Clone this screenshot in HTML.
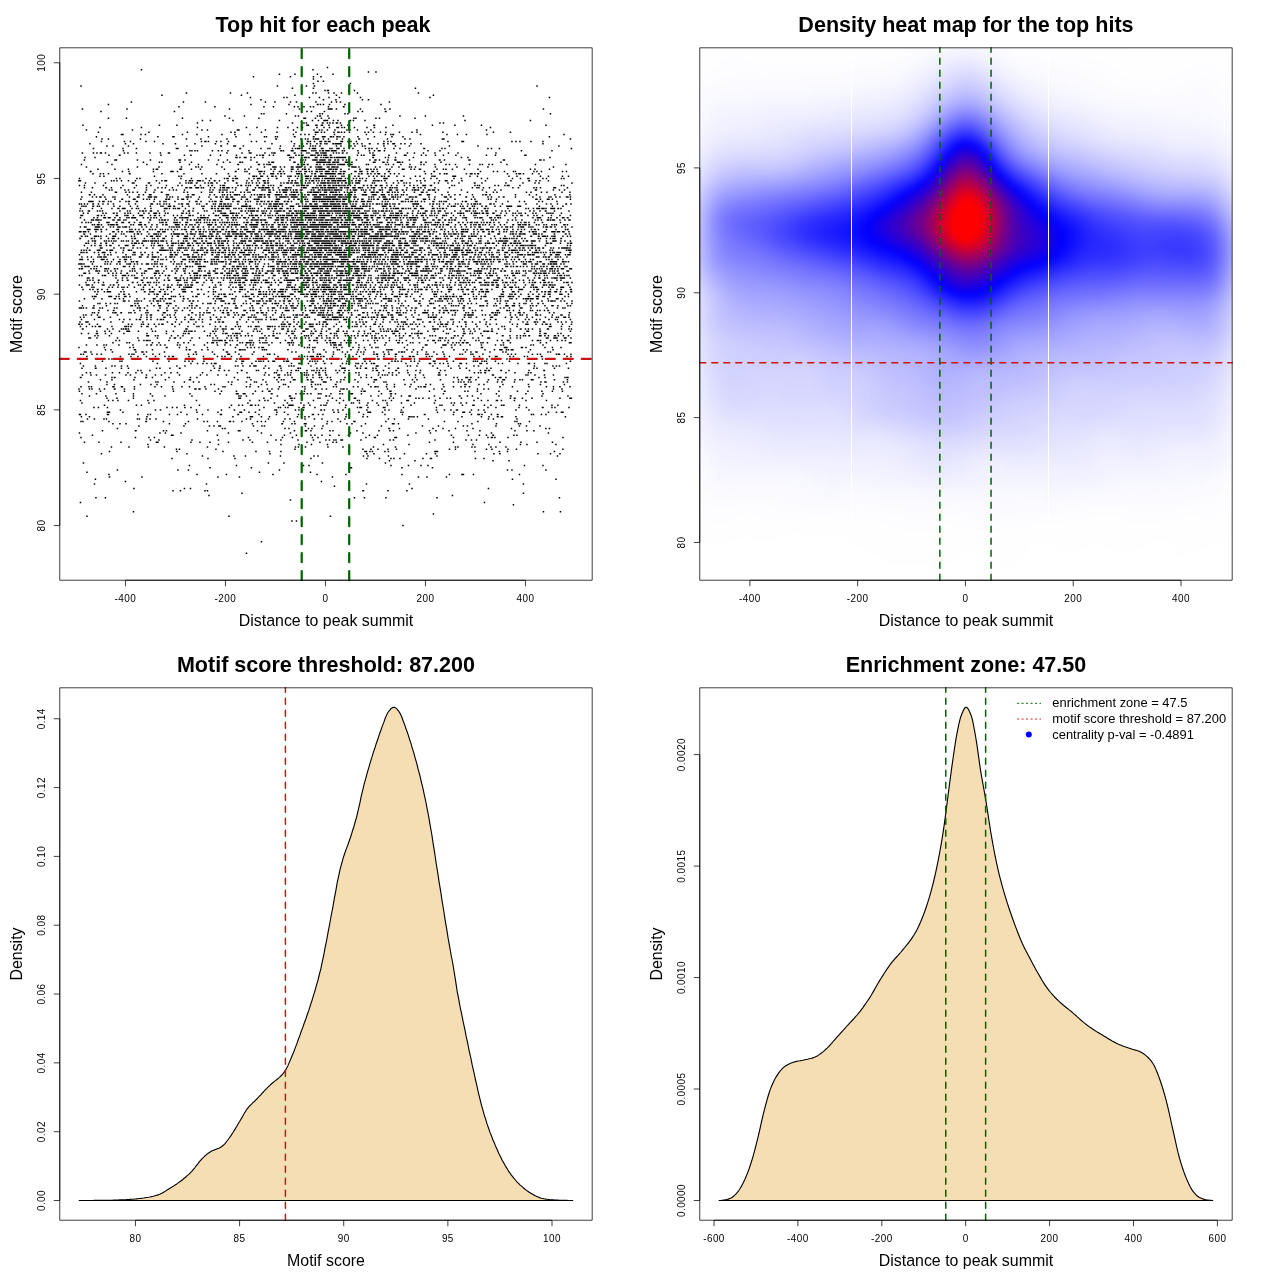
<!DOCTYPE html>
<html lang="en"><head><meta charset="utf-8"><title>Motif enrichment plots</title>
<style>
html,body{margin:0;padding:0;background:#fff}
#page{position:relative;width:1280px;height:1280px;overflow:hidden;background:#fff;font-family:"Liberation Sans", sans-serif}
#heat{position:absolute;left:699.76px;top:47.81px;width:532.43px;height:532.43px;overflow:hidden}
#heat div{position:absolute;left:-8px;top:-8px;width:548.43px;filter:blur(2px)}
#heat i{display:block;height:4px}
svg{position:absolute;left:0;top:0}
svg text{font-family:"Liberation Sans", sans-serif;white-space:pre}
</style></head><body>
<div id="page">
<div id="heat"><div><i style="background:linear-gradient(90deg,#ffffff,#ffffff,#fefeff,#fefeff,#fefeff,#fefeff,#fefeff,#fefeff,#fefeff,#fefeff,#fefeff,#fefeff,#fefeff,#fefeff,#fefeff,#fefeff,#ffffff,#ffffff,#ffffff,#ffffff,#ffffff,#fefeff,#fefeff,#fefeff,#fefeff,#fefeff,#fefeff,#fdfdff,#fdfdff,#fcfcff,#fbfbff,#fafaff,#f9f9ff,#f8f8ff,#f7f7ff,#f6f6ff,#f6f6ff,#f7f7ff,#f9f9ff,#fafaff,#fcfcff,#fdfdff,#fdfdff,#fdfdff,#fefeff,#fefeff,#fefeff,#fefeff,#fefeff,#fefeff,#fefeff,#fefeff,#fefeff,#fefeff,#ffffff,#ffffff,#ffffff,#ffffff,#ffffff,#ffffff,#ffffff,#ffffff,#ffffff,#ffffff,#ffffff,#ffffff,#ffffff,#fefeff,#fefeff,#ffffff,#ffffff,#ffffff)"></i><i style="background:linear-gradient(90deg,#ffffff,#ffffff,#fefeff,#fefeff,#fefeff,#fefeff,#fefeff,#fefeff,#fefeff,#fefeff,#fefeff,#fefeff,#fefeff,#fefeff,#fefeff,#fefeff,#ffffff,#ffffff,#ffffff,#ffffff,#ffffff,#fefeff,#fefeff,#fefeff,#fefeff,#fefeff,#fefeff,#fdfdff,#fdfdff,#fcfcff,#fbfbff,#fafaff,#f9f9ff,#f8f8ff,#f7f7ff,#f6f6ff,#f6f6ff,#f7f7ff,#f9f9ff,#fafaff,#fcfcff,#fdfdff,#fdfdff,#fdfdff,#fefeff,#fefeff,#fefeff,#fefeff,#fefeff,#fefeff,#fefeff,#fefeff,#fefeff,#fefeff,#ffffff,#ffffff,#ffffff,#ffffff,#ffffff,#ffffff,#ffffff,#ffffff,#ffffff,#ffffff,#ffffff,#ffffff,#ffffff,#fefeff,#fefeff,#ffffff,#ffffff,#ffffff)"></i><i style="background:linear-gradient(90deg,#fefeff,#fefeff,#fefeff,#fefeff,#fefeff,#fefeff,#fefeff,#fefeff,#fefeff,#fefeff,#fefeff,#fefeff,#fefeff,#fefeff,#fefeff,#fefeff,#fefeff,#ffffff,#ffffff,#ffffff,#fefeff,#fefeff,#fefeff,#fefeff,#fefeff,#fefeff,#fefeff,#fdfdff,#fcfcff,#fcfcff,#fbfbff,#fafaff,#f9f9ff,#f7f7ff,#f6f6ff,#f5f5ff,#f5f5ff,#f6f6ff,#f8f8ff,#f9f9ff,#fbfbff,#fcfcff,#fdfdff,#fdfdff,#fdfdff,#fdfdff,#fefeff,#fefeff,#fefeff,#fefeff,#fefeff,#fefeff,#fefeff,#fefeff,#fefeff,#fefeff,#ffffff,#ffffff,#ffffff,#ffffff,#ffffff,#ffffff,#ffffff,#ffffff,#ffffff,#fefeff,#fefeff,#fefeff,#fefeff,#fefeff,#ffffff,#ffffff)"></i><i style="background:linear-gradient(90deg,#fefeff,#fefeff,#fefeff,#fefeff,#fefeff,#fefeff,#fefeff,#fefeff,#fefeff,#fefeff,#fefeff,#fefeff,#fefeff,#fefeff,#fefeff,#fefeff,#fefeff,#fefeff,#fefeff,#fefeff,#fefeff,#fefeff,#fefeff,#fefeff,#fefeff,#fdfdff,#fdfdff,#fdfdff,#fcfcff,#fbfbff,#f9f9ff,#f8f8ff,#f7f7ff,#f5f5ff,#f3f3ff,#f2f2ff,#f2f2ff,#f3f3ff,#f5f5ff,#f8f8ff,#fafaff,#fbfbff,#fcfcff,#fdfdff,#fdfdff,#fdfdff,#fdfdff,#fdfdff,#fefeff,#fefeff,#fefeff,#fefeff,#fefeff,#fefeff,#fefeff,#fefeff,#fefeff,#ffffff,#ffffff,#ffffff,#ffffff,#ffffff,#fefeff,#fefeff,#fefeff,#fefeff,#fefeff,#fefeff,#fefeff,#fefeff,#ffffff,#ffffff)"></i><i style="background:linear-gradient(90deg,#fefeff,#fefeff,#fefeff,#fefeff,#fefeff,#fdfdff,#fdfdff,#fefeff,#fefeff,#fefeff,#fefeff,#fefeff,#fefeff,#fefeff,#fefeff,#fefeff,#fefeff,#fefeff,#fefeff,#fefeff,#fefeff,#fefeff,#fdfdff,#fdfdff,#fdfdff,#fdfdff,#fdfdff,#fcfcff,#fbfbff,#fafaff,#f8f8ff,#f7f7ff,#f4f4ff,#f2f2ff,#efefff,#eeeeff,#eeeeff,#efefff,#f2f2ff,#f5f5ff,#f8f8ff,#fafaff,#fbfbff,#fcfcff,#fcfcff,#fdfdff,#fdfdff,#fdfdff,#fdfdff,#fdfdff,#fdfdff,#fdfdff,#fefeff,#fefeff,#fefeff,#fefeff,#fefeff,#fefeff,#fefeff,#fefeff,#fefeff,#fefeff,#fefeff,#fefeff,#fefeff,#fefeff,#fefeff,#fefeff,#fefeff,#fefeff,#fefeff,#fefeff)"></i><i style="background:linear-gradient(90deg,#fefeff,#fefeff,#fefeff,#fefeff,#fdfdff,#fdfdff,#fdfdff,#fdfdff,#fefeff,#fefeff,#fefeff,#fefeff,#fefeff,#fefeff,#fefeff,#fefeff,#fefeff,#fefeff,#fefeff,#fefeff,#fdfdff,#fdfdff,#fdfdff,#fdfdff,#fdfdff,#fcfcff,#fcfcff,#fbfbff,#fafaff,#f9f9ff,#f7f7ff,#f5f5ff,#f2f2ff,#efefff,#ececff,#eaeaff,#eaeaff,#ececff,#efefff,#f3f3ff,#f6f6ff,#f9f9ff,#fafaff,#fbfbff,#fcfcff,#fcfcff,#fcfcff,#fcfcff,#fdfdff,#fdfdff,#fdfdff,#fdfdff,#fdfdff,#fdfdff,#fefeff,#fefeff,#fefeff,#fefeff,#fefeff,#fefeff,#fefeff,#fefeff,#fefeff,#fefeff,#fefeff,#fefeff,#fefeff,#fefeff,#fefeff,#fefeff,#fefeff,#fefeff)"></i><i style="background:linear-gradient(90deg,#fefeff,#fefeff,#fefeff,#fefeff,#fdfdff,#fdfdff,#fdfdff,#fdfdff,#fdfdff,#fdfdff,#fdfdff,#fdfdff,#fdfdff,#fdfdff,#fdfdff,#fdfdff,#fdfdff,#fdfdff,#fdfdff,#fdfdff,#fdfdff,#fdfdff,#fcfcff,#fcfcff,#fcfcff,#fcfcff,#fbfbff,#fafaff,#f9f9ff,#f7f7ff,#f5f5ff,#f3f3ff,#efefff,#ebebff,#e8e8ff,#e5e5ff,#e5e5ff,#e7e7ff,#ececff,#f0f0ff,#f4f4ff,#f7f7ff,#f9f9ff,#fafaff,#fbfbff,#fbfbff,#fcfcff,#fcfcff,#fcfcff,#fcfcff,#fcfcff,#fdfdff,#fdfdff,#fdfdff,#fdfdff,#fefeff,#fefeff,#fefeff,#fefeff,#fefeff,#fefeff,#fefeff,#fefeff,#fefeff,#fefeff,#fefeff,#fdfdff,#fdfdff,#fefeff,#fefeff,#fefeff,#fefeff)"></i><i style="background:linear-gradient(90deg,#fefeff,#fefeff,#fefeff,#fdfdff,#fdfdff,#fdfdff,#fdfdff,#fdfdff,#fdfdff,#fdfdff,#fdfdff,#fdfdff,#fdfdff,#fdfdff,#fdfdff,#fdfdff,#fdfdff,#fdfdff,#fdfdff,#fdfdff,#fcfcff,#fcfcff,#fbfbff,#fbfbff,#fbfbff,#fbfbff,#fafaff,#f9f9ff,#f8f8ff,#f6f6ff,#f3f3ff,#f0f0ff,#ececff,#e8e8ff,#e3e3ff,#e0e0ff,#e0e0ff,#e3e3ff,#e8e8ff,#ededff,#f1f1ff,#f5f5ff,#f7f7ff,#f9f9ff,#fafaff,#fafaff,#fbfbff,#fbfbff,#fbfbff,#fcfcff,#fcfcff,#fcfcff,#fcfcff,#fdfdff,#fdfdff,#fdfdff,#fefeff,#fefeff,#fefeff,#fefeff,#fefeff,#fefeff,#fefeff,#fefeff,#fdfdff,#fdfdff,#fdfdff,#fdfdff,#fdfdff,#fefeff,#fefeff,#fefeff)"></i><i style="background:linear-gradient(90deg,#fefeff,#fefeff,#fdfdff,#fdfdff,#fdfdff,#fdfdff,#fcfcff,#fcfcff,#fcfcff,#fdfdff,#fdfdff,#fcfcff,#fcfcff,#fcfcff,#fcfcff,#fcfcff,#fcfcff,#fcfcff,#fcfcff,#fcfcff,#fbfbff,#fbfbff,#fbfbff,#fafaff,#fafaff,#fafaff,#f9f9ff,#f8f8ff,#f6f6ff,#f4f4ff,#f1f1ff,#ededff,#e9e9ff,#e4e4ff,#dfdfff,#dcdcff,#dbdbff,#dedeff,#e3e3ff,#e9e9ff,#efefff,#f3f3ff,#f5f5ff,#f7f7ff,#f8f8ff,#f9f9ff,#fafaff,#fafaff,#fbfbff,#fbfbff,#fbfbff,#fcfcff,#fcfcff,#fcfcff,#fdfdff,#fdfdff,#fefeff,#fefeff,#fefeff,#fefeff,#fefeff,#fefeff,#fefeff,#fdfdff,#fdfdff,#fdfdff,#fdfdff,#fdfdff,#fdfdff,#fdfdff,#fefeff,#fefeff)"></i><i style="background:linear-gradient(90deg,#fefeff,#fefeff,#fdfdff,#fdfdff,#fcfcff,#fcfcff,#fcfcff,#fcfcff,#fcfcff,#fcfcff,#fcfcff,#fcfcff,#fcfcff,#fcfcff,#fbfbff,#fbfbff,#fbfbff,#fbfbff,#fbfbff,#fbfbff,#fbfbff,#fafaff,#fafaff,#f9f9ff,#f9f9ff,#f9f9ff,#f8f8ff,#f7f7ff,#f5f5ff,#f2f2ff,#eeeeff,#eaeaff,#e5e5ff,#dfdfff,#dadaff,#d6d6ff,#d6d6ff,#d9d9ff,#dfdfff,#e5e5ff,#ebebff,#f0f0ff,#f3f3ff,#f5f5ff,#f7f7ff,#f8f8ff,#f9f9ff,#fafaff,#fafaff,#fafaff,#fbfbff,#fbfbff,#fcfcff,#fcfcff,#fdfdff,#fdfdff,#fdfdff,#fefeff,#fefeff,#fefeff,#fefeff,#fefeff,#fdfdff,#fdfdff,#fdfdff,#fdfdff,#fcfcff,#fcfcff,#fdfdff,#fdfdff,#fefeff,#fefeff)"></i><i style="background:linear-gradient(90deg,#fdfdff,#fdfdff,#fdfdff,#fcfcff,#fcfcff,#fbfbff,#fbfbff,#fbfbff,#fbfbff,#fbfbff,#fbfbff,#fbfbff,#fbfbff,#fbfbff,#fbfbff,#fafaff,#fafaff,#fafaff,#fafaff,#fafaff,#fafaff,#f9f9ff,#f9f9ff,#f8f8ff,#f8f8ff,#f7f7ff,#f7f7ff,#f5f5ff,#f3f3ff,#efefff,#ebebff,#e7e7ff,#e1e1ff,#dbdbff,#d5d5ff,#d1d1ff,#d0d0ff,#d4d4ff,#dadaff,#e1e1ff,#e7e7ff,#ededff,#f0f0ff,#f3f3ff,#f5f5ff,#f6f6ff,#f8f8ff,#f9f9ff,#f9f9ff,#fafaff,#fafaff,#fbfbff,#fbfbff,#fcfcff,#fcfcff,#fdfdff,#fdfdff,#fdfdff,#fdfdff,#fdfdff,#fdfdff,#fdfdff,#fdfdff,#fdfdff,#fcfcff,#fcfcff,#fcfcff,#fcfcff,#fcfcff,#fdfdff,#fefeff,#fefeff)"></i><i style="background:linear-gradient(90deg,#fdfdff,#fdfdff,#fcfcff,#fbfbff,#fbfbff,#fbfbff,#fafaff,#fafaff,#fafaff,#fafaff,#fafaff,#fafaff,#fafaff,#fafaff,#fafaff,#f9f9ff,#f9f9ff,#f9f9ff,#f9f9ff,#f9f9ff,#f9f9ff,#f8f8ff,#f7f7ff,#f7f7ff,#f6f6ff,#f6f6ff,#f5f5ff,#f3f3ff,#f0f0ff,#ededff,#e8e8ff,#e3e3ff,#ddddff,#d6d6ff,#cfcfff,#cbcbff,#cbcbff,#ceceff,#d5d5ff,#dcdcff,#e3e3ff,#e9e9ff,#ededff,#f1f1ff,#f3f3ff,#f5f5ff,#f7f7ff,#f8f8ff,#f8f8ff,#f9f9ff,#f9f9ff,#fafaff,#fbfbff,#fbfbff,#fcfcff,#fcfcff,#fdfdff,#fdfdff,#fdfdff,#fdfdff,#fdfdff,#fdfdff,#fdfdff,#fcfcff,#fcfcff,#fcfcff,#fcfcff,#fcfcff,#fcfcff,#fdfdff,#fefeff,#fefeff)"></i><i style="background:linear-gradient(90deg,#fcfcff,#fcfcff,#fbfbff,#fbfbff,#fafaff,#fafaff,#fafaff,#f9f9ff,#f9f9ff,#f9f9ff,#f9f9ff,#f9f9ff,#f9f9ff,#f9f9ff,#f9f9ff,#f9f9ff,#f8f8ff,#f8f8ff,#f8f8ff,#f8f8ff,#f7f7ff,#f7f7ff,#f6f6ff,#f5f5ff,#f5f5ff,#f4f4ff,#f3f3ff,#f1f1ff,#eeeeff,#eaeaff,#e5e5ff,#dfdfff,#d8d8ff,#d0d0ff,#c9c9ff,#c5c5ff,#c4c4ff,#c8c8ff,#cfcfff,#d7d7ff,#dfdfff,#e5e5ff,#eaeaff,#eeeeff,#f1f1ff,#f3f3ff,#f5f5ff,#f7f7ff,#f7f7ff,#f8f8ff,#f9f9ff,#f9f9ff,#fafaff,#fbfbff,#fbfbff,#fcfcff,#fcfcff,#fcfcff,#fcfcff,#fcfcff,#fdfdff,#fcfcff,#fcfcff,#fcfcff,#fcfcff,#fbfbff,#fbfbff,#fbfbff,#fcfcff,#fdfdff,#fdfdff,#fdfdff)"></i><i style="background:linear-gradient(90deg,#fcfcff,#fcfcff,#fbfbff,#fafaff,#f9f9ff,#f9f9ff,#f9f9ff,#f9f9ff,#f8f8ff,#f8f8ff,#f8f8ff,#f8f8ff,#f8f8ff,#f8f8ff,#f8f8ff,#f8f8ff,#f7f7ff,#f7f7ff,#f7f7ff,#f6f6ff,#f6f6ff,#f5f5ff,#f4f4ff,#f3f3ff,#f3f3ff,#f2f2ff,#f1f1ff,#efefff,#ebebff,#e7e7ff,#e1e1ff,#dadaff,#d3d3ff,#cacaff,#c3c3ff,#bebeff,#bdbdff,#c1c1ff,#c9c9ff,#d2d2ff,#dadaff,#e1e1ff,#e7e7ff,#ebebff,#eeeeff,#f1f1ff,#f3f3ff,#f5f5ff,#f6f6ff,#f7f7ff,#f7f7ff,#f8f8ff,#f9f9ff,#fafaff,#fafaff,#fbfbff,#fbfbff,#fbfbff,#fcfcff,#fcfcff,#fcfcff,#fcfcff,#fcfcff,#fbfbff,#fbfbff,#fbfbff,#fbfbff,#fbfbff,#fcfcff,#fcfcff,#fdfdff,#fdfdff)"></i><i style="background:linear-gradient(90deg,#fbfbff,#fbfbff,#fafaff,#f9f9ff,#f8f8ff,#f8f8ff,#f8f8ff,#f8f8ff,#f7f7ff,#f7f7ff,#f7f7ff,#f7f7ff,#f7f7ff,#f7f7ff,#f7f7ff,#f7f7ff,#f6f6ff,#f6f6ff,#f5f5ff,#f5f5ff,#f4f4ff,#f3f3ff,#f2f2ff,#f1f1ff,#f1f1ff,#f0f0ff,#eeeeff,#ececff,#e9e9ff,#e4e4ff,#ddddff,#d6d6ff,#cdcdff,#c4c4ff,#bbbbff,#b5b5ff,#b5b5ff,#b9b9ff,#c2c2ff,#ccccff,#d5d5ff,#ddddff,#e3e3ff,#e8e8ff,#ececff,#efefff,#f1f1ff,#f3f3ff,#f5f5ff,#f5f5ff,#f6f6ff,#f7f7ff,#f8f8ff,#f9f9ff,#f9f9ff,#fafaff,#fafaff,#fafaff,#fbfbff,#fbfbff,#fbfbff,#fbfbff,#fbfbff,#fbfbff,#fafaff,#fafaff,#fafaff,#fbfbff,#fbfbff,#fcfcff,#fdfdff,#fdfdff)"></i><i style="background:linear-gradient(90deg,#fbfbff,#fbfbff,#f9f9ff,#f8f8ff,#f7f7ff,#f7f7ff,#f7f7ff,#f7f7ff,#f6f6ff,#f6f6ff,#f6f6ff,#f6f6ff,#f6f6ff,#f6f6ff,#f6f6ff,#f5f5ff,#f5f5ff,#f4f4ff,#f3f3ff,#f3f3ff,#f2f2ff,#f1f1ff,#f0f0ff,#efefff,#eeeeff,#ededff,#ececff,#e9e9ff,#e6e6ff,#e0e0ff,#d9d9ff,#d1d1ff,#c7c7ff,#bcbcff,#b2b2ff,#acacff,#ababff,#b0b0ff,#babaff,#c5c5ff,#cfcfff,#d8d8ff,#dfdfff,#e5e5ff,#e9e9ff,#ececff,#efefff,#f1f1ff,#f3f3ff,#f4f4ff,#f4f4ff,#f5f5ff,#f7f7ff,#f8f8ff,#f8f8ff,#f9f9ff,#f9f9ff,#f9f9ff,#fafaff,#fafaff,#fafaff,#fafaff,#fafaff,#fafaff,#fafaff,#fafaff,#fafaff,#fafaff,#fbfbff,#fcfcff,#fdfdff,#fdfdff)"></i><i style="background:linear-gradient(90deg,#fafaff,#fafaff,#f9f9ff,#f7f7ff,#f6f6ff,#f6f6ff,#f6f6ff,#f5f5ff,#f5f5ff,#f5f5ff,#f4f4ff,#f4f4ff,#f4f4ff,#f4f4ff,#f4f4ff,#f4f4ff,#f3f3ff,#f2f2ff,#f1f1ff,#f0f0ff,#f0f0ff,#efefff,#eeeeff,#ededff,#ececff,#ebebff,#e9e9ff,#e7e7ff,#e2e2ff,#dcdcff,#d5d5ff,#cbcbff,#c0c0ff,#b3b3ff,#a8a8ff,#a1a1ff,#a0a0ff,#a6a6ff,#b1b1ff,#bdbdff,#c9c9ff,#d3d3ff,#dbdbff,#e1e1ff,#e5e5ff,#e9e9ff,#ececff,#efefff,#f0f0ff,#f1f1ff,#f2f2ff,#f4f4ff,#f5f5ff,#f6f6ff,#f7f7ff,#f8f8ff,#f8f8ff,#f8f8ff,#f8f8ff,#f9f9ff,#f9f9ff,#f9f9ff,#f9f9ff,#f9f9ff,#f9f9ff,#f9f9ff,#f9f9ff,#fafaff,#fafaff,#fbfbff,#fdfdff,#fdfdff)"></i><i style="background:linear-gradient(90deg,#fafaff,#fafaff,#f8f8ff,#f6f6ff,#f5f5ff,#f5f5ff,#f5f5ff,#f4f4ff,#f4f4ff,#f3f3ff,#f3f3ff,#f2f2ff,#f2f2ff,#f2f2ff,#f2f2ff,#f2f2ff,#f1f1ff,#f0f0ff,#efefff,#eeeeff,#ededff,#ececff,#ebebff,#eaeaff,#e9e9ff,#e8e8ff,#e6e6ff,#e4e4ff,#dfdfff,#d8d8ff,#d0d0ff,#c5c5ff,#b8b8ff,#a9a9ff,#9d9dff,#9595ff,#9494ff,#9b9bff,#a7a7ff,#b4b4ff,#c2c2ff,#cdcdff,#d5d5ff,#dcdcff,#e2e2ff,#e6e6ff,#e9e9ff,#ececff,#eeeeff,#efefff,#f0f0ff,#f2f2ff,#f3f3ff,#f4f4ff,#f6f6ff,#f6f6ff,#f7f7ff,#f7f7ff,#f7f7ff,#f7f7ff,#f8f8ff,#f8f8ff,#f8f8ff,#f9f9ff,#f9f9ff,#f9f9ff,#f9f9ff,#f9f9ff,#fafaff,#fbfbff,#fcfcff,#fcfcff)"></i><i style="background:linear-gradient(90deg,#fafaff,#fafaff,#f7f7ff,#f6f6ff,#f4f4ff,#f4f4ff,#f3f3ff,#f3f3ff,#f2f2ff,#f2f2ff,#f1f1ff,#f1f1ff,#f0f0ff,#f0f0ff,#f0f0ff,#efefff,#efefff,#eeeeff,#ededff,#ebebff,#eaeaff,#e9e9ff,#e8e8ff,#e8e8ff,#e7e7ff,#e5e5ff,#e3e3ff,#e0e0ff,#dbdbff,#d4d4ff,#cacaff,#bebeff,#afafff,#9e9eff,#9090ff,#8787ff,#8787ff,#8e8eff,#9c9cff,#ababff,#babaff,#c6c6ff,#d0d0ff,#d7d7ff,#ddddff,#e2e2ff,#e6e6ff,#e9e9ff,#ebebff,#ececff,#eeeeff,#efefff,#f1f1ff,#f3f3ff,#f4f4ff,#f5f5ff,#f5f5ff,#f5f5ff,#f6f6ff,#f6f6ff,#f6f6ff,#f7f7ff,#f7f7ff,#f8f8ff,#f8f8ff,#f8f8ff,#f8f8ff,#f9f9ff,#fafaff,#fbfbff,#fcfcff,#fcfcff)"></i><i style="background:linear-gradient(90deg,#f9f9ff,#f9f9ff,#f7f7ff,#f5f5ff,#f3f3ff,#f2f2ff,#f2f2ff,#f2f2ff,#f1f1ff,#f0f0ff,#efefff,#efefff,#eeeeff,#eeeeff,#ededff,#ededff,#ececff,#ebebff,#eaeaff,#e9e9ff,#e8e8ff,#e7e7ff,#e6e6ff,#e5e5ff,#e4e4ff,#e2e2ff,#e0e0ff,#dcdcff,#d6d6ff,#ceceff,#c3c3ff,#b5b5ff,#a4a4ff,#9292ff,#8282ff,#7878ff,#7878ff,#8181ff,#9090ff,#a1a1ff,#b2b2ff,#bfbfff,#cacaff,#d2d2ff,#d9d9ff,#dedeff,#e2e2ff,#e6e6ff,#e8e8ff,#eaeaff,#ebebff,#ededff,#efefff,#f1f1ff,#f2f2ff,#f4f4ff,#f4f4ff,#f4f4ff,#f4f4ff,#f5f5ff,#f5f5ff,#f6f6ff,#f6f6ff,#f7f7ff,#f7f7ff,#f7f7ff,#f8f8ff,#f8f8ff,#f9f9ff,#fafaff,#fbfbff,#fbfbff)"></i><i style="background:linear-gradient(90deg,#f9f9ff,#f9f9ff,#f6f6ff,#f4f4ff,#f2f2ff,#f1f1ff,#f1f1ff,#f0f0ff,#efefff,#efefff,#eeeeff,#ededff,#ececff,#ebebff,#ebebff,#eaeaff,#e9e9ff,#e8e8ff,#e7e7ff,#e6e6ff,#e5e5ff,#e3e3ff,#e2e2ff,#e1e1ff,#e0e0ff,#dfdfff,#dcdcff,#d7d7ff,#d1d1ff,#c8c8ff,#bbbbff,#acacff,#9999ff,#8585ff,#7373ff,#6868ff,#6868ff,#7272ff,#8484ff,#9797ff,#a9a9ff,#b8b8ff,#c4c4ff,#cdcdff,#d4d4ff,#dadaff,#dfdfff,#e2e2ff,#e5e5ff,#e7e7ff,#e8e8ff,#eaeaff,#ededff,#efefff,#f1f1ff,#f2f2ff,#f3f3ff,#f3f3ff,#f3f3ff,#f3f3ff,#f4f4ff,#f5f5ff,#f5f5ff,#f6f6ff,#f6f6ff,#f7f7ff,#f7f7ff,#f7f7ff,#f8f8ff,#f9f9ff,#fbfbff,#fbfbff)"></i><i style="background:linear-gradient(90deg,#f8f8ff,#f8f8ff,#f5f5ff,#f2f2ff,#f1f1ff,#f0f0ff,#efefff,#efefff,#eeeeff,#ededff,#ececff,#ebebff,#eaeaff,#e9e9ff,#e8e8ff,#e7e7ff,#e5e5ff,#e5e5ff,#e4e4ff,#e2e2ff,#e1e1ff,#e0e0ff,#dfdfff,#ddddff,#dcdcff,#dadaff,#d7d7ff,#d2d2ff,#cacaff,#c0c0ff,#b2b2ff,#a1a1ff,#8c8cff,#7676ff,#6363ff,#5757ff,#5757ff,#6363ff,#7676ff,#8c8cff,#a0a0ff,#b0b0ff,#bdbdff,#c7c7ff,#cfcfff,#d6d6ff,#dbdbff,#dedeff,#e1e1ff,#e3e3ff,#e6e6ff,#e8e8ff,#eaeaff,#ededff,#efefff,#f0f0ff,#f1f1ff,#f1f1ff,#f1f1ff,#f2f2ff,#f3f3ff,#f4f4ff,#f4f4ff,#f5f5ff,#f5f5ff,#f5f5ff,#f6f6ff,#f6f6ff,#f7f7ff,#f9f9ff,#fafaff,#fafaff)"></i><i style="background:linear-gradient(90deg,#f7f7ff,#f7f7ff,#f4f4ff,#f1f1ff,#efefff,#eeeeff,#ededff,#ededff,#ececff,#ebebff,#eaeaff,#e9e9ff,#e8e8ff,#e6e6ff,#e5e5ff,#e3e3ff,#e2e2ff,#e1e1ff,#e0e0ff,#dfdfff,#dedeff,#dcdcff,#dadaff,#d9d9ff,#d7d7ff,#d4d4ff,#d1d1ff,#cbcbff,#c3c3ff,#b8b8ff,#a9a9ff,#9595ff,#7f7fff,#6767ff,#5252ff,#4545ff,#4646ff,#5353ff,#6969ff,#8181ff,#9797ff,#a9a9ff,#b6b6ff,#c1c1ff,#cacaff,#d1d1ff,#d6d6ff,#dadaff,#dedeff,#e0e0ff,#e3e3ff,#e5e5ff,#e8e8ff,#eaeaff,#ececff,#eeeeff,#efefff,#efefff,#f0f0ff,#f0f0ff,#f1f1ff,#f2f2ff,#f3f3ff,#f4f4ff,#f4f4ff,#f4f4ff,#f4f4ff,#f5f5ff,#f6f6ff,#f8f8ff,#fafaff,#fafaff)"></i><i style="background:linear-gradient(90deg,#f6f6ff,#f6f6ff,#f2f2ff,#efefff,#ededff,#ececff,#ececff,#ebebff,#eaeaff,#e9e9ff,#e8e8ff,#e7e7ff,#e6e6ff,#e4e4ff,#e2e2ff,#e0e0ff,#dfdfff,#dedeff,#dcdcff,#dbdbff,#dadaff,#d7d7ff,#d5d5ff,#d3d3ff,#d1d1ff,#ceceff,#cacaff,#c3c3ff,#bbbbff,#aeaeff,#9e9eff,#8989ff,#7171ff,#5757ff,#4040ff,#3333ff,#3333ff,#4242ff,#5a5aff,#7575ff,#8d8dff,#a0a0ff,#b0b0ff,#bcbcff,#c5c5ff,#ccccff,#d2d2ff,#d6d6ff,#dadaff,#ddddff,#dfdfff,#e2e2ff,#e5e5ff,#e8e8ff,#eaeaff,#ececff,#ededff,#ededff,#ededff,#eeeeff,#efefff,#f0f0ff,#f2f2ff,#f2f2ff,#f3f3ff,#f3f3ff,#f3f3ff,#f4f4ff,#f5f5ff,#f7f7ff,#f9f9ff,#f9f9ff)"></i><i style="background:linear-gradient(90deg,#f4f4ff,#f4f4ff,#f0f0ff,#ededff,#ebebff,#eaeaff,#e9e9ff,#e9e9ff,#e8e8ff,#e7e7ff,#e6e6ff,#e5e5ff,#e3e3ff,#e1e1ff,#dfdfff,#ddddff,#dbdbff,#dadaff,#d8d8ff,#d7d7ff,#d5d5ff,#d2d2ff,#cfcfff,#ccccff,#cacaff,#c6c6ff,#c2c2ff,#bbbbff,#b2b2ff,#a5a5ff,#9393ff,#7d7dff,#6363ff,#4747ff,#2e2eff,#1f1fff,#2020ff,#3030ff,#4a4aff,#6868ff,#8383ff,#9898ff,#a9a9ff,#b5b5ff,#bfbfff,#c7c7ff,#cdcdff,#d2d2ff,#d5d5ff,#d9d9ff,#dcdcff,#dfdfff,#e2e2ff,#e4e4ff,#e7e7ff,#e9e9ff,#eaeaff,#eaeaff,#ebebff,#ececff,#ededff,#eeeeff,#f0f0ff,#f1f1ff,#f1f1ff,#f1f1ff,#f1f1ff,#f2f2ff,#f4f4ff,#f6f6ff,#f8f8ff,#f8f8ff)"></i><i style="background:linear-gradient(90deg,#f3f3ff,#f3f3ff,#efefff,#ebebff,#e9e9ff,#e7e7ff,#e7e7ff,#e6e6ff,#e6e6ff,#e5e5ff,#e4e4ff,#e3e3ff,#e1e1ff,#dedeff,#dcdcff,#d9d9ff,#d7d7ff,#d5d5ff,#d4d4ff,#d2d2ff,#cfcfff,#ccccff,#c9c9ff,#c5c5ff,#c2c2ff,#bebeff,#b9b9ff,#b2b2ff,#a8a8ff,#9a9aff,#8888ff,#7171ff,#5555ff,#3737ff,#1c1cff,#0c0cff,#0d0dff,#1d1dff,#3a3aff,#5a5aff,#7878ff,#8f8fff,#a1a1ff,#afafff,#b9b9ff,#c1c1ff,#c8c8ff,#cdcdff,#d1d1ff,#d4d4ff,#d7d7ff,#dadaff,#dedeff,#e1e1ff,#e3e3ff,#e5e5ff,#e6e6ff,#e7e7ff,#e8e8ff,#e9e9ff,#eaeaff,#ececff,#ededff,#eeeeff,#efefff,#efefff,#efefff,#f0f0ff,#f2f2ff,#f4f4ff,#f7f7ff,#f7f7ff)"></i><i style="background:linear-gradient(90deg,#f2f2ff,#f2f2ff,#ededff,#e9e9ff,#e6e6ff,#e5e5ff,#e4e4ff,#e3e3ff,#e2e2ff,#e2e2ff,#e1e1ff,#e0e0ff,#dedeff,#dbdbff,#d8d8ff,#d6d6ff,#d3d3ff,#d0d0ff,#ceceff,#ccccff,#c9c9ff,#c6c6ff,#c2c2ff,#bebeff,#babaff,#b5b5ff,#b0b0ff,#a8a8ff,#9e9eff,#9090ff,#7d7dff,#6565ff,#4747ff,#2727ff,#0b0bff,#0700f8,#0700f8,#0b0bff,#2929ff,#4c4cff,#6c6cff,#8686ff,#9999ff,#a8a8ff,#b3b3ff,#bbbbff,#c2c2ff,#c7c7ff,#cbcbff,#cfcfff,#d2d2ff,#d5d5ff,#d9d9ff,#dcdcff,#dfdfff,#e1e1ff,#e2e2ff,#e3e3ff,#e4e4ff,#e5e5ff,#e7e7ff,#e9e9ff,#ebebff,#ececff,#ececff,#ececff,#ededff,#eeeeff,#f0f0ff,#f3f3ff,#f6f6ff,#f6f6ff)"></i><i style="background:linear-gradient(90deg,#f0f0ff,#f0f0ff,#ebebff,#e6e6ff,#e3e3ff,#e1e1ff,#e0e0ff,#dfdfff,#dfdfff,#dedeff,#ddddff,#dcdcff,#dadaff,#d8d8ff,#d5d5ff,#d1d1ff,#ceceff,#cbcbff,#c8c8ff,#c6c6ff,#c3c3ff,#bfbfff,#babaff,#b6b6ff,#b1b1ff,#acacff,#a6a6ff,#9e9eff,#9393ff,#8585ff,#7171ff,#5858ff,#3a3aff,#1818ff,#0600f9,#1a00e5,#1a00e5,#0800f7,#1818ff,#3d3dff,#6060ff,#7b7bff,#9090ff,#a0a0ff,#ababff,#b4b4ff,#bbbbff,#c1c1ff,#c5c5ff,#c9c9ff,#ccccff,#d0d0ff,#d3d3ff,#d7d7ff,#dadaff,#dcdcff,#dedeff,#dfdfff,#e0e0ff,#e2e2ff,#e4e4ff,#e6e6ff,#e7e7ff,#e9e9ff,#e9e9ff,#e9e9ff,#eaeaff,#ebebff,#ededff,#f1f1ff,#f5f5ff,#f5f5ff)"></i><i style="background:linear-gradient(90deg,#efefff,#efefff,#e9e9ff,#e3e3ff,#e0e0ff,#ddddff,#dcdcff,#dbdbff,#dadaff,#dadaff,#d9d9ff,#d8d8ff,#d6d6ff,#d4d4ff,#d0d0ff,#ccccff,#c8c8ff,#c5c5ff,#c2c2ff,#bfbfff,#bbbbff,#b7b7ff,#b3b3ff,#aeaeff,#a8a8ff,#a3a3ff,#9c9cff,#9393ff,#8888ff,#7a7aff,#6666ff,#4c4cff,#2c2cff,#0909ff,#1700e8,#2c00d3,#2d00d2,#1a00e5,#0707ff,#2f2fff,#5353ff,#7070ff,#8686ff,#9696ff,#a2a2ff,#acacff,#b4b4ff,#babaff,#bfbfff,#c3c3ff,#c6c6ff,#cacaff,#ceceff,#d1d1ff,#d5d5ff,#d7d7ff,#d9d9ff,#dbdbff,#dcdcff,#dedeff,#e0e0ff,#e2e2ff,#e4e4ff,#e5e5ff,#e6e6ff,#e6e6ff,#e6e6ff,#e8e8ff,#ebebff,#efefff,#f3f3ff,#f3f3ff)"></i><i style="background:linear-gradient(90deg,#ededff,#ededff,#e6e6ff,#e0e0ff,#dcdcff,#d9d9ff,#d7d7ff,#d6d6ff,#d5d5ff,#d5d5ff,#d4d4ff,#d4d4ff,#d2d2ff,#cfcfff,#cbcbff,#c7c7ff,#c2c2ff,#bebeff,#bbbbff,#b7b7ff,#b4b4ff,#afafff,#aaaaff,#a5a5ff,#9f9fff,#9999ff,#9292ff,#8989ff,#7d7dff,#6e6eff,#5a5aff,#3f3fff,#1e1eff,#0700f8,#2800d7,#3e00c1,#4000bf,#2c00d3,#0900f6,#1f1fff,#4545ff,#6363ff,#7a7aff,#8b8bff,#9898ff,#a3a3ff,#acacff,#b3b3ff,#b8b8ff,#bcbcff,#bfbfff,#c3c3ff,#c7c7ff,#cbcbff,#cfcfff,#d2d2ff,#d4d4ff,#d6d6ff,#d8d8ff,#dadaff,#dcdcff,#dedeff,#e0e0ff,#e1e1ff,#e2e2ff,#e2e2ff,#e3e3ff,#e4e4ff,#e8e8ff,#ececff,#f1f1ff,#f1f1ff)"></i><i style="background:linear-gradient(90deg,#ebebff,#ebebff,#e3e3ff,#dcdcff,#d7d7ff,#d4d4ff,#d1d1ff,#d0d0ff,#cfcfff,#cfcfff,#cfcfff,#ceceff,#ccccff,#c9c9ff,#c5c5ff,#c0c0ff,#bcbcff,#b7b7ff,#b3b3ff,#afafff,#ababff,#a7a7ff,#a1a1ff,#9b9bff,#9595ff,#8f8fff,#8787ff,#7e7eff,#7272ff,#6262ff,#4d4dff,#3232ff,#0f0fff,#1700e8,#3a00c5,#5000af,#5200ad,#3e00c1,#1a00e5,#1010ff,#3636ff,#5555ff,#6d6dff,#7f7fff,#8d8dff,#9999ff,#a2a2ff,#aaaaff,#b0b0ff,#b5b5ff,#b9b9ff,#bdbdff,#c1c1ff,#c5c5ff,#c9c9ff,#ccccff,#cfcfff,#d1d1ff,#d4d4ff,#d6d6ff,#d8d8ff,#dadaff,#dcdcff,#ddddff,#dedeff,#dedeff,#dfdfff,#e1e1ff,#e4e4ff,#e9e9ff,#efefff,#efefff)"></i><i style="background:linear-gradient(90deg,#e9e9ff,#e9e9ff,#e0e0ff,#d8d8ff,#d2d2ff,#ceceff,#cbcbff,#cacaff,#c9c9ff,#c9c9ff,#c9c9ff,#c8c8ff,#c6c6ff,#c2c2ff,#bebeff,#b9b9ff,#b4b4ff,#b0b0ff,#ababff,#a7a7ff,#a3a3ff,#9e9eff,#9898ff,#9292ff,#8b8bff,#8484ff,#7c7cff,#7272ff,#6666ff,#5656ff,#4040ff,#2424ff,#0000ff,#2700d8,#4b00b4,#62009d,#64009b,#5000af,#2b00d4,#0000ff,#2727ff,#4646ff,#5e5eff,#7171ff,#8080ff,#8d8dff,#9898ff,#a1a1ff,#a8a8ff,#adadff,#b1b1ff,#b6b6ff,#babaff,#bfbfff,#c3c3ff,#c6c6ff,#c9c9ff,#ccccff,#cfcfff,#d1d1ff,#d4d4ff,#d6d6ff,#d7d7ff,#d9d9ff,#dadaff,#dadaff,#dbdbff,#ddddff,#e1e1ff,#e6e6ff,#ededff,#ededff)"></i><i style="background:linear-gradient(90deg,#e6e6ff,#e6e6ff,#dcdcff,#d3d3ff,#cdcdff,#c8c8ff,#c5c5ff,#c3c3ff,#c3c3ff,#c2c2ff,#c2c2ff,#c1c1ff,#bebeff,#bbbbff,#b6b6ff,#b1b1ff,#acacff,#a8a8ff,#a3a3ff,#9e9eff,#9a9aff,#9494ff,#8e8eff,#8787ff,#8080ff,#7878ff,#6f6fff,#6565ff,#5959ff,#4848ff,#3232ff,#1515ff,#1000ef,#3800c7,#5d00a2,#74008b,#760089,#61009e,#3c00c3,#1100ee,#1717ff,#3636ff,#4f4fff,#6262ff,#7272ff,#8080ff,#8d8dff,#9797ff,#9f9fff,#a5a5ff,#aaaaff,#aeaeff,#b3b3ff,#b8b8ff,#bcbcff,#c0c0ff,#c3c3ff,#c6c6ff,#c9c9ff,#ccccff,#cfcfff,#d1d1ff,#d2d2ff,#d4d4ff,#d5d5ff,#d6d6ff,#d7d7ff,#d9d9ff,#ddddff,#e3e3ff,#ebebff,#ebebff)"></i><i style="background:linear-gradient(90deg,#e3e3ff,#e3e3ff,#d8d8ff,#ceceff,#c7c7ff,#c2c2ff,#bfbfff,#bcbcff,#bbbbff,#bbbbff,#babaff,#b8b8ff,#b6b6ff,#b2b2ff,#aeaeff,#a9a9ff,#a4a4ff,#9f9fff,#9a9aff,#9595ff,#9090ff,#8a8aff,#8383ff,#7c7cff,#7474ff,#6c6cff,#6262ff,#5757ff,#4a4aff,#3a3aff,#2424ff,#0606ff,#2000df,#4900b6,#6f0090,#870078,#890076,#74008b,#4e00b1,#2300dc,#0606ff,#2626ff,#3f3fff,#5252ff,#6363ff,#7373ff,#8080ff,#8c8cff,#9595ff,#9c9cff,#a2a2ff,#a7a7ff,#acacff,#b0b0ff,#b5b5ff,#b8b8ff,#bcbcff,#c0c0ff,#c3c3ff,#c7c7ff,#c9c9ff,#cbcbff,#cdcdff,#cfcfff,#d0d0ff,#d1d1ff,#d2d2ff,#d4d4ff,#d8d8ff,#dfdfff,#e8e8ff,#e8e8ff)"></i><i style="background:linear-gradient(90deg,#dfdfff,#dfdfff,#d3d3ff,#c8c8ff,#c0c0ff,#bbbbff,#b7b7ff,#b5b5ff,#b3b3ff,#b2b2ff,#b1b1ff,#afafff,#acacff,#a9a9ff,#a4a4ff,#a0a0ff,#9b9bff,#9696ff,#9191ff,#8c8cff,#8686ff,#7f7fff,#7878ff,#7070ff,#6868ff,#5f5fff,#5454ff,#4949ff,#3b3bff,#2a2aff,#1414ff,#0a00f5,#3000cf,#5a00a5,#81007e,#9a0065,#9c0063,#870078,#61009e,#3500ca,#0c00f3,#1515ff,#2e2eff,#4343ff,#5555ff,#6565ff,#7474ff,#8080ff,#8b8bff,#9393ff,#9999ff,#9e9eff,#a3a3ff,#a8a8ff,#adadff,#b1b1ff,#b5b5ff,#b9b9ff,#bdbdff,#c0c0ff,#c3c3ff,#c5c5ff,#c7c7ff,#c9c9ff,#cacaff,#cbcbff,#ccccff,#ceceff,#d3d3ff,#dbdbff,#e5e5ff,#e5e5ff)"></i><i style="background:linear-gradient(90deg,#dcdcff,#dcdcff,#ceceff,#c2c2ff,#b9b9ff,#b4b4ff,#b0b0ff,#adadff,#ababff,#a9a9ff,#a7a7ff,#a5a5ff,#a2a2ff,#9e9eff,#9a9aff,#9696ff,#9191ff,#8d8dff,#8888ff,#8282ff,#7b7bff,#7474ff,#6c6cff,#6464ff,#5b5bff,#5151ff,#4646ff,#3939ff,#2b2bff,#1a1aff,#0404ff,#1a00e5,#4100be,#6c0093,#93006c,#ad0052,#b0004f,#9b0064,#74008b,#4800b7,#1e00e1,#0404ff,#1e1eff,#3333ff,#4646ff,#5757ff,#6666ff,#7474ff,#7f7fff,#8888ff,#9090ff,#9595ff,#9b9bff,#9f9fff,#a4a4ff,#a8a8ff,#acacff,#b1b1ff,#b6b6ff,#babaff,#bdbdff,#bfbfff,#c1c1ff,#c2c2ff,#c3c3ff,#c4c4ff,#c5c5ff,#c8c8ff,#ceceff,#d7d7ff,#e2e2ff,#e2e2ff)"></i><i style="background:linear-gradient(90deg,#d8d8ff,#d8d8ff,#c9c9ff,#bbbbff,#b2b2ff,#acacff,#a8a8ff,#a5a5ff,#a2a2ff,#9f9fff,#9d9dff,#9b9bff,#9898ff,#9494ff,#9090ff,#8b8bff,#8787ff,#8282ff,#7d7dff,#7777ff,#7070ff,#6868ff,#6060ff,#5858ff,#4e4eff,#4444ff,#3838ff,#2a2aff,#1b1bff,#0909ff,#0d00f2,#2b00d4,#5100ae,#7d0082,#a5005a,#c0003f,#c3003c,#ae0051,#880077,#5b00a4,#3100ce,#0e00f1,#0e0eff,#2424ff,#3737ff,#4949ff,#5959ff,#6868ff,#7474ff,#7d7dff,#8585ff,#8c8cff,#9191ff,#9696ff,#9a9aff,#9f9fff,#a3a3ff,#a8a8ff,#aeaeff,#b2b2ff,#b5b5ff,#b8b8ff,#b9b9ff,#bbbbff,#bbbbff,#bcbcff,#bebeff,#c1c1ff,#c8c8ff,#d2d2ff,#dedeff,#dedeff)"></i><i style="background:linear-gradient(90deg,#d4d4ff,#d4d4ff,#c3c3ff,#b4b4ff,#aaaaff,#a4a4ff,#9f9fff,#9c9cff,#9898ff,#9595ff,#9393ff,#9090ff,#8d8dff,#8989ff,#8585ff,#8181ff,#7c7cff,#7777ff,#7272ff,#6c6cff,#6565ff,#5d5dff,#5454ff,#4b4bff,#4242ff,#3737ff,#2a2aff,#1b1bff,#0b0bff,#0700f8,#1e00e1,#3c00c3,#62009d,#8d0072,#b60049,#d2002d,#d5002a,#c1003e,#9b0064,#6e0091,#4300bc,#1f00e0,#0200fd,#1515ff,#2929ff,#3b3bff,#4c4cff,#5b5bff,#6767ff,#7272ff,#7a7aff,#8181ff,#8787ff,#8c8cff,#9090ff,#9595ff,#9a9aff,#9f9fff,#a5a5ff,#aaaaff,#adadff,#b0b0ff,#b1b1ff,#b2b2ff,#b3b3ff,#b4b4ff,#b5b5ff,#b9b9ff,#c1c1ff,#ccccff,#dadaff,#dadaff)"></i><i style="background:linear-gradient(90deg,#d0d0ff,#d0d0ff,#bebeff,#aeaeff,#a2a2ff,#9b9bff,#9797ff,#9393ff,#8f8fff,#8c8cff,#8989ff,#8686ff,#8282ff,#7f7fff,#7b7bff,#7676ff,#7171ff,#6c6cff,#6767ff,#6161ff,#5a5aff,#5151ff,#4949ff,#3f3fff,#3636ff,#2a2aff,#1c1cff,#0d0dff,#0400fb,#1700e8,#2e00d1,#4c00b3,#72008d,#9e0061,#c70038,#e2001d,#e60019,#d3002c,#ad0052,#80007f,#5500aa,#2f00d0,#1100ee,#0707ff,#1c1cff,#2e2eff,#3f3fff,#4e4eff,#5b5bff,#6666ff,#6f6fff,#7676ff,#7c7cff,#8282ff,#8686ff,#8b8bff,#9090ff,#9595ff,#9b9bff,#a1a1ff,#a4a4ff,#a7a7ff,#a9a9ff,#a9a9ff,#aaaaff,#aaaaff,#acacff,#b1b1ff,#babaff,#c7c7ff,#d6d6ff,#d6d6ff)"></i><i style="background:linear-gradient(90deg,#cdcdff,#cdcdff,#b9b9ff,#a7a7ff,#9b9bff,#9393ff,#8e8eff,#8a8aff,#8686ff,#8383ff,#7f7fff,#7c7cff,#7878ff,#7474ff,#7070ff,#6b6bff,#6666ff,#6161ff,#5c5cff,#5656ff,#4e4eff,#4646ff,#3d3dff,#3434ff,#2a2aff,#1e1eff,#1010ff,#0000ff,#1200ed,#2600d9,#3e00c1,#5c00a3,#82007d,#ad0052,#d60029,#f1000e,#f5000a,#e2001d,#bd0042,#91006e,#65009a,#3f00c0,#1f00e0,#0600f9,#0f0fff,#2222ff,#3232ff,#4141ff,#4e4eff,#5959ff,#6363ff,#6b6bff,#7171ff,#7777ff,#7b7bff,#8080ff,#8585ff,#8b8bff,#9191ff,#9696ff,#9a9aff,#9d9dff,#9e9eff,#9f9fff,#9f9fff,#a0a0ff,#a2a2ff,#a8a8ff,#b2b2ff,#c1c1ff,#d2d2ff,#d2d2ff)"></i><i style="background:linear-gradient(90deg,#cacaff,#cacaff,#b5b5ff,#a1a1ff,#9393ff,#8b8bff,#8585ff,#8181ff,#7d7dff,#7a7aff,#7676ff,#7373ff,#6f6fff,#6a6aff,#6666ff,#6060ff,#5b5bff,#5656ff,#5050ff,#4a4aff,#4343ff,#3c3cff,#3333ff,#2929ff,#1f1fff,#1212ff,#0404ff,#0d00f2,#2000df,#3500ca,#4d00b2,#6c0093,#91006e,#bb0044,#e3001c,#fe0001,#ff0000,#ef0010,#cb0034,#9f0060,#73008c,#4c00b3,#2b00d4,#1200ed,#0303ff,#1616ff,#2626ff,#3535ff,#4242ff,#4d4dff,#5656ff,#5f5fff,#6666ff,#6c6cff,#7171ff,#7575ff,#7b7bff,#8080ff,#8686ff,#8c8cff,#8f8fff,#9292ff,#9393ff,#9494ff,#9494ff,#9595ff,#9898ff,#9f9fff,#aaaaff,#babaff,#cdcdff,#cdcdff)"></i><i style="background:linear-gradient(90deg,#c7c7ff,#c7c7ff,#b0b0ff,#9b9bff,#8c8cff,#8383ff,#7d7dff,#7979ff,#7575ff,#7272ff,#6e6eff,#6a6aff,#6666ff,#6161ff,#5c5cff,#5656ff,#5050ff,#4b4bff,#4646ff,#4040ff,#3939ff,#3232ff,#2929ff,#1f1fff,#1414ff,#0707ff,#0800f7,#1900e6,#2d00d2,#4200bd,#5b00a4,#7a0085,#9e0061,#c80037,#ef0010,#ff0000,#ff0000,#fa0005,#d60029,#aa0055,#7e0081,#5600a9,#3600c9,#1c00e3,#0700f8,#0b0bff,#1a1aff,#2929ff,#3535ff,#4040ff,#4a4aff,#5353ff,#5a5aff,#6161ff,#6666ff,#6b6bff,#7070ff,#7676ff,#7b7bff,#8080ff,#8484ff,#8686ff,#8787ff,#8888ff,#8989ff,#8a8aff,#8e8eff,#9595ff,#a2a2ff,#b4b4ff,#c8c8ff,#c8c8ff)"></i><i style="background:linear-gradient(90deg,#c5c5ff,#c5c5ff,#adadff,#9696ff,#8686ff,#7c7cff,#7676ff,#7272ff,#6e6eff,#6b6bff,#6767ff,#6262ff,#5d5dff,#5858ff,#5252ff,#4c4cff,#4646ff,#4141ff,#3c3cff,#3636ff,#3030ff,#2828ff,#2020ff,#1515ff,#0909ff,#0400fb,#1400eb,#2500da,#3800c7,#4e00b1,#670098,#860079,#aa0055,#d3002c,#f90006,#ff0000,#ff0000,#ff0000,#de0021,#b2004d,#860079,#5e00a1,#3d00c2,#2400db,#1000ef,#0101ff,#1010ff,#1e1eff,#2a2aff,#3535ff,#3e3eff,#4747ff,#4f4fff,#5656ff,#5c5cff,#6161ff,#6666ff,#6b6bff,#7070ff,#7474ff,#7777ff,#7979ff,#7b7bff,#7c7cff,#7d7dff,#7f7fff,#8383ff,#8c8cff,#9a9aff,#adadff,#c4c4ff,#c4c4ff)"></i><i style="background:linear-gradient(90deg,#c3c3ff,#c3c3ff,#aaaaff,#9292ff,#8181ff,#7676ff,#7070ff,#6b6bff,#6868ff,#6464ff,#6060ff,#5b5bff,#5656ff,#4f4fff,#4949ff,#4343ff,#3d3dff,#3737ff,#3232ff,#2d2dff,#2727ff,#2020ff,#1717ff,#0c0cff,#0000ff,#0e00f1,#1e00e1,#2f00d0,#4200bd,#5800a7,#71008e,#8f0070,#b4004b,#dc0023,#ff0000,#ff0000,#ff0000,#ff0000,#e4001b,#b70048,#8b0074,#63009c,#4300bc,#2b00d4,#1800e7,#0800f7,#0606ff,#1414ff,#1f1fff,#2a2aff,#3333ff,#3d3dff,#4545ff,#4d4dff,#5353ff,#5757ff,#5c5cff,#6161ff,#6565ff,#6969ff,#6b6bff,#6d6dff,#6e6eff,#6f6fff,#7171ff,#7474ff,#7979ff,#8282ff,#9191ff,#a7a7ff,#bfbfff,#bfbfff)"></i><i style="background:linear-gradient(90deg,#c1c1ff,#c1c1ff,#a7a7ff,#8f8fff,#7d7dff,#7272ff,#6b6bff,#6767ff,#6363ff,#5f5fff,#5b5bff,#5555ff,#4f4fff,#4848ff,#4141ff,#3b3bff,#3434ff,#2f2fff,#2a2aff,#2626ff,#2020ff,#1919ff,#1010ff,#0505ff,#0800f7,#1700e8,#2700d8,#3800c7,#4a00b5,#5f00a0,#780087,#960069,#ba0045,#e3001c,#ff0000,#ff0000,#ff0000,#ff0000,#e70018,#ba0045,#8d0072,#660099,#4700b8,#3000cf,#1e00e1,#1000ef,#0200fd,#0b0bff,#1616ff,#2020ff,#2a2aff,#3434ff,#3d3dff,#4444ff,#4a4aff,#4f4fff,#5353ff,#5858ff,#5c5cff,#5f5fff,#6060ff,#6161ff,#6262ff,#6363ff,#6666ff,#6969ff,#6f6fff,#7979ff,#8989ff,#a0a0ff,#babaff,#babaff)"></i><i style="background:linear-gradient(90deg,#c0c0ff,#c0c0ff,#a6a6ff,#8d8dff,#7b7bff,#7070ff,#6969ff,#6464ff,#5f5fff,#5b5bff,#5656ff,#5050ff,#4a4aff,#4242ff,#3b3bff,#3434ff,#2e2eff,#2828ff,#2424ff,#2020ff,#1a1aff,#1313ff,#0a0aff,#0100fe,#0e00f1,#1d00e2,#2d00d2,#3d00c2,#4f00b0,#64009b,#7c0083,#9a0065,#be0041,#e60019,#ff0000,#ff0000,#ff0000,#ff0000,#e70018,#ba0045,#8d0072,#670098,#4900b6,#3400cb,#2400db,#1600e9,#0900f6,#0303ff,#0e0eff,#1818ff,#2222ff,#2c2cff,#3535ff,#3d3dff,#4343ff,#4747ff,#4c4cff,#5050ff,#5454ff,#5656ff,#5757ff,#5757ff,#5757ff,#5959ff,#5b5bff,#5f5fff,#6565ff,#7070ff,#8181ff,#9a9aff,#b5b5ff,#b5b5ff)"></i><i style="background:linear-gradient(90deg,#bfbfff,#bfbfff,#a5a5ff,#8d8dff,#7b7bff,#7070ff,#6868ff,#6363ff,#5e5eff,#5959ff,#5353ff,#4d4dff,#4646ff,#3e3eff,#3737ff,#2f2fff,#2929ff,#2424ff,#2020ff,#1b1bff,#1616ff,#1010ff,#0707ff,#0400fb,#1100ee,#2000df,#2f00d0,#3f00c0,#5000af,#64009b,#7c0083,#990066,#be0041,#e60019,#ff0000,#ff0000,#ff0000,#ff0000,#e5001a,#b80047,#8c0073,#670098,#4b00b4,#3700c8,#2800d7,#1c00e3,#0f00f0,#0400fb,#0707ff,#1212ff,#1c1cff,#2727ff,#3030ff,#3737ff,#3c3cff,#4141ff,#4545ff,#4a4aff,#4d4dff,#4f4fff,#4f4fff,#4f4fff,#4f4fff,#5050ff,#5252ff,#5656ff,#5d5dff,#6868ff,#7a7aff,#9494ff,#b1b1ff,#b1b1ff)"></i><i style="background:linear-gradient(90deg,#bfbfff,#bfbfff,#a5a5ff,#8d8dff,#7c7cff,#7171ff,#6969ff,#6464ff,#5e5eff,#5959ff,#5252ff,#4c4cff,#4444ff,#3c3cff,#3535ff,#2d2dff,#2727ff,#2222ff,#1d1dff,#1919ff,#1414ff,#0e0eff,#0606ff,#0500fa,#1200ed,#1f00e0,#2e00d1,#3d00c2,#4e00b1,#61009e,#780087,#960069,#ba0045,#e1001e,#ff0000,#ff0000,#ff0000,#ff0000,#e1001e,#b4004b,#8a0075,#670098,#4c00b3,#3900c6,#2c00d3,#2000df,#1400eb,#0900f6,#0303ff,#0d0dff,#1818ff,#2323ff,#2c2cff,#3232ff,#3737ff,#3b3bff,#4040ff,#4545ff,#4848ff,#4a4aff,#4949ff,#4848ff,#4747ff,#4848ff,#4a4aff,#4f4fff,#5555ff,#6161ff,#7474ff,#8e8eff,#adadff,#adadff)"></i><i style="background:linear-gradient(90deg,#bfbfff,#bfbfff,#a6a6ff,#8e8eff,#7d7dff,#7373ff,#6c6cff,#6666ff,#6060ff,#5a5aff,#5353ff,#4c4cff,#4545ff,#3d3dff,#3535ff,#2e2eff,#2727ff,#2222ff,#1e1eff,#1919ff,#1414ff,#0e0eff,#0606ff,#0400fb,#0f00f0,#1c00e3,#2900d6,#3700c8,#4700b8,#5a00a5,#71008e,#8e0071,#b2004d,#d90026,#fc0003,#ff0000,#ff0000,#fe0001,#d90026,#af0050,#860079,#65009a,#4c00b3,#3b00c4,#2e00d1,#2300dc,#1800e7,#0c00f3,#0000ff,#0b0bff,#1616ff,#2121ff,#2929ff,#2e2eff,#3333ff,#3737ff,#3c3cff,#4141ff,#4444ff,#4545ff,#4444ff,#4343ff,#4242ff,#4242ff,#4444ff,#4848ff,#4f4fff,#5b5bff,#6e6eff,#8a8aff,#a9a9ff,#a9a9ff)"></i><i style="background:linear-gradient(90deg,#bfbfff,#bfbfff,#a6a6ff,#9090ff,#8080ff,#7676ff,#6f6fff,#6a6aff,#6464ff,#5e5eff,#5757ff,#4f4fff,#4848ff,#4040ff,#3838ff,#3131ff,#2b2bff,#2525ff,#2020ff,#1c1cff,#1717ff,#1111ff,#0909ff,#0000ff,#0b00f4,#1600e9,#2200dd,#2f00d0,#3d00c2,#5000af,#660099,#83007c,#a70058,#cd0032,#ef0010,#ff0000,#ff0000,#f1000e,#cf0030,#a80057,#81007e,#62009d,#4b00b4,#3b00c4,#2f00d0,#2500da,#1900e6,#0d00f2,#0100fe,#0b0bff,#1616ff,#2020ff,#2727ff,#2c2cff,#2f2fff,#3434ff,#3939ff,#3e3eff,#4141ff,#4242ff,#4141ff,#3f3fff,#3e3eff,#3d3dff,#3f3fff,#4444ff,#4b4bff,#5757ff,#6a6aff,#8686ff,#a6a6ff,#a6a6ff)"></i><i style="background:linear-gradient(90deg,#bfbfff,#bfbfff,#a7a7ff,#9191ff,#8282ff,#7979ff,#7373ff,#6e6eff,#6868ff,#6262ff,#5b5bff,#5454ff,#4c4cff,#4545ff,#3e3eff,#3737ff,#3030ff,#2b2bff,#2626ff,#2121ff,#1b1bff,#1515ff,#0e0eff,#0505ff,#0400fb,#0e00f1,#1800e7,#2400db,#3200cd,#4300bc,#5a00a5,#760089,#990066,#be0041,#de0021,#f3000c,#f4000b,#e2001d,#c3003c,#9e0061,#7b0084,#5e00a1,#4900b6,#3a00c5,#2f00d0,#2500da,#1900e6,#0d00f2,#0100fe,#0c0cff,#1717ff,#2020ff,#2727ff,#2a2aff,#2d2dff,#3131ff,#3636ff,#3b3bff,#3f3fff,#4040ff,#3f3fff,#3d3dff,#3b3bff,#3a3aff,#3c3cff,#4040ff,#4747ff,#5353ff,#6767ff,#8383ff,#a4a4ff,#a4a4ff)"></i><i style="background:linear-gradient(90deg,#bfbfff,#bfbfff,#a8a8ff,#9393ff,#8484ff,#7c7cff,#7676ff,#7272ff,#6d6dff,#6868ff,#6161ff,#5a5aff,#5353ff,#4c4cff,#4545ff,#3e3eff,#3838ff,#3232ff,#2d2dff,#2828ff,#2222ff,#1b1bff,#1414ff,#0c0cff,#0303ff,#0500fa,#0e00f1,#1800e7,#2500da,#3600c9,#4c00b3,#680097,#880077,#ac0053,#cb0034,#de0021,#e0001f,#d1002e,#b4004b,#93006c,#73008c,#5800a7,#4400bb,#3600c9,#2c00d3,#2200dd,#1700e8,#0b00f4,#0202ff,#0e0eff,#1919ff,#2222ff,#2727ff,#2a2aff,#2c2cff,#3030ff,#3535ff,#3a3aff,#3d3dff,#3f3fff,#3e3eff,#3c3cff,#3a3aff,#3939ff,#3a3aff,#3e3eff,#4545ff,#5151ff,#6565ff,#8181ff,#a3a3ff,#a3a3ff)"></i><i style="background:linear-gradient(90deg,#c0c0ff,#c0c0ff,#a9a9ff,#9595ff,#8787ff,#7f7fff,#7a7aff,#7676ff,#7272ff,#6d6dff,#6767ff,#6161ff,#5a5aff,#5353ff,#4d4dff,#4747ff,#4141ff,#3b3bff,#3636ff,#3030ff,#2a2aff,#2424ff,#1c1cff,#1414ff,#0c0cff,#0404ff,#0400fb,#0d00f2,#1900e6,#2900d6,#3e00c1,#5800a7,#770088,#980067,#b5004a,#c80037,#cb0034,#bd0042,#a4005b,#860079,#680097,#5000af,#3d00c2,#3000cf,#2700d8,#1e00e1,#1300ec,#0700f8,#0606ff,#1212ff,#1c1cff,#2424ff,#2929ff,#2b2bff,#2d2dff,#3030ff,#3535ff,#3a3aff,#3d3dff,#3f3fff,#3e3eff,#3d3dff,#3b3bff,#3939ff,#3a3aff,#3d3dff,#4444ff,#5050ff,#6464ff,#8181ff,#a3a3ff,#a3a3ff)"></i><i style="background:linear-gradient(90deg,#c0c0ff,#c0c0ff,#aaaaff,#9696ff,#8a8aff,#8282ff,#7e7eff,#7b7bff,#7777ff,#7373ff,#6d6dff,#6767ff,#6161ff,#5b5bff,#5656ff,#5050ff,#4b4bff,#4545ff,#3f3fff,#3939ff,#3434ff,#2d2dff,#2525ff,#1d1dff,#1515ff,#0e0eff,#0707ff,#0100fe,#0c00f3,#1b00e4,#2f00d0,#4800b7,#65009a,#83007c,#9f0060,#b1004e,#b4004b,#a80057,#92006d,#770088,#5c00a3,#4500ba,#3400cb,#2800d7,#1f00e0,#1700e8,#0d00f2,#0100fe,#0b0bff,#1616ff,#2020ff,#2828ff,#2c2cff,#2d2dff,#2f2fff,#3232ff,#3636ff,#3b3bff,#3e3eff,#4040ff,#4040ff,#3f3fff,#3d3dff,#3c3cff,#3c3cff,#3e3eff,#4545ff,#5050ff,#6464ff,#8181ff,#a3a3ff,#a3a3ff)"></i><i style="background:linear-gradient(90deg,#c1c1ff,#c1c1ff,#ababff,#9999ff,#8d8dff,#8686ff,#8282ff,#7f7fff,#7c7cff,#7878ff,#7373ff,#6e6eff,#6868ff,#6363ff,#5e5eff,#5959ff,#5454ff,#4e4eff,#4949ff,#4343ff,#3e3eff,#3737ff,#2f2fff,#2727ff,#1f1fff,#1818ff,#1212ff,#0a0aff,#0000ff,#0f00f0,#2200dd,#3900c6,#5300ac,#70008f,#890076,#9a0065,#9d0062,#93006c,#80007f,#680097,#4f00b0,#3a00c5,#2900d6,#1e00e1,#1600e9,#0e00f1,#0400fb,#0707ff,#1212ff,#1d1dff,#2626ff,#2c2cff,#3030ff,#3131ff,#3232ff,#3535ff,#3939ff,#3d3dff,#4141ff,#4343ff,#4444ff,#4343ff,#4141ff,#4040ff,#3f3fff,#4141ff,#4646ff,#5252ff,#6565ff,#8383ff,#a5a5ff,#a5a5ff)"></i><i style="background:linear-gradient(90deg,#c3c3ff,#c3c3ff,#aeaeff,#9c9cff,#9191ff,#8a8aff,#8686ff,#8383ff,#8080ff,#7d7dff,#7979ff,#7474ff,#6f6fff,#6a6aff,#6666ff,#6262ff,#5d5dff,#5858ff,#5252ff,#4d4dff,#4848ff,#4141ff,#3a3aff,#3232ff,#2a2aff,#2323ff,#1c1cff,#1515ff,#0b0bff,#0200fd,#1400eb,#2a00d5,#4300bc,#5d00a2,#74008b,#84007b,#870078,#7f0080,#6e0091,#5800a7,#4100be,#2d00d2,#1d00e2,#1200ed,#0a00f5,#0300fc,#0606ff,#1010ff,#1a1aff,#2424ff,#2c2cff,#3232ff,#3535ff,#3636ff,#3737ff,#3a3aff,#3d3dff,#4242ff,#4545ff,#4848ff,#4949ff,#4949ff,#4747ff,#4545ff,#4444ff,#4545ff,#4a4aff,#5454ff,#6868ff,#8585ff,#a6a6ff,#a6a6ff)"></i><i style="background:linear-gradient(90deg,#c5c5ff,#c5c5ff,#b1b1ff,#a0a0ff,#9595ff,#8e8eff,#8a8aff,#8787ff,#8585ff,#8282ff,#7e7eff,#7a7aff,#7676ff,#7171ff,#6e6eff,#6a6aff,#6565ff,#6060ff,#5c5cff,#5757ff,#5252ff,#4c4cff,#4444ff,#3c3cff,#3434ff,#2e2eff,#2727ff,#2020ff,#1717ff,#0909ff,#0800f7,#1d00e2,#3400cb,#4c00b3,#62009d,#70008f,#73008c,#6c0093,#5c00a3,#4800b7,#3400cb,#2100de,#1100ee,#0600f9,#0202ff,#0909ff,#1111ff,#1b1bff,#2424ff,#2c2cff,#3434ff,#3939ff,#3c3cff,#3d3dff,#3e3eff,#4040ff,#4343ff,#4747ff,#4b4bff,#4e4eff,#4f4fff,#4f4fff,#4d4dff,#4c4cff,#4b4bff,#4b4bff,#4e4eff,#5858ff,#6b6bff,#8787ff,#a9a9ff,#a9a9ff)"></i><i style="background:linear-gradient(90deg,#c8c8ff,#c8c8ff,#b4b4ff,#a4a4ff,#9a9aff,#9393ff,#8f8fff,#8c8cff,#8989ff,#8686ff,#8383ff,#8080ff,#7c7cff,#7878ff,#7575ff,#7171ff,#6d6dff,#6969ff,#6464ff,#6060ff,#5b5bff,#5555ff,#4f4fff,#4747ff,#3f3fff,#3838ff,#3232ff,#2b2bff,#2222ff,#1515ff,#0404ff,#1000ef,#2700d8,#3d00c2,#5100ae,#5e00a1,#60009f,#5900a6,#4c00b3,#3a00c5,#2600d9,#1400eb,#0500fa,#0606ff,#0e0eff,#1515ff,#1e1eff,#2626ff,#2f2fff,#3636ff,#3c3cff,#4141ff,#4343ff,#4444ff,#4545ff,#4747ff,#4a4aff,#4e4eff,#5252ff,#5555ff,#5656ff,#5555ff,#5454ff,#5353ff,#5252ff,#5252ff,#5454ff,#5d5dff,#6f6fff,#8b8bff,#ababff,#ababff)"></i><i style="background:linear-gradient(90deg,#cbcbff,#cbcbff,#b9b9ff,#a9a9ff,#9f9fff,#9898ff,#9393ff,#9090ff,#8d8dff,#8b8bff,#8989ff,#8686ff,#8282ff,#7f7fff,#7b7bff,#7878ff,#7474ff,#7171ff,#6d6dff,#6969ff,#6464ff,#5e5eff,#5858ff,#5151ff,#4a4aff,#4343ff,#3d3dff,#3636ff,#2d2dff,#2121ff,#1010ff,#0400fb,#1a00e5,#3000cf,#4200bd,#4e00b1,#4f00b0,#4900b6,#3c00c3,#2b00d4,#1900e6,#0800f7,#0707ff,#1212ff,#1b1bff,#2222ff,#2a2aff,#3232ff,#3a3aff,#4040ff,#4545ff,#4949ff,#4b4bff,#4c4cff,#4d4dff,#4f4fff,#5252ff,#5656ff,#5959ff,#5b5bff,#5c5cff,#5c5cff,#5b5bff,#5a5aff,#5959ff,#5959ff,#5b5bff,#6363ff,#7474ff,#8f8fff,#aeaeff,#aeaeff)"></i><i style="background:linear-gradient(90deg,#ceceff,#ceceff,#bdbdff,#aeaeff,#a4a4ff,#9d9dff,#9898ff,#9494ff,#9292ff,#9090ff,#8e8eff,#8c8cff,#8888ff,#8585ff,#8181ff,#7e7eff,#7b7bff,#7878ff,#7575ff,#7171ff,#6c6cff,#6767ff,#6161ff,#5b5bff,#5454ff,#4d4dff,#4747ff,#4040ff,#3838ff,#2c2cff,#1b1bff,#0707ff,#0e00f1,#2300dc,#3500ca,#3f00c0,#4000bf,#3900c6,#2d00d2,#1e00e1,#0d00f2,#0404ff,#1313ff,#1e1eff,#2727ff,#2f2fff,#3636ff,#3e3eff,#4444ff,#4a4aff,#4e4eff,#5151ff,#5353ff,#5454ff,#5555ff,#5757ff,#5a5aff,#5e5eff,#6161ff,#6262ff,#6363ff,#6363ff,#6262ff,#6262ff,#6161ff,#6161ff,#6262ff,#6969ff,#7979ff,#9393ff,#b1b1ff,#b1b1ff)"></i><i style="background:linear-gradient(90deg,#d2d2ff,#d2d2ff,#c2c2ff,#b3b3ff,#a9a9ff,#a2a2ff,#9c9cff,#9999ff,#9696ff,#9595ff,#9393ff,#9191ff,#8e8eff,#8b8bff,#8787ff,#8484ff,#8282ff,#7f7fff,#7c7cff,#7878ff,#7373ff,#6e6eff,#6969ff,#6363ff,#5d5dff,#5757ff,#5151ff,#4a4aff,#4242ff,#3636ff,#2626ff,#1313ff,#0200fd,#1700e8,#2700d8,#3000cf,#3000cf,#2a00d5,#1f00e0,#1000ef,#0000ff,#1111ff,#1f1fff,#2b2bff,#3333ff,#3b3bff,#4242ff,#4949ff,#4f4fff,#5454ff,#5757ff,#5959ff,#5b5bff,#5c5cff,#5e5eff,#6060ff,#6363ff,#6666ff,#6868ff,#6a6aff,#6a6aff,#6969ff,#6969ff,#6a6aff,#6969ff,#6969ff,#6a6aff,#7070ff,#7f7fff,#9898ff,#b4b4ff,#b4b4ff)"></i><i style="background:linear-gradient(90deg,#d5d5ff,#d5d5ff,#c6c6ff,#b8b8ff,#aeaeff,#a6a6ff,#a0a0ff,#9d9dff,#9b9bff,#9999ff,#9898ff,#9696ff,#9494ff,#9090ff,#8d8dff,#8a8aff,#8888ff,#8686ff,#8383ff,#7f7fff,#7a7aff,#7575ff,#7070ff,#6b6bff,#6565ff,#5f5fff,#5959ff,#5353ff,#4b4bff,#4040ff,#3131ff,#1e1eff,#0a0aff,#0900f6,#1800e7,#2100de,#2100de,#1b00e4,#1100ee,#0300fc,#0d0dff,#1d1dff,#2b2bff,#3636ff,#3f3fff,#4646ff,#4d4dff,#5353ff,#5959ff,#5d5dff,#6060ff,#6161ff,#6363ff,#6464ff,#6666ff,#6868ff,#6b6bff,#6e6eff,#7070ff,#7171ff,#7171ff,#7070ff,#7171ff,#7171ff,#7171ff,#7171ff,#7272ff,#7878ff,#8686ff,#9d9dff,#b8b8ff,#b8b8ff)"></i><i style="background:linear-gradient(90deg,#d8d8ff,#d8d8ff,#cacaff,#bcbcff,#b2b2ff,#aaaaff,#a4a4ff,#a1a1ff,#9f9fff,#9e9eff,#9d9dff,#9b9bff,#9898ff,#9595ff,#9292ff,#8f8fff,#8d8dff,#8b8bff,#8888ff,#8484ff,#8080ff,#7b7bff,#7676ff,#7272ff,#6c6cff,#6767ff,#6161ff,#5b5bff,#5353ff,#4949ff,#3b3bff,#2a2aff,#1717ff,#0505ff,#0900f6,#1100ee,#1200ed,#0d00f2,#0300fc,#0a0aff,#1919ff,#2929ff,#3737ff,#4242ff,#4a4aff,#5151ff,#5757ff,#5d5dff,#6262ff,#6565ff,#6868ff,#6969ff,#6a6aff,#6c6cff,#6e6eff,#7171ff,#7474ff,#7676ff,#7878ff,#7878ff,#7878ff,#7878ff,#7878ff,#7979ff,#7979ff,#7878ff,#7a7aff,#7f7fff,#8d8dff,#a2a2ff,#bbbbff,#bbbbff)"></i><i style="background:linear-gradient(90deg,#dbdbff,#dbdbff,#cdcdff,#c0c0ff,#b5b5ff,#aeaeff,#a8a8ff,#a4a4ff,#a3a3ff,#a2a2ff,#a1a1ff,#9f9fff,#9d9dff,#9a9aff,#9797ff,#9494ff,#9292ff,#9090ff,#8d8dff,#8989ff,#8585ff,#8080ff,#7c7cff,#7878ff,#7373ff,#6e6eff,#6868ff,#6262ff,#5b5bff,#5252ff,#4545ff,#3636ff,#2525ff,#1515ff,#0707ff,#0100fe,#0300fc,#0202ff,#0b0bff,#1818ff,#2727ff,#3636ff,#4343ff,#4d4dff,#5454ff,#5a5aff,#6060ff,#6565ff,#6a6aff,#6d6dff,#6f6fff,#7171ff,#7272ff,#7474ff,#7777ff,#7979ff,#7c7cff,#7e7eff,#8080ff,#8080ff,#8080ff,#8080ff,#8080ff,#8080ff,#8080ff,#8080ff,#8181ff,#8787ff,#9494ff,#a8a8ff,#bfbfff,#bfbfff)"></i><i style="background:linear-gradient(90deg,#dcdcff,#dcdcff,#cfcfff,#c2c2ff,#b8b8ff,#b1b1ff,#ababff,#a8a8ff,#a6a6ff,#a5a5ff,#a4a4ff,#a3a3ff,#a1a1ff,#9e9eff,#9c9cff,#9999ff,#9696ff,#9494ff,#9191ff,#8d8dff,#8989ff,#8585ff,#8181ff,#7d7dff,#7979ff,#7474ff,#6f6fff,#6969ff,#6262ff,#5a5aff,#4f4fff,#4242ff,#3333ff,#2424ff,#1717ff,#0f0fff,#0c0cff,#1010ff,#1919ff,#2525ff,#3434ff,#4242ff,#4e4eff,#5757ff,#5e5eff,#6363ff,#6868ff,#6d6dff,#7171ff,#7575ff,#7777ff,#7979ff,#7a7aff,#7c7cff,#7f7fff,#8282ff,#8484ff,#8686ff,#8888ff,#8888ff,#8888ff,#8888ff,#8888ff,#8888ff,#8787ff,#8787ff,#8989ff,#8f8fff,#9a9aff,#adadff,#c3c3ff,#c3c3ff)"></i><i style="background:linear-gradient(90deg,#ddddff,#ddddff,#d0d0ff,#c4c4ff,#bbbbff,#b4b4ff,#afafff,#ababff,#aaaaff,#a9a9ff,#a8a8ff,#a6a6ff,#a4a4ff,#a2a2ff,#a0a0ff,#9d9dff,#9a9aff,#9898ff,#9595ff,#9191ff,#8d8dff,#8989ff,#8686ff,#8282ff,#7f7fff,#7a7aff,#7575ff,#7070ff,#6969ff,#6161ff,#5858ff,#4d4dff,#4040ff,#3333ff,#2727ff,#1f1fff,#1c1cff,#1f1fff,#2727ff,#3333ff,#4141ff,#4e4eff,#5959ff,#6161ff,#6767ff,#6b6bff,#7070ff,#7474ff,#7878ff,#7c7cff,#7f7fff,#8181ff,#8383ff,#8585ff,#8787ff,#8989ff,#8c8cff,#8e8eff,#8f8fff,#9090ff,#9090ff,#9090ff,#8f8fff,#8f8fff,#8e8eff,#8e8eff,#9090ff,#9696ff,#a1a1ff,#b2b2ff,#c7c7ff,#c7c7ff)"></i><i style="background:linear-gradient(90deg,#dedeff,#dedeff,#d1d1ff,#c6c6ff,#bdbdff,#b6b6ff,#b2b2ff,#afafff,#adadff,#acacff,#ababff,#a9a9ff,#a8a8ff,#a6a6ff,#a4a4ff,#a1a1ff,#9e9eff,#9b9bff,#9898ff,#9595ff,#9191ff,#8e8eff,#8b8bff,#8888ff,#8484ff,#8080ff,#7b7bff,#7676ff,#7070ff,#6969ff,#6161ff,#5858ff,#4d4dff,#4141ff,#3636ff,#2e2eff,#2b2bff,#2e2eff,#3535ff,#4141ff,#4d4dff,#5959ff,#6363ff,#6a6aff,#6e6eff,#7272ff,#7777ff,#7b7bff,#7f7fff,#8383ff,#8686ff,#8888ff,#8b8bff,#8d8dff,#8e8eff,#9090ff,#9292ff,#9494ff,#9696ff,#9797ff,#9797ff,#9797ff,#9696ff,#9595ff,#9595ff,#9595ff,#9797ff,#9c9cff,#a6a6ff,#b7b7ff,#cacaff,#cacaff)"></i><i style="background:linear-gradient(90deg,#dedeff,#dedeff,#d2d2ff,#c7c7ff,#bebeff,#b9b9ff,#b4b4ff,#b2b2ff,#b0b0ff,#afafff,#aeaeff,#adadff,#ababff,#a9a9ff,#a7a7ff,#a4a4ff,#a1a1ff,#9e9eff,#9c9cff,#9898ff,#9595ff,#9292ff,#9090ff,#8d8dff,#8a8aff,#8686ff,#8181ff,#7c7cff,#7676ff,#7070ff,#6969ff,#6262ff,#5959ff,#4f4fff,#4545ff,#3d3dff,#3a3aff,#3c3cff,#4343ff,#4e4eff,#5959ff,#6464ff,#6c6cff,#7171ff,#7575ff,#7979ff,#7d7dff,#8181ff,#8686ff,#8a8aff,#8d8dff,#9090ff,#9292ff,#9494ff,#9595ff,#9797ff,#9898ff,#9a9aff,#9c9cff,#9d9dff,#9e9eff,#9e9eff,#9d9dff,#9b9bff,#9a9aff,#9a9aff,#9c9cff,#a1a1ff,#ababff,#babaff,#ccccff,#ccccff)"></i><i style="background:linear-gradient(90deg,#dedeff,#dedeff,#d2d2ff,#c8c8ff,#c0c0ff,#bbbbff,#b7b7ff,#b5b5ff,#b3b3ff,#b2b2ff,#b1b1ff,#b0b0ff,#afafff,#adadff,#ababff,#a8a8ff,#a5a5ff,#a2a2ff,#9f9fff,#9c9cff,#9999ff,#9797ff,#9494ff,#9292ff,#8f8fff,#8c8cff,#8787ff,#8282ff,#7c7cff,#7777ff,#7171ff,#6b6bff,#6464ff,#5b5bff,#5252ff,#4b4bff,#4848ff,#4a4aff,#5151ff,#5b5bff,#6565ff,#6e6eff,#7474ff,#7979ff,#7c7cff,#7f7fff,#8383ff,#8787ff,#8c8cff,#9090ff,#9494ff,#9797ff,#9999ff,#9a9aff,#9c9cff,#9d9dff,#9e9eff,#a0a0ff,#a2a2ff,#a3a3ff,#a4a4ff,#a4a4ff,#a3a3ff,#a1a1ff,#a0a0ff,#a0a0ff,#a1a1ff,#a6a6ff,#afafff,#bdbdff,#ceceff,#ceceff)"></i><i style="background:linear-gradient(90deg,#dedeff,#dedeff,#d3d3ff,#c9c9ff,#c2c2ff,#bdbdff,#babaff,#b8b8ff,#b6b6ff,#b5b5ff,#b4b4ff,#b3b3ff,#b2b2ff,#b0b0ff,#aeaeff,#ababff,#a8a8ff,#a5a5ff,#a2a2ff,#9f9fff,#9d9dff,#9b9bff,#9999ff,#9797ff,#9595ff,#9292ff,#8e8eff,#8888ff,#8383ff,#7d7dff,#7878ff,#7373ff,#6d6dff,#6666ff,#5e5eff,#5858ff,#5656ff,#5858ff,#5e5eff,#6666ff,#6f6fff,#7777ff,#7c7cff,#8080ff,#8282ff,#8585ff,#8989ff,#8d8dff,#9191ff,#9696ff,#9999ff,#9c9cff,#9f9fff,#a0a0ff,#a1a1ff,#a2a2ff,#a3a3ff,#a5a5ff,#a7a7ff,#a9a9ff,#aaaaff,#aaaaff,#a9a9ff,#a7a7ff,#a5a5ff,#a4a4ff,#a5a5ff,#a9a9ff,#b2b2ff,#c0c0ff,#d0d0ff,#d0d0ff)"></i><i style="background:linear-gradient(90deg,#dfdfff,#dfdfff,#d3d3ff,#cacaff,#c4c4ff,#c0c0ff,#bdbdff,#bbbbff,#babaff,#b9b9ff,#b8b8ff,#b7b7ff,#b5b5ff,#b4b4ff,#b1b1ff,#aeaeff,#ababff,#a8a8ff,#a5a5ff,#a3a3ff,#a1a1ff,#9f9fff,#9d9dff,#9c9cff,#9b9bff,#9898ff,#9494ff,#8e8eff,#8989ff,#8484ff,#7f7fff,#7b7bff,#7676ff,#7070ff,#6a6aff,#6464ff,#6262ff,#6464ff,#6969ff,#7171ff,#7979ff,#7f7fff,#8383ff,#8686ff,#8888ff,#8b8bff,#8e8eff,#9292ff,#9797ff,#9b9bff,#9e9eff,#a1a1ff,#a3a3ff,#a5a5ff,#a5a5ff,#a6a6ff,#a7a7ff,#a9a9ff,#ababff,#adadff,#aeaeff,#afafff,#aeaeff,#acacff,#aaaaff,#a9a9ff,#a9a9ff,#adadff,#b5b5ff,#c2c2ff,#d2d2ff,#d2d2ff)"></i><i style="background:linear-gradient(90deg,#dfdfff,#dfdfff,#d5d5ff,#ccccff,#c6c6ff,#c3c3ff,#c0c0ff,#bebeff,#bdbdff,#bcbcff,#bbbbff,#babaff,#b9b9ff,#b7b7ff,#b4b4ff,#b1b1ff,#aeaeff,#ababff,#a8a8ff,#a6a6ff,#a4a4ff,#a2a2ff,#a1a1ff,#a1a1ff,#a0a0ff,#9d9dff,#9999ff,#9494ff,#8f8fff,#8a8aff,#8686ff,#8282ff,#7e7eff,#7979ff,#7373ff,#6f6fff,#6d6dff,#6f6fff,#7373ff,#7a7aff,#8181ff,#8686ff,#8a8aff,#8d8dff,#8e8eff,#9191ff,#9494ff,#9797ff,#9b9bff,#9f9fff,#a3a3ff,#a5a5ff,#a7a7ff,#a9a9ff,#a9a9ff,#aaaaff,#ababff,#adadff,#afafff,#b1b1ff,#b3b3ff,#b3b3ff,#b3b3ff,#b1b1ff,#afafff,#adadff,#adadff,#b0b0ff,#b8b8ff,#c4c4ff,#d3d3ff,#d3d3ff)"></i><i style="background:linear-gradient(90deg,#e1e1ff,#e1e1ff,#d6d6ff,#ceceff,#c9c9ff,#c6c6ff,#c3c3ff,#c1c1ff,#c0c0ff,#bfbfff,#bebeff,#bdbdff,#bcbcff,#babaff,#b7b7ff,#b4b4ff,#b1b1ff,#aeaeff,#acacff,#a9a9ff,#a7a7ff,#a6a6ff,#a5a5ff,#a5a5ff,#a4a4ff,#a2a2ff,#9f9fff,#9a9aff,#9595ff,#9191ff,#8d8dff,#8989ff,#8686ff,#8181ff,#7c7cff,#7878ff,#7676ff,#7777ff,#7b7bff,#8181ff,#8787ff,#8d8dff,#9090ff,#9393ff,#9595ff,#9696ff,#9999ff,#9c9cff,#a0a0ff,#a3a3ff,#a6a6ff,#a9a9ff,#ababff,#acacff,#adadff,#adadff,#afafff,#b0b0ff,#b2b2ff,#b5b5ff,#b6b6ff,#b7b7ff,#b7b7ff,#b6b6ff,#b4b4ff,#b2b2ff,#b1b1ff,#b4b4ff,#bbbbff,#c6c6ff,#d5d5ff,#d5d5ff)"></i><i style="background:linear-gradient(90deg,#e2e2ff,#e2e2ff,#d8d8ff,#d1d1ff,#ccccff,#c8c8ff,#c6c6ff,#c4c4ff,#c3c3ff,#c2c2ff,#c1c1ff,#c0c0ff,#bfbfff,#bdbdff,#babaff,#b7b7ff,#b4b4ff,#b1b1ff,#afafff,#adadff,#ababff,#a9a9ff,#a9a9ff,#a8a8ff,#a8a8ff,#a7a7ff,#a4a4ff,#a0a0ff,#9c9cff,#9898ff,#9494ff,#9191ff,#8d8dff,#8989ff,#8484ff,#8080ff,#7e7eff,#7e7eff,#8282ff,#8787ff,#8d8dff,#9292ff,#9696ff,#9999ff,#9b9bff,#9c9cff,#9e9eff,#a1a1ff,#a4a4ff,#a7a7ff,#aaaaff,#acacff,#aeaeff,#afafff,#b0b0ff,#b1b1ff,#b2b2ff,#b3b3ff,#b6b6ff,#b8b8ff,#babaff,#bbbbff,#bbbbff,#babaff,#b8b8ff,#b6b6ff,#b6b6ff,#b8b8ff,#bebeff,#c9c9ff,#d7d7ff,#d7d7ff)"></i><i style="background:linear-gradient(90deg,#e3e3ff,#e3e3ff,#dadaff,#d2d2ff,#ceceff,#cbcbff,#c9c9ff,#c7c7ff,#c6c6ff,#c5c5ff,#c4c4ff,#c3c3ff,#c2c2ff,#c0c0ff,#bdbdff,#babaff,#b7b7ff,#b5b5ff,#b3b3ff,#b1b1ff,#aeaeff,#adadff,#acacff,#acacff,#acacff,#ababff,#a8a8ff,#a5a5ff,#a2a2ff,#9e9eff,#9b9bff,#9898ff,#9494ff,#9090ff,#8b8bff,#8787ff,#8484ff,#8484ff,#8787ff,#8c8cff,#9292ff,#9797ff,#9c9cff,#9f9fff,#a0a0ff,#a2a2ff,#a3a3ff,#a6a6ff,#a8a8ff,#ababff,#adadff,#afafff,#b0b0ff,#b1b1ff,#b2b2ff,#b4b4ff,#b5b5ff,#b7b7ff,#b9b9ff,#bbbbff,#bdbdff,#bebeff,#bfbfff,#bebeff,#bcbcff,#bbbbff,#babaff,#bcbcff,#c2c2ff,#ccccff,#d9d9ff,#d9d9ff)"></i><i style="background:linear-gradient(90deg,#e4e4ff,#e4e4ff,#dbdbff,#d4d4ff,#d0d0ff,#cdcdff,#cbcbff,#cacaff,#c8c8ff,#c7c7ff,#c6c6ff,#c5c5ff,#c4c4ff,#c3c3ff,#c0c0ff,#bebeff,#bbbbff,#b9b9ff,#b7b7ff,#b4b4ff,#b2b2ff,#b1b1ff,#b0b0ff,#afafff,#afafff,#aeaeff,#acacff,#aaaaff,#a7a7ff,#a5a5ff,#a2a2ff,#9f9fff,#9b9bff,#9696ff,#9191ff,#8d8dff,#8a8aff,#8a8aff,#8c8cff,#9191ff,#9797ff,#9c9cff,#a1a1ff,#a4a4ff,#a6a6ff,#a7a7ff,#a8a8ff,#aaaaff,#acacff,#aeaeff,#b0b0ff,#b2b2ff,#b3b3ff,#b4b4ff,#b5b5ff,#b6b6ff,#b8b8ff,#babaff,#bbbbff,#bdbdff,#bfbfff,#c1c1ff,#c2c2ff,#c1c1ff,#c0c0ff,#bfbfff,#bebeff,#c0c0ff,#c5c5ff,#cfcfff,#dbdbff,#dbdbff)"></i><i style="background:linear-gradient(90deg,#e4e4ff,#e4e4ff,#dcdcff,#d5d5ff,#d1d1ff,#cfcfff,#cdcdff,#ccccff,#cacaff,#c9c9ff,#c8c8ff,#c8c8ff,#c7c7ff,#c6c6ff,#c4c4ff,#c2c2ff,#bfbfff,#bdbdff,#bbbbff,#b8b8ff,#b6b6ff,#b5b5ff,#b4b4ff,#b3b3ff,#b2b2ff,#b1b1ff,#b0b0ff,#aeaeff,#acacff,#aaaaff,#a8a8ff,#a5a5ff,#a1a1ff,#9c9cff,#9797ff,#9393ff,#9090ff,#8f8fff,#9191ff,#9696ff,#9b9bff,#a1a1ff,#a6a6ff,#a9a9ff,#ababff,#acacff,#adadff,#aeaeff,#b0b0ff,#b2b2ff,#b3b3ff,#b5b5ff,#b6b6ff,#b7b7ff,#b8b8ff,#b9b9ff,#bbbbff,#bdbdff,#bebeff,#c0c0ff,#c2c2ff,#c3c3ff,#c4c4ff,#c4c4ff,#c3c3ff,#c2c2ff,#c2c2ff,#c4c4ff,#c9c9ff,#d2d2ff,#ddddff,#ddddff)"></i><i style="background:linear-gradient(90deg,#e5e5ff,#e5e5ff,#dcdcff,#d5d5ff,#d2d2ff,#d0d0ff,#cfcfff,#cdcdff,#ccccff,#cbcbff,#cacaff,#cacaff,#c9c9ff,#c8c8ff,#c7c7ff,#c5c5ff,#c3c3ff,#c0c0ff,#bebeff,#bcbcff,#babaff,#b9b9ff,#b8b8ff,#b7b7ff,#b6b6ff,#b4b4ff,#b3b3ff,#b2b2ff,#b0b0ff,#afafff,#adadff,#aaaaff,#a6a6ff,#a2a2ff,#9d9dff,#9898ff,#9696ff,#9595ff,#9797ff,#9b9bff,#a0a0ff,#a5a5ff,#aaaaff,#adadff,#afafff,#b0b0ff,#b1b1ff,#b2b2ff,#b4b4ff,#b5b5ff,#b6b6ff,#b7b7ff,#b8b8ff,#b9b9ff,#bbbbff,#bcbcff,#bebeff,#bfbfff,#c1c1ff,#c2c2ff,#c4c4ff,#c5c5ff,#c6c6ff,#c7c7ff,#c6c6ff,#c5c5ff,#c5c5ff,#c7c7ff,#ccccff,#d4d4ff,#dfdfff,#dfdfff)"></i><i style="background:linear-gradient(90deg,#e5e5ff,#e5e5ff,#dcdcff,#d6d6ff,#d2d2ff,#d0d0ff,#d0d0ff,#cfcfff,#ceceff,#cdcdff,#ccccff,#ccccff,#cbcbff,#cbcbff,#cacaff,#c9c9ff,#c6c6ff,#c4c4ff,#c2c2ff,#c0c0ff,#bebeff,#bdbdff,#bcbcff,#babaff,#b9b9ff,#b7b7ff,#b6b6ff,#b4b4ff,#b3b3ff,#b2b2ff,#b0b0ff,#adadff,#aaaaff,#a6a6ff,#a2a2ff,#9e9eff,#9c9cff,#9b9bff,#9d9dff,#a1a1ff,#a5a5ff,#aaaaff,#aeaeff,#b1b1ff,#b3b3ff,#b4b4ff,#b5b5ff,#b6b6ff,#b7b7ff,#b8b8ff,#b9b9ff,#babaff,#bbbbff,#bcbcff,#bdbdff,#bfbfff,#c1c1ff,#c2c2ff,#c3c3ff,#c4c4ff,#c6c6ff,#c7c7ff,#c8c8ff,#c9c9ff,#c8c8ff,#c8c8ff,#c8c8ff,#cacaff,#cfcfff,#d7d7ff,#e1e1ff,#e1e1ff)"></i><i style="background:linear-gradient(90deg,#e5e5ff,#e5e5ff,#ddddff,#d6d6ff,#d3d3ff,#d1d1ff,#d0d0ff,#d0d0ff,#cfcfff,#ceceff,#ceceff,#cdcdff,#ceceff,#ceceff,#cdcdff,#ccccff,#c9c9ff,#c7c7ff,#c5c5ff,#c3c3ff,#c2c2ff,#c1c1ff,#bfbfff,#bebeff,#bcbcff,#babaff,#b8b8ff,#b7b7ff,#b6b6ff,#b5b5ff,#b3b3ff,#b0b0ff,#acacff,#a9a9ff,#a6a6ff,#a3a3ff,#a2a2ff,#a2a2ff,#a3a3ff,#a6a6ff,#aaaaff,#aeaeff,#b1b1ff,#b4b4ff,#b6b6ff,#b7b7ff,#b8b8ff,#b9b9ff,#babaff,#bbbbff,#bcbcff,#bdbdff,#bdbdff,#bebeff,#c0c0ff,#c2c2ff,#c3c3ff,#c4c4ff,#c5c5ff,#c6c6ff,#c7c7ff,#c8c8ff,#cacaff,#cacaff,#cacaff,#cacaff,#cacaff,#ccccff,#d1d1ff,#d9d9ff,#e2e2ff,#e2e2ff)"></i><i style="background:linear-gradient(90deg,#e6e6ff,#e6e6ff,#ddddff,#d7d7ff,#d3d3ff,#d2d2ff,#d1d1ff,#d1d1ff,#d0d0ff,#d0d0ff,#cfcfff,#cfcfff,#d0d0ff,#d0d0ff,#d0d0ff,#ceceff,#ccccff,#cacaff,#c8c8ff,#c6c6ff,#c5c5ff,#c4c4ff,#c3c3ff,#c1c1ff,#bebeff,#bcbcff,#babaff,#b9b9ff,#b8b8ff,#b6b6ff,#b4b4ff,#b1b1ff,#aeaeff,#ababff,#a9a9ff,#a8a8ff,#a8a8ff,#a9a9ff,#aaaaff,#ababff,#aeaeff,#b1b1ff,#b4b4ff,#b6b6ff,#b8b8ff,#babaff,#bbbbff,#bcbcff,#bdbdff,#bebeff,#bfbfff,#bfbfff,#c0c0ff,#c1c1ff,#c2c2ff,#c4c4ff,#c6c6ff,#c6c6ff,#c7c7ff,#c8c8ff,#c9c9ff,#cacaff,#cbcbff,#ccccff,#ccccff,#cbcbff,#ccccff,#ceceff,#d3d3ff,#dbdbff,#e4e4ff,#e4e4ff)"></i><i style="background:linear-gradient(90deg,#e7e7ff,#e7e7ff,#dedeff,#d8d8ff,#d4d4ff,#d2d2ff,#d2d2ff,#d2d2ff,#d1d1ff,#d1d1ff,#d1d1ff,#d1d1ff,#d1d1ff,#d2d2ff,#d2d2ff,#d1d1ff,#cfcfff,#ccccff,#cacaff,#c9c9ff,#c8c8ff,#c7c7ff,#c6c6ff,#c4c4ff,#c1c1ff,#bebeff,#bcbcff,#babaff,#b9b9ff,#b7b7ff,#b5b5ff,#b2b2ff,#afafff,#adadff,#acacff,#adadff,#adadff,#aeaeff,#afafff,#b0b0ff,#b2b2ff,#b4b4ff,#b6b6ff,#b8b8ff,#babaff,#bcbcff,#bdbdff,#bfbfff,#c0c0ff,#c1c1ff,#c2c2ff,#c2c2ff,#c3c3ff,#c3c3ff,#c5c5ff,#c6c6ff,#c8c8ff,#c8c8ff,#c8c8ff,#c9c9ff,#cacaff,#cbcbff,#ccccff,#cdcdff,#cdcdff,#cdcdff,#ceceff,#d0d0ff,#d5d5ff,#dcdcff,#e5e5ff,#e5e5ff)"></i><i style="background:linear-gradient(90deg,#e8e8ff,#e8e8ff,#dfdfff,#d9d9ff,#d4d4ff,#d3d3ff,#d2d2ff,#d2d2ff,#d3d3ff,#d2d2ff,#d2d2ff,#d2d2ff,#d3d3ff,#d3d3ff,#d3d3ff,#d3d3ff,#d1d1ff,#ceceff,#ccccff,#cbcbff,#cbcbff,#cacaff,#c9c9ff,#c6c6ff,#c3c3ff,#c0c0ff,#bdbdff,#bcbcff,#bbbbff,#b9b9ff,#b6b6ff,#b3b3ff,#b0b0ff,#afafff,#afafff,#b0b0ff,#b2b2ff,#b3b3ff,#b4b4ff,#b4b4ff,#b5b5ff,#b6b6ff,#b8b8ff,#babaff,#bcbcff,#bebeff,#bfbfff,#c1c1ff,#c3c3ff,#c4c4ff,#c5c5ff,#c5c5ff,#c5c5ff,#c6c6ff,#c7c7ff,#c8c8ff,#c9c9ff,#cacaff,#cacaff,#cacaff,#cbcbff,#ccccff,#cdcdff,#ceceff,#ceceff,#ceceff,#cfcfff,#d2d2ff,#d7d7ff,#dedeff,#e7e7ff,#e7e7ff)"></i><i style="background:linear-gradient(90deg,#e9e9ff,#e9e9ff,#e1e1ff,#dadaff,#d5d5ff,#d3d3ff,#d3d3ff,#d3d3ff,#d4d4ff,#d4d4ff,#d4d4ff,#d3d3ff,#d4d4ff,#d4d4ff,#d5d5ff,#d4d4ff,#d2d2ff,#d0d0ff,#ceceff,#cdcdff,#cdcdff,#ccccff,#cbcbff,#c8c8ff,#c5c5ff,#c2c2ff,#bfbfff,#bebeff,#bcbcff,#babaff,#b7b7ff,#b4b4ff,#b2b2ff,#b1b1ff,#b1b1ff,#b3b3ff,#b6b6ff,#b7b7ff,#b8b8ff,#b8b8ff,#b8b8ff,#b9b9ff,#babaff,#bbbbff,#bdbdff,#bfbfff,#c1c1ff,#c3c3ff,#c5c5ff,#c7c7ff,#c8c8ff,#c8c8ff,#c8c8ff,#c8c8ff,#c9c9ff,#cacaff,#cbcbff,#cbcbff,#cbcbff,#cbcbff,#ccccff,#cdcdff,#ceceff,#cfcfff,#cfcfff,#d0d0ff,#d1d1ff,#d4d4ff,#d9d9ff,#e0e0ff,#e8e8ff,#e8e8ff)"></i><i style="background:linear-gradient(90deg,#eaeaff,#eaeaff,#e2e2ff,#dbdbff,#d6d6ff,#d3d3ff,#d3d3ff,#d4d4ff,#d5d5ff,#d5d5ff,#d5d5ff,#d4d4ff,#d5d5ff,#d5d5ff,#d5d5ff,#d5d5ff,#d3d3ff,#d1d1ff,#cfcfff,#ceceff,#ceceff,#ceceff,#cdcdff,#cacaff,#c7c7ff,#c3c3ff,#c1c1ff,#bfbfff,#bebeff,#bcbcff,#b9b9ff,#b6b6ff,#b3b3ff,#b3b3ff,#b4b4ff,#b6b6ff,#b8b8ff,#babaff,#bbbbff,#bbbbff,#babaff,#bbbbff,#bcbcff,#bdbdff,#bfbfff,#c1c1ff,#c3c3ff,#c6c6ff,#c8c8ff,#cacaff,#cbcbff,#cbcbff,#cbcbff,#cacaff,#cbcbff,#ccccff,#cdcdff,#cdcdff,#cdcdff,#cdcdff,#cdcdff,#ceceff,#cfcfff,#d0d0ff,#d0d0ff,#d1d1ff,#d2d2ff,#d5d5ff,#dadaff,#e1e1ff,#eaeaff,#eaeaff)"></i><i style="background:linear-gradient(90deg,#eaeaff,#eaeaff,#e3e3ff,#dcdcff,#d7d7ff,#d4d4ff,#d4d4ff,#d4d4ff,#d5d5ff,#d6d6ff,#d6d6ff,#d6d6ff,#d5d5ff,#d6d6ff,#d6d6ff,#d6d6ff,#d4d4ff,#d2d2ff,#d0d0ff,#d0d0ff,#d0d0ff,#d0d0ff,#ceceff,#ccccff,#c8c8ff,#c5c5ff,#c3c3ff,#c1c1ff,#c0c0ff,#bdbdff,#babaff,#b7b7ff,#b5b5ff,#b5b5ff,#b6b6ff,#b8b8ff,#babaff,#bcbcff,#bdbdff,#bdbdff,#bdbdff,#bdbdff,#bebeff,#c0c0ff,#c1c1ff,#c3c3ff,#c6c6ff,#c8c8ff,#cacaff,#ccccff,#ceceff,#ceceff,#cdcdff,#cdcdff,#cdcdff,#cdcdff,#ceceff,#cfcfff,#cfcfff,#cfcfff,#cfcfff,#d0d0ff,#d0d0ff,#d1d1ff,#d2d2ff,#d2d2ff,#d4d4ff,#d7d7ff,#dcdcff,#e3e3ff,#ebebff,#ebebff)"></i><i style="background:linear-gradient(90deg,#ebebff,#ebebff,#e3e3ff,#dcdcff,#d7d7ff,#d5d5ff,#d4d4ff,#d5d5ff,#d6d6ff,#d7d7ff,#d7d7ff,#d7d7ff,#d6d6ff,#d6d6ff,#d6d6ff,#d6d6ff,#d5d5ff,#d3d3ff,#d2d2ff,#d1d1ff,#d1d1ff,#d1d1ff,#cfcfff,#cdcdff,#c9c9ff,#c7c7ff,#c4c4ff,#c3c3ff,#c1c1ff,#bfbfff,#bcbcff,#b9b9ff,#b7b7ff,#b7b7ff,#b8b8ff,#b9b9ff,#bbbbff,#bdbdff,#bebeff,#bebeff,#bfbfff,#c0c0ff,#c1c1ff,#c2c2ff,#c4c4ff,#c6c6ff,#c8c8ff,#cacaff,#ccccff,#cfcfff,#d0d0ff,#d0d0ff,#d0d0ff,#cfcfff,#cfcfff,#cfcfff,#d0d0ff,#d1d1ff,#d1d1ff,#d1d1ff,#d1d1ff,#d1d1ff,#d2d2ff,#d2d2ff,#d3d3ff,#d4d4ff,#d6d6ff,#d9d9ff,#dedeff,#e4e4ff,#ececff,#ececff)"></i><i style="background:linear-gradient(90deg,#ececff,#ececff,#e4e4ff,#ddddff,#d8d8ff,#d6d6ff,#d5d5ff,#d6d6ff,#d7d7ff,#d8d8ff,#d8d8ff,#d8d8ff,#d7d7ff,#d7d7ff,#d7d7ff,#d7d7ff,#d6d6ff,#d4d4ff,#d3d3ff,#d3d3ff,#d2d2ff,#d2d2ff,#d0d0ff,#ceceff,#cbcbff,#c8c8ff,#c6c6ff,#c4c4ff,#c3c3ff,#c1c1ff,#bebeff,#bbbbff,#b9b9ff,#b9b9ff,#b9b9ff,#bbbbff,#bdbdff,#bebeff,#bfbfff,#c0c0ff,#c1c1ff,#c2c2ff,#c4c4ff,#c5c5ff,#c6c6ff,#c8c8ff,#cacaff,#ccccff,#ceceff,#d0d0ff,#d2d2ff,#d2d2ff,#d2d2ff,#d1d1ff,#d1d1ff,#d1d1ff,#d2d2ff,#d3d3ff,#d3d3ff,#d4d4ff,#d3d3ff,#d3d3ff,#d4d4ff,#d4d4ff,#d5d5ff,#d6d6ff,#d8d8ff,#dbdbff,#dfdfff,#e6e6ff,#ededff,#ededff)"></i><i style="background:linear-gradient(90deg,#ececff,#ececff,#e5e5ff,#dedeff,#dadaff,#d7d7ff,#d6d6ff,#d7d7ff,#d8d8ff,#d9d9ff,#d9d9ff,#d9d9ff,#d8d8ff,#d8d8ff,#d8d8ff,#d8d8ff,#d7d7ff,#d6d6ff,#d5d5ff,#d4d4ff,#d4d4ff,#d3d3ff,#d1d1ff,#ceceff,#cbcbff,#c9c9ff,#c7c7ff,#c6c6ff,#c4c4ff,#c2c2ff,#c0c0ff,#bdbdff,#bbbbff,#bbbbff,#bbbbff,#bcbcff,#bebeff,#bfbfff,#c1c1ff,#c2c2ff,#c4c4ff,#c5c5ff,#c7c7ff,#c8c8ff,#c9c9ff,#cacaff,#ccccff,#ceceff,#d0d0ff,#d2d2ff,#d3d3ff,#d4d4ff,#d3d3ff,#d3d3ff,#d3d3ff,#d3d3ff,#d4d4ff,#d5d5ff,#d6d6ff,#d6d6ff,#d6d6ff,#d6d6ff,#d6d6ff,#d6d6ff,#d7d7ff,#d8d8ff,#dadaff,#ddddff,#e1e1ff,#e7e7ff,#ededff,#ededff)"></i><i style="background:linear-gradient(90deg,#ededff,#ededff,#e6e6ff,#e0e0ff,#dbdbff,#d8d8ff,#d8d8ff,#d8d8ff,#d9d9ff,#dadaff,#dadaff,#dadaff,#d9d9ff,#d9d9ff,#d9d9ff,#d9d9ff,#d9d9ff,#d8d8ff,#d7d7ff,#d6d6ff,#d5d5ff,#d4d4ff,#d2d2ff,#cfcfff,#ccccff,#cacaff,#c8c8ff,#c7c7ff,#c5c5ff,#c3c3ff,#c1c1ff,#bfbfff,#bdbdff,#bdbdff,#bdbdff,#bebeff,#c0c0ff,#c1c1ff,#c3c3ff,#c4c4ff,#c6c6ff,#c8c8ff,#cacaff,#cbcbff,#ccccff,#cdcdff,#ceceff,#d0d0ff,#d2d2ff,#d4d4ff,#d4d4ff,#d4d4ff,#d4d4ff,#d4d4ff,#d5d5ff,#d5d5ff,#d6d6ff,#d7d7ff,#d8d8ff,#d8d8ff,#d8d8ff,#d8d8ff,#d8d8ff,#d8d8ff,#d9d9ff,#dadaff,#dcdcff,#dedeff,#e2e2ff,#e8e8ff,#eeeeff,#eeeeff)"></i><i style="background:linear-gradient(90deg,#eeeeff,#eeeeff,#e7e7ff,#e1e1ff,#ddddff,#dadaff,#d9d9ff,#dadaff,#dadaff,#dbdbff,#dbdbff,#dbdbff,#dadaff,#dadaff,#dadaff,#dadaff,#dadaff,#dadaff,#d9d9ff,#d8d8ff,#d7d7ff,#d5d5ff,#d3d3ff,#d0d0ff,#cdcdff,#cbcbff,#c9c9ff,#c8c8ff,#c6c6ff,#c4c4ff,#c2c2ff,#c0c0ff,#bfbfff,#bebeff,#bfbfff,#c0c0ff,#c1c1ff,#c3c3ff,#c5c5ff,#c7c7ff,#c9c9ff,#cbcbff,#ccccff,#cdcdff,#ceceff,#cfcfff,#d1d1ff,#d2d2ff,#d4d4ff,#d5d5ff,#d5d5ff,#d5d5ff,#d5d5ff,#d5d5ff,#d6d6ff,#d7d7ff,#d8d8ff,#d9d9ff,#dadaff,#dadaff,#dadaff,#dadaff,#dadaff,#dadaff,#dbdbff,#dcdcff,#ddddff,#dfdfff,#e3e3ff,#e9e9ff,#efefff,#efefff)"></i><i style="background:linear-gradient(90deg,#eeeeff,#eeeeff,#e8e8ff,#e2e2ff,#dedeff,#dcdcff,#dbdbff,#dbdbff,#dcdcff,#dcdcff,#dcdcff,#dcdcff,#dbdbff,#dbdbff,#dbdbff,#dcdcff,#dcdcff,#dcdcff,#dbdbff,#dadaff,#d9d9ff,#d6d6ff,#d4d4ff,#d1d1ff,#ceceff,#ccccff,#cacaff,#c9c9ff,#c7c7ff,#c5c5ff,#c3c3ff,#c1c1ff,#c0c0ff,#c0c0ff,#c0c0ff,#c2c2ff,#c3c3ff,#c5c5ff,#c7c7ff,#c9c9ff,#cbcbff,#cdcdff,#cfcfff,#d0d0ff,#d0d0ff,#d1d1ff,#d3d3ff,#d4d4ff,#d6d6ff,#d6d6ff,#d6d6ff,#d6d6ff,#d6d6ff,#d6d6ff,#d7d7ff,#d8d8ff,#d9d9ff,#dadaff,#dbdbff,#dcdcff,#dcdcff,#dcdcff,#dcdcff,#dcdcff,#dcdcff,#ddddff,#dedeff,#e0e0ff,#e4e4ff,#eaeaff,#f0f0ff,#f0f0ff)"></i><i style="background:linear-gradient(90deg,#efefff,#efefff,#e9e9ff,#e4e4ff,#e0e0ff,#dedeff,#ddddff,#ddddff,#ddddff,#ddddff,#ddddff,#ddddff,#ddddff,#ddddff,#ddddff,#ddddff,#ddddff,#dedeff,#ddddff,#dcdcff,#dadaff,#d8d8ff,#d5d5ff,#d2d2ff,#d0d0ff,#cdcdff,#ccccff,#cacaff,#c9c9ff,#c7c7ff,#c5c5ff,#c3c3ff,#c2c2ff,#c1c1ff,#c2c2ff,#c4c4ff,#c5c5ff,#c7c7ff,#c9c9ff,#cbcbff,#cdcdff,#cfcfff,#d0d0ff,#d1d1ff,#d2d2ff,#d3d3ff,#d5d5ff,#d6d6ff,#d7d7ff,#d8d8ff,#d7d7ff,#d7d7ff,#d7d7ff,#d8d8ff,#d9d9ff,#dadaff,#dbdbff,#dcdcff,#dcdcff,#ddddff,#ddddff,#ddddff,#ddddff,#ddddff,#ddddff,#dedeff,#dfdfff,#e1e1ff,#e5e5ff,#eaeaff,#f0f0ff,#f0f0ff)"></i><i style="background:linear-gradient(90deg,#f0f0ff,#f0f0ff,#eaeaff,#e6e6ff,#e2e2ff,#e0e0ff,#dfdfff,#dfdfff,#dfdfff,#dfdfff,#dedeff,#dedeff,#dedeff,#dedeff,#dedeff,#dedeff,#dfdfff,#dfdfff,#dfdfff,#dedeff,#dcdcff,#dadaff,#d7d7ff,#d4d4ff,#d2d2ff,#d0d0ff,#ceceff,#cdcdff,#cbcbff,#c9c9ff,#c7c7ff,#c5c5ff,#c4c4ff,#c3c3ff,#c4c4ff,#c5c5ff,#c8c8ff,#cacaff,#ccccff,#ceceff,#cfcfff,#d1d1ff,#d2d2ff,#d3d3ff,#d4d4ff,#d5d5ff,#d7d7ff,#d8d8ff,#d9d9ff,#d9d9ff,#d8d8ff,#d8d8ff,#d8d8ff,#d9d9ff,#dadaff,#dbdbff,#dcdcff,#ddddff,#ddddff,#dedeff,#dedeff,#dfdfff,#dfdfff,#dfdfff,#dfdfff,#dfdfff,#e0e0ff,#e2e2ff,#e6e6ff,#ebebff,#f1f1ff,#f1f1ff)"></i><i style="background:linear-gradient(90deg,#f1f1ff,#f1f1ff,#ececff,#e7e7ff,#e4e4ff,#e2e2ff,#e2e2ff,#e2e2ff,#e1e1ff,#e1e1ff,#e0e0ff,#e0e0ff,#dfdfff,#dfdfff,#dfdfff,#e0e0ff,#e0e0ff,#e1e1ff,#e0e0ff,#dfdfff,#dedeff,#dbdbff,#d9d9ff,#d7d7ff,#d5d5ff,#d3d3ff,#d1d1ff,#cfcfff,#ceceff,#cbcbff,#c9c9ff,#c7c7ff,#c6c6ff,#c5c5ff,#c6c6ff,#c8c8ff,#cacaff,#ccccff,#ceceff,#d0d0ff,#d1d1ff,#d3d3ff,#d4d4ff,#d5d5ff,#d6d6ff,#d7d7ff,#d8d8ff,#dadaff,#dbdbff,#dbdbff,#dadaff,#dadaff,#dadaff,#dbdbff,#dcdcff,#ddddff,#dedeff,#dedeff,#dedeff,#dfdfff,#dfdfff,#e0e0ff,#e0e0ff,#e0e0ff,#e0e0ff,#e0e0ff,#e1e1ff,#e3e3ff,#e7e7ff,#ececff,#f2f2ff,#f2f2ff)"></i><i style="background:linear-gradient(90deg,#f2f2ff,#f2f2ff,#ededff,#e9e9ff,#e6e6ff,#e5e5ff,#e4e4ff,#e4e4ff,#e3e3ff,#e3e3ff,#e2e2ff,#e1e1ff,#e1e1ff,#e0e0ff,#e1e1ff,#e1e1ff,#e2e2ff,#e2e2ff,#e2e2ff,#e1e1ff,#dfdfff,#ddddff,#dcdcff,#dadaff,#d8d8ff,#d6d6ff,#d5d5ff,#d3d3ff,#d1d1ff,#cfcfff,#ccccff,#cacaff,#c9c9ff,#c8c8ff,#c9c9ff,#cacaff,#ccccff,#ceceff,#d0d0ff,#d2d2ff,#d3d3ff,#d4d4ff,#d5d5ff,#d6d6ff,#d7d7ff,#d9d9ff,#dadaff,#dbdbff,#dcdcff,#dcdcff,#dcdcff,#dcdcff,#ddddff,#dedeff,#dfdfff,#dfdfff,#dfdfff,#dfdfff,#e0e0ff,#e0e0ff,#e1e1ff,#e1e1ff,#e1e1ff,#e1e1ff,#e1e1ff,#e1e1ff,#e2e2ff,#e4e4ff,#e8e8ff,#ededff,#f2f2ff,#f2f2ff)"></i><i style="background:linear-gradient(90deg,#f2f2ff,#f2f2ff,#eeeeff,#eaeaff,#e8e8ff,#e7e7ff,#e6e6ff,#e6e6ff,#e5e5ff,#e4e4ff,#e3e3ff,#e3e3ff,#e2e2ff,#e2e2ff,#e2e2ff,#e2e2ff,#e3e3ff,#e3e3ff,#e3e3ff,#e2e2ff,#e1e1ff,#dfdfff,#dedeff,#ddddff,#dcdcff,#dadaff,#d8d8ff,#d7d7ff,#d4d4ff,#d2d2ff,#d0d0ff,#ceceff,#ccccff,#cbcbff,#ccccff,#cdcdff,#cfcfff,#d1d1ff,#d3d3ff,#d5d5ff,#d6d6ff,#d7d7ff,#d7d7ff,#d8d8ff,#d9d9ff,#dadaff,#dcdcff,#ddddff,#dedeff,#dedeff,#dedeff,#dedeff,#dfdfff,#e0e0ff,#e1e1ff,#e2e2ff,#e1e1ff,#e1e1ff,#e1e1ff,#e1e1ff,#e2e2ff,#e3e3ff,#e3e3ff,#e3e3ff,#e3e3ff,#e3e3ff,#e4e4ff,#e6e6ff,#e9e9ff,#eeeeff,#f3f3ff,#f3f3ff)"></i><i style="background:linear-gradient(90deg,#f3f3ff,#f3f3ff,#efefff,#ececff,#eaeaff,#e9e9ff,#e8e8ff,#e8e8ff,#e7e7ff,#e6e6ff,#e5e5ff,#e4e4ff,#e4e4ff,#e4e4ff,#e4e4ff,#e4e4ff,#e4e4ff,#e5e5ff,#e4e4ff,#e4e4ff,#e2e2ff,#e2e2ff,#e1e1ff,#e0e0ff,#e0e0ff,#dedeff,#dcdcff,#dadaff,#d8d8ff,#d6d6ff,#d4d4ff,#d2d2ff,#d0d0ff,#cfcfff,#cfcfff,#d0d0ff,#d2d2ff,#d4d4ff,#d6d6ff,#d7d7ff,#d8d8ff,#d9d9ff,#d9d9ff,#dadaff,#dbdbff,#dcdcff,#dedeff,#dfdfff,#dfdfff,#e0e0ff,#e0e0ff,#e1e1ff,#e2e2ff,#e3e3ff,#e4e4ff,#e4e4ff,#e3e3ff,#e3e3ff,#e3e3ff,#e3e3ff,#e4e4ff,#e4e4ff,#e5e5ff,#e5e5ff,#e5e5ff,#e5e5ff,#e5e5ff,#e7e7ff,#eaeaff,#efefff,#f4f4ff,#f4f4ff)"></i><i style="background:linear-gradient(90deg,#f4f4ff,#f4f4ff,#f0f0ff,#ededff,#ebebff,#ebebff,#eaeaff,#eaeaff,#e9e9ff,#e8e8ff,#e7e7ff,#e6e6ff,#e5e5ff,#e5e5ff,#e5e5ff,#e6e6ff,#e6e6ff,#e6e6ff,#e6e6ff,#e5e5ff,#e4e4ff,#e4e4ff,#e3e3ff,#e3e3ff,#e3e3ff,#e2e2ff,#e0e0ff,#dedeff,#dcdcff,#dadaff,#d8d8ff,#d6d6ff,#d4d4ff,#d3d3ff,#d3d3ff,#d4d4ff,#d5d5ff,#d7d7ff,#d9d9ff,#dadaff,#dbdbff,#dbdbff,#dbdbff,#dcdcff,#ddddff,#dedeff,#dfdfff,#e0e0ff,#e1e1ff,#e1e1ff,#e2e2ff,#e3e3ff,#e4e4ff,#e6e6ff,#e6e6ff,#e6e6ff,#e5e5ff,#e5e5ff,#e4e4ff,#e5e5ff,#e5e5ff,#e6e6ff,#e7e7ff,#e7e7ff,#e7e7ff,#e7e7ff,#e7e7ff,#e9e9ff,#ececff,#f0f0ff,#f5f5ff,#f5f5ff)"></i><i style="background:linear-gradient(90deg,#f5f5ff,#f5f5ff,#f1f1ff,#efefff,#ededff,#ececff,#ececff,#ebebff,#eaeaff,#e9e9ff,#e8e8ff,#e7e7ff,#e7e7ff,#e7e7ff,#e7e7ff,#e7e7ff,#e7e7ff,#e7e7ff,#e7e7ff,#e7e7ff,#e6e6ff,#e6e6ff,#e6e6ff,#e6e6ff,#e6e6ff,#e5e5ff,#e3e3ff,#e2e2ff,#dfdfff,#ddddff,#dbdbff,#d9d9ff,#d8d8ff,#d7d7ff,#d7d7ff,#d7d7ff,#d9d9ff,#dadaff,#dcdcff,#ddddff,#ddddff,#ddddff,#dedeff,#dedeff,#dfdfff,#e0e0ff,#e1e1ff,#e2e2ff,#e3e3ff,#e3e3ff,#e4e4ff,#e5e5ff,#e6e6ff,#e8e8ff,#e8e8ff,#e8e8ff,#e7e7ff,#e6e6ff,#e6e6ff,#e6e6ff,#e7e7ff,#e8e8ff,#e9e9ff,#e9e9ff,#e9e9ff,#e9e9ff,#eaeaff,#ebebff,#ededff,#f1f1ff,#f5f5ff,#f5f5ff)"></i><i style="background:linear-gradient(90deg,#f6f6ff,#f6f6ff,#f3f3ff,#f0f0ff,#eeeeff,#eeeeff,#ededff,#ededff,#ececff,#ebebff,#eaeaff,#e9e9ff,#e8e8ff,#e8e8ff,#e8e8ff,#e9e9ff,#e9e9ff,#e9e9ff,#e9e9ff,#e8e8ff,#e8e8ff,#e8e8ff,#e8e8ff,#e8e8ff,#e8e8ff,#e8e8ff,#e6e6ff,#e4e4ff,#e2e2ff,#e0e0ff,#dedeff,#dcdcff,#dbdbff,#dadaff,#dadaff,#dbdbff,#dcdcff,#dedeff,#dfdfff,#e0e0ff,#e0e0ff,#e0e0ff,#e0e0ff,#e0e0ff,#e1e1ff,#e2e2ff,#e3e3ff,#e4e4ff,#e4e4ff,#e4e4ff,#e5e5ff,#e6e6ff,#e8e8ff,#eaeaff,#eaeaff,#eaeaff,#e9e9ff,#e8e8ff,#e7e7ff,#e8e8ff,#e9e9ff,#eaeaff,#ebebff,#ebebff,#ececff,#ececff,#ececff,#ededff,#efefff,#f2f2ff,#f6f6ff,#f6f6ff)"></i><i style="background:linear-gradient(90deg,#f7f7ff,#f7f7ff,#f4f4ff,#f1f1ff,#f0f0ff,#efefff,#eeeeff,#eeeeff,#ededff,#ececff,#ebebff,#eaeaff,#eaeaff,#eaeaff,#eaeaff,#eaeaff,#eaeaff,#eaeaff,#eaeaff,#eaeaff,#e9e9ff,#e9e9ff,#eaeaff,#eaeaff,#eaeaff,#eaeaff,#e8e8ff,#e7e7ff,#e5e5ff,#e3e3ff,#e1e1ff,#dfdfff,#dedeff,#ddddff,#ddddff,#dedeff,#dfdfff,#e1e1ff,#e2e2ff,#e3e3ff,#e2e2ff,#e2e2ff,#e2e2ff,#e2e2ff,#e3e3ff,#e4e4ff,#e5e5ff,#e5e5ff,#e6e6ff,#e6e6ff,#e7e7ff,#e8e8ff,#eaeaff,#ebebff,#ececff,#ebebff,#eaeaff,#e9e9ff,#e9e9ff,#eaeaff,#ebebff,#ececff,#ededff,#eeeeff,#eeeeff,#eeeeff,#eeeeff,#eeeeff,#f0f0ff,#f3f3ff,#f6f6ff,#f6f6ff)"></i><i style="background:linear-gradient(90deg,#f8f8ff,#f8f8ff,#f5f5ff,#f2f2ff,#f1f1ff,#f0f0ff,#efefff,#efefff,#eeeeff,#ededff,#ededff,#ececff,#ebebff,#ebebff,#ebebff,#ececff,#ececff,#ececff,#ececff,#ebebff,#ebebff,#ebebff,#ebebff,#ececff,#ececff,#ebebff,#eaeaff,#e8e8ff,#e7e7ff,#e5e5ff,#e3e3ff,#e1e1ff,#e0e0ff,#e0e0ff,#e0e0ff,#e1e1ff,#e2e2ff,#e4e4ff,#e5e5ff,#e6e6ff,#e5e5ff,#e5e5ff,#e4e4ff,#e4e4ff,#e5e5ff,#e6e6ff,#e7e7ff,#e7e7ff,#e7e7ff,#e8e8ff,#e8e8ff,#e9e9ff,#ebebff,#ececff,#ededff,#ededff,#ececff,#ebebff,#ebebff,#ebebff,#ececff,#eeeeff,#efefff,#f0f0ff,#f0f0ff,#f0f0ff,#f0f0ff,#f0f0ff,#f1f1ff,#f4f4ff,#f7f7ff,#f7f7ff)"></i><i style="background:linear-gradient(90deg,#f8f8ff,#f8f8ff,#f6f6ff,#f4f4ff,#f2f2ff,#f1f1ff,#f0f0ff,#f0f0ff,#f0f0ff,#efefff,#eeeeff,#ededff,#ededff,#ededff,#ededff,#ededff,#ededff,#ededff,#ededff,#ededff,#ececff,#ececff,#ededff,#ededff,#ededff,#ececff,#ebebff,#eaeaff,#e8e8ff,#e6e6ff,#e5e5ff,#e3e3ff,#e3e3ff,#e2e2ff,#e3e3ff,#e4e4ff,#e5e5ff,#e7e7ff,#e8e8ff,#e8e8ff,#e8e8ff,#e7e7ff,#e7e7ff,#e7e7ff,#e7e7ff,#e8e8ff,#e8e8ff,#e9e9ff,#e9e9ff,#e9e9ff,#e9e9ff,#ebebff,#ececff,#eeeeff,#eeeeff,#eeeeff,#ededff,#ededff,#ececff,#ededff,#eeeeff,#efefff,#f0f0ff,#f1f1ff,#f2f2ff,#f1f1ff,#f1f1ff,#f1f1ff,#f2f2ff,#f4f4ff,#f7f7ff,#f7f7ff)"></i><i style="background:linear-gradient(90deg,#f9f9ff,#f9f9ff,#f7f7ff,#f5f5ff,#f3f3ff,#f2f2ff,#f2f2ff,#f1f1ff,#f1f1ff,#f0f0ff,#f0f0ff,#efefff,#efefff,#efefff,#efefff,#efefff,#efefff,#efefff,#eeeeff,#eeeeff,#eeeeff,#eeeeff,#eeeeff,#eeeeff,#eeeeff,#eeeeff,#ededff,#ebebff,#eaeaff,#e8e8ff,#e6e6ff,#e5e5ff,#e5e5ff,#e4e4ff,#e5e5ff,#e6e6ff,#e8e8ff,#e9e9ff,#ebebff,#ebebff,#eaeaff,#eaeaff,#e9e9ff,#e9e9ff,#e9e9ff,#eaeaff,#eaeaff,#ebebff,#ebebff,#eaeaff,#ebebff,#ececff,#ededff,#efefff,#f0f0ff,#f0f0ff,#efefff,#eeeeff,#eeeeff,#efefff,#f0f0ff,#f1f1ff,#f2f2ff,#f3f3ff,#f3f3ff,#f3f3ff,#f2f2ff,#f2f2ff,#f3f3ff,#f5f5ff,#f8f8ff,#f8f8ff)"></i><i style="background:linear-gradient(90deg,#fafaff,#fafaff,#f7f7ff,#f5f5ff,#f4f4ff,#f3f3ff,#f3f3ff,#f2f2ff,#f2f2ff,#f2f2ff,#f2f2ff,#f1f1ff,#f1f1ff,#f1f1ff,#f1f1ff,#f1f1ff,#f1f1ff,#f0f0ff,#f0f0ff,#efefff,#efefff,#efefff,#efefff,#efefff,#efefff,#efefff,#eeeeff,#ededff,#ebebff,#e9e9ff,#e8e8ff,#e7e7ff,#e6e6ff,#e6e6ff,#e7e7ff,#e8e8ff,#eaeaff,#ececff,#ededff,#ededff,#ededff,#ececff,#ebebff,#ebebff,#ececff,#ececff,#ececff,#ececff,#ececff,#ececff,#ececff,#ededff,#eeeeff,#f0f0ff,#f1f1ff,#f1f1ff,#f1f1ff,#f0f0ff,#f0f0ff,#f0f0ff,#f1f1ff,#f2f2ff,#f3f3ff,#f4f4ff,#f4f4ff,#f4f4ff,#f3f3ff,#f3f3ff,#f4f4ff,#f6f6ff,#f9f9ff,#f9f9ff)"></i><i style="background:linear-gradient(90deg,#fafaff,#fafaff,#f8f8ff,#f6f6ff,#f5f5ff,#f4f4ff,#f4f4ff,#f3f3ff,#f3f3ff,#f3f3ff,#f3f3ff,#f3f3ff,#f3f3ff,#f3f3ff,#f3f3ff,#f2f2ff,#f2f2ff,#f1f1ff,#f1f1ff,#f1f1ff,#f1f1ff,#f1f1ff,#f1f1ff,#f1f1ff,#f0f0ff,#f0f0ff,#efefff,#eeeeff,#ececff,#ebebff,#eaeaff,#e9e9ff,#e8e8ff,#e8e8ff,#e9e9ff,#eaeaff,#ececff,#eeeeff,#efefff,#f0f0ff,#efefff,#eeeeff,#eeeeff,#eeeeff,#eeeeff,#eeeeff,#eeeeff,#eeeeff,#ededff,#ededff,#ededff,#eeeeff,#f0f0ff,#f1f1ff,#f2f2ff,#f2f2ff,#f2f2ff,#f2f2ff,#f2f2ff,#f2f2ff,#f2f2ff,#f3f3ff,#f4f4ff,#f4f4ff,#f5f5ff,#f4f4ff,#f4f4ff,#f4f4ff,#f5f5ff,#f7f7ff,#f9f9ff,#f9f9ff)"></i><i style="background:linear-gradient(90deg,#fbfbff,#fbfbff,#f9f9ff,#f7f7ff,#f6f6ff,#f5f5ff,#f5f5ff,#f5f5ff,#f5f5ff,#f5f5ff,#f5f5ff,#f5f5ff,#f5f5ff,#f5f5ff,#f4f4ff,#f4f4ff,#f3f3ff,#f3f3ff,#f2f2ff,#f2f2ff,#f2f2ff,#f2f2ff,#f2f2ff,#f2f2ff,#f2f2ff,#f1f1ff,#f0f0ff,#efefff,#eeeeff,#ededff,#ebebff,#ebebff,#eaeaff,#eaeaff,#ebebff,#ececff,#ededff,#efefff,#f1f1ff,#f1f1ff,#f1f1ff,#f0f0ff,#f0f0ff,#f0f0ff,#f0f0ff,#f0f0ff,#f0f0ff,#efefff,#efefff,#efefff,#efefff,#efefff,#f1f1ff,#f2f2ff,#f3f3ff,#f4f4ff,#f4f4ff,#f3f3ff,#f3f3ff,#f3f3ff,#f4f4ff,#f4f4ff,#f5f5ff,#f5f5ff,#f5f5ff,#f5f5ff,#f5f5ff,#f5f5ff,#f7f7ff,#f8f8ff,#fafaff,#fafaff)"></i><i style="background:linear-gradient(90deg,#fbfbff,#fbfbff,#f9f9ff,#f8f8ff,#f6f6ff,#f6f6ff,#f6f6ff,#f6f6ff,#f6f6ff,#f6f6ff,#f6f6ff,#f6f6ff,#f6f6ff,#f6f6ff,#f6f6ff,#f5f5ff,#f4f4ff,#f4f4ff,#f3f3ff,#f3f3ff,#f3f3ff,#f3f3ff,#f3f3ff,#f3f3ff,#f3f3ff,#f2f2ff,#f2f2ff,#f1f1ff,#f0f0ff,#eeeeff,#ededff,#ededff,#ececff,#ececff,#ededff,#eeeeff,#efefff,#f1f1ff,#f2f2ff,#f3f3ff,#f3f3ff,#f2f2ff,#f2f2ff,#f2f2ff,#f2f2ff,#f1f1ff,#f1f1ff,#f1f1ff,#f0f0ff,#f0f0ff,#f0f0ff,#f1f1ff,#f2f2ff,#f3f3ff,#f4f4ff,#f5f5ff,#f5f5ff,#f5f5ff,#f5f5ff,#f5f5ff,#f5f5ff,#f5f5ff,#f6f6ff,#f6f6ff,#f6f6ff,#f6f6ff,#f6f6ff,#f7f7ff,#f8f8ff,#f9f9ff,#fbfbff,#fbfbff)"></i><i style="background:linear-gradient(90deg,#fbfbff,#fbfbff,#fafaff,#f8f8ff,#f7f7ff,#f7f7ff,#f7f7ff,#f7f7ff,#f7f7ff,#f7f7ff,#f7f7ff,#f7f7ff,#f7f7ff,#f7f7ff,#f7f7ff,#f6f6ff,#f5f5ff,#f5f5ff,#f4f4ff,#f4f4ff,#f5f5ff,#f5f5ff,#f5f5ff,#f4f4ff,#f4f4ff,#f4f4ff,#f3f3ff,#f2f2ff,#f1f1ff,#f0f0ff,#f0f0ff,#efefff,#eeeeff,#eeeeff,#efefff,#efefff,#f1f1ff,#f2f2ff,#f3f3ff,#f4f4ff,#f4f4ff,#f4f4ff,#f3f3ff,#f3f3ff,#f3f3ff,#f3f3ff,#f3f3ff,#f2f2ff,#f2f2ff,#f1f1ff,#f1f1ff,#f2f2ff,#f3f3ff,#f4f4ff,#f5f5ff,#f6f6ff,#f6f6ff,#f6f6ff,#f6f6ff,#f6f6ff,#f6f6ff,#f6f6ff,#f6f6ff,#f7f7ff,#f7f7ff,#f7f7ff,#f7f7ff,#f8f8ff,#f9f9ff,#fafaff,#fcfcff,#fcfcff)"></i><i style="background:linear-gradient(90deg,#fcfcff,#fcfcff,#fafaff,#f9f9ff,#f8f8ff,#f8f8ff,#f8f8ff,#f8f8ff,#f8f8ff,#f8f8ff,#f8f8ff,#f9f9ff,#f8f8ff,#f8f8ff,#f8f8ff,#f7f7ff,#f6f6ff,#f6f6ff,#f5f5ff,#f5f5ff,#f6f6ff,#f6f6ff,#f6f6ff,#f6f6ff,#f5f5ff,#f5f5ff,#f4f4ff,#f4f4ff,#f3f3ff,#f2f2ff,#f2f2ff,#f1f1ff,#f1f1ff,#f0f0ff,#f1f1ff,#f1f1ff,#f2f2ff,#f3f3ff,#f4f4ff,#f5f5ff,#f5f5ff,#f5f5ff,#f5f5ff,#f5f5ff,#f5f5ff,#f4f4ff,#f4f4ff,#f3f3ff,#f3f3ff,#f3f3ff,#f3f3ff,#f3f3ff,#f4f4ff,#f5f5ff,#f6f6ff,#f6f6ff,#f7f7ff,#f7f7ff,#f7f7ff,#f7f7ff,#f7f7ff,#f7f7ff,#f7f7ff,#f7f7ff,#f7f7ff,#f8f8ff,#f8f8ff,#f9f9ff,#fafaff,#fbfbff,#fcfcff,#fcfcff)"></i><i style="background:linear-gradient(90deg,#fcfcff,#fcfcff,#fbfbff,#fafaff,#f9f9ff,#f9f9ff,#f9f9ff,#f9f9ff,#f9f9ff,#f9f9ff,#f9f9ff,#f9f9ff,#f9f9ff,#f9f9ff,#f8f8ff,#f8f8ff,#f7f7ff,#f7f7ff,#f6f6ff,#f6f6ff,#f7f7ff,#f7f7ff,#f7f7ff,#f7f7ff,#f6f6ff,#f6f6ff,#f6f6ff,#f6f6ff,#f5f5ff,#f4f4ff,#f4f4ff,#f3f3ff,#f3f3ff,#f3f3ff,#f3f3ff,#f3f3ff,#f4f4ff,#f5f5ff,#f5f5ff,#f6f6ff,#f6f6ff,#f6f6ff,#f6f6ff,#f6f6ff,#f6f6ff,#f6f6ff,#f5f5ff,#f5f5ff,#f4f4ff,#f4f4ff,#f5f5ff,#f5f5ff,#f5f5ff,#f6f6ff,#f7f7ff,#f7f7ff,#f8f8ff,#f8f8ff,#f8f8ff,#f8f8ff,#f8f8ff,#f8f8ff,#f8f8ff,#f8f8ff,#f8f8ff,#f9f9ff,#f9f9ff,#fafaff,#fbfbff,#fcfcff,#fdfdff,#fdfdff)"></i><i style="background:linear-gradient(90deg,#fcfcff,#fcfcff,#fbfbff,#fafaff,#fafaff,#f9f9ff,#fafaff,#fafaff,#fafaff,#fafaff,#fafaff,#fafaff,#fafaff,#fafaff,#f9f9ff,#f9f9ff,#f8f8ff,#f8f8ff,#f7f7ff,#f7f7ff,#f8f8ff,#f8f8ff,#f8f8ff,#f8f8ff,#f7f7ff,#f7f7ff,#f7f7ff,#f7f7ff,#f7f7ff,#f6f6ff,#f6f6ff,#f5f5ff,#f5f5ff,#f5f5ff,#f5f5ff,#f5f5ff,#f5f5ff,#f6f6ff,#f6f6ff,#f7f7ff,#f7f7ff,#f7f7ff,#f7f7ff,#f7f7ff,#f7f7ff,#f7f7ff,#f6f6ff,#f6f6ff,#f6f6ff,#f6f6ff,#f6f6ff,#f7f7ff,#f7f7ff,#f7f7ff,#f8f8ff,#f8f8ff,#f9f9ff,#f9f9ff,#f9f9ff,#f9f9ff,#f8f8ff,#f9f9ff,#f9f9ff,#f9f9ff,#f9f9ff,#fafaff,#fafaff,#fafaff,#fbfbff,#fcfcff,#fdfdff,#fdfdff)"></i><i style="background:linear-gradient(90deg,#fdfdff,#fdfdff,#fcfcff,#fbfbff,#fafaff,#fafaff,#fafaff,#fbfbff,#fbfbff,#fbfbff,#fbfbff,#fbfbff,#fafaff,#fafaff,#fafaff,#f9f9ff,#f9f9ff,#f8f8ff,#f8f8ff,#f8f8ff,#f9f9ff,#f9f9ff,#f9f9ff,#f9f9ff,#f9f9ff,#f8f8ff,#f8f8ff,#f8f8ff,#f8f8ff,#f8f8ff,#f7f7ff,#f7f7ff,#f7f7ff,#f7f7ff,#f7f7ff,#f7f7ff,#f7f7ff,#f7f7ff,#f7f7ff,#f8f8ff,#f8f8ff,#f8f8ff,#f8f8ff,#f8f8ff,#f8f8ff,#f8f8ff,#f7f7ff,#f7f7ff,#f7f7ff,#f7f7ff,#f8f8ff,#f8f8ff,#f8f8ff,#f8f8ff,#f9f9ff,#f9f9ff,#f9f9ff,#fafaff,#f9f9ff,#f9f9ff,#f9f9ff,#f9f9ff,#fafaff,#fafaff,#fafaff,#fafaff,#fbfbff,#fbfbff,#fcfcff,#fdfdff,#fdfdff,#fdfdff)"></i><i style="background:linear-gradient(90deg,#fdfdff,#fdfdff,#fcfcff,#fbfbff,#fbfbff,#fbfbff,#fbfbff,#fbfbff,#fbfbff,#fbfbff,#fbfbff,#fbfbff,#fbfbff,#fbfbff,#fafaff,#fafaff,#fafaff,#f9f9ff,#f9f9ff,#f9f9ff,#fafaff,#fafaff,#fafaff,#fafaff,#fafaff,#f9f9ff,#f9f9ff,#f9f9ff,#f9f9ff,#f9f9ff,#f9f9ff,#f8f8ff,#f8f8ff,#f8f8ff,#f8f8ff,#f8f8ff,#f8f8ff,#f8f8ff,#f8f8ff,#f8f8ff,#f8f8ff,#f9f9ff,#f9f9ff,#f9f9ff,#f9f9ff,#f9f9ff,#f8f8ff,#f8f8ff,#f8f8ff,#f9f9ff,#f9f9ff,#f9f9ff,#fafaff,#fafaff,#fafaff,#fafaff,#fafaff,#fafaff,#fafaff,#fafaff,#fafaff,#fafaff,#fafaff,#fbfbff,#fbfbff,#fbfbff,#fbfbff,#fcfcff,#fcfcff,#fdfdff,#fefeff,#fefeff)"></i><i style="background:linear-gradient(90deg,#fdfdff,#fdfdff,#fcfcff,#fcfcff,#fcfcff,#fcfcff,#fcfcff,#fcfcff,#fcfcff,#fcfcff,#fcfcff,#fcfcff,#fbfbff,#fbfbff,#fbfbff,#fbfbff,#fafaff,#fafaff,#fafaff,#fafaff,#fafaff,#fbfbff,#fbfbff,#fbfbff,#fbfbff,#fafaff,#fafaff,#fafaff,#fafaff,#fafaff,#fafaff,#f9f9ff,#f9f9ff,#fafaff,#fafaff,#f9f9ff,#f9f9ff,#f9f9ff,#f9f9ff,#f9f9ff,#f9f9ff,#f9f9ff,#f9f9ff,#fafaff,#fafaff,#fafaff,#f9f9ff,#f9f9ff,#fafaff,#fafaff,#fafaff,#fbfbff,#fbfbff,#fbfbff,#fbfbff,#fbfbff,#fbfbff,#fbfbff,#fbfbff,#fbfbff,#fbfbff,#fbfbff,#fbfbff,#fbfbff,#fcfcff,#fcfcff,#fcfcff,#fcfcff,#fdfdff,#fdfdff,#fefeff,#fefeff)"></i><i style="background:linear-gradient(90deg,#fdfdff,#fdfdff,#fdfdff,#fcfcff,#fcfcff,#fcfcff,#fdfdff,#fdfdff,#fdfdff,#fdfdff,#fcfcff,#fcfcff,#fcfcff,#fcfcff,#fbfbff,#fbfbff,#fbfbff,#fbfbff,#fbfbff,#fbfbff,#fbfbff,#fcfcff,#fcfcff,#fcfcff,#fcfcff,#fbfbff,#fbfbff,#fbfbff,#fbfbff,#fbfbff,#fbfbff,#fafaff,#fbfbff,#fbfbff,#fbfbff,#fbfbff,#fafaff,#fafaff,#fafaff,#fafaff,#fafaff,#fafaff,#fafaff,#fafaff,#fafaff,#fafaff,#fafaff,#fafaff,#fbfbff,#fbfbff,#fbfbff,#fcfcff,#fcfcff,#fcfcff,#fcfcff,#fcfcff,#fcfcff,#fcfcff,#fcfcff,#fcfcff,#fcfcff,#fcfcff,#fcfcff,#fcfcff,#fcfcff,#fcfcff,#fdfdff,#fdfdff,#fdfdff,#fdfdff,#fefeff,#fefeff)"></i><i style="background:linear-gradient(90deg,#fefeff,#fefeff,#fdfdff,#fdfdff,#fdfdff,#fdfdff,#fdfdff,#fdfdff,#fdfdff,#fdfdff,#fdfdff,#fdfdff,#fcfcff,#fcfcff,#fcfcff,#fcfcff,#fcfcff,#fcfcff,#fcfcff,#fcfcff,#fcfcff,#fcfcff,#fdfdff,#fcfcff,#fcfcff,#fcfcff,#fcfcff,#fcfcff,#fbfbff,#fbfbff,#fbfbff,#fbfbff,#fbfbff,#fcfcff,#fcfcff,#fbfbff,#fbfbff,#fbfbff,#fbfbff,#fafaff,#fafaff,#fbfbff,#fbfbff,#fbfbff,#fbfbff,#fbfbff,#fbfbff,#fbfbff,#fcfcff,#fcfcff,#fcfcff,#fcfcff,#fdfdff,#fdfdff,#fdfdff,#fdfdff,#fdfdff,#fcfcff,#fcfcff,#fcfcff,#fcfcff,#fcfcff,#fcfcff,#fdfdff,#fdfdff,#fdfdff,#fdfdff,#fdfdff,#fdfdff,#fdfdff,#fefeff,#fefeff)"></i><i style="background:linear-gradient(90deg,#fefeff,#fefeff,#fdfdff,#fdfdff,#fdfdff,#fdfdff,#fdfdff,#fefeff,#fdfdff,#fdfdff,#fdfdff,#fdfdff,#fdfdff,#fdfdff,#fdfdff,#fcfcff,#fcfcff,#fcfcff,#fcfcff,#fdfdff,#fdfdff,#fdfdff,#fdfdff,#fdfdff,#fdfdff,#fdfdff,#fcfcff,#fcfcff,#fcfcff,#fcfcff,#fcfcff,#fcfcff,#fcfcff,#fcfcff,#fcfcff,#fcfcff,#fcfcff,#fbfbff,#fbfbff,#fbfbff,#fbfbff,#fbfbff,#fbfbff,#fcfcff,#fcfcff,#fcfcff,#fcfcff,#fcfcff,#fcfcff,#fdfdff,#fdfdff,#fdfdff,#fdfdff,#fdfdff,#fdfdff,#fdfdff,#fdfdff,#fdfdff,#fdfdff,#fdfdff,#fdfdff,#fdfdff,#fdfdff,#fdfdff,#fdfdff,#fdfdff,#fdfdff,#fdfdff,#fdfdff,#fefeff,#fefeff,#fefeff)"></i><i style="background:linear-gradient(90deg,#fefeff,#fefeff,#fdfdff,#fdfdff,#fdfdff,#fdfdff,#fefeff,#fefeff,#fefeff,#fefeff,#fdfdff,#fdfdff,#fdfdff,#fdfdff,#fdfdff,#fdfdff,#fdfdff,#fdfdff,#fdfdff,#fdfdff,#fdfdff,#fdfdff,#fefeff,#fdfdff,#fdfdff,#fdfdff,#fdfdff,#fdfdff,#fcfcff,#fcfcff,#fcfcff,#fcfcff,#fdfdff,#fdfdff,#fdfdff,#fdfdff,#fcfcff,#fcfcff,#fcfcff,#fcfcff,#fcfcff,#fcfcff,#fcfcff,#fcfcff,#fcfcff,#fdfdff,#fdfdff,#fdfdff,#fdfdff,#fdfdff,#fdfdff,#fdfdff,#fefeff,#fefeff,#fefeff,#fefeff,#fdfdff,#fdfdff,#fdfdff,#fdfdff,#fdfdff,#fdfdff,#fdfdff,#fdfdff,#fefeff,#fefeff,#fefeff,#fdfdff,#fefeff,#fefeff,#fefeff,#fefeff)"></i><i style="background:linear-gradient(90deg,#fefeff,#fefeff,#fefeff,#fdfdff,#fdfdff,#fefeff,#fefeff,#fefeff,#fefeff,#fefeff,#fefeff,#fefeff,#fefeff,#fefeff,#fefeff,#fefeff,#fefeff,#fdfdff,#fefeff,#fefeff,#fefeff,#fefeff,#fefeff,#fefeff,#fefeff,#fdfdff,#fdfdff,#fdfdff,#fdfdff,#fdfdff,#fdfdff,#fdfdff,#fdfdff,#fdfdff,#fdfdff,#fdfdff,#fdfdff,#fdfdff,#fcfcff,#fcfcff,#fcfcff,#fdfdff,#fdfdff,#fdfdff,#fdfdff,#fdfdff,#fdfdff,#fdfdff,#fdfdff,#fefeff,#fefeff,#fefeff,#fefeff,#fefeff,#fefeff,#fefeff,#fefeff,#fdfdff,#fdfdff,#fdfdff,#fdfdff,#fefeff,#fefeff,#fefeff,#fefeff,#fefeff,#fefeff,#fefeff,#fefeff,#fefeff,#fefeff,#fefeff)"></i><i style="background:linear-gradient(90deg,#fefeff,#fefeff,#fefeff,#fefeff,#fefeff,#fefeff,#fefeff,#fefeff,#fefeff,#fefeff,#fefeff,#fefeff,#fefeff,#fefeff,#fefeff,#fefeff,#fefeff,#fefeff,#fefeff,#fefeff,#fefeff,#fefeff,#fefeff,#fefeff,#fefeff,#fefeff,#fdfdff,#fdfdff,#fdfdff,#fdfdff,#fdfdff,#fdfdff,#fdfdff,#fefeff,#fefeff,#fdfdff,#fdfdff,#fdfdff,#fdfdff,#fdfdff,#fdfdff,#fdfdff,#fdfdff,#fdfdff,#fefeff,#fefeff,#fefeff,#fefeff,#fefeff,#fefeff,#fefeff,#fefeff,#fefeff,#fefeff,#fefeff,#fefeff,#fefeff,#fefeff,#fefeff,#fefeff,#fefeff,#fefeff,#fefeff,#fefeff,#fefeff,#fefeff,#fefeff,#fefeff,#fefeff,#fefeff,#fefeff,#fefeff)"></i><i style="background:linear-gradient(90deg,#fefeff,#fefeff,#fefeff,#fefeff,#fefeff,#fefeff,#fefeff,#fefeff,#fefeff,#fefeff,#fefeff,#fefeff,#fefeff,#fefeff,#fefeff,#fefeff,#fefeff,#fefeff,#fefeff,#fefeff,#fefeff,#fefeff,#fefeff,#fefeff,#fefeff,#fefeff,#fefeff,#fefeff,#fdfdff,#fdfdff,#fdfdff,#fdfdff,#fefeff,#fefeff,#fefeff,#fefeff,#fefeff,#fdfdff,#fdfdff,#fdfdff,#fdfdff,#fefeff,#fefeff,#fefeff,#fefeff,#fefeff,#fefeff,#fefeff,#fefeff,#fefeff,#fefeff,#fefeff,#fefeff,#fefeff,#fefeff,#fefeff,#fefeff,#fefeff,#fefeff,#fefeff,#fefeff,#fefeff,#fefeff,#fefeff,#fefeff,#fefeff,#fefeff,#fefeff,#fefeff,#fefeff,#fefeff,#fefeff)"></i><i style="background:linear-gradient(90deg,#fefeff,#fefeff,#fefeff,#fefeff,#fefeff,#fefeff,#fefeff,#fefeff,#fefeff,#fefeff,#fefeff,#fefeff,#fefeff,#ffffff,#ffffff,#fefeff,#fefeff,#fefeff,#fefeff,#fefeff,#fefeff,#fefeff,#fefeff,#fefeff,#fefeff,#fefeff,#fefeff,#fefeff,#fefeff,#fefeff,#fefeff,#fefeff,#fefeff,#fefeff,#fefeff,#fefeff,#fefeff,#fefeff,#fefeff,#fefeff,#fefeff,#fefeff,#fefeff,#fefeff,#fefeff,#fefeff,#fefeff,#fefeff,#fefeff,#fefeff,#fefeff,#fefeff,#fefeff,#fefeff,#fefeff,#fefeff,#fefeff,#fefeff,#fefeff,#fefeff,#fefeff,#fefeff,#fefeff,#fefeff,#fefeff,#fefeff,#fefeff,#fefeff,#fefeff,#fefeff,#fefeff,#fefeff)"></i><i style="background:linear-gradient(90deg,#fefeff,#fefeff,#fefeff,#fefeff,#fefeff,#fefeff,#fefeff,#ffffff,#fefeff,#fefeff,#fefeff,#fefeff,#ffffff,#ffffff,#ffffff,#ffffff,#ffffff,#ffffff,#ffffff,#ffffff,#fefeff,#fefeff,#fefeff,#fefeff,#fefeff,#fefeff,#fefeff,#fefeff,#fefeff,#fefeff,#fefeff,#fefeff,#fefeff,#fefeff,#fefeff,#fefeff,#fefeff,#fefeff,#fefeff,#fefeff,#fefeff,#fefeff,#fefeff,#fefeff,#fefeff,#fefeff,#fefeff,#fefeff,#fefeff,#fefeff,#fefeff,#fefeff,#fefeff,#fefeff,#fefeff,#fefeff,#fefeff,#fefeff,#fefeff,#fefeff,#fefeff,#fefeff,#fefeff,#fefeff,#fefeff,#fefeff,#fefeff,#fefeff,#fefeff,#fefeff,#ffffff,#ffffff)"></i><i style="background:linear-gradient(90deg,#ffffff,#ffffff,#fefeff,#fefeff,#fefeff,#ffffff,#ffffff,#ffffff,#ffffff,#ffffff,#ffffff,#ffffff,#ffffff,#ffffff,#ffffff,#ffffff,#ffffff,#ffffff,#ffffff,#ffffff,#ffffff,#fefeff,#fefeff,#fefeff,#fefeff,#fefeff,#fefeff,#fefeff,#fefeff,#fefeff,#fefeff,#fefeff,#fefeff,#fefeff,#fefeff,#fefeff,#fefeff,#fefeff,#fefeff,#fefeff,#fefeff,#fefeff,#fefeff,#fefeff,#fefeff,#fefeff,#fefeff,#fefeff,#fefeff,#fefeff,#fefeff,#fefeff,#fefeff,#fefeff,#fefeff,#fefeff,#fefeff,#fefeff,#fefeff,#fefeff,#ffffff,#ffffff,#fefeff,#fefeff,#fefeff,#fefeff,#fefeff,#fefeff,#fefeff,#ffffff,#ffffff,#ffffff)"></i><i style="background:linear-gradient(90deg,#ffffff,#ffffff,#ffffff,#ffffff,#ffffff,#ffffff,#ffffff,#ffffff,#ffffff,#ffffff,#ffffff,#ffffff,#ffffff,#ffffff,#ffffff,#ffffff,#ffffff,#ffffff,#ffffff,#ffffff,#ffffff,#ffffff,#fefeff,#fefeff,#fefeff,#fefeff,#fefeff,#fefeff,#fefeff,#fefeff,#fefeff,#fefeff,#fefeff,#fefeff,#fefeff,#fefeff,#fefeff,#fefeff,#fefeff,#fefeff,#fefeff,#fefeff,#fefeff,#fefeff,#ffffff,#ffffff,#ffffff,#fefeff,#fefeff,#fefeff,#fefeff,#fefeff,#ffffff,#ffffff,#fefeff,#fefeff,#fefeff,#fefeff,#fefeff,#ffffff,#ffffff,#ffffff,#ffffff,#fefeff,#fefeff,#fefeff,#fefeff,#fefeff,#ffffff,#ffffff,#ffffff,#ffffff)"></i><i style="background:linear-gradient(90deg,#ffffff,#ffffff,#ffffff,#ffffff,#ffffff,#ffffff,#ffffff,#ffffff,#ffffff,#ffffff,#ffffff,#ffffff,#ffffff,#ffffff,#ffffff,#ffffff,#ffffff,#ffffff,#ffffff,#ffffff,#ffffff,#ffffff,#ffffff,#fefeff,#fefeff,#fefeff,#fefeff,#fefeff,#fefeff,#fefeff,#fefeff,#fefeff,#fefeff,#fefeff,#fefeff,#fefeff,#fefeff,#fefeff,#fefeff,#fefeff,#fefeff,#fefeff,#fefeff,#fefeff,#ffffff,#ffffff,#ffffff,#ffffff,#fefeff,#fefeff,#ffffff,#ffffff,#ffffff,#ffffff,#ffffff,#fefeff,#fefeff,#fefeff,#ffffff,#ffffff,#ffffff,#ffffff,#ffffff,#fefeff,#fefeff,#fefeff,#ffffff,#ffffff,#ffffff,#ffffff,#ffffff,#ffffff)"></i><i style="background:linear-gradient(90deg,#ffffff,#ffffff,#ffffff,#ffffff,#ffffff,#ffffff,#ffffff,#ffffff,#ffffff,#ffffff,#ffffff,#ffffff,#ffffff,#ffffff,#ffffff,#ffffff,#ffffff,#ffffff,#ffffff,#ffffff,#ffffff,#ffffff,#ffffff,#ffffff,#fefeff,#fefeff,#fefeff,#fefeff,#fefeff,#fefeff,#fefeff,#fefeff,#fefeff,#fefeff,#fefeff,#fefeff,#ffffff,#ffffff,#fefeff,#fefeff,#fefeff,#fefeff,#fefeff,#fefeff,#ffffff,#ffffff,#ffffff,#ffffff,#ffffff,#ffffff,#ffffff,#ffffff,#ffffff,#ffffff,#ffffff,#ffffff,#ffffff,#ffffff,#ffffff,#ffffff,#ffffff,#ffffff,#ffffff,#fefeff,#fefeff,#ffffff,#ffffff,#ffffff,#ffffff,#ffffff,#ffffff,#ffffff)"></i><i style="background:linear-gradient(90deg,#ffffff,#ffffff,#ffffff,#ffffff,#ffffff,#ffffff,#ffffff,#ffffff,#ffffff,#ffffff,#ffffff,#ffffff,#ffffff,#ffffff,#ffffff,#ffffff,#ffffff,#ffffff,#ffffff,#ffffff,#ffffff,#ffffff,#ffffff,#ffffff,#ffffff,#fefeff,#fefeff,#fefeff,#fefeff,#fefeff,#fefeff,#fefeff,#fefeff,#fefeff,#fefeff,#ffffff,#ffffff,#ffffff,#ffffff,#fefeff,#fefeff,#fefeff,#fefeff,#ffffff,#ffffff,#ffffff,#ffffff,#ffffff,#ffffff,#ffffff,#ffffff,#ffffff,#ffffff,#ffffff,#ffffff,#ffffff,#ffffff,#ffffff,#ffffff,#ffffff,#ffffff,#ffffff,#ffffff,#ffffff,#ffffff,#ffffff,#ffffff,#ffffff,#ffffff,#ffffff,#ffffff,#ffffff)"></i><i style="background:linear-gradient(90deg,#ffffff,#ffffff,#ffffff,#ffffff,#ffffff,#ffffff,#ffffff,#ffffff,#ffffff,#ffffff,#ffffff,#ffffff,#ffffff,#ffffff,#ffffff,#ffffff,#ffffff,#ffffff,#ffffff,#ffffff,#ffffff,#ffffff,#ffffff,#ffffff,#ffffff,#ffffff,#fefeff,#fefeff,#fefeff,#fefeff,#fefeff,#fefeff,#fefeff,#fefeff,#ffffff,#ffffff,#ffffff,#ffffff,#ffffff,#ffffff,#fefeff,#fefeff,#fefeff,#ffffff,#ffffff,#ffffff,#ffffff,#ffffff,#ffffff,#ffffff,#ffffff,#ffffff,#ffffff,#ffffff,#ffffff,#ffffff,#ffffff,#ffffff,#ffffff,#ffffff,#ffffff,#ffffff,#ffffff,#ffffff,#ffffff,#ffffff,#ffffff,#ffffff,#ffffff,#ffffff,#ffffff,#ffffff)"></i><i style="background:linear-gradient(90deg,#ffffff,#ffffff,#ffffff,#ffffff,#ffffff,#ffffff,#ffffff,#ffffff,#ffffff,#ffffff,#ffffff,#ffffff,#ffffff,#ffffff,#ffffff,#ffffff,#ffffff,#ffffff,#ffffff,#ffffff,#ffffff,#ffffff,#ffffff,#ffffff,#ffffff,#ffffff,#ffffff,#ffffff,#ffffff,#ffffff,#ffffff,#fefeff,#ffffff,#ffffff,#ffffff,#ffffff,#ffffff,#ffffff,#ffffff,#ffffff,#ffffff,#fefeff,#ffffff,#ffffff,#ffffff,#ffffff,#ffffff,#ffffff,#ffffff,#ffffff,#ffffff,#ffffff,#ffffff,#ffffff,#ffffff,#ffffff,#ffffff,#ffffff,#ffffff,#ffffff,#ffffff,#ffffff,#ffffff,#ffffff,#ffffff,#ffffff,#ffffff,#ffffff,#ffffff,#ffffff,#ffffff,#ffffff)"></i><i style="background:linear-gradient(90deg,#ffffff,#ffffff,#ffffff,#ffffff,#ffffff,#ffffff,#ffffff,#ffffff,#ffffff,#ffffff,#ffffff,#ffffff,#ffffff,#ffffff,#ffffff,#ffffff,#ffffff,#ffffff,#ffffff,#ffffff,#ffffff,#ffffff,#ffffff,#ffffff,#ffffff,#ffffff,#ffffff,#ffffff,#ffffff,#ffffff,#ffffff,#ffffff,#ffffff,#ffffff,#ffffff,#ffffff,#ffffff,#ffffff,#ffffff,#ffffff,#ffffff,#ffffff,#ffffff,#ffffff,#ffffff,#ffffff,#ffffff,#ffffff,#ffffff,#ffffff,#ffffff,#ffffff,#ffffff,#ffffff,#ffffff,#ffffff,#ffffff,#ffffff,#ffffff,#ffffff,#ffffff,#ffffff,#ffffff,#ffffff,#ffffff,#ffffff,#ffffff,#ffffff,#ffffff,#ffffff,#ffffff,#ffffff)"></i><i style="background:linear-gradient(90deg,#ffffff,#ffffff,#ffffff,#ffffff,#ffffff,#ffffff,#ffffff,#ffffff,#ffffff,#ffffff,#ffffff,#ffffff,#ffffff,#ffffff,#ffffff,#ffffff,#ffffff,#ffffff,#ffffff,#ffffff,#ffffff,#ffffff,#ffffff,#ffffff,#ffffff,#ffffff,#ffffff,#ffffff,#ffffff,#ffffff,#ffffff,#ffffff,#ffffff,#ffffff,#ffffff,#ffffff,#ffffff,#ffffff,#ffffff,#ffffff,#ffffff,#ffffff,#ffffff,#ffffff,#ffffff,#ffffff,#ffffff,#ffffff,#ffffff,#ffffff,#ffffff,#ffffff,#ffffff,#ffffff,#ffffff,#ffffff,#ffffff,#ffffff,#ffffff,#ffffff,#ffffff,#ffffff,#ffffff,#ffffff,#ffffff,#ffffff,#ffffff,#ffffff,#ffffff,#ffffff,#ffffff,#ffffff)"></i><i style="background:linear-gradient(90deg,#ffffff,#ffffff,#ffffff,#ffffff,#ffffff,#ffffff,#ffffff,#ffffff,#ffffff,#ffffff,#ffffff,#ffffff,#ffffff,#ffffff,#ffffff,#ffffff,#ffffff,#ffffff,#ffffff,#ffffff,#ffffff,#ffffff,#ffffff,#ffffff,#ffffff,#ffffff,#ffffff,#ffffff,#ffffff,#ffffff,#ffffff,#ffffff,#ffffff,#ffffff,#ffffff,#ffffff,#ffffff,#ffffff,#ffffff,#ffffff,#ffffff,#ffffff,#ffffff,#ffffff,#ffffff,#ffffff,#ffffff,#ffffff,#ffffff,#ffffff,#ffffff,#ffffff,#ffffff,#ffffff,#ffffff,#ffffff,#ffffff,#ffffff,#ffffff,#ffffff,#ffffff,#ffffff,#ffffff,#ffffff,#ffffff,#ffffff,#ffffff,#ffffff,#ffffff,#ffffff,#ffffff,#ffffff)"></i><i style="background:linear-gradient(90deg,#ffffff,#ffffff,#ffffff,#ffffff,#ffffff,#ffffff,#ffffff,#ffffff,#ffffff,#ffffff,#ffffff,#ffffff,#ffffff,#ffffff,#ffffff,#ffffff,#ffffff,#ffffff,#ffffff,#ffffff,#ffffff,#ffffff,#ffffff,#ffffff,#ffffff,#ffffff,#ffffff,#ffffff,#ffffff,#ffffff,#ffffff,#ffffff,#ffffff,#ffffff,#ffffff,#ffffff,#ffffff,#ffffff,#ffffff,#ffffff,#ffffff,#ffffff,#ffffff,#ffffff,#ffffff,#ffffff,#ffffff,#ffffff,#ffffff,#ffffff,#ffffff,#ffffff,#ffffff,#ffffff,#ffffff,#ffffff,#ffffff,#ffffff,#ffffff,#ffffff,#ffffff,#ffffff,#ffffff,#ffffff,#ffffff,#ffffff,#ffffff,#ffffff,#ffffff,#ffffff,#ffffff,#ffffff)"></i><i style="background:linear-gradient(90deg,#ffffff,#ffffff,#ffffff,#ffffff,#ffffff,#ffffff,#ffffff,#ffffff,#ffffff,#ffffff,#ffffff,#ffffff,#ffffff,#ffffff,#ffffff,#ffffff,#ffffff,#ffffff,#ffffff,#ffffff,#ffffff,#ffffff,#ffffff,#ffffff,#ffffff,#ffffff,#ffffff,#ffffff,#ffffff,#ffffff,#ffffff,#ffffff,#ffffff,#ffffff,#ffffff,#ffffff,#ffffff,#ffffff,#ffffff,#ffffff,#ffffff,#ffffff,#ffffff,#ffffff,#ffffff,#ffffff,#ffffff,#ffffff,#ffffff,#ffffff,#ffffff,#ffffff,#ffffff,#ffffff,#ffffff,#ffffff,#ffffff,#ffffff,#ffffff,#ffffff,#ffffff,#ffffff,#ffffff,#ffffff,#ffffff,#ffffff,#ffffff,#ffffff,#ffffff,#ffffff,#ffffff,#ffffff)"></i><i style="background:linear-gradient(90deg,#ffffff,#ffffff,#ffffff,#ffffff,#ffffff,#ffffff,#ffffff,#ffffff,#ffffff,#ffffff,#ffffff,#ffffff,#ffffff,#ffffff,#ffffff,#ffffff,#ffffff,#ffffff,#ffffff,#ffffff,#ffffff,#ffffff,#ffffff,#ffffff,#ffffff,#ffffff,#ffffff,#ffffff,#ffffff,#ffffff,#ffffff,#ffffff,#ffffff,#ffffff,#ffffff,#ffffff,#ffffff,#ffffff,#ffffff,#ffffff,#ffffff,#ffffff,#ffffff,#ffffff,#ffffff,#ffffff,#ffffff,#ffffff,#ffffff,#ffffff,#ffffff,#ffffff,#ffffff,#ffffff,#ffffff,#ffffff,#ffffff,#ffffff,#ffffff,#ffffff,#ffffff,#ffffff,#ffffff,#ffffff,#ffffff,#ffffff,#ffffff,#ffffff,#ffffff,#ffffff,#ffffff,#ffffff)"></i></div></div>
<svg width="1280" height="1280" viewBox="0 0 1280 1280">
<path d="M245.7 553.3h1.5M260.7 541.7h1.5M402.2 525.6h1.5M291.2 520.9h1.5m3 0h1.5M86.2 516.3h1.5m140.5 0h1.5m100 0h1.5M432.7 514h1.5M132.7 511.7h1.5m408.5 0h1.5m15.5 0h1.5M512.7 504.7h1.5M79.7 502.4h1.5m402.5 0h1.5M289.7 500.1h1.5M95.2 497.8h1.5m8 0h1.5m247.5 0h1.5m8.5 0h1.5m20 0h1.5m49.5 0h1.5m121 0h1.5M208.2 495.5h1.5m242 0h1.5M241.2 493.2h1.5m280 0h1.5M172.2 490.8h1.5m6 0h1.5m23 0h1.5m1 0h1.5m154 0h1.5m-1 0h1.5m23 0h1.5m17.5 0h1.5M133.2 488.5h1.5m49 0h1.5m4.5 0h1.5m220 0h1.5m75 0h1.5M333.7 486.2h1.5M93.7 483.9h1.5m110.5 0h1.5m158.5 0h1.5m41.5 0h1.5m112.5 0h1.5M124.7 481.6h1.5m194.5 0h1.5M94.7 479.3h1.5m415.5 0h1.5m42 0h1.5M108.7 477h1.5m31 0h1.5m74.5 0h1.5m20 0h1.5m91.5 0h1.5m84.5 0h1.5m7 0h1.5m18 0h1.5M108.2 474.6h1.5m86.5 0h1.5m28 0h1.5m45 0h1.5m42.5 0h1.5m27.5 0h1.5m54.5 0h1.5m46 0h1.5m11 0h1.5m0 0h1.5m8.5 0h1.5m44.5 0h1.5M86.2 472.3h1.5m171 0h1.5m49.5 0h1.5M116.7 470h1.5m59 0h1.5m9 0h1.5m89.5 0h1.5m226.5 0h1.5m3 0h1.5m32.5 0h1.5M209.2 467.7h1.5m40 0h1.5m97.5 0h1.5m-.5 0h1.5m49 0h1.5m29 0h1.5M188.7 465.4h1.5m45.5 0h1.5m65.5 0h1.5m4 0h1.5m80.5 0h1.5m16 0h1.5m11 0h1.5m5.5 0h1.5m95 0h1.5m17 0h1.5M82.7 463.1h1.5m183.5 0h1.5m14 0h1.5m37 0h1.5m61.5 0h1.5M388.7 460.8h1.5m24 0h1.5m76.5 0h1.5m14.5 0h1.5M171.2 458.4h1.5m34.5 0h1.5m25.5 0h1.5m74.5 0h1.5m54.5 0h1.5m11 0h1.5m10 0h1.5m1.5 0h1.5m4.5 0h1.5m21.5 0h1.5m6 0h1.5m-.5 0h1.5m42.5 0h1.5m7 0h1.5M201.7 456.1h1.5m30 0h1.5m10 0h1.5m33.5 0h1.5m32 0h1.5m2.5 0h1.5m44 0h1.5m3 0h1.5m19 0h1.5m47 0h1.5m119 0h1.5M100.7 453.8h1.5m84 0h1.5m81.5 0h1.5m95.5 0h1.5m5.5 0h1.5m29 0h1.5m20.5 0h1.5m7.5 0h1.5m57 0h1.5m4.5 0h1.5m36.5 0h1.5m11 0h1.5m8 0h1.5M108.7 451.5h1.5m66 0h1.5m44.5 0h1.5m31.5 0h1.5m12 0h1.5m10 0h1.5m82.5 0h1.5m0 0h1.5m2 0h1.5m1 0h1.5m11 0h1.5m2 0h1.5m45 0h1.5m-.5 0h1.5m0 0h1.5m36 0h1.5m23 0h1.5m6.5 0h1.5m45.5 0h1.5M175.7 449.2h1.5m1.5 0h1.5m35 0h1.5m77.5 0h1.5m66.5 0h1.5m6.5 0h1.5m5.5 0h1.5m8.5 0h1.5m7 0h1.5m51.5 0h1.5m4.5 0h1.5m29.5 0h1.5m4 0h1.5m14.5 0h1.5m7 0h1.5m45 0h1.5M110.7 446.9h1.5m16 0h1.5m18 0h1.5m14.5 0h1.5m41.5 0h1.5m86.5 0h1.5m1.5 0h1.5m5.5 0h1.5m21 0h1.5m13.5 0h1.5m29 0h1.5m20.5 0h1.5m58.5 0h1.5m1 0h1.5m12.5 0h1.5m1.5 0h1.5m14.5 0h1.5m3.5 0h1.5m8.5 0h1.5M147.2 444.6h1.5m69 0h1.5m61 0h1.5m16.5 0h1.5m11 0h1.5m14.5 0h1.5m54.5 0h1.5m24 0h1.5m62.5 0h1.5m14.5 0h1.5m30 0h1.5m5 0h1.5m27.5 0h1.5M83.7 442.2h1.5m13 0h1.5m20.5 0h1.5m34 0h1.5m0 0h1.5m31.5 0h1.5m7.5 0h1.5m8.5 0h1.5m17 0h1.5m22.5 0h1.5m13.5 0h1.5m38 0h1.5m11.5 0h1.5m11.5 0h1.5m2 0h1.5m91.5 0h1.5m22.5 0h1.5m45 0h1.5m19.5 0h1.5m14.5 0h1.5m14 0h1.5M149.7 439.9h1.5m7 0h1.5m31.5 0h1.5m25 0h1.5m23 0h1.5m5.5 0h1.5m24.5 0h1.5m3.5 0h1.5m15.5 0h1.5m14 0h1.5m11 0h1.5m2 0h1.5m3 0h1.5m.5 0h1.5m3.5 0h1.5m0 0h1.5m17 0h1.5m27.5 0h1.5m2 0h1.5m40 0h1.5m29.5 0h1.5m4 0h1.5m3.5 0h1.5M80.2 437.6h1.5m53 0h1.5m12 0h1.5m4 0h1.5m92.5 0h1.5m32.5 0h1.5m8.5 0h1.5m18.5 0h1.5m4 0h1.5m46.5 0h1.5m-1.5 0h1.5m7 0h1.5m-.5 0h1.5m18 0h1.5m0 0h1.5m55.5 0h1.5m33 0h1.5m2 0h1.5m-.5 0h1.5m1 0h1.5m11.5 0h1.5m53.5 0h1.5M91.7 435.3h1.5m77.5 0h1.5m0 0h1.5m43 0h1.5m52 0h1.5m12 0h1.5m10.5 0h1.5m13 0h1.5m2.5 0h1.5m5.5 0h1.5m6.5 0h1.5m7.5 0h1.5m8 0h1.5m19.5 0h1.5m6.5 0h1.5m29 0h1.5m42 0h1.5m15.5 0h1.5m9.5 0h1.5m5.5 0h1.5m5 0h1.5m-1 0h1.5m19 0h1.5m1.5 0h1.5M78.7 433h1.5m79 0h1.5m4 0h1.5m14 0h1.5m46 0h1.5m31.5 0h1.5m27.5 0h1.5m58 0h1.5m-1 0h1.5m11 0h1.5m51.5 0h1.5m13 0h1.5m59.5 0h1.5m55.5 0h1.5M101.7 430.7h1.5m31.5 0h1.5m-1 0h1.5m26 0h1.5m1.5 0h1.5m39.5 0h1.5m29.5 0h1.5m0 0h1.5m16 0h1.5m35.5 0h1.5m9.5 0h1.5m-.5 0h1.5m3 0h1.5m17.5 0h1.5m1.5 0h1.5m22.5 0h1.5m20.5 0h1.5m9.5 0h1.5m2 0h1.5m34.5 0h1.5m5 0h1.5m11.5 0h1.5m16.5 0h1.5m11.5 0h1.5m33.5 0h1.5m10.5 0h1.5m5.5 0h1.5M116.7 428.4h1.5m103.5 0h1.5m1 0h1.5m58.5 0h1.5m2.5 0h1.5m18 0h1.5m2 0h1.5m8.5 0h1.5m65.5 0h1.5m-1 0h1.5m8.5 0h1.5m32 0h1.5m8.5 0h1.5m11 0h1.5m16 0h1.5m37 0h1.5m33 0h1.5m2 0h1.5M138.2 426.1h1.5m43.5 0h1.5m24 0h1.5m3 0h1.5m3.5 0h1.5m0 0h1.5m31.5 0h1.5m7 0h1.5m1 0h1.5m39.5 0h1.5m7.5 0h1.5m7 0h1.5m37 0h1.5m18.5 0h1.5m39.5 0h1.5m14.5 0h1.5m23.5 0h1.5m2.5 0h1.5m27 0h1.5m22 0h1.5m5.5 0h1.5m12 0h1.5M112.2 423.7h1.5m5.5 0h1.5m4.5 0h1.5m42 0h1.5m14.5 0h1.5m65.5 0h1.5m28 0h1.5m-1 0h1.5m8 0h1.5m1.5 0h1.5m8 0h1.5m0 0h1.5m19.5 0h1.5m18.5 0h1.5m3.5 0h1.5m12 0h1.5m25.5 0h1.5m0 0h1.5m3 0h1.5m72 0h1.5m23 0h1.5m20.5 0h1.5m.5 0h1.5M80.2 421.4h1.5m.5 0h1.5m-1.5 0h1.5m24.5 0h1.5m35.5 0h1.5m-1 0h1.5m15.5 0h1.5m23.5 0h1.5m14 0h1.5m2 0h1.5m8.5 0h1.5m10.5 0h1.5m-.5 0h1.5m1.5 0h1.5m7 0h1.5m14 0h1.5m2.5 0h1.5m2.5 0h1.5m-1.5 0h1.5m16.5 0h1.5m9.5 0h1.5m31.5 0h1.5m3 0h1.5m7 0h1.5m12 0h1.5m-.5 0h1.5m29.5 0h1.5m57 0h1.5m12 0h1.5m18.5 0h1.5m35.5 0h1.5m.5 0h1.5m11 0h1.5M86.7 419.1h1.5m5.5 0h1.5m8 0h1.5m1 0h1.5m29.5 0h1.5m.5 0h1.5m5.5 0h1.5m2 0h1.5m4.5 0h1.5m40 0h1.5m47.5 0h1.5m2.5 0h1.5m16.5 0h1.5m15 0h1.5m3.5 0h1.5m13.5 0h1.5m8 0h1.5m6 0h1.5m14.5 0h1.5m5.5 0h1.5m42 0h1.5m4.5 0h1.5m12.5 0h1.5m18.5 0h1.5m58.5 0h1.5m3.5 0h1.5m22 0h1.5M80.7 416.8h1.5m6.5 0h1.5m56 0h1.5m84.5 0h1.5m16 0h1.5m-.5 0h1.5m-.5 0h1.5m7.5 0h1.5m6.5 0h1.5m26.5 0h1.5m-1.5 0h1.5m6 0h1.5m2.5 0h1.5m35.5 0h1.5m15.5 0h1.5m3 0h1.5m40 0h1.5m-.5 0h1.5m.5 0h1.5m.5 0h1.5m2 0h1.5m43 0h1.5m18 0h1.5m6 0h1.5m7 0h1.5m-1 0h1.5m2 0h1.5m-.5 0h1.5m12 0h1.5m48 0h1.5M78.7 414.5h1.5m-.5 0h1.5m4 0h1.5m20 0h1.5m-.5 0h1.5m28 0h1.5m8.5 0h1.5m1 0h1.5m17.5 0h1.5m6.5 0h1.5m8 0h1.5m14 0h1.5m16.5 0h1.5m-.5 0h1.5m15 0h1.5m-1 0h1.5m19 0h1.5m16 0h1.5m10 0h1.5m9 0h1.5m1.5 0h1.5m9.5 0h1.5m-.5 0h1.5m3.5 0h1.5m3 0h1.5m22 0h1.5m15.5 0h1.5m20 0h1.5m16 0h1.5m20.5 0h1.5m-1 0h1.5m27 0h1.5m16.5 0h1.5m5 0h1.5m0 0h1.5m1 0h1.5m8 0h1.5m4.5 0h1.5m-1 0h1.5m32 0h1.5m.5 0h1.5m6.5 0h1.5m3 0h1.5M106.7 412.2h1.5m0 0h1.5m-1 0h1.5m12 0h1.5m56.5 0h1.5m14.5 0h1.5m19.5 0h1.5m20.5 0h1.5m0 0h1.5m6 0h1.5m5 0h1.5m20 0h1.5m6 0h1.5m48 0h1.5m3 0h1.5m19 0h1.5m7.5 0h1.5m-.5 0h1.5m0 0h1.5m10.5 0h1.5m17 0h1.5m.5 0h1.5m33 0h1.5m15 0h1.5m7.5 0h1.5m0 0h1.5m4 0h1.5m13.5 0h1.5m62 0h1.5m6.5 0h1.5m3.5 0h1.5m-1.5 0h1.5m0 0h1.5M119.7 409.9h1.5m33.5 0h1.5m3.5 0h1.5m34.5 0h1.5m10 0h1.5m12 0h1.5m11.5 0h1.5m-1.5 0h1.5m8.5 0h1.5m13.5 0h1.5m14 0h1.5m0 0h1.5m17.5 0h1.5m2 0h1.5m3 0h1.5m16 0h1.5m-1 0h1.5m1.5 0h1.5m7 0h1.5m3.5 0h1.5m3.5 0h1.5m22.5 0h1.5m16.5 0h1.5m2.5 0h1.5m11 0h1.5m33.5 0h1.5m6.5 0h1.5m5 0h1.5m4 0h1.5m-.5 0h1.5m12.5 0h1.5m5.5 0h1.5m4 0h1.5m30.5 0h1.5m11.5 0h1.5M93.2 407.5h1.5m3 0h1.5m7.5 0h1.5m58 0h1.5m4 0h1.5m3 0h1.5m6.5 0h1.5m4.5 0h1.5m-1.5 0h1.5m37 0h1.5m33 0h1.5m13 0h1.5m.5 0h1.5m3.5 0h1.5m1 0h1.5m9.5 0h1.5m2.5 0h1.5m-.5 0h1.5m9.5 0h1.5m29 0h1.5m10.5 0h1.5m1 0h1.5m0 0h1.5m5 0h1.5m14 0h1.5m-.5 0h1.5m-1 0h1.5m17 0h1.5m31.5 0h1.5m-1.5 0h1.5m50 0h1.5m6.5 0h1.5m21.5 0h1.5m6 0h1.5m14.5 0h1.5m-1 0h1.5m7.5 0h1.5m1.5 0h1.5m12.5 0h1.5M103.7 405.2h1.5m30.5 0h1.5m3.5 0h1.5m41.5 0h1.5m13.5 0h1.5m30.5 0h1.5m6 0h1.5m2 0h1.5m6.5 0h1.5m0 0h1.5m2 0h1.5m1.5 0h1.5m23.5 0h1.5m4 0h1.5m-.5 0h1.5m0 0h1.5m0 0h1.5m9.5 0h1.5m4.5 0h1.5m9.5 0h1.5m1.5 0h1.5m.5 0h1.5m-1.5 0h1.5m18.5 0h1.5m19.5 0h1.5m10 0h1.5m7.5 0h1.5m22 0h1.5m27.5 0h1.5m.5 0h1.5m10 0h1.5m7.5 0h1.5m9 0h1.5m-.5 0h1.5m9 0h1.5m5 0h1.5m9 0h1.5m.5 0h1.5m-1 0h1.5m14 0h1.5m31 0h1.5m4.5 0h1.5M81.2 402.9h1.5m65.5 0h1.5m97.5 0h1.5m25 0h1.5m11.5 0h1.5m12 0h1.5m6 0h1.5m17 0h1.5m11 0h1.5m10.5 0h1.5m.5 0h1.5m4.5 0h1.5m7 0h1.5m7.5 0h1.5m8.5 0h1.5m13 0h1.5m11.5 0h1.5m18.5 0h1.5m15.5 0h1.5m1.5 0h1.5m5 0h1.5m4 0h1.5M79.7 400.6h1.5m26.5 0h1.5m3 0h1.5m3.5 0h1.5m9 0h1.5m18 0h1.5m4.5 0h1.5m41 0h1.5m52 0h1.5m8 0h1.5m4 0h1.5m1.5 0h1.5m15.5 0h1.5m5.5 0h1.5m20 0h1.5m13 0h1.5m7 0h1.5m5.5 0h1.5m12.5 0h1.5m.5 0h1.5m11.5 0h1.5m9 0h1.5m1 0h1.5m4.5 0h1.5m14 0h1.5m0 0h1.5m25.5 0h1.5m37 0h1.5m6 0h1.5m5 0h1.5m7 0h1.5m-.5 0h1.5m2.5 0h1.5m11.5 0h1.5m10 0h1.5m19 0h1.5M106.2 398.3h1.5m8.5 0h1.5m15 0h1.5m104 0h1.5m0 0h1.5m22 0h1.5m5.5 0h1.5m18 0h1.5m0 0h1.5m1 0h1.5m22 0h1.5m.5 0h1.5m11 0h1.5m6 0h1.5m13 0h1.5m-.5 0h1.5m32.5 0h1.5m2.5 0h1.5m21 0h1.5m1.5 0h1.5m2.5 0h1.5m4.5 0h1.5m9.5 0h1.5m5.5 0h1.5m2 0h1.5m9.5 0h1.5m15 0h1.5m31 0h1.5m2.5 0h1.5m-1 0h1.5m6 0h1.5m8 0h1.5m26.5 0h1.5m8.5 0h1.5m0 0h1.5M88.7 396h1.5m15 0h1.5m26 0h1.5m17.5 0h1.5m11 0h1.5m25.5 0h1.5m45.5 0h1.5m.5 0h1.5m4 0h1.5m29.5 0h1.5m10.5 0h1.5m-.5 0h1.5m-1.5 0h1.5m34 0h1.5m-1 0h1.5m1.5 0h1.5m40 0h1.5m6 0h1.5m11 0h1.5m9 0h1.5m6 0h1.5m0 0h1.5m22.5 0h1.5m23.5 0h1.5m-1 0h1.5m6 0h1.5m3.5 0h1.5m25 0h1.5m10 0h1.5m-1 0h1.5m29.5 0h1.5m24.5 0h1.5M81.2 393.7h1.5m13 0h1.5m18 0h1.5m16 0h1.5m15.5 0h1.5m38 0h1.5m28.5 0h1.5m15 0h1.5m-1 0h1.5m-.5 0h1.5m4 0h1.5m0 0h1.5m6.5 0h1.5m17 0h1.5m-1 0h1.5m22.5 0h1.5m3 0h1.5m-1.5 0h1.5m2 0h1.5m2 0h1.5m2 0h1.5m6 0h1.5m-1 0h1.5m.5 0h1.5m8.5 0h1.5m7.5 0h1.5m1 0h1.5m7 0h1.5m0 0h1.5m7.5 0h1.5m18.5 0h1.5m7.5 0h1.5m-.5 0h1.5m2.5 0h1.5m46.5 0h1.5m36 0h1.5m14 0h1.5m28 0h1.5m15.5 0h1.5M78.7 391.3h1.5m19.5 0h1.5m22.5 0h1.5m47.5 0h1.5m40 0h1.5m5 0h1.5m13.5 0h1.5m17.5 0h1.5m5.5 0h1.5m5 0h1.5m-.5 0h1.5m33 0h1.5m34 0h1.5m20 0h1.5m1 0h1.5m-.5 0h1.5m12.5 0h1.5m9.5 0h1.5m-.5 0h1.5m37 0h1.5m13.5 0h1.5m-1 0h1.5m18.5 0h1.5m1.5 0h1.5m8 0h1.5m20 0h1.5m17 0h1.5m9 0h1.5m12.5 0h1.5m9 0h1.5m8.5 0h1.5M78.2 389h1.5m9 0h1.5m-1.5 0h1.5m1 0h1.5m-1.5 0h1.5m6 0h1.5m3.5 0h1.5m8.5 0h1.5m-1 0h1.5m8 0h1.5m8.5 0h1.5m37 0h1.5m20.5 0h1.5m-.5 0h1.5m1.5 0h1.5m-1 0h1.5m-1 0h1.5m4.5 0h1.5m11 0h1.5m47.5 0h1.5m3 0h1.5m5 0h1.5m25 0h1.5m9 0h1.5m-1 0h1.5m4.5 0h1.5m3 0h1.5m13 0h1.5m.5 0h1.5m-.5 0h1.5m1.5 0h1.5m14 0h1.5m23.5 0h1.5m27 0h1.5m16.5 0h1.5m6.5 0h1.5m34 0h1.5m5 0h1.5m3 0h1.5m63.5 0h1.5m7 0h1.5M80.2 386.7h1.5m6.5 0h1.5m1 0h1.5m-1.5 0h1.5m20 0h1.5m-.5 0h1.5m6 0h1.5m-1 0h1.5m-1 0h1.5m10.5 0h1.5m19 0h1.5m5 0h1.5m-1.5 0h1.5m9.5 0h1.5m8 0h1.5m6 0h1.5m14 0h1.5m16.5 0h1.5m.5 0h1.5m20 0h1.5m2 0h1.5m7 0h1.5m19.5 0h1.5m7.5 0h1.5m12.5 0h1.5m1 0h1.5m5.5 0h1.5m20 0h1.5m1.5 0h1.5m15.5 0h1.5m3 0h1.5m11.5 0h1.5m2.5 0h1.5m-.5 0h1.5m.5 0h1.5m7 0h1.5m6.5 0h1.5m14 0h1.5m7 0h1.5m1 0h1.5m1.5 0h1.5m0 0h1.5m17 0h1.5m8 0h1.5m6 0h1.5m2.5 0h1.5m3 0h1.5m29 0h1.5m11 0h1.5m15 0h1.5m16 0h1.5m5.5 0h1.5m5 0h1.5m8.5 0h1.5M106.2 384.4h1.5m6 0h1.5m24.5 0h1.5m9 0h1.5m4.5 0h1.5m-1.5 0h1.5m52.5 0h1.5m2 0h1.5m15.5 0h1.5m17.5 0h1.5m9.5 0h1.5m4 0h1.5m15 0h1.5m.5 0h1.5m24.5 0h1.5m2.5 0h1.5m1 0h1.5m1 0h1.5m13.5 0h1.5m-1 0h1.5m31 0h1.5m17 0h1.5m6 0h1.5m9 0h1.5m4.5 0h1.5m13.5 0h1.5m3 0h1.5m11 0h1.5m20.5 0h1.5m-.5 0h1.5m11.5 0h1.5m3.5 0h1.5m17.5 0h1.5m24 0h1.5m10.5 0h1.5m22.5 0h1.5M87.7 382.1h1.5m17 0h1.5m47.5 0h1.5m.5 0h1.5m14.5 0h1.5m9 0h1.5m7.5 0h1.5m4 0h1.5m28 0h1.5m2 0h1.5m13 0h1.5m6.5 0h1.5m.5 0h1.5m8 0h1.5m11 0h1.5m10.5 0h1.5m19.5 0h1.5m0 0h1.5m9 0h1.5m-.5 0h1.5m0 0h1.5m9.5 0h1.5m-1.5 0h1.5m2 0h1.5m16 0h1.5m14.5 0h1.5m8.5 0h1.5m.5 0h1.5m27 0h1.5m37.5 0h1.5m3.5 0h1.5m1 0h1.5m1.5 0h1.5m-1.5 0h1.5m3 0h1.5m1 0h1.5m15 0h1.5m8.5 0h1.5m3 0h1.5m11 0h1.5m25 0h1.5m2.5 0h1.5m-.5 0h1.5m16 0h1.5m2.5 0h1.5M99.7 379.8h1.5m10 0h1.5m20.5 0h1.5m30 0h1.5m22.5 0h1.5m-.5 0h1.5m46 0h1.5m11.5 0h1.5m10.5 0h1.5m12.5 0h1.5m3 0h1.5m1 0h1.5m8 0h1.5m0 0h1.5m11 0h1.5m-1 0h1.5m1.5 0h1.5m9.5 0h1.5m7.5 0h1.5m8.5 0h1.5m1.5 0h1.5m9.5 0h1.5m-1.5 0h1.5m18 0h1.5m0 0h1.5m-1 0h1.5m26 0h1.5m7 0h1.5m3 0h1.5m22 0h1.5m16.5 0h1.5m2 0h1.5m5.5 0h1.5m-.5 0h1.5m4.5 0h1.5m11 0h1.5m8 0h1.5m3.5 0h1.5m-1 0h1.5m-.5 0h1.5m9 0h1.5m3.5 0h1.5m1 0h1.5m7.5 0h1.5m0 0h1.5m20 0h1.5m11.5 0h1.5M79.7 377.5h1.5m-1 0h1.5m29.5 0h1.5m1 0h1.5m-1 0h1.5m18.5 0h1.5m9.5 0h1.5m-1 0h1.5m4.5 0h1.5m15 0h1.5m20 0h1.5m5 0h1.5m36 0h1.5m11.5 0h1.5m.5 0h1.5m23.5 0h1.5m3 0h1.5m-1 0h1.5m11 0h1.5m13.5 0h1.5m4.5 0h1.5m5 0h1.5m.5 0h1.5m4.5 0h1.5m1.5 0h1.5m13 0h1.5m14.5 0h1.5m4 0h1.5m3.5 0h1.5m7.5 0h1.5m33.5 0h1.5m7.5 0h1.5m28 0h1.5m2 0h1.5m7 0h1.5m0 0h1.5m1.5 0h1.5m-1 0h1.5m6 0h1.5m15.5 0h1.5m2.5 0h1.5m0 0h1.5m3.5 0h1.5m31.5 0h1.5m4.5 0h1.5m18.5 0h1.5m.5 0h1.5m-.5 0h1.5M81.7 375.1h1.5m7 0h1.5m4 0h1.5m7.5 0h1.5m19 0h1.5m3 0h1.5m14.5 0h1.5m7.5 0h1.5m4.5 0h1.5m16.5 0h1.5m19.5 0h1.5m5 0h1.5m9.5 0h1.5m7 0h1.5m36.5 0h1.5m3 0h1.5m7.5 0h1.5m0 0h1.5m4 0h1.5m1.5 0h1.5m1 0h1.5m12.5 0h1.5m.5 0h1.5m.5 0h1.5m3 0h1.5m4.5 0h1.5m-1.5 0h1.5m-.5 0h1.5m4.5 0h1.5m-1 0h1.5m31 0h1.5m6 0h1.5m10.5 0h1.5m2.5 0h1.5m1 0h1.5m1 0h1.5m3.5 0h1.5m2.5 0h1.5m11.5 0h1.5m4.5 0h1.5m6.5 0h1.5m13.5 0h1.5m0 0h1.5m4.5 0h1.5m45 0h1.5m-.5 0h1.5m31 0h1.5m.5 0h1.5m5.5 0h1.5m8 0h1.5m7.5 0h1.5M85.7 372.8h1.5m2.5 0h1.5m20.5 0h1.5m5.5 0h1.5m7 0h1.5m6.5 0h1.5m4.5 0h1.5m21.5 0h1.5m4.5 0h1.5m5 0h1.5m23.5 0h1.5m33.5 0h1.5m8 0h1.5m17 0h1.5m7.5 0h1.5m.5 0h1.5m9.5 0h1.5m2 0h1.5m8.5 0h1.5m-1.5 0h1.5m2 0h1.5m1 0h1.5m7.5 0h1.5m1.5 0h1.5m-1 0h1.5m4.5 0h1.5m10.5 0h1.5m5 0h1.5m4 0h1.5m-1.5 0h1.5m5 0h1.5m1.5 0h1.5m18.5 0h1.5m8.5 0h1.5m2 0h1.5m5 0h1.5m7.5 0h1.5m10.5 0h1.5m17.5 0h1.5m-1 0h1.5m33.5 0h1.5m2.5 0h1.5m1 0h1.5m2.5 0h1.5m-1 0h1.5m19 0h1.5m7.5 0h1.5m12 0h1.5m1 0h1.5M137.2 370.5h1.5m1.5 0h1.5m7.5 0h1.5m59.5 0h1.5m-1.5 0h1.5m6.5 0h1.5m4 0h1.5m3 0h1.5m11 0h1.5m-1 0h1.5m13 0h1.5m.5 0h1.5m17.5 0h1.5m2.5 0h1.5m8.5 0h1.5m3 0h1.5m-1 0h1.5m.5 0h1.5m7 0h1.5m3.5 0h1.5m.5 0h1.5m1.5 0h1.5m1 0h1.5m2 0h1.5m1 0h1.5m9 0h1.5m2 0h1.5m4 0h1.5m2.5 0h1.5m22.5 0h1.5m2 0h1.5m-.5 0h1.5m4.5 0h1.5m11 0h1.5m-1 0h1.5m9.5 0h1.5m7 0h1.5m3 0h1.5m18.5 0h1.5m3 0h1.5m23 0h1.5m9.5 0h1.5m3 0h1.5m-.5 0h1.5m1 0h1.5m-.5 0h1.5m10 0h1.5m-1 0h1.5m6 0h1.5m18.5 0h1.5m13.5 0h1.5m-1 0h1.5M81.2 368.2h1.5m12 0h1.5m-1 0h1.5m8.5 0h1.5m14 0h1.5m5.5 0h1.5m26.5 0h1.5m2 0h1.5m8.5 0h1.5m8 0h1.5m-1 0h1.5m33 0h1.5m3.5 0h1.5m-1 0h1.5m42.5 0h1.5m3.5 0h1.5m10.5 0h1.5m15.5 0h1.5m-1 0h1.5m.5 0h1.5m15 0h1.5m2.5 0h1.5m-1 0h1.5m2.5 0h1.5m15 0h1.5m0 0h1.5m0 0h1.5m10.5 0h1.5m-1 0h1.5m1.5 0h1.5m3.5 0h1.5m-.5 0h1.5m5 0h1.5m1.5 0h1.5m11.5 0h1.5m7.5 0h1.5m-1 0h1.5m37.5 0h1.5m12 0h1.5m7.5 0h1.5m5 0h1.5m19 0h1.5m2.5 0h1.5m41.5 0h1.5m1.5 0h1.5m16 0h1.5m12.5 0h1.5m-1.5 0h1.5M82.7 365.9h1.5m-1.5 0h1.5m10.5 0h1.5m15 0h1.5m1.5 0h1.5m5 0h1.5m4.5 0h1.5m48 0h1.5m6.5 0h1.5m27 0h1.5m5 0h1.5m14 0h1.5m1 0h1.5m3.5 0h1.5m5.5 0h1.5m2.5 0h1.5m-1 0h1.5m-1.5 0h1.5m0 0h1.5m8 0h1.5m12.5 0h1.5m-.5 0h1.5m7 0h1.5m1 0h1.5m1 0h1.5m15.5 0h1.5m28 0h1.5m13.5 0h1.5m-1.5 0h1.5m4 0h1.5m14 0h1.5m0 0h1.5m6 0h1.5m20.5 0h1.5m1.5 0h1.5m5 0h1.5m14.5 0h1.5m14 0h1.5m9 0h1.5m13.5 0h1.5m3 0h1.5m54.5 0h1.5m17 0h1.5m2 0h1.5m1.5 0h1.5M79.7 363.6h1.5m75.5 0h1.5m32 0h1.5m5 0h1.5m4 0h1.5m2.5 0h1.5m3 0h1.5m1.5 0h1.5m0 0h1.5m24.5 0h1.5m8.5 0h1.5m38 0h1.5m6 0h1.5m-.5 0h1.5m7 0h1.5m6 0h1.5m7 0h1.5m-1 0h1.5m5 0h1.5m9.5 0h1.5m2.5 0h1.5m8 0h1.5m.5 0h1.5m-1 0h1.5m2.5 0h1.5m2.5 0h1.5m3.5 0h1.5m.5 0h1.5m-.5 0h1.5m13 0h1.5m15.5 0h1.5m10.5 0h1.5m10 0h1.5m-.5 0h1.5m3 0h1.5m3.5 0h1.5m2 0h1.5m3 0h1.5m10.5 0h1.5m0 0h1.5m3.5 0h1.5m12 0h1.5m0 0h1.5m4 0h1.5m10 0h1.5m2.5 0h1.5m14 0h1.5m9 0h1.5m-.5 0h1.5m3.5 0h1.5m9 0h1.5m.5 0h1.5m18 0h1.5M101.7 361.3h1.5m16 0h1.5m.5 0h1.5m29.5 0h1.5m14.5 0h1.5m14.5 0h1.5m2.5 0h1.5m2 0h1.5m-1.5 0h1.5m10 0h1.5m30.5 0h1.5m4.5 0h1.5m0 0h1.5m11 0h1.5m1.5 0h1.5m.5 0h1.5m1 0h1.5m3.5 0h1.5m3 0h1.5m0 0h1.5m8 0h1.5m1 0h1.5m-1 0h1.5m0 0h1.5m20 0h1.5m1 0h1.5m1 0h1.5m1 0h1.5m4.5 0h1.5m22 0h1.5m16.5 0h1.5m3.5 0h1.5m20.5 0h1.5m1.5 0h1.5m-1 0h1.5m1 0h1.5m2 0h1.5m8 0h1.5m2 0h1.5m3.5 0h1.5m12.5 0h1.5m0 0h1.5m10.5 0h1.5m5 0h1.5m18.5 0h1.5m.5 0h1.5m.5 0h1.5m3 0h1.5m1 0h1.5m.5 0h1.5m7.5 0h1.5m12.5 0h1.5m59.5 0h1.5M80.2 358.9h1.5m4.5 0h1.5m8 0h1.5m-1 0h1.5m10.5 0h1.5m1.5 0h1.5m3.5 0h1.5m4 0h1.5m10 0h1.5m19.5 0h1.5m13.5 0h1.5m1.5 0h1.5m11 0h1.5m1.5 0h1.5m47 0h1.5m23 0h1.5m2.5 0h1.5m11.5 0h1.5m7.5 0h1.5m18.5 0h1.5m-1.5 0h1.5m3 0h1.5m3 0h1.5m2.5 0h1.5m5 0h1.5m8 0h1.5m.5 0h1.5m1.5 0h1.5m6.5 0h1.5m12.5 0h1.5m0 0h1.5m11.5 0h1.5m-.5 0h1.5m7.5 0h1.5m6 0h1.5m-1 0h1.5m11 0h1.5m4.5 0h1.5m11.5 0h1.5m1.5 0h1.5m5 0h1.5m6.5 0h1.5m-1 0h1.5m9.5 0h1.5m2.5 0h1.5m4.5 0h1.5m19 0h1.5m5 0h1.5m1.5 0h1.5m1.5 0h1.5m6 0h1.5m2 0h1.5m6 0h1.5m-.5 0h1.5m-1 0h1.5m21.5 0h1.5M86.2 356.6h1.5m32 0h1.5m9 0h1.5m5.5 0h1.5m7 0h1.5m7.5 0h1.5m8 0h1.5m2.5 0h1.5m2 0h1.5m-.5 0h1.5m14 0h1.5m13 0h1.5m12.5 0h1.5m3 0h1.5m1.5 0h1.5m5 0h1.5m8 0h1.5m21 0h1.5m13 0h1.5m19.5 0h1.5m4 0h1.5m1.5 0h1.5m1.5 0h1.5m-.5 0h1.5m-.5 0h1.5m-1 0h1.5m-1 0h1.5m2 0h1.5m-.5 0h1.5m1.5 0h1.5m1 0h1.5m-1 0h1.5m7 0h1.5m11.5 0h1.5m2.5 0h1.5m2 0h1.5m5 0h1.5m-1.5 0h1.5m16.5 0h1.5m5 0h1.5m10 0h1.5m5.5 0h1.5m5.5 0h1.5m-1 0h1.5m-1 0h1.5m1 0h1.5m-.5 0h1.5m11 0h1.5m1.5 0h1.5m1 0h1.5m11 0h1.5m3.5 0h1.5m23 0h1.5m4 0h1.5m8.5 0h1.5m4.5 0h1.5m-.5 0h1.5m-1 0h1.5m11.5 0h1.5m2 0h1.5m9.5 0h1.5m-1.5 0h1.5m1.5 0h1.5m12.5 0h1.5m-1 0h1.5m23.5 0h1.5m2.5 0h1.5M80.2 354.3h1.5m1 0h1.5m7 0h1.5m3.5 0h1.5m3 0h1.5m26 0h1.5m1.5 0h1.5m-1.5 0h1.5m.5 0h1.5m8.5 0h1.5m7.5 0h1.5m5 0h1.5m27.5 0h1.5m3.5 0h1.5m1.5 0h1.5m16.5 0h1.5m12 0h1.5m-1.5 0h1.5m0 0h1.5m8 0h1.5m12 0h1.5m13.5 0h1.5m.5 0h1.5m-1 0h1.5m3 0h1.5m41.5 0h1.5m.5 0h1.5m-.5 0h1.5m11.5 0h1.5m10.5 0h1.5m9.5 0h1.5m5.5 0h1.5m9 0h1.5m1 0h1.5m-.5 0h1.5m5.5 0h1.5m3 0h1.5m5 0h1.5m-.5 0h1.5m19.5 0h1.5m7 0h1.5m.5 0h1.5m7.5 0h1.5m5.5 0h1.5m14.5 0h1.5m1 0h1.5m7 0h1.5m.5 0h1.5m8.5 0h1.5m23.5 0h1.5m2 0h1.5m2.5 0h1.5m15.5 0h1.5m3.5 0h1.5m1.5 0h1.5m14.5 0h1.5m.5 0h1.5m-.5 0h1.5m3.5 0h1.5m5 0h1.5M83.7 352h1.5m-.5 0h1.5m-1 0h1.5m3.5 0h1.5m20 0h1.5m22 0h1.5m4.5 0h1.5m-.5 0h1.5m2 0h1.5m16.5 0h1.5m29.5 0h1.5m-1 0h1.5m15 0h1.5m12.5 0h1.5m-1 0h1.5m-1 0h1.5m6.5 0h1.5m17 0h1.5m36.5 0h1.5m2.5 0h1.5m11.5 0h1.5m3 0h1.5m11 0h1.5m-1.5 0h1.5m6 0h1.5m7.5 0h1.5m3.5 0h1.5m8.5 0h1.5m2 0h1.5m1.5 0h1.5m8.5 0h1.5m8 0h1.5m3.5 0h1.5m9 0h1.5m1 0h1.5m-.5 0h1.5m.5 0h1.5m6 0h1.5m4 0h1.5m7.5 0h1.5m6 0h1.5m7.5 0h1.5m21 0h1.5m4 0h1.5m3.5 0h1.5m-.5 0h1.5m11.5 0h1.5m11.5 0h1.5m1.5 0h1.5m21 0h1.5m18 0h1.5m1 0h1.5M104.7 349.7h1.5m4 0h1.5m-1.5 0h1.5m22 0h1.5m-.5 0h1.5m15.5 0h1.5m32.5 0h1.5m1.5 0h1.5m-1 0h1.5m10.5 0h1.5m4.5 0h1.5m14 0h1.5m14.5 0h1.5m0 0h1.5m.5 0h1.5m.5 0h1.5m16 0h1.5m.5 0h1.5m.5 0h1.5m20 0h1.5m-1.5 0h1.5m23.5 0h1.5m9.5 0h1.5m12 0h1.5m.5 0h1.5m10 0h1.5m6 0h1.5m5.5 0h1.5m20 0h1.5m.5 0h1.5m.5 0h1.5m-.5 0h1.5m13.5 0h1.5m5 0h1.5m7 0h1.5m30.5 0h1.5m8 0h1.5m2 0h1.5m16.5 0h1.5m8 0h1.5m4 0h1.5m-.5 0h1.5m-1.5 0h1.5m-.5 0h1.5m3 0h1.5m.5 0h1.5m1.5 0h1.5m0 0h1.5m16 0h1.5m21 0h1.5M78.2 347.4h1.5m24 0h1.5m24 0h1.5m2 0h1.5m31.5 0h1.5m-1 0h1.5m11 0h1.5m5.5 0h1.5m19.5 0h1.5m26.5 0h1.5m10.5 0h1.5m2 0h1.5m-1.5 0h1.5m2 0h1.5m3 0h1.5m1.5 0h1.5m0 0h1.5m39.5 0h1.5m1.5 0h1.5m.5 0h1.5m2 0h1.5m.5 0h1.5m17.5 0h1.5m1 0h1.5m4 0h1.5m9.5 0h1.5m4.5 0h1.5m4 0h1.5m6 0h1.5m2.5 0h1.5m.5 0h1.5m-1.5 0h1.5m25 0h1.5m17 0h1.5m-1.5 0h1.5m17 0h1.5m9 0h1.5m28 0h1.5m-1 0h1.5m-1 0h1.5m-1.5 0h1.5m20.5 0h1.5m-.5 0h1.5m-.5 0h1.5m-1 0h1.5m13 0h1.5m-.5 0h1.5m2 0h1.5m17.5 0h1.5m6 0h1.5m7 0h1.5M85.7 345.1h1.5m9 0h1.5m5.5 0h1.5m1 0h1.5m11 0h1.5m12.5 0h1.5m12.5 0h1.5m2.5 0h1.5m-1 0h1.5m4 0h1.5m2 0h1.5m3 0h1.5m11 0h1.5m1 0h1.5m12.5 0h1.5m9 0h1.5m11.5 0h1.5m6 0h1.5m4 0h1.5m5 0h1.5m-1 0h1.5m7 0h1.5m3 0h1.5m1 0h1.5m14.5 0h1.5m19 0h1.5m2 0h1.5m4.5 0h1.5m9 0h1.5m20 0h1.5m1.5 0h1.5m-1 0h1.5m-1 0h1.5m-.5 0h1.5m1.5 0h1.5m-1 0h1.5m0 0h1.5m16.5 0h1.5m9.5 0h1.5m13.5 0h1.5m21 0h1.5m16.5 0h1.5m0 0h1.5m14.5 0h1.5m-.5 0h1.5m0 0h1.5m-1 0h1.5m4 0h1.5m2 0h1.5m4 0h1.5m8 0h1.5m10 0h1.5m12.5 0h1.5m4 0h1.5m1 0h1.5m26 0h1.5m1 0h1.5m8 0h1.5M112.2 342.8h1.5m12.5 0h1.5m1 0h1.5m21.5 0h1.5m5 0h1.5m17.5 0h1.5m4.5 0h1.5m3 0h1.5m17.5 0h1.5m3 0h1.5m0 0h1.5m2 0h1.5m7 0h1.5m0 0h1.5m11.5 0h1.5m1 0h1.5m2.5 0h1.5m0 0h1.5m.5 0h1.5m-.5 0h1.5m1 0h1.5m5 0h1.5m1.5 0h1.5m.5 0h1.5m.5 0h1.5m3.5 0h1.5m7 0h1.5m6 0h1.5m-1.5 0h1.5m0 0h1.5m.5 0h1.5m.5 0h1.5m-1.5 0h1.5m6 0h1.5m15 0h1.5m8 0h1.5m2 0h1.5m.5 0h1.5m-1.5 0h1.5m-.5 0h1.5m-1 0h1.5m-.5 0h1.5m-1 0h1.5m4 0h1.5m4 0h1.5m.5 0h1.5m-.5 0h1.5m0 0h1.5m3.5 0h1.5m17.5 0h1.5m9.5 0h1.5m10.5 0h1.5m-.5 0h1.5m2 0h1.5m6.5 0h1.5m1 0h1.5m-1.5 0h1.5m5 0h1.5m14.5 0h1.5m11 0h1.5m3.5 0h1.5m2 0h1.5m1 0h1.5m2 0h1.5m-.5 0h1.5m-1.5 0h1.5m1.5 0h1.5m0 0h1.5m11.5 0h1.5m.5 0h1.5m3 0h1.5m14.5 0h1.5m5.5 0h1.5m28.5 0h1.5m4.5 0h1.5m21.5 0h1.5m-1.5 0h1.5m0 0h1.5M115.2 340.4h1.5m2 0h1.5m-1.5 0h1.5m18 0h1.5m3.5 0h1.5m1 0h1.5m0 0h1.5m.5 0h1.5m17.5 0h1.5m20 0h1.5m21 0h1.5m.5 0h1.5m.5 0h1.5m.5 0h1.5m-1 0h1.5m-.5 0h1.5m0 0h1.5m1.5 0h1.5m-1 0h1.5m3 0h1.5m1 0h1.5m3.5 0h1.5m11 0h1.5m.5 0h1.5m-1.5 0h1.5m6 0h1.5m5 0h1.5m18 0h1.5m5 0h1.5m-1 0h1.5m15.5 0h1.5m-1.5 0h1.5m-1 0h1.5m2.5 0h1.5m-.5 0h1.5m.5 0h1.5m7 0h1.5m2.5 0h1.5m-.5 0h1.5m12.5 0h1.5m2 0h1.5m-1 0h1.5m-.5 0h1.5m0 0h1.5m11 0h1.5m3 0h1.5m5 0h1.5m1.5 0h1.5m10.5 0h1.5m5.5 0h1.5m1.5 0h1.5m5.5 0h1.5m20 0h1.5m-1.5 0h1.5m3.5 0h1.5m0 0h1.5m2.5 0h1.5m.5 0h1.5m3 0h1.5m2 0h1.5m10.5 0h1.5m2.5 0h1.5m10 0h1.5m1.5 0h1.5m17 0h1.5m3 0h1.5m4 0h1.5m-1 0h1.5m-.5 0h1.5m22 0h1.5m3.5 0h1.5m-.5 0h1.5m.5 0h1.5m8.5 0h1.5m5.5 0h1.5m3 0h1.5m2 0h1.5M88.2 338.1h1.5m-1 0h1.5m-.5 0h1.5m5 0h1.5m19 0h1.5m19 0h1.5m18 0h1.5m11 0h1.5m3 0h1.5m-1 0h1.5m-1 0h1.5m3.5 0h1.5m10 0h1.5m6 0h1.5m12 0h1.5m3 0h1.5m8 0h1.5m3 0h1.5m3.5 0h1.5m-.5 0h1.5m21 0h1.5m.5 0h1.5m0 0h1.5m1.5 0h1.5m8 0h1.5m-.5 0h1.5m-.5 0h1.5m11 0h1.5m2.5 0h1.5m.5 0h1.5m3 0h1.5m3 0h1.5m2 0h1.5m6 0h1.5m-.5 0h1.5m3 0h1.5m3.5 0h1.5m1 0h1.5m-1 0h1.5m2.5 0h1.5m2.5 0h1.5m11.5 0h1.5m3 0h1.5m15 0h1.5m1.5 0h1.5m0 0h1.5m1.5 0h1.5m2 0h1.5m5 0h1.5m9 0h1.5m.5 0h1.5m9.5 0h1.5m4.5 0h1.5m4 0h1.5m-1.5 0h1.5m13.5 0h1.5m-.5 0h1.5m.5 0h1.5m2 0h1.5m4 0h1.5m.5 0h1.5m6.5 0h1.5m10 0h1.5m4 0h1.5m8 0h1.5m0 0h1.5m19.5 0h1.5m5 0h1.5m2 0h1.5m24.5 0h1.5m-1 0h1.5m-.5 0h1.5m4.5 0h1.5m-1 0h1.5m-.5 0h1.5m0 0h1.5m6 0h1.5m0 0h1.5m-1.5 0h1.5m3.5 0h1.5M94.2 335.8h1.5m1.5 0h1.5m10 0h1.5m36 0h1.5m0 0h1.5m5.5 0h1.5m1 0h1.5m12 0h1.5m5 0h1.5m3.5 0h1.5m23 0h1.5m1 0h1.5m4.5 0h1.5m11 0h1.5m1 0h1.5m2 0h1.5m1 0h1.5m2.5 0h1.5m3 0h1.5m1.5 0h1.5m2 0h1.5m11.5 0h1.5m2.5 0h1.5m2.5 0h1.5m-.5 0h1.5m13.5 0h1.5m4.5 0h1.5m8 0h1.5m.5 0h1.5m.5 0h1.5m1.5 0h1.5m6 0h1.5m1 0h1.5m3.5 0h1.5m6.5 0h1.5m1 0h1.5m7 0h1.5m1 0h1.5m-1 0h1.5m1.5 0h1.5m1.5 0h1.5m2 0h1.5m3 0h1.5m-1 0h1.5m1.5 0h1.5m-.5 0h1.5m3.5 0h1.5m1.5 0h1.5m5.5 0h1.5m2.5 0h1.5m8.5 0h1.5m2 0h1.5m2.5 0h1.5m4.5 0h1.5m-.5 0h1.5m6 0h1.5m10.5 0h1.5m1 0h1.5m1.5 0h1.5m17.5 0h1.5m-1 0h1.5m1.5 0h1.5m3.5 0h1.5m18 0h1.5m18.5 0h1.5m-1 0h1.5m5.5 0h1.5m5.5 0h1.5m2 0h1.5m1.5 0h1.5m.5 0h1.5m2 0h1.5m-1 0h1.5m8.5 0h1.5m0 0h1.5m2.5 0h1.5m2 0h1.5m4.5 0h1.5m-.5 0h1.5m1.5 0h1.5m3.5 0h1.5m3.5 0h1.5M80.7 333.5h1.5m5.5 0h1.5m6.5 0h1.5m-.5 0h1.5m6.5 0h1.5m4.5 0h1.5m11 0h1.5m21.5 0h1.5m18 0h1.5m15.5 0h1.5m.5 0h1.5m1.5 0h1.5m-1 0h1.5m20 0h1.5m2.5 0h1.5m7 0h1.5m1 0h1.5m0 0h1.5m4.5 0h1.5m1 0h1.5m0 0h1.5m-.5 0h1.5m.5 0h1.5m6.5 0h1.5m12.5 0h1.5m10 0h1.5m2 0h1.5m1.5 0h1.5m5 0h1.5m4 0h1.5m0 0h1.5m6.5 0h1.5m-1.5 0h1.5m8 0h1.5m.5 0h1.5m-1.5 0h1.5m-1 0h1.5m-1.5 0h1.5m5.5 0h1.5m-.5 0h1.5m7.5 0h1.5m-1 0h1.5m2 0h1.5m.5 0h1.5m7 0h1.5m.5 0h1.5m9.5 0h1.5m5 0h1.5m2 0h1.5m1 0h1.5m4 0h1.5m1 0h1.5m13 0h1.5m0 0h1.5m3.5 0h1.5m4.5 0h1.5m5 0h1.5m1.5 0h1.5m.5 0h1.5m0 0h1.5m.5 0h1.5m0 0h1.5m23 0h1.5m.5 0h1.5m13.5 0h1.5m0 0h1.5m3.5 0h1.5m1 0h1.5m7 0h1.5m14.5 0h1.5m26 0h1.5m14 0h1.5m3 0h1.5m0 0h1.5m10.5 0h1.5m1.5 0h1.5M96.2 331.2h1.5m6.5 0h1.5m3 0h1.5m8.5 0h1.5m6 0h1.5m-1 0h1.5m-.5 0h1.5m-.5 0h1.5m7.5 0h1.5m12.5 0h1.5m1.5 0h1.5m9.5 0h1.5m5.5 0h1.5m9.5 0h1.5m.5 0h1.5m1 0h1.5m.5 0h1.5m-.5 0h1.5m1.5 0h1.5m8 0h1.5m7 0h1.5m-1 0h1.5m1 0h1.5m6 0h1.5m17 0h1.5m10 0h1.5m2.5 0h1.5m1 0h1.5m12 0h1.5m12.5 0h1.5m-.5 0h1.5m2 0h1.5m1 0h1.5m7 0h1.5m0 0h1.5m5.5 0h1.5m2.5 0h1.5m-1 0h1.5m4 0h1.5m3.5 0h1.5m9 0h1.5m0 0h1.5m3.5 0h1.5m2 0h1.5m5 0h1.5m4 0h1.5m4 0h1.5m6.5 0h1.5m0 0h1.5m5.5 0h1.5m1.5 0h1.5m1 0h1.5m.5 0h1.5m2 0h1.5m-1 0h1.5m1 0h1.5m-1 0h1.5m0 0h1.5m-.5 0h1.5m19 0h1.5m8 0h1.5m5 0h1.5m7.5 0h1.5m9.5 0h1.5m8 0h1.5m-1.5 0h1.5m5 0h1.5m3 0h1.5m7.5 0h1.5m-.5 0h1.5m.5 0h1.5m0 0h1.5m1.5 0h1.5m-.5 0h1.5m16.5 0h1.5m15 0h1.5m0 0h1.5m10 0h1.5m-1 0h1.5m28.5 0h1.5M81.7 328.9h1.5m-1 0h1.5m23 0h1.5m4 0h1.5m7 0h1.5m.5 0h1.5m.5 0h1.5m-.5 0h1.5m.5 0h1.5m21.5 0h1.5m33 0h1.5m-.5 0h1.5m26.5 0h1.5m1 0h1.5m3.5 0h1.5m0 0h1.5m.5 0h1.5m4 0h1.5m0 0h1.5m5 0h1.5m13.5 0h1.5m.5 0h1.5m3.5 0h1.5m5 0h1.5m-.5 0h1.5m4.5 0h1.5m5.5 0h1.5m0 0h1.5m3 0h1.5m6 0h1.5m9 0h1.5m-1 0h1.5m0 0h1.5m5 0h1.5m6 0h1.5m5.5 0h1.5m-1 0h1.5m-1 0h1.5m-1.5 0h1.5m7 0h1.5m30.5 0h1.5m8.5 0h1.5m1.5 0h1.5m3 0h1.5m1 0h1.5m4 0h1.5m2.5 0h1.5m1.5 0h1.5m-.5 0h1.5m6.5 0h1.5m-1.5 0h1.5m1 0h1.5m17 0h1.5m-.5 0h1.5m0 0h1.5m.5 0h1.5m-1 0h1.5m7.5 0h1.5m1.5 0h1.5m-1 0h1.5m11 0h1.5m-.5 0h1.5m3.5 0h1.5m3.5 0h1.5m4 0h1.5m11 0h1.5m5 0h1.5m5 0h1.5m4 0h1.5m8.5 0h1.5m-1 0h1.5m3 0h1.5m1.5 0h1.5m2.5 0h1.5m6 0h1.5m6 0h1.5m-.5 0h1.5m11.5 0h1.5m6 0h1.5m1 0h1.5M79.7 326.6h1.5m4.5 0h1.5m4.5 0h1.5m1.5 0h1.5m2 0h1.5m0 0h1.5m10 0h1.5m11.5 0h1.5m0 0h1.5m.5 0h1.5m1 0h1.5m9 0h1.5m4 0h1.5m-.5 0h1.5m6.5 0h1.5m17.5 0h1.5m11.5 0h1.5m7.5 0h1.5m.5 0h1.5m2.5 0h1.5m11 0h1.5m-1.5 0h1.5m3.5 0h1.5m-1.5 0h1.5m4 0h1.5m8 0h1.5m1.5 0h1.5m.5 0h1.5m6.5 0h1.5m1 0h1.5m3 0h1.5m0 0h1.5m.5 0h1.5m7 0h1.5m0 0h1.5m0 0h1.5m.5 0h1.5m1 0h1.5m2.5 0h1.5m1.5 0h1.5m.5 0h1.5m1 0h1.5m1.5 0h1.5m3 0h1.5m4 0h1.5m0 0h1.5m7.5 0h1.5m0 0h1.5m0 0h1.5m8.5 0h1.5m1.5 0h1.5m6.5 0h1.5m6 0h1.5m5 0h1.5m3 0h1.5m1 0h1.5m.5 0h1.5m2.5 0h1.5m3.5 0h1.5m3 0h1.5m7 0h1.5m2 0h1.5m13.5 0h1.5m1.5 0h1.5m1 0h1.5m4 0h1.5m7.5 0h1.5m5.5 0h1.5m7 0h1.5m5.5 0h1.5m2 0h1.5m1 0h1.5m10 0h1.5m2.5 0h1.5m3 0h1.5m9.5 0h1.5m9 0h1.5m13 0h1.5m1 0h1.5m11 0h1.5m31 0h1.5m0 0h1.5m9 0h1.5m6.5 0h1.5M78.2 324.2h1.5m-1 0h1.5m1 0h1.5m6 0h1.5m6.5 0h1.5m29.5 0h1.5m2 0h1.5m8 0h1.5m.5 0h1.5m3.5 0h1.5m4.5 0h1.5m3 0h1.5m1.5 0h1.5m-.5 0h1.5m7.5 0h1.5m-1 0h1.5m5.5 0h1.5m13 0h1.5m14.5 0h1.5m26 0h1.5m42.5 0h1.5m-1 0h1.5m.5 0h1.5m-.5 0h1.5m2.5 0h1.5m0 0h1.5m5 0h1.5m6 0h1.5m3.5 0h1.5m0 0h1.5m.5 0h1.5m2 0h1.5m-1.5 0h1.5m-1 0h1.5m1 0h1.5m2 0h1.5m2 0h1.5m-.5 0h1.5m-1.5 0h1.5m7.5 0h1.5m18.5 0h1.5m-1.5 0h1.5m-1 0h1.5m5 0h1.5m-1 0h1.5m8.5 0h1.5m0 0h1.5m3.5 0h1.5m16.5 0h1.5m3.5 0h1.5m1 0h1.5m-.5 0h1.5m2 0h1.5m.5 0h1.5m2 0h1.5m2 0h1.5m17 0h1.5m1.5 0h1.5m0 0h1.5m1.5 0h1.5m-.5 0h1.5m-.5 0h1.5m4 0h1.5m11.5 0h1.5m8.5 0h1.5m8.5 0h1.5m2.5 0h1.5m5 0h1.5m14.5 0h1.5m3.5 0h1.5m7 0h1.5m-.5 0h1.5m-.5 0h1.5m6.5 0h1.5m5 0h1.5m2 0h1.5m-1 0h1.5m-1 0h1.5m2 0h1.5m10.5 0h1.5m7.5 0h1.5M79.2 321.9h1.5m4.5 0h1.5m0 0h1.5m-1.5 0h1.5m-1 0h1.5m21.5 0h1.5m10.5 0h1.5m-1.5 0h1.5m18.5 0h1.5m23 0h1.5m6.5 0h1.5m4.5 0h1.5m5.5 0h1.5m6 0h1.5m5 0h1.5m11.5 0h1.5m2 0h1.5m-1 0h1.5m1.5 0h1.5m-.5 0h1.5m12 0h1.5m-1 0h1.5m7.5 0h1.5m-1.5 0h1.5m5 0h1.5m4 0h1.5m23 0h1.5m3 0h1.5m5 0h1.5m3 0h1.5m6 0h1.5m12 0h1.5m2.5 0h1.5m0 0h1.5m-.5 0h1.5m12 0h1.5m5.5 0h1.5m4.5 0h1.5m-1.5 0h1.5m2 0h1.5m2.5 0h1.5m1.5 0h1.5m-1.5 0h1.5m1.5 0h1.5m-1 0h1.5m7.5 0h1.5m6 0h1.5m5.5 0h1.5m3.5 0h1.5m1 0h1.5m2.5 0h1.5m-1 0h1.5m.5 0h1.5m0 0h1.5m7 0h1.5m7.5 0h1.5m5 0h1.5m-.5 0h1.5m2.5 0h1.5m4.5 0h1.5m6 0h1.5m4 0h1.5m4.5 0h1.5m4 0h1.5m-.5 0h1.5m5 0h1.5m-1.5 0h1.5m6 0h1.5m5 0h1.5m22 0h1.5m11.5 0h1.5m3 0h1.5m5.5 0h1.5m-.5 0h1.5m.5 0h1.5m4.5 0h1.5m-.5 0h1.5m12 0h1.5m2 0h1.5m3 0h1.5m4.5 0h1.5M80.7 319.6h1.5m11.5 0h1.5m8 0h1.5m-1.5 0h1.5m14 0h1.5m3 0h1.5m4.5 0h1.5m5 0h1.5m1.5 0h1.5m-.5 0h1.5m5 0h1.5m2.5 0h1.5m5 0h1.5m1.5 0h1.5m-.5 0h1.5m.5 0h1.5m-1.5 0h1.5m11.5 0h1.5m7 0h1.5m4 0h1.5m-.5 0h1.5m-1 0h1.5m.5 0h1.5m3.5 0h1.5m2 0h1.5m6.5 0h1.5m-1 0h1.5m5.5 0h1.5m.5 0h1.5m18.5 0h1.5m7 0h1.5m6 0h1.5m.5 0h1.5m.5 0h1.5m.5 0h1.5m2.5 0h1.5m3.5 0h1.5m1 0h1.5m-.5 0h1.5m.5 0h1.5m7 0h1.5m7.5 0h1.5m19.5 0h1.5m9.5 0h1.5m-1.5 0h1.5m0 0h1.5m-1 0h1.5m.5 0h1.5m0 0h1.5m-1.5 0h1.5m1 0h1.5m-1.5 0h1.5m0 0h1.5m-1 0h1.5m.5 0h1.5m4.5 0h1.5m-.5 0h1.5m-1.5 0h1.5m0 0h1.5m1 0h1.5m9 0h1.5m1 0h1.5m8.5 0h1.5m3 0h1.5m5.5 0h1.5m7 0h1.5m-.5 0h1.5m2.5 0h1.5m9 0h1.5m8.5 0h1.5m0 0h1.5m.5 0h1.5m11.5 0h1.5m4 0h1.5m10 0h1.5m.5 0h1.5m8 0h1.5m20.5 0h1.5m4.5 0h1.5m-1.5 0h1.5m3.5 0h1.5m-1 0h1.5m13.5 0h1.5m6 0h1.5m5.5 0h1.5m2 0h1.5m6 0h1.5m2 0h1.5m7.5 0h1.5m5 0h1.5m.5 0h1.5m11.5 0h1.5M79.7 317.3h1.5m2 0h1.5m13 0h1.5m0 0h1.5m9 0h1.5m29 0h1.5m-1.5 0h1.5m4.5 0h1.5m2.5 0h1.5m11.5 0h1.5m-.5 0h1.5m4 0h1.5m3.5 0h1.5m8 0h1.5m5 0h1.5m7 0h1.5m9 0h1.5m4.5 0h1.5m3 0h1.5m2.5 0h1.5m7 0h1.5m6.5 0h1.5m5.5 0h1.5m-1 0h1.5m-1.5 0h1.5m.5 0h1.5m1.5 0h1.5m.5 0h1.5m9 0h1.5m2.5 0h1.5m8 0h1.5m0 0h1.5m1.5 0h1.5m1.5 0h1.5m-1 0h1.5m.5 0h1.5m3.5 0h1.5m.5 0h1.5m6 0h1.5m-1 0h1.5m1 0h1.5m.5 0h1.5m11.5 0h1.5m-1.5 0h1.5m0 0h1.5m-.5 0h1.5m1.5 0h1.5m3 0h1.5m-1 0h1.5m-.5 0h1.5m-.5 0h1.5m-1.5 0h1.5m0 0h1.5m0 0h1.5m.5 0h1.5m-.5 0h1.5m1 0h1.5m2 0h1.5m1.5 0h1.5m5 0h1.5m4.5 0h1.5m-.5 0h1.5m.5 0h1.5m1.5 0h1.5m1.5 0h1.5m.5 0h1.5m-.5 0h1.5m1.5 0h1.5m3 0h1.5m-.5 0h1.5m0 0h1.5m0 0h1.5m4.5 0h1.5m-.5 0h1.5m11.5 0h1.5m-1.5 0h1.5m6 0h1.5m13.5 0h1.5m.5 0h1.5m-.5 0h1.5m.5 0h1.5m-.5 0h1.5m0 0h1.5m-1.5 0h1.5m4 0h1.5m21.5 0h1.5m3 0h1.5m.5 0h1.5m4 0h1.5m13 0h1.5m-.5 0h1.5m-1 0h1.5m11.5 0h1.5m4.5 0h1.5m-1 0h1.5m3.5 0h1.5m8.5 0h1.5m4 0h1.5m11.5 0h1.5m5 0h1.5m3 0h1.5m.5 0h1.5m4 0h1.5m-1 0h1.5m-.5 0h1.5m2 0h1.5m-1.5 0h1.5M82.7 315h1.5m1 0h1.5m4 0h1.5m4.5 0h1.5m18.5 0h1.5m22.5 0h1.5m4 0h1.5m2 0h1.5m-.5 0h1.5m9.5 0h1.5m3.5 0h1.5m1 0h1.5m3 0h1.5m12.5 0h1.5m-1 0h1.5m5.5 0h1.5m2.5 0h1.5m1.5 0h1.5m9 0h1.5m13 0h1.5m-.5 0h1.5m4.5 0h1.5m2 0h1.5m2.5 0h1.5m-.5 0h1.5m-.5 0h1.5m6 0h1.5m1 0h1.5m8 0h1.5m.5 0h1.5m5.5 0h1.5m7 0h1.5m-1.5 0h1.5m1 0h1.5m8 0h1.5m1 0h1.5m-1 0h1.5m-.5 0h1.5m1 0h1.5m.5 0h1.5m-1 0h1.5m2 0h1.5m0 0h1.5m9 0h1.5m-.5 0h1.5m-1 0h1.5m-.5 0h1.5m.5 0h1.5m0 0h1.5m1 0h1.5m.5 0h1.5m-.5 0h1.5m-.5 0h1.5m.5 0h1.5m5.5 0h1.5m-.5 0h1.5m-1 0h1.5m-1 0h1.5m-1 0h1.5m8 0h1.5m-1 0h1.5m5 0h1.5m0 0h1.5m-1.5 0h1.5m6 0h1.5m8 0h1.5m-.5 0h1.5m2 0h1.5m-.5 0h1.5m4.5 0h1.5m1 0h1.5m0 0h1.5m5 0h1.5m0 0h1.5m-.5 0h1.5m9 0h1.5m5.5 0h1.5m8 0h1.5m3 0h1.5m2 0h1.5m14.5 0h1.5m1 0h1.5m8 0h1.5m-.5 0h1.5m1 0h1.5m-1.5 0h1.5m0 0h1.5m-1 0h1.5m0 0h1.5m-.5 0h1.5m-1 0h1.5m8 0h1.5m1.5 0h1.5m3 0h1.5m3 0h1.5m0 0h1.5m-.5 0h1.5m12 0h1.5m3.5 0h1.5m3 0h1.5m-1 0h1.5m.5 0h1.5m-1.5 0h1.5m3 0h1.5m7.5 0h1.5m-.5 0h1.5m-1 0h1.5m1.5 0h1.5m10.5 0h1.5m7 0h1.5m-.5 0h1.5m5.5 0h1.5M91.7 312.7h1.5m.5 0h1.5m2.5 0h1.5m13 0h1.5m.5 0h1.5m-.5 0h1.5m3.5 0h1.5m-1 0h1.5m6 0h1.5m-1.5 0h1.5m.5 0h1.5m-1.5 0h1.5m2.5 0h1.5m9.5 0h1.5m.5 0h1.5m14 0h1.5m0 0h1.5m9 0h1.5m15 0h1.5m-1 0h1.5m6 0h1.5m2.5 0h1.5m1.5 0h1.5m.5 0h1.5m-.5 0h1.5m11 0h1.5m-.5 0h1.5m2.5 0h1.5m-.5 0h1.5m4 0h1.5m1.5 0h1.5m8.5 0h1.5m8.5 0h1.5m-1 0h1.5m-1 0h1.5m2 0h1.5m0 0h1.5m2 0h1.5m7.5 0h1.5m5.5 0h1.5m19 0h1.5m-1.5 0h1.5m7 0h1.5m0 0h1.5m.5 0h1.5m2.5 0h1.5m.5 0h1.5m-1 0h1.5m.5 0h1.5m2.5 0h1.5m3.5 0h1.5m3.5 0h1.5m0 0h1.5m-1 0h1.5m2 0h1.5m4 0h1.5m-1.5 0h1.5m1.5 0h1.5m10 0h1.5m-.5 0h1.5m2 0h1.5m3.5 0h1.5m1.5 0h1.5m1.5 0h1.5m8 0h1.5m-.5 0h1.5m6 0h1.5m0 0h1.5m.5 0h1.5m2 0h1.5m-1.5 0h1.5m1 0h1.5m7.5 0h1.5m6.5 0h1.5m0 0h1.5m-.5 0h1.5m-1 0h1.5m0 0h1.5m4 0h1.5m5 0h1.5m-1.5 0h1.5m2.5 0h1.5m-1 0h1.5m3 0h1.5m-1.5 0h1.5m5.5 0h1.5m9 0h1.5m1 0h1.5m2.5 0h1.5m-1 0h1.5m17.5 0h1.5m-.5 0h1.5m1 0h1.5m.5 0h1.5m.5 0h1.5m9.5 0h1.5m6.5 0h1.5m0 0h1.5m2.5 0h1.5m10.5 0h1.5m12 0h1.5m3 0h1.5m14 0h1.5M98.2 310.4h1.5m7.5 0h1.5m4 0h1.5m-1 0h1.5m18.5 0h1.5m4.5 0h1.5m5.5 0h1.5m-1 0h1.5m9 0h1.5m-1 0h1.5m7 0h1.5m-1 0h1.5m6 0h1.5m.5 0h1.5m4 0h1.5m6 0h1.5m15.5 0h1.5m6.5 0h1.5m4 0h1.5m1.5 0h1.5m2 0h1.5m2.5 0h1.5m11.5 0h1.5m-1 0h1.5m-.5 0h1.5m3.5 0h1.5m1 0h1.5m-.5 0h1.5m5.5 0h1.5m6 0h1.5m2.5 0h1.5m2 0h1.5m8 0h1.5m0 0h1.5m-1 0h1.5m0 0h1.5m3 0h1.5m10.5 0h1.5m3 0h1.5m-1 0h1.5m1 0h1.5m-.5 0h1.5m1.5 0h1.5m2.5 0h1.5m.5 0h1.5m-.5 0h1.5m2.5 0h1.5m-1 0h1.5m1.5 0h1.5m-1.5 0h1.5m5.5 0h1.5m0 0h1.5m0 0h1.5m2 0h1.5m1 0h1.5m6 0h1.5m1 0h1.5m16 0h1.5m3 0h1.5m-1.5 0h1.5m-.5 0h1.5m1.5 0h1.5m1.5 0h1.5m4.5 0h1.5m3.5 0h1.5m1.5 0h1.5m5 0h1.5m2.5 0h1.5m-1.5 0h1.5m2.5 0h1.5m8.5 0h1.5m1.5 0h1.5m10 0h1.5m-1 0h1.5m2.5 0h1.5m.5 0h1.5m0 0h1.5m2 0h1.5m-1 0h1.5m.5 0h1.5m0 0h1.5m1 0h1.5m5 0h1.5m-1.5 0h1.5m-1.5 0h1.5m7 0h1.5m1.5 0h1.5m-1.5 0h1.5m5 0h1.5m13.5 0h1.5m0 0h1.5m7 0h1.5m-1 0h1.5m.5 0h1.5m2.5 0h1.5m4.5 0h1.5m9.5 0h1.5m.5 0h1.5m3.5 0h1.5m1 0h1.5m3 0h1.5m2 0h1.5m-1 0h1.5M78.7 308h1.5m0 0h1.5m-1 0h1.5m.5 0h1.5m1.5 0h1.5m5 0h1.5m-.5 0h1.5m4.5 0h1.5m1 0h1.5m10.5 0h1.5m1 0h1.5m19 0h1.5m.5 0h1.5m-.5 0h1.5m2.5 0h1.5m14 0h1.5m-1.5 0h1.5m5.5 0h1.5m5 0h1.5m3.5 0h1.5m4.5 0h1.5m1.5 0h1.5m3 0h1.5m1.5 0h1.5m3.5 0h1.5m6.5 0h1.5m4 0h1.5m3.5 0h1.5m5 0h1.5m1 0h1.5m6.5 0h1.5m-1 0h1.5m-1.5 0h1.5m-1 0h1.5m-.5 0h1.5m11 0h1.5m1.5 0h1.5m6 0h1.5m6 0h1.5m3 0h1.5m0 0h1.5m-1 0h1.5m4.5 0h1.5m1.5 0h1.5m1 0h1.5m-.5 0h1.5m3.5 0h1.5m.5 0h1.5m0 0h1.5m-1 0h1.5m8 0h1.5m8 0h1.5m0 0h1.5m1 0h1.5m-1 0h1.5m-.5 0h1.5m.5 0h1.5m.5 0h1.5m2.5 0h1.5m-1 0h1.5m-.5 0h1.5m0 0h1.5m-1 0h1.5m7 0h1.5m1 0h1.5m3 0h1.5m3 0h1.5m8.5 0h1.5m.5 0h1.5m.5 0h1.5m4 0h1.5m11.5 0h1.5m0 0h1.5m5 0h1.5m-1.5 0h1.5m3 0h1.5m1 0h1.5m5 0h1.5m4.5 0h1.5m2 0h1.5m-.5 0h1.5m16 0h1.5m-.5 0h1.5m6 0h1.5m-1 0h1.5m1.5 0h1.5m15.5 0h1.5m-.5 0h1.5m4 0h1.5m-1 0h1.5m-1.5 0h1.5m29 0h1.5m2 0h1.5m4 0h1.5m9.5 0h1.5m0 0h1.5m7.5 0h1.5m14.5 0h1.5m9 0h1.5m4 0h1.5m.5 0h1.5M81.7 305.7h1.5m10 0h1.5m11 0h1.5m23 0h1.5m-1 0h1.5m-1 0h1.5m-1 0h1.5m1.5 0h1.5m2 0h1.5m7 0h1.5m5 0h1.5m3.5 0h1.5m0 0h1.5m6.5 0h1.5m6 0h1.5m12 0h1.5m1 0h1.5m3 0h1.5m-1 0h1.5m23.5 0h1.5m-1.5 0h1.5m12.5 0h1.5m-1.5 0h1.5m4 0h1.5m9 0h1.5m-1.5 0h1.5m-1 0h1.5m8.5 0h1.5m13.5 0h1.5m2 0h1.5m4 0h1.5m3 0h1.5m-.5 0h1.5m-.5 0h1.5m3 0h1.5m3 0h1.5m1 0h1.5m3.5 0h1.5m0 0h1.5m2.5 0h1.5m4.5 0h1.5m3 0h1.5m1 0h1.5m1 0h1.5m1.5 0h1.5m0 0h1.5m1 0h1.5m-1 0h1.5m-1.5 0h1.5m1.5 0h1.5m-1 0h1.5m.5 0h1.5m.5 0h1.5m1.5 0h1.5m2 0h1.5m-1 0h1.5m-1.5 0h1.5m4.5 0h1.5m1 0h1.5m-1 0h1.5m3 0h1.5m14 0h1.5m1 0h1.5m-1 0h1.5m1 0h1.5m3.5 0h1.5m7.5 0h1.5m1 0h1.5m3.5 0h1.5m11 0h1.5m5.5 0h1.5m10 0h1.5m4 0h1.5m5 0h1.5m.5 0h1.5m1 0h1.5m1 0h1.5m4 0h1.5m-1 0h1.5m14 0h1.5m-.5 0h1.5m.5 0h1.5m-1 0h1.5m2 0h1.5m5.5 0h1.5m1 0h1.5m8 0h1.5m-1 0h1.5m0 0h1.5m3 0h1.5m-1 0h1.5m-1 0h1.5m-.5 0h1.5m3.5 0h1.5m9.5 0h1.5m1 0h1.5m2 0h1.5m7 0h1.5m5.5 0h1.5m-.5 0h1.5m3.5 0h1.5m8.5 0h1.5m1 0h1.5M97.2 303.4h1.5m.5 0h1.5m4.5 0h1.5m3 0h1.5m3 0h1.5m1 0h1.5m16 0h1.5m1 0h1.5m-1 0h1.5m12 0h1.5m5 0h1.5m7 0h1.5m-.5 0h1.5m.5 0h1.5m0 0h1.5m19 0h1.5m-1 0h1.5m9.5 0h1.5m3.5 0h1.5m.5 0h1.5m-.5 0h1.5m2.5 0h1.5m9 0h1.5m-1.5 0h1.5m1.5 0h1.5m-1 0h1.5m-1 0h1.5m2.5 0h1.5m0 0h1.5m7 0h1.5m1.5 0h1.5m2.5 0h1.5m5 0h1.5m-.5 0h1.5m-.5 0h1.5m3.5 0h1.5m.5 0h1.5m5 0h1.5m1 0h1.5m0 0h1.5m.5 0h1.5m4 0h1.5m4 0h1.5m2 0h1.5m4 0h1.5m2 0h1.5m-1 0h1.5m8 0h1.5m0 0h1.5m3 0h1.5m4 0h1.5m.5 0h1.5m0 0h1.5m-1 0h1.5m1.5 0h1.5m-.5 0h1.5m-1.5 0h1.5m.5 0h1.5m0 0h1.5m-1 0h1.5m-1.5 0h1.5m5.5 0h1.5m0 0h1.5m-1 0h1.5m-.5 0h1.5m2.5 0h1.5m1 0h1.5m1 0h1.5m2 0h1.5m.5 0h1.5m4.5 0h1.5m1 0h1.5m.5 0h1.5m1 0h1.5m1.5 0h1.5m.5 0h1.5m6.5 0h1.5m11 0h1.5m-1.5 0h1.5m2 0h1.5m15.5 0h1.5m-1.5 0h1.5m-.5 0h1.5m8.5 0h1.5m-.5 0h1.5m-1 0h1.5m.5 0h1.5m14 0h1.5m1 0h1.5m6.5 0h1.5m1 0h1.5m4.5 0h1.5m-1.5 0h1.5m2 0h1.5m3.5 0h1.5m9.5 0h1.5m6.5 0h1.5m3 0h1.5m5 0h1.5m6 0h1.5m-1 0h1.5m3.5 0h1.5m3 0h1.5m.5 0h1.5m4.5 0h1.5m4.5 0h1.5m-1 0h1.5m3 0h1.5m22.5 0h1.5m3.5 0h1.5M78.7 301.1h1.5m42.5 0h1.5m0 0h1.5m2.5 0h1.5m4.5 0h1.5m.5 0h1.5m.5 0h1.5m1 0h1.5m7 0h1.5m2 0h1.5m2 0h1.5m-.5 0h1.5m-1 0h1.5m.5 0h1.5m2 0h1.5m9 0h1.5m7 0h1.5m5 0h1.5m-1 0h1.5m1.5 0h1.5m-1 0h1.5m3 0h1.5m16 0h1.5m4 0h1.5m0 0h1.5m0 0h1.5m9 0h1.5m10 0h1.5m5.5 0h1.5m-.5 0h1.5m1.5 0h1.5m.5 0h1.5m-.5 0h1.5m1.5 0h1.5m2 0h1.5m-1 0h1.5m1 0h1.5m0 0h1.5m3 0h1.5m3 0h1.5m2 0h1.5m-1 0h1.5m-1 0h1.5m2.5 0h1.5m-1 0h1.5m0 0h1.5m6 0h1.5m8 0h1.5m1.5 0h1.5m-1 0h1.5m0 0h1.5m0 0h1.5m8 0h1.5m-.5 0h1.5m.5 0h1.5m.5 0h1.5m0 0h1.5m-1.5 0h1.5m-.5 0h1.5m1 0h1.5m3.5 0h1.5m0 0h1.5m4.5 0h1.5m-.5 0h1.5m5.5 0h1.5m-1.5 0h1.5m3.5 0h1.5m-1 0h1.5m-1 0h1.5m-1 0h1.5m.5 0h1.5m3.5 0h1.5m2.5 0h1.5m8.5 0h1.5m5.5 0h1.5m0 0h1.5m0 0h1.5m2.5 0h1.5m2 0h1.5m5 0h1.5m8 0h1.5m-1.5 0h1.5m0 0h1.5m2 0h1.5m8 0h1.5m4.5 0h1.5m1 0h1.5m.5 0h1.5m.5 0h1.5m-1 0h1.5m3.5 0h1.5m3.5 0h1.5m4.5 0h1.5m.5 0h1.5m1.5 0h1.5m5 0h1.5m-1.5 0h1.5m14 0h1.5m0 0h1.5m9 0h1.5m1.5 0h1.5m3.5 0h1.5m.5 0h1.5m-1 0h1.5m17 0h1.5m2.5 0h1.5m10 0h1.5m5 0h1.5m1 0h1.5m-1 0h1.5m-1 0h1.5m-.5 0h1.5m.5 0h1.5m4.5 0h1.5m-1.5 0h1.5m2 0h1.5m6 0h1.5M83.7 298.8h1.5m8 0h1.5m6.5 0h1.5m11 0h1.5m-.5 0h1.5m2.5 0h1.5m2.5 0h1.5m12 0h1.5m6 0h1.5m7.5 0h1.5m0 0h1.5m4 0h1.5m.5 0h1.5m1.5 0h1.5m2 0h1.5m-1 0h1.5m0 0h1.5m11 0h1.5m-1 0h1.5m2.5 0h1.5m24 0h1.5m2 0h1.5m.5 0h1.5m-1.5 0h1.5m-1 0h1.5m0 0h1.5m-1 0h1.5m9 0h1.5m-.5 0h1.5m.5 0h1.5m13 0h1.5m-1.5 0h1.5m0 0h1.5m-1 0h1.5m8.5 0h1.5m-.5 0h1.5m5.5 0h1.5m0 0h1.5m.5 0h1.5m10 0h1.5m1.5 0h1.5m3 0h1.5m3 0h1.5m-1.5 0h1.5m1 0h1.5m11.5 0h1.5m-.5 0h1.5m-1 0h1.5m5 0h1.5m2 0h1.5m2 0h1.5m0 0h1.5m1.5 0h1.5m1.5 0h1.5m-.5 0h1.5m-1.5 0h1.5m-1 0h1.5m-1 0h1.5m-.5 0h1.5m1 0h1.5m.5 0h1.5m-1 0h1.5m.5 0h1.5m1 0h1.5m2.5 0h1.5m1 0h1.5m1.5 0h1.5m0 0h1.5m-1 0h1.5m-1 0h1.5m-1 0h1.5m0 0h1.5m-1.5 0h1.5m-.5 0h1.5m1.5 0h1.5m-.5 0h1.5m2.5 0h1.5m3.5 0h1.5m7 0h1.5m-1 0h1.5m-1 0h1.5m-1 0h1.5m0 0h1.5m.5 0h1.5m-.5 0h1.5m.5 0h1.5m5.5 0h1.5m14 0h1.5m7.5 0h1.5m6.5 0h1.5m0 0h1.5m5.5 0h1.5m0 0h1.5m2 0h1.5m-1 0h1.5m-1.5 0h1.5m0 0h1.5m.5 0h1.5m1 0h1.5m5.5 0h1.5m1.5 0h1.5m-.5 0h1.5m-.5 0h1.5m5 0h1.5m3.5 0h1.5m.5 0h1.5m3 0h1.5m12 0h1.5m1 0h1.5m2 0h1.5m8 0h1.5m.5 0h1.5m3 0h1.5m5.5 0h1.5m.5 0h1.5m0 0h1.5m0 0h1.5m.5 0h1.5m-.5 0h1.5m0 0h1.5m2.5 0h1.5m-1 0h1.5m-1 0h1.5m8.5 0h1.5m-1.5 0h1.5m7 0h1.5m0 0h1.5m3 0h1.5M91.7 296.5h1.5m.5 0h1.5m0 0h1.5m11.5 0h1.5m-.5 0h1.5m0 0h1.5m3.5 0h1.5m1 0h1.5m4 0h1.5m0 0h1.5m2.5 0h1.5m25.5 0h1.5m4.5 0h1.5m7 0h1.5m.5 0h1.5m.5 0h1.5m3.5 0h1.5m1.5 0h1.5m8 0h1.5m1.5 0h1.5m-.5 0h1.5m10 0h1.5m5 0h1.5m1 0h1.5m-1.5 0h1.5m-.5 0h1.5m4.5 0h1.5m-1 0h1.5m-.5 0h1.5m8.5 0h1.5m5.5 0h1.5m1 0h1.5m0 0h1.5m.5 0h1.5m3.5 0h1.5m2.5 0h1.5m4.5 0h1.5m1 0h1.5m5.5 0h1.5m1 0h1.5m1.5 0h1.5m-1 0h1.5m.5 0h1.5m0 0h1.5m-.5 0h1.5m0 0h1.5m.5 0h1.5m-.5 0h1.5m-.5 0h1.5m4 0h1.5m8.5 0h1.5m.5 0h1.5m3 0h1.5m-1 0h1.5m1.5 0h1.5m0 0h1.5m1 0h1.5m1 0h1.5m.5 0h1.5m3.5 0h1.5m-1.5 0h1.5m1 0h1.5m-.5 0h1.5m6 0h1.5m1 0h1.5m-1 0h1.5m-1 0h1.5m-1 0h1.5m6.5 0h1.5m-1.5 0h1.5m.5 0h1.5m1 0h1.5m-1 0h1.5m5.5 0h1.5m4.5 0h1.5m5 0h1.5m3 0h1.5m4 0h1.5m7 0h1.5m-1 0h1.5m-1 0h1.5m-.5 0h1.5m-.5 0h1.5m1 0h1.5m4.5 0h1.5m-1 0h1.5m-1 0h1.5m2 0h1.5m8 0h1.5m13 0h1.5m.5 0h1.5m3 0h1.5m1 0h1.5m1 0h1.5m0 0h1.5m1 0h1.5m1 0h1.5m0 0h1.5m1 0h1.5m2 0h1.5m0 0h1.5m10.5 0h1.5m1.5 0h1.5m3.5 0h1.5m1 0h1.5m-.5 0h1.5m-.5 0h1.5m12 0h1.5m0 0h1.5m.5 0h1.5m-1.5 0h1.5m-1 0h1.5m3.5 0h1.5m-1.5 0h1.5m-.5 0h1.5m0 0h1.5m.5 0h1.5m-1 0h1.5m4 0h1.5m8 0h1.5m-.5 0h1.5m5.5 0h1.5m-1 0h1.5m0 0h1.5m3 0h1.5m0 0h1.5m4 0h1.5m13.5 0h1.5m2 0h1.5M96.2 294.2h1.5m20.5 0h1.5m3.5 0h1.5m-1 0h1.5m3 0h1.5m18.5 0h1.5m4 0h1.5m1 0h1.5m-.5 0h1.5m5 0h1.5m-.5 0h1.5m1 0h1.5m10 0h1.5m17 0h1.5m-1.5 0h1.5m-.5 0h1.5m3.5 0h1.5m8 0h1.5m4 0h1.5m1 0h1.5m1 0h1.5m-.5 0h1.5m3 0h1.5m-1 0h1.5m1 0h1.5m11.5 0h1.5m4.5 0h1.5m-1.5 0h1.5m-1 0h1.5m-.5 0h1.5m4.5 0h1.5m0 0h1.5m-1 0h1.5m1 0h1.5m.5 0h1.5m-.5 0h1.5m1.5 0h1.5m1.5 0h1.5m3.5 0h1.5m2.5 0h1.5m0 0h1.5m6 0h1.5m-1 0h1.5m-1 0h1.5m-.5 0h1.5m-1 0h1.5m6.5 0h1.5m-.5 0h1.5m-1 0h1.5m-.5 0h1.5m-1 0h1.5m1 0h1.5m0 0h1.5m1.5 0h1.5m0 0h1.5m0 0h1.5m-1 0h1.5m-1 0h1.5m0 0h1.5m-1.5 0h1.5m-1.5 0h1.5m5.5 0h1.5m1.5 0h1.5m.5 0h1.5m1.5 0h1.5m.5 0h1.5m0 0h1.5m2.5 0h1.5m.5 0h1.5m-1 0h1.5m2 0h1.5m0 0h1.5m0 0h1.5m-1.5 0h1.5m-1 0h1.5m-1 0h1.5m-1 0h1.5m-.5 0h1.5m1 0h1.5m4 0h1.5m.5 0h1.5m-1.5 0h1.5m-1 0h1.5m6 0h1.5m.5 0h1.5m5 0h1.5m2.5 0h1.5m-.5 0h1.5m2 0h1.5m5 0h1.5m-1 0h1.5m5.5 0h1.5m.5 0h1.5m-.5 0h1.5m1.5 0h1.5m0 0h1.5m3.5 0h1.5m8 0h1.5m11 0h1.5m0 0h1.5m-1.5 0h1.5m-.5 0h1.5m8 0h1.5m6 0h1.5m-1.5 0h1.5m9 0h1.5m-1 0h1.5m-.5 0h1.5m1.5 0h1.5m3.5 0h1.5m4 0h1.5m5 0h1.5m14.5 0h1.5m0 0h1.5m5.5 0h1.5m.5 0h1.5m1.5 0h1.5m-1 0h1.5m-1.5 0h1.5m4 0h1.5m6 0h1.5m3 0h1.5m4.5 0h1.5m4.5 0h1.5m-1.5 0h1.5m2 0h1.5m0 0h1.5m8.5 0h1.5m0 0h1.5m-1 0h1.5m5 0h1.5M94.2 291.8h1.5m1.5 0h1.5m5 0h1.5m1.5 0h1.5m-1 0h1.5m-.5 0h1.5m0 0h1.5m9 0h1.5m1.5 0h1.5m11 0h1.5m-1.5 0h1.5m6.5 0h1.5m-1 0h1.5m3.5 0h1.5m.5 0h1.5m0 0h1.5m4.5 0h1.5m-.5 0h1.5m-1.5 0h1.5m3 0h1.5m5 0h1.5m10 0h1.5m0 0h1.5m-.5 0h1.5m5 0h1.5m15 0h1.5m3.5 0h1.5m.5 0h1.5m18 0h1.5m3 0h1.5m-1 0h1.5m6.5 0h1.5m9.5 0h1.5m0 0h1.5m1.5 0h1.5m1.5 0h1.5m2 0h1.5m2 0h1.5m-1 0h1.5m-1 0h1.5m-1 0h1.5m2 0h1.5m-.5 0h1.5m-1 0h1.5m0 0h1.5m-1.5 0h1.5m0 0h1.5m1 0h1.5m8 0h1.5m2 0h1.5m0 0h1.5m-.5 0h1.5m-.5 0h1.5m6 0h1.5m2.5 0h1.5m-1.5 0h1.5m-1 0h1.5m-.5 0h1.5m-.5 0h1.5m1 0h1.5m2.5 0h1.5m-1 0h1.5m-.5 0h1.5m-.5 0h1.5m3.5 0h1.5m-.5 0h1.5m-1 0h1.5m-1 0h1.5m.5 0h1.5m0 0h1.5m1 0h1.5m-1.5 0h1.5m.5 0h1.5m.5 0h1.5m6.5 0h1.5m-1 0h1.5m1 0h1.5m1.5 0h1.5m3 0h1.5m1 0h1.5m1.5 0h1.5m-1 0h1.5m2 0h1.5m1 0h1.5m-1 0h1.5m0 0h1.5m1.5 0h1.5m-1 0h1.5m1 0h1.5m11 0h1.5m5 0h1.5m7 0h1.5m5.5 0h1.5m1 0h1.5m-1 0h1.5m13 0h1.5m1 0h1.5m1 0h1.5m-1.5 0h1.5m2.5 0h1.5m6 0h1.5m-1 0h1.5m12 0h1.5m7.5 0h1.5m-.5 0h1.5m5 0h1.5m1 0h1.5m0 0h1.5m1 0h1.5m0 0h1.5m-.5 0h1.5m13 0h1.5m-1 0h1.5m7.5 0h1.5m0 0h1.5m3 0h1.5m10.5 0h1.5m5 0h1.5m3.5 0h1.5m1.5 0h1.5m-1 0h1.5m-1.5 0h1.5m1.5 0h1.5m-1 0h1.5m-1.5 0h1.5m0 0h1.5m3 0h1.5m-1 0h1.5m-.5 0h1.5m2.5 0h1.5m4 0h1.5m-1.5 0h1.5m3.5 0h1.5m-1 0h1.5M82.2 289.5h1.5m5.5 0h1.5m1.5 0h1.5m3 0h1.5m-1 0h1.5m2.5 0h1.5m4 0h1.5m14 0h1.5m17 0h1.5m.5 0h1.5m4.5 0h1.5m-1 0h1.5m3 0h1.5m5 0h1.5m1 0h1.5m2.5 0h1.5m5 0h1.5m6.5 0h1.5m0 0h1.5m0 0h1.5m11 0h1.5m-1 0h1.5m2 0h1.5m10.5 0h1.5m6 0h1.5m8.5 0h1.5m7.5 0h1.5m-.5 0h1.5m0 0h1.5m1 0h1.5m4.5 0h1.5m-1.5 0h1.5m.5 0h1.5m1.5 0h1.5m2 0h1.5m8 0h1.5m1.5 0h1.5m1.5 0h1.5m4 0h1.5m-.5 0h1.5m0 0h1.5m-1.5 0h1.5m-1 0h1.5m1 0h1.5m-.5 0h1.5m4 0h1.5m.5 0h1.5m0 0h1.5m.5 0h1.5m1.5 0h1.5m-1.5 0h1.5m-1 0h1.5m1.5 0h1.5m-.5 0h1.5m-1.5 0h1.5m3.5 0h1.5m.5 0h1.5m.5 0h1.5m.5 0h1.5m0 0h1.5m1.5 0h1.5m1 0h1.5m-1 0h1.5m-1 0h1.5m-1 0h1.5m-1.5 0h1.5m0 0h1.5m.5 0h1.5m0 0h1.5m-1 0h1.5m0 0h1.5m-1 0h1.5m.5 0h1.5m0 0h1.5m3.5 0h1.5m-1.5 0h1.5m1.5 0h1.5m-1 0h1.5m-1.5 0h1.5m0 0h1.5m-.5 0h1.5m1 0h1.5m-1.5 0h1.5m-.5 0h1.5m2.5 0h1.5m1 0h1.5m6 0h1.5m2.5 0h1.5m2.5 0h1.5m.5 0h1.5m-1 0h1.5m4 0h1.5m2 0h1.5m6 0h1.5m-1.5 0h1.5m-1.5 0h1.5m-1 0h1.5m6.5 0h1.5m-1 0h1.5m.5 0h1.5m-.5 0h1.5m0 0h1.5m2 0h1.5m2 0h1.5m2 0h1.5m1.5 0h1.5m.5 0h1.5m0 0h1.5m2.5 0h1.5m-.5 0h1.5m-1.5 0h1.5m3.5 0h1.5m4.5 0h1.5m9 0h1.5m-1 0h1.5m-.5 0h1.5m-1 0h1.5m-.5 0h1.5m5.5 0h1.5m1.5 0h1.5m0 0h1.5m2.5 0h1.5m0 0h1.5m3 0h1.5m1.5 0h1.5m3.5 0h1.5m-.5 0h1.5m3 0h1.5m-.5 0h1.5m3 0h1.5m9 0h1.5m7.5 0h1.5m6 0h1.5m0 0h1.5m0 0h1.5m-1 0h1.5m10 0h1.5m1.5 0h1.5m0 0h1.5m10.5 0h1.5m5 0h1.5m2.5 0h1.5m-1 0h1.5m7.5 0h1.5m-.5 0h1.5m-1.5 0h1.5M81.2 287.2h1.5m8.5 0h1.5m.5 0h1.5m13.5 0h1.5m2 0h1.5m4 0h1.5m2.5 0h1.5m.5 0h1.5m2 0h1.5m5.5 0h1.5m7.5 0h1.5m7.5 0h1.5m5.5 0h1.5m6.5 0h1.5m-.5 0h1.5m.5 0h1.5m7.5 0h1.5m3 0h1.5m.5 0h1.5m0 0h1.5m0 0h1.5m-.5 0h1.5m-1.5 0h1.5m0 0h1.5m16.5 0h1.5m3 0h1.5m.5 0h1.5m11.5 0h1.5m2.5 0h1.5m1.5 0h1.5m2.5 0h1.5m-1 0h1.5m-.5 0h1.5m-.5 0h1.5m9.5 0h1.5m6 0h1.5m6 0h1.5m-1 0h1.5m16.5 0h1.5m.5 0h1.5m-1.5 0h1.5m1 0h1.5m-1.5 0h1.5m-.5 0h1.5m.5 0h1.5m-1.5 0h1.5m3.5 0h1.5m-1 0h1.5m-1.5 0h1.5m2.5 0h1.5m1.5 0h1.5m-1 0h1.5m-1.5 0h1.5m-.5 0h1.5m-1.5 0h1.5m3.5 0h1.5m3 0h1.5m-.5 0h1.5m1.5 0h1.5m-.5 0h1.5m-.5 0h1.5m-1 0h1.5m.5 0h1.5m-.5 0h1.5m-.5 0h1.5m0 0h1.5m-1.5 0h1.5m2 0h1.5m1.5 0h1.5m-.5 0h1.5m2 0h1.5m-1 0h1.5m1 0h1.5m-.5 0h1.5m-1 0h1.5m-1.5 0h1.5m-1 0h1.5m-1.5 0h1.5m1.5 0h1.5m6 0h1.5m.5 0h1.5m1 0h1.5m1 0h1.5m1 0h1.5m3 0h1.5m2 0h1.5m-1.5 0h1.5m4 0h1.5m-1 0h1.5m1 0h1.5m1 0h1.5m-1.5 0h1.5m.5 0h1.5m2.5 0h1.5m-1 0h1.5m.5 0h1.5m3 0h1.5m-.5 0h1.5m-1.5 0h1.5m-.5 0h1.5m1 0h1.5m11 0h1.5m1 0h1.5m5.5 0h1.5m1 0h1.5m1.5 0h1.5m5.5 0h1.5m4.5 0h1.5m3 0h1.5m1.5 0h1.5m-.5 0h1.5m8.5 0h1.5m2 0h1.5m8 0h1.5m-1 0h1.5m20 0h1.5m0 0h1.5m5 0h1.5m-.5 0h1.5m3 0h1.5m-1 0h1.5m0 0h1.5m-1 0h1.5m2 0h1.5m1 0h1.5m4 0h1.5m5.5 0h1.5m1 0h1.5m.5 0h1.5m0 0h1.5m4 0h1.5m5 0h1.5m1.5 0h1.5m-.5 0h1.5m-1 0h1.5m6 0h1.5m0 0h1.5m-.5 0h1.5m5 0h1.5M78.7 284.9h1.5m5.5 0h1.5m-1.5 0h1.5m0 0h1.5m-.5 0h1.5m2 0h1.5m8.5 0h1.5m0 0h1.5m5 0h1.5m1.5 0h1.5m-1 0h1.5m3 0h1.5m9 0h1.5m8 0h1.5m.5 0h1.5m-1.5 0h1.5m2.5 0h1.5m-.5 0h1.5m2.5 0h1.5m5.5 0h1.5m6 0h1.5m2.5 0h1.5m-1.5 0h1.5m2.5 0h1.5m4 0h1.5m.5 0h1.5m-1 0h1.5m0 0h1.5m2.5 0h1.5m1 0h1.5m1.5 0h1.5m0 0h1.5m8.5 0h1.5m11.5 0h1.5m3.5 0h1.5m-1 0h1.5m8 0h1.5m-1.5 0h1.5m7 0h1.5m0 0h1.5m3 0h1.5m3.5 0h1.5m2 0h1.5m.5 0h1.5m13.5 0h1.5m-.5 0h1.5m5.5 0h1.5m7.5 0h1.5m0 0h1.5m0 0h1.5m3.5 0h1.5m-1.5 0h1.5m5 0h1.5m-1 0h1.5m-1 0h1.5m-1 0h1.5m-.5 0h1.5m-.5 0h1.5m-.5 0h1.5m1 0h1.5m2.5 0h1.5m2.5 0h1.5m1.5 0h1.5m1 0h1.5m0 0h1.5m-1 0h1.5m0 0h1.5m-.5 0h1.5m.5 0h1.5m3.5 0h1.5m-1 0h1.5m-1 0h1.5m-1.5 0h1.5m-.5 0h1.5m2.5 0h1.5m0 0h1.5m1 0h1.5m-.5 0h1.5m.5 0h1.5m0 0h1.5m2.5 0h1.5m-.5 0h1.5m2.5 0h1.5m1.5 0h1.5m0 0h1.5m-1.5 0h1.5m1 0h1.5m0 0h1.5m3 0h1.5m3.5 0h1.5m4 0h1.5m-1.5 0h1.5m3 0h1.5m1 0h1.5m2 0h1.5m-1 0h1.5m1 0h1.5m1 0h1.5m4 0h1.5m6 0h1.5m2.5 0h1.5m-1 0h1.5m-.5 0h1.5m-1.5 0h1.5m.5 0h1.5m9 0h1.5m-.5 0h1.5m2 0h1.5m1 0h1.5m-1.5 0h1.5m-.5 0h1.5m-.5 0h1.5m1.5 0h1.5m1.5 0h1.5m2.5 0h1.5m1 0h1.5m4 0h1.5m2.5 0h1.5m.5 0h1.5m4 0h1.5m2 0h1.5m-1.5 0h1.5m-1.5 0h1.5m9.5 0h1.5m.5 0h1.5m.5 0h1.5m-1 0h1.5m.5 0h1.5m-.5 0h1.5m2 0h1.5m0 0h1.5m2 0h1.5m0 0h1.5m4.5 0h1.5m2 0h1.5m5.5 0h1.5m9 0h1.5m5 0h1.5m0 0h1.5m-1.5 0h1.5m8.5 0h1.5m-1 0h1.5m-1 0h1.5m.5 0h1.5m1.5 0h1.5m0 0h1.5m.5 0h1.5m.5 0h1.5m12 0h1.5M85.2 282.6h1.5m7 0h1.5m2.5 0h1.5m3.5 0h1.5m-1.5 0h1.5m12 0h1.5m-1 0h1.5m13.5 0h1.5m-1 0h1.5m-1.5 0h1.5m3 0h1.5m4 0h1.5m3 0h1.5m-1.5 0h1.5m-.5 0h1.5m.5 0h1.5m2 0h1.5m1 0h1.5m1 0h1.5m17.5 0h1.5m5.5 0h1.5m.5 0h1.5m3.5 0h1.5m3 0h1.5m0 0h1.5m4.5 0h1.5m7 0h1.5m4.5 0h1.5m.5 0h1.5m8 0h1.5m-1.5 0h1.5m.5 0h1.5m-1 0h1.5m1 0h1.5m0 0h1.5m1 0h1.5m0 0h1.5m1 0h1.5m-1 0h1.5m-1 0h1.5m-1 0h1.5m5.5 0h1.5m1.5 0h1.5m-.5 0h1.5m-1 0h1.5m.5 0h1.5m2 0h1.5m2.5 0h1.5m0 0h1.5m-.5 0h1.5m-.5 0h1.5m1 0h1.5m2.5 0h1.5m3 0h1.5m0 0h1.5m5 0h1.5m.5 0h1.5m-.5 0h1.5m10 0h1.5m-1.5 0h1.5m0 0h1.5m.5 0h1.5m-.5 0h1.5m-1.5 0h1.5m-.5 0h1.5m-1.5 0h1.5m3 0h1.5m-1 0h1.5m-1 0h1.5m.5 0h1.5m-1 0h1.5m-.5 0h1.5m-1.5 0h1.5m5 0h1.5m-1 0h1.5m.5 0h1.5m2 0h1.5m0 0h1.5m-1.5 0h1.5m5.5 0h1.5m-1 0h1.5m-1.5 0h1.5m0 0h1.5m5.5 0h1.5m1.5 0h1.5m5 0h1.5m-1 0h1.5m-1 0h1.5m0 0h1.5m-1 0h1.5m-1.5 0h1.5m1 0h1.5m3 0h1.5m-1.5 0h1.5m.5 0h1.5m2.5 0h1.5m4 0h1.5m0 0h1.5m.5 0h1.5m-.5 0h1.5m4 0h1.5m3.5 0h1.5m-.5 0h1.5m1 0h1.5m2.5 0h1.5m6.5 0h1.5m7.5 0h1.5m3 0h1.5m0 0h1.5m10.5 0h1.5m-.5 0h1.5m2.5 0h1.5m-1 0h1.5m8 0h1.5m3.5 0h1.5m3 0h1.5m-.5 0h1.5m.5 0h1.5m-.5 0h1.5m.5 0h1.5m1 0h1.5m-.5 0h1.5m1.5 0h1.5m.5 0h1.5m3.5 0h1.5m-1 0h1.5m-.5 0h1.5m2.5 0h1.5m0 0h1.5m-1 0h1.5m.5 0h1.5m1.5 0h1.5m0 0h1.5m1 0h1.5m-.5 0h1.5m4.5 0h1.5m1 0h1.5m0 0h1.5m2 0h1.5m1 0h1.5m1 0h1.5m-1 0h1.5m6.5 0h1.5m4 0h1.5m1.5 0h1.5m.5 0h1.5m-.5 0h1.5m3.5 0h1.5m2 0h1.5m0 0h1.5m1.5 0h1.5m-1 0h1.5m1.5 0h1.5m10.5 0h1.5m1 0h1.5m0 0h1.5m2.5 0h1.5M86.7 280.3h1.5m1 0h1.5m1.5 0h1.5m4 0h1.5m-1 0h1.5m17.5 0h1.5m3 0h1.5m3.5 0h1.5m-1 0h1.5m12 0h1.5m-.5 0h1.5m13 0h1.5m6 0h1.5m2.5 0h1.5m-.5 0h1.5m5.5 0h1.5m-1 0h1.5m-.5 0h1.5m-1 0h1.5m-.5 0h1.5m-.5 0h1.5m2.5 0h1.5m1 0h1.5m4.5 0h1.5m.5 0h1.5m10 0h1.5m3 0h1.5m-.5 0h1.5m10 0h1.5m5.5 0h1.5m3.5 0h1.5m1 0h1.5m-1.5 0h1.5m-1.5 0h1.5m.5 0h1.5m4 0h1.5m0 0h1.5m2.5 0h1.5m-.5 0h1.5m-.5 0h1.5m-.5 0h1.5m-.5 0h1.5m-.5 0h1.5m1 0h1.5m-1 0h1.5m3 0h1.5m.5 0h1.5m0 0h1.5m6 0h1.5m2.5 0h1.5m4.5 0h1.5m.5 0h1.5m0 0h1.5m-1.5 0h1.5m0 0h1.5m0 0h1.5m-1 0h1.5m0 0h1.5m0 0h1.5m2 0h1.5m4.5 0h1.5m2 0h1.5m-.5 0h1.5m-.5 0h1.5m-1.5 0h1.5m1.5 0h1.5m2.5 0h1.5m2.5 0h1.5m-1 0h1.5m-.5 0h1.5m1 0h1.5m.5 0h1.5m.5 0h1.5m0 0h1.5m2.5 0h1.5m3.5 0h1.5m-1.5 0h1.5m-.5 0h1.5m-1.5 0h1.5m-1 0h1.5m-1 0h1.5m1 0h1.5m0 0h1.5m-1 0h1.5m-1 0h1.5m-1.5 0h1.5m0 0h1.5m0 0h1.5m-1 0h1.5m-1 0h1.5m0 0h1.5m5 0h1.5m0 0h1.5m7 0h1.5m1.5 0h1.5m5 0h1.5m3 0h1.5m-1 0h1.5m1.5 0h1.5m-.5 0h1.5m1 0h1.5m-1.5 0h1.5m4.5 0h1.5m-1 0h1.5m1 0h1.5m5.5 0h1.5m-.5 0h1.5m2 0h1.5m-1 0h1.5m7 0h1.5m1.5 0h1.5m-.5 0h1.5m1.5 0h1.5m2.5 0h1.5m12.5 0h1.5m6 0h1.5m6 0h1.5m-1 0h1.5m3.5 0h1.5m2 0h1.5m1 0h1.5m4.5 0h1.5m7 0h1.5m8 0h1.5m-.5 0h1.5m.5 0h1.5m-.5 0h1.5m3 0h1.5m8.5 0h1.5m-1.5 0h1.5m-1 0h1.5m5 0h1.5m2.5 0h1.5m4.5 0h1.5m2 0h1.5m8.5 0h1.5m0 0h1.5m11 0h1.5m2.5 0h1.5M86.7 278h1.5m0 0h1.5m-1.5 0h1.5m2.5 0h1.5m21.5 0h1.5m5 0h1.5m3 0h1.5m6.5 0h1.5m-.5 0h1.5m-1 0h1.5m-1 0h1.5m-1 0h1.5m5 0h1.5m1.5 0h1.5m2.5 0h1.5m0 0h1.5m2 0h1.5m1.5 0h1.5m-1.5 0h1.5m7.5 0h1.5m5.5 0h1.5m0 0h1.5m2.5 0h1.5m1.5 0h1.5m2.5 0h1.5m1.5 0h1.5m0 0h1.5m1 0h1.5m0 0h1.5m-1 0h1.5m-.5 0h1.5m.5 0h1.5m3.5 0h1.5m3 0h1.5m1 0h1.5m1 0h1.5m2 0h1.5m2.5 0h1.5m1 0h1.5m-1.5 0h1.5m1.5 0h1.5m-1.5 0h1.5m-1 0h1.5m.5 0h1.5m-1 0h1.5m.5 0h1.5m0 0h1.5m1 0h1.5m1 0h1.5m0 0h1.5m.5 0h1.5m-1.5 0h1.5m-.5 0h1.5m0 0h1.5m-.5 0h1.5m7.5 0h1.5m1.5 0h1.5m.5 0h1.5m8 0h1.5m-1.5 0h1.5m2 0h1.5m7 0h1.5m3 0h1.5m-.5 0h1.5m-1 0h1.5m8 0h1.5m0 0h1.5m1 0h1.5m-1.5 0h1.5m-.5 0h1.5m-1.5 0h1.5m-.5 0h1.5m1 0h1.5m-1.5 0h1.5m-1 0h1.5m-.5 0h1.5m-1 0h1.5m-1.5 0h1.5m-1 0h1.5m-.5 0h1.5m0 0h1.5m1.5 0h1.5m-1.5 0h1.5m-1 0h1.5m-1 0h1.5m4.5 0h1.5m-1.5 0h1.5m-.5 0h1.5m-1.5 0h1.5m.5 0h1.5m.5 0h1.5m-1.5 0h1.5m-.5 0h1.5m-1.5 0h1.5m1.5 0h1.5m1 0h1.5m-1.5 0h1.5m-1 0h1.5m1 0h1.5m.5 0h1.5m3 0h1.5m4.5 0h1.5m1 0h1.5m-1.5 0h1.5m-1 0h1.5m.5 0h1.5m-1 0h1.5m-.5 0h1.5m3.5 0h1.5m-1 0h1.5m1 0h1.5m.5 0h1.5m3.5 0h1.5m1 0h1.5m3.5 0h1.5m.5 0h1.5m-1 0h1.5m1.5 0h1.5m0 0h1.5m-1 0h1.5m0 0h1.5m-1 0h1.5m1 0h1.5m-1.5 0h1.5m-.5 0h1.5m0 0h1.5m-1 0h1.5m0 0h1.5m-.5 0h1.5m3 0h1.5m4.5 0h1.5m0 0h1.5m-.5 0h1.5m0 0h1.5m-1 0h1.5m6 0h1.5m1.5 0h1.5m.5 0h1.5m2 0h1.5m1 0h1.5m2.5 0h1.5m.5 0h1.5m-1.5 0h1.5m-1 0h1.5m-.5 0h1.5m-1.5 0h1.5m4 0h1.5m1 0h1.5m4.5 0h1.5m-.5 0h1.5m1 0h1.5m2.5 0h1.5m-1 0h1.5m1 0h1.5m2 0h1.5m1.5 0h1.5m-1 0h1.5m0 0h1.5m9 0h1.5m-.5 0h1.5m-1.5 0h1.5m-.5 0h1.5m-.5 0h1.5m5 0h1.5m-1 0h1.5m-.5 0h1.5m7.5 0h1.5m0 0h1.5m5.5 0h1.5m-1.5 0h1.5m1.5 0h1.5m4.5 0h1.5m11 0h1.5m5 0h1.5m-1.5 0h1.5m3 0h1.5m-.5 0h1.5m-1.5 0h1.5m3.5 0h1.5m1 0h1.5m3 0h1.5m.5 0h1.5m-.5 0h1.5m-.5 0h1.5m-.5 0h1.5m2 0h1.5m-.5 0h1.5m-1.5 0h1.5m0 0h1.5m0 0h1.5m4.5 0h1.5M78.7 275.6h1.5m1 0h1.5m19 0h1.5m.5 0h1.5m-.5 0h1.5m6 0h1.5m1.5 0h1.5m5 0h1.5m0 0h1.5m0 0h1.5m1.5 0h1.5m2 0h1.5m1 0h1.5m6 0h1.5m11.5 0h1.5m3.5 0h1.5m4 0h1.5m1.5 0h1.5m-1.5 0h1.5m-.5 0h1.5m10.5 0h1.5m7.5 0h1.5m2.5 0h1.5m.5 0h1.5m-1.5 0h1.5m-.5 0h1.5m1 0h1.5m-1 0h1.5m2 0h1.5m-1.5 0h1.5m0 0h1.5m-.5 0h1.5m1 0h1.5m-1.5 0h1.5m-.5 0h1.5m13 0h1.5m-1.5 0h1.5m1.5 0h1.5m.5 0h1.5m-1 0h1.5m2.5 0h1.5m-1 0h1.5m-.5 0h1.5m.5 0h1.5m-1.5 0h1.5m-.5 0h1.5m-1.5 0h1.5m3 0h1.5m.5 0h1.5m-1 0h1.5m0 0h1.5m6.5 0h1.5m-1.5 0h1.5m.5 0h1.5m.5 0h1.5m-1 0h1.5m1.5 0h1.5m-1 0h1.5m-1.5 0h1.5m9 0h1.5m-1 0h1.5m-.5 0h1.5m7.5 0h1.5m0 0h1.5m1 0h1.5m11.5 0h1.5m-1.5 0h1.5m-.5 0h1.5m-1 0h1.5m0 0h1.5m1.5 0h1.5m-.5 0h1.5m2.5 0h1.5m-1 0h1.5m2.5 0h1.5m-1.5 0h1.5m-.5 0h1.5m2 0h1.5m-1 0h1.5m-1 0h1.5m2 0h1.5m-.5 0h1.5m-1 0h1.5m-1 0h1.5m-1 0h1.5m-1 0h1.5m-.5 0h1.5m1 0h1.5m3.5 0h1.5m0 0h1.5m0 0h1.5m-.5 0h1.5m0 0h1.5m-1.5 0h1.5m-1 0h1.5m-.5 0h1.5m1 0h1.5m.5 0h1.5m3 0h1.5m-1 0h1.5m1 0h1.5m0 0h1.5m-1 0h1.5m-.5 0h1.5m-1 0h1.5m-.5 0h1.5m-1 0h1.5m1 0h1.5m-.5 0h1.5m-1 0h1.5m-1 0h1.5m2 0h1.5m-1.5 0h1.5m.5 0h1.5m6 0h1.5m1 0h1.5m.5 0h1.5m-1 0h1.5m0 0h1.5m-1 0h1.5m-1 0h1.5m-1 0h1.5m.5 0h1.5m-.5 0h1.5m1.5 0h1.5m-.5 0h1.5m-.5 0h1.5m5.5 0h1.5m-1.5 0h1.5m5.5 0h1.5m2 0h1.5m0 0h1.5m-.5 0h1.5m-.5 0h1.5m-1 0h1.5m-1 0h1.5m-1 0h1.5m-.5 0h1.5m2 0h1.5m-1 0h1.5m1.5 0h1.5m-1 0h1.5m-1 0h1.5m-.5 0h1.5m3 0h1.5m-1 0h1.5m0 0h1.5m1 0h1.5m7.5 0h1.5m2.5 0h1.5m1.5 0h1.5m0 0h1.5m-1 0h1.5m-1.5 0h1.5m1 0h1.5m1 0h1.5m.5 0h1.5m1 0h1.5m6 0h1.5m1 0h1.5m.5 0h1.5m2 0h1.5m6.5 0h1.5m1.5 0h1.5m0 0h1.5m-1 0h1.5m-1 0h1.5m3 0h1.5m6.5 0h1.5m1 0h1.5m4 0h1.5m0 0h1.5m7 0h1.5m.5 0h1.5m-1.5 0h1.5m9 0h1.5m2.5 0h1.5m3.5 0h1.5m1 0h1.5m9 0h1.5m1 0h1.5m-1.5 0h1.5m-1 0h1.5m-1.5 0h1.5m-.5 0h1.5m1.5 0h1.5m1 0h1.5m.5 0h1.5M83.2 273.3h1.5m0 0h1.5m2.5 0h1.5m7.5 0h1.5m8.5 0h1.5m3 0h1.5m2 0h1.5m3 0h1.5m-1.5 0h1.5m4.5 0h1.5m-1 0h1.5m8 0h1.5m3.5 0h1.5m1 0h1.5m8.5 0h1.5m-1 0h1.5m-.5 0h1.5m-1 0h1.5m1 0h1.5m2 0h1.5m11.5 0h1.5m-1.5 0h1.5m8 0h1.5m3 0h1.5m3 0h1.5m-.5 0h1.5m-.5 0h1.5m0 0h1.5m9 0h1.5m-.5 0h1.5m-.5 0h1.5m-1.5 0h1.5m4 0h1.5m-.5 0h1.5m-.5 0h1.5m2 0h1.5m-.5 0h1.5m-1 0h1.5m3 0h1.5m0 0h1.5m-1 0h1.5m-1 0h1.5m.5 0h1.5m3.5 0h1.5m0 0h1.5m3.5 0h1.5m-1 0h1.5m-1.5 0h1.5m-1 0h1.5m-.5 0h1.5m-.5 0h1.5m.5 0h1.5m3 0h1.5m-.5 0h1.5m1 0h1.5m1.5 0h1.5m0 0h1.5m3.5 0h1.5m-1.5 0h1.5m0 0h1.5m3 0h1.5m-.5 0h1.5m5 0h1.5m3 0h1.5m-1 0h1.5m-1 0h1.5m.5 0h1.5m-.5 0h1.5m-1 0h1.5m2 0h1.5m-.5 0h1.5m-.5 0h1.5m.5 0h1.5m-1 0h1.5m-.5 0h1.5m-1 0h1.5m1.5 0h1.5m-1 0h1.5m-1 0h1.5m-1.5 0h1.5m2.5 0h1.5m0 0h1.5m-1.5 0h1.5m-1.5 0h1.5m2.5 0h1.5m-1 0h1.5m1 0h1.5m-1.5 0h1.5m0 0h1.5m-.5 0h1.5m-1 0h1.5m-1.5 0h1.5m-.5 0h1.5m.5 0h1.5m-1.5 0h1.5m-1 0h1.5m2 0h1.5m-1.5 0h1.5m-.5 0h1.5m0 0h1.5m-1.5 0h1.5m-1 0h1.5m-.5 0h1.5m-.5 0h1.5m-1.5 0h1.5m6 0h1.5m-1 0h1.5m2 0h1.5m-1 0h1.5m-.5 0h1.5m-1 0h1.5m1.5 0h1.5m0 0h1.5m-1 0h1.5m-1 0h1.5m0 0h1.5m3 0h1.5m.5 0h1.5m0 0h1.5m2.5 0h1.5m1.5 0h1.5m15.5 0h1.5m.5 0h1.5m1 0h1.5m2 0h1.5m-1 0h1.5m2 0h1.5m-1 0h1.5m-1 0h1.5m-1.5 0h1.5m-.5 0h1.5m.5 0h1.5m-1 0h1.5m-1 0h1.5m-.5 0h1.5m-1.5 0h1.5m.5 0h1.5m-1 0h1.5m-1 0h1.5m1 0h1.5m3.5 0h1.5m0 0h1.5m-.5 0h1.5m.5 0h1.5m-1 0h1.5m-1 0h1.5m0 0h1.5m-1 0h1.5m9.5 0h1.5m5.5 0h1.5m1.5 0h1.5m.5 0h1.5m7.5 0h1.5m.5 0h1.5m4.5 0h1.5m-1 0h1.5m.5 0h1.5m5.5 0h1.5m-1 0h1.5m1.5 0h1.5m2.5 0h1.5m1.5 0h1.5m.5 0h1.5m0 0h1.5m-1.5 0h1.5m3 0h1.5m2 0h1.5m-.5 0h1.5m2 0h1.5m1 0h1.5m14.5 0h1.5m-.5 0h1.5m1.5 0h1.5m0 0h1.5m.5 0h1.5m5 0h1.5m6 0h1.5m-.5 0h1.5m.5 0h1.5m-1.5 0h1.5m.5 0h1.5m.5 0h1.5m-1 0h1.5m1 0h1.5m-.5 0h1.5m0 0h1.5m-1.5 0h1.5m1.5 0h1.5m2.5 0h1.5m.5 0h1.5m2 0h1.5m-1 0h1.5m3 0h1.5M88.2 271h1.5m5.5 0h1.5m0 0h1.5m.5 0h1.5m4 0h1.5m1 0h1.5m2 0h1.5m3 0h1.5m-1.5 0h1.5m4.5 0h1.5m7 0h1.5m1 0h1.5m1 0h1.5m8.5 0h1.5m-.5 0h1.5m-1 0h1.5m8 0h1.5m-.5 0h1.5m0 0h1.5m4 0h1.5m6.5 0h1.5m3 0h1.5m-1 0h1.5m5.5 0h1.5m-.5 0h1.5m6 0h1.5m4.5 0h1.5m-.5 0h1.5m.5 0h1.5m2 0h1.5m3 0h1.5m2.5 0h1.5m0 0h1.5m8.5 0h1.5m3 0h1.5m1 0h1.5m0 0h1.5m1 0h1.5m4.5 0h1.5m2 0h1.5m.5 0h1.5m7.5 0h1.5m1.5 0h1.5m1.5 0h1.5m3.5 0h1.5m0 0h1.5m-1.5 0h1.5m.5 0h1.5m.5 0h1.5m-1.5 0h1.5m-1 0h1.5m2.5 0h1.5m-1 0h1.5m0 0h1.5m1.5 0h1.5m-.5 0h1.5m.5 0h1.5m0 0h1.5m2 0h1.5m3.5 0h1.5m1 0h1.5m1.5 0h1.5m2.5 0h1.5m-1 0h1.5m2 0h1.5m-.5 0h1.5m6.5 0h1.5m-1.5 0h1.5m1 0h1.5m-1.5 0h1.5m-1 0h1.5m-.5 0h1.5m1.5 0h1.5m.5 0h1.5m0 0h1.5m.5 0h1.5m2 0h1.5m-1.5 0h1.5m-1 0h1.5m-1 0h1.5m.5 0h1.5m.5 0h1.5m0 0h1.5m-1 0h1.5m0 0h1.5m-1 0h1.5m1 0h1.5m-.5 0h1.5m.5 0h1.5m1.5 0h1.5m2.5 0h1.5m0 0h1.5m-.5 0h1.5m-1 0h1.5m-1 0h1.5m-1.5 0h1.5m4 0h1.5m0 0h1.5m.5 0h1.5m-.5 0h1.5m-1 0h1.5m-1.5 0h1.5m4.5 0h1.5m.5 0h1.5m5 0h1.5m-.5 0h1.5m2.5 0h1.5m3.5 0h1.5m2 0h1.5m-1 0h1.5m6.5 0h1.5m1 0h1.5m-.5 0h1.5m5 0h1.5m-1.5 0h1.5m0 0h1.5m-1.5 0h1.5m2 0h1.5m-.5 0h1.5m-.5 0h1.5m-1.5 0h1.5m0 0h1.5m0 0h1.5m-1 0h1.5m0 0h1.5m.5 0h1.5m0 0h1.5m8 0h1.5m-.5 0h1.5m6.5 0h1.5m1 0h1.5m.5 0h1.5m.5 0h1.5m-1 0h1.5m0 0h1.5m-.5 0h1.5m-1 0h1.5m.5 0h1.5m.5 0h1.5m-.5 0h1.5m8 0h1.5m-1 0h1.5m-.5 0h1.5m0 0h1.5m-1 0h1.5m-1 0h1.5m-1 0h1.5m0 0h1.5m-.5 0h1.5m7.5 0h1.5m1.5 0h1.5m6 0h1.5m-1 0h1.5m1.5 0h1.5m-1.5 0h1.5m-.5 0h1.5m5 0h1.5m3 0h1.5m1 0h1.5m3 0h1.5m-1.5 0h1.5m.5 0h1.5m2 0h1.5m.5 0h1.5m3 0h1.5m-1 0h1.5m3.5 0h1.5m.5 0h1.5m.5 0h1.5m-1 0h1.5m3 0h1.5m1 0h1.5m.5 0h1.5m1.5 0h1.5m-1 0h1.5m7.5 0h1.5m-1 0h1.5m-.5 0h1.5M78.7 268.7h1.5m.5 0h1.5m-1 0h1.5m-1 0h1.5m7 0h1.5m1.5 0h1.5m1 0h1.5m7 0h1.5m0 0h1.5m.5 0h1.5m4.5 0h1.5m-1 0h1.5m1 0h1.5m13.5 0h1.5m.5 0h1.5m4.5 0h1.5m6.5 0h1.5m0 0h1.5m.5 0h1.5m13 0h1.5m-1.5 0h1.5m7 0h1.5m1 0h1.5m-1 0h1.5m4 0h1.5m.5 0h1.5m12 0h1.5m-1 0h1.5m-.5 0h1.5m-1.5 0h1.5m13.5 0h1.5m.5 0h1.5m4 0h1.5m2.5 0h1.5m1 0h1.5m1.5 0h1.5m-1.5 0h1.5m1 0h1.5m-1.5 0h1.5m1 0h1.5m-1 0h1.5m-1 0h1.5m3 0h1.5m-1 0h1.5m-1 0h1.5m-.5 0h1.5m-.5 0h1.5m-1 0h1.5m3 0h1.5m.5 0h1.5m-1 0h1.5m2 0h1.5m-.5 0h1.5m3 0h1.5m9 0h1.5m-.5 0h1.5m1.5 0h1.5m-1.5 0h1.5m.5 0h1.5m.5 0h1.5m-.5 0h1.5m4.5 0h1.5m1 0h1.5m-1.5 0h1.5m0 0h1.5m0 0h1.5m-1 0h1.5m-1 0h1.5m-.5 0h1.5m-1 0h1.5m-1.5 0h1.5m-.5 0h1.5m-1 0h1.5m3.5 0h1.5m-.5 0h1.5m-1 0h1.5m2.5 0h1.5m2 0h1.5m-.5 0h1.5m-.5 0h1.5m-1 0h1.5m3.5 0h1.5m-.5 0h1.5m-.5 0h1.5m-.5 0h1.5m-1 0h1.5m-.5 0h1.5m-1 0h1.5m2 0h1.5m1 0h1.5m-.5 0h1.5m-1 0h1.5m4 0h1.5m6.5 0h1.5m4.5 0h1.5m-.5 0h1.5m1.5 0h1.5m-.5 0h1.5m-1.5 0h1.5m0 0h1.5m-.5 0h1.5m-1 0h1.5m1.5 0h1.5m-1 0h1.5m-.5 0h1.5m0 0h1.5m-1 0h1.5m-.5 0h1.5m1 0h1.5m-1.5 0h1.5m1 0h1.5m3.5 0h1.5m1 0h1.5m0 0h1.5m-.5 0h1.5m1 0h1.5m3 0h1.5m.5 0h1.5m2 0h1.5m.5 0h1.5m5.5 0h1.5m-1.5 0h1.5m3.5 0h1.5m-1.5 0h1.5m1.5 0h1.5m-1 0h1.5m3.5 0h1.5m5.5 0h1.5m1 0h1.5m-.5 0h1.5m.5 0h1.5m2.5 0h1.5m2 0h1.5m2.5 0h1.5m0 0h1.5m3.5 0h1.5m1.5 0h1.5m-.5 0h1.5m-1 0h1.5m0 0h1.5m4 0h1.5m8.5 0h1.5m-1 0h1.5m-1 0h1.5m0 0h1.5m-1.5 0h1.5m6 0h1.5m2 0h1.5m1 0h1.5m1 0h1.5m2.5 0h1.5m1.5 0h1.5m-1 0h1.5m-.5 0h1.5m1 0h1.5m-1.5 0h1.5m3 0h1.5m28 0h1.5m1 0h1.5m1 0h1.5m1 0h1.5m1 0h1.5m3.5 0h1.5m1.5 0h1.5m-.5 0h1.5m0 0h1.5m1 0h1.5m1.5 0h1.5m2 0h1.5m-.5 0h1.5m-1 0h1.5m-1 0h1.5m5 0h1.5m0 0h1.5M81.2 266.4h1.5m1.5 0h1.5m-.5 0h1.5m-1.5 0h1.5m.5 0h1.5m-1 0h1.5m-1 0h1.5m4 0h1.5m-1.5 0h1.5m1 0h1.5m2.5 0h1.5m21 0h1.5m0 0h1.5m3 0h1.5m3 0h1.5m18.5 0h1.5m-1.5 0h1.5m2 0h1.5m3 0h1.5m2.5 0h1.5m9 0h1.5m2 0h1.5m4.5 0h1.5m0 0h1.5m1 0h1.5m1 0h1.5m4.5 0h1.5m0 0h1.5m-.5 0h1.5m-1 0h1.5m.5 0h1.5m-1 0h1.5m-.5 0h1.5m17 0h1.5m0 0h1.5m6 0h1.5m-1.5 0h1.5m0 0h1.5m1.5 0h1.5m-.5 0h1.5m-1 0h1.5m-1 0h1.5m.5 0h1.5m1.5 0h1.5m1 0h1.5m3 0h1.5m3.5 0h1.5m-1 0h1.5m-.5 0h1.5m4.5 0h1.5m3.5 0h1.5m-1.5 0h1.5m.5 0h1.5m-.5 0h1.5m-.5 0h1.5m0 0h1.5m2.5 0h1.5m2.5 0h1.5m-.5 0h1.5m.5 0h1.5m-.5 0h1.5m1 0h1.5m2 0h1.5m1 0h1.5m.5 0h1.5m-1.5 0h1.5m-1.5 0h1.5m1.5 0h1.5m3 0h1.5m.5 0h1.5m2.5 0h1.5m-.5 0h1.5m-.5 0h1.5m-1.5 0h1.5m1 0h1.5m-1 0h1.5m-1 0h1.5m0 0h1.5m-.5 0h1.5m-1 0h1.5m-1 0h1.5m-1.5 0h1.5m1.5 0h1.5m.5 0h1.5m-1 0h1.5m-1 0h1.5m-1 0h1.5m-1 0h1.5m-1.5 0h1.5m-1.5 0h1.5m.5 0h1.5m-1.5 0h1.5m-.5 0h1.5m.5 0h1.5m-1 0h1.5m0 0h1.5m-1.5 0h1.5m1 0h1.5m1 0h1.5m-.5 0h1.5m0 0h1.5m-1.5 0h1.5m-1.5 0h1.5m-.5 0h1.5m-1 0h1.5m0 0h1.5m1 0h1.5m-.5 0h1.5m-1 0h1.5m1.5 0h1.5m-1 0h1.5m0 0h1.5m-1 0h1.5m.5 0h1.5m.5 0h1.5m-.5 0h1.5m2.5 0h1.5m-1 0h1.5m0 0h1.5m-1 0h1.5m.5 0h1.5m-1.5 0h1.5m1.5 0h1.5m-1.5 0h1.5m1.5 0h1.5m-1.5 0h1.5m-1.5 0h1.5m.5 0h1.5m1.5 0h1.5m5 0h1.5m1.5 0h1.5m.5 0h1.5m-1 0h1.5m2.5 0h1.5m-1.5 0h1.5m3 0h1.5m-1 0h1.5m-1 0h1.5m-1 0h1.5m1 0h1.5m4 0h1.5m1.5 0h1.5m-.5 0h1.5m3.5 0h1.5m0 0h1.5m-1 0h1.5m-.5 0h1.5m4.5 0h1.5m-1.5 0h1.5m0 0h1.5m-1 0h1.5m-1 0h1.5m3 0h1.5m-1 0h1.5m.5 0h1.5m1 0h1.5m4.5 0h1.5m-1.5 0h1.5m-.5 0h1.5m1.5 0h1.5m2 0h1.5m3 0h1.5m2 0h1.5m0 0h1.5m-1.5 0h1.5m-1 0h1.5m3 0h1.5m.5 0h1.5m-1.5 0h1.5m-1 0h1.5m13 0h1.5m-1 0h1.5m3.5 0h1.5m.5 0h1.5m14.5 0h1.5m-1 0h1.5m-.5 0h1.5m2 0h1.5m1 0h1.5m1.5 0h1.5m-1.5 0h1.5m-.5 0h1.5m1.5 0h1.5m1.5 0h1.5m2 0h1.5m3.5 0h1.5m-1.5 0h1.5m1 0h1.5m5 0h1.5m1 0h1.5m-1 0h1.5m1.5 0h1.5m3.5 0h1.5m0 0h1.5m2 0h1.5m-1.5 0h1.5m1 0h1.5m-1.5 0h1.5m4 0h1.5m.5 0h1.5M78.2 264.1h1.5m0 0h1.5m0 0h1.5m.5 0h1.5m7 0h1.5m11 0h1.5m1 0h1.5m1.5 0h1.5m5 0h1.5m1.5 0h1.5m5.5 0h1.5m.5 0h1.5m0 0h1.5m2.5 0h1.5m1.5 0h1.5m3 0h1.5m3 0h1.5m-.5 0h1.5m-.5 0h1.5m2 0h1.5m1 0h1.5m-1 0h1.5m.5 0h1.5m2 0h1.5m-1.5 0h1.5m.5 0h1.5m9.5 0h1.5m2 0h1.5m.5 0h1.5m1 0h1.5m2 0h1.5m9 0h1.5m-1 0h1.5m-1 0h1.5m-1 0h1.5m-1 0h1.5m-1 0h1.5m.5 0h1.5m9.5 0h1.5m-.5 0h1.5m-1 0h1.5m1 0h1.5m.5 0h1.5m7.5 0h1.5m2 0h1.5m-.5 0h1.5m7.5 0h1.5m-1 0h1.5m1 0h1.5m-.5 0h1.5m4.5 0h1.5m4.5 0h1.5m1 0h1.5m5 0h1.5m2.5 0h1.5m7 0h1.5m0 0h1.5m-1 0h1.5m2 0h1.5m1 0h1.5m-1.5 0h1.5m1.5 0h1.5m-1.5 0h1.5m1 0h1.5m1 0h1.5m-1 0h1.5m-1.5 0h1.5m-.5 0h1.5m-1 0h1.5m-1 0h1.5m-1 0h1.5m-1 0h1.5m1 0h1.5m0 0h1.5m0 0h1.5m2 0h1.5m-.5 0h1.5m0 0h1.5m1 0h1.5m0 0h1.5m.5 0h1.5m0 0h1.5m-1 0h1.5m0 0h1.5m.5 0h1.5m-.5 0h1.5m-1.5 0h1.5m-.5 0h1.5m-.5 0h1.5m-1.5 0h1.5m-1 0h1.5m-.5 0h1.5m-1 0h1.5m-1 0h1.5m-1 0h1.5m-1.5 0h1.5m-1 0h1.5m-1 0h1.5m-1.5 0h1.5m-1.5 0h1.5m-.5 0h1.5m-.5 0h1.5m-1 0h1.5m-.5 0h1.5m-1 0h1.5m-1.5 0h1.5m0 0h1.5m-.5 0h1.5m7 0h1.5m-1 0h1.5m-.5 0h1.5m-1 0h1.5m2.5 0h1.5m-1 0h1.5m-1 0h1.5m3.5 0h1.5m-1 0h1.5m-.5 0h1.5m-1 0h1.5m4.5 0h1.5m-1 0h1.5m-1 0h1.5m.5 0h1.5m0 0h1.5m-1 0h1.5m6.5 0h1.5m1 0h1.5m.5 0h1.5m.5 0h1.5m-1 0h1.5m-1.5 0h1.5m-.5 0h1.5m1 0h1.5m1 0h1.5m2.5 0h1.5m0 0h1.5m.5 0h1.5m-1 0h1.5m-1.5 0h1.5m-1 0h1.5m0 0h1.5m-1.5 0h1.5m-1 0h1.5m5 0h1.5m1 0h1.5m-1.5 0h1.5m0 0h1.5m.5 0h1.5m-1 0h1.5m-.5 0h1.5m-.5 0h1.5m.5 0h1.5m0 0h1.5m9 0h1.5m3 0h1.5m1 0h1.5m-1.5 0h1.5m10 0h1.5m-1 0h1.5m-.5 0h1.5m2 0h1.5m0 0h1.5m5 0h1.5m-.5 0h1.5m-1 0h1.5m1 0h1.5m-1 0h1.5m.5 0h1.5m-1.5 0h1.5m2 0h1.5m-1 0h1.5m6 0h1.5m-.5 0h1.5m2 0h1.5m.5 0h1.5m.5 0h1.5m-1 0h1.5m1.5 0h1.5m1.5 0h1.5m12 0h1.5m.5 0h1.5m1 0h1.5m2.5 0h1.5m-1.5 0h1.5m8.5 0h1.5m-.5 0h1.5m0 0h1.5m4.5 0h1.5m-1.5 0h1.5m2 0h1.5m-.5 0h1.5m-.5 0h1.5m4 0h1.5m0 0h1.5m2.5 0h1.5m.5 0h1.5m-.5 0h1.5m.5 0h1.5m-1 0h1.5m-.5 0h1.5m0 0h1.5m3 0h1.5m1.5 0h1.5M90.2 261.8h1.5m1 0h1.5m10.5 0h1.5m1 0h1.5m2 0h1.5m5.5 0h1.5m0 0h1.5m4 0h1.5m4.5 0h1.5m.5 0h1.5m1.5 0h1.5m-.5 0h1.5m16 0h1.5m-1.5 0h1.5m1 0h1.5m12 0h1.5m2 0h1.5m5.5 0h1.5m-1 0h1.5m6 0h1.5m1.5 0h1.5m-.5 0h1.5m1 0h1.5m-.5 0h1.5m1.5 0h1.5m3 0h1.5m-.5 0h1.5m.5 0h1.5m2.5 0h1.5m-1 0h1.5m1 0h1.5m.5 0h1.5m-1.5 0h1.5m1 0h1.5m.5 0h1.5m-1 0h1.5m-.5 0h1.5m-.5 0h1.5m1 0h1.5m3.5 0h1.5m1 0h1.5m0 0h1.5m-.5 0h1.5m1.5 0h1.5m2 0h1.5m1.5 0h1.5m2.5 0h1.5m-1 0h1.5m0 0h1.5m-1.5 0h1.5m-.5 0h1.5m1.5 0h1.5m2.5 0h1.5m12 0h1.5m2.5 0h1.5m.5 0h1.5m0 0h1.5m0 0h1.5m.5 0h1.5m-1 0h1.5m-1 0h1.5m-.5 0h1.5m3 0h1.5m-.5 0h1.5m2 0h1.5m.5 0h1.5m-1.5 0h1.5m1 0h1.5m0 0h1.5m1.5 0h1.5m-1 0h1.5m.5 0h1.5m0 0h1.5m-1 0h1.5m2.5 0h1.5m-.5 0h1.5m2 0h1.5m-1 0h1.5m-1.5 0h1.5m-.5 0h1.5m1 0h1.5m2 0h1.5m-1.5 0h1.5m-1 0h1.5m-1 0h1.5m-1.5 0h1.5m0 0h1.5m4 0h1.5m0 0h1.5m-1 0h1.5m-1 0h1.5m-1 0h1.5m-1.5 0h1.5m.5 0h1.5m.5 0h1.5m0 0h1.5m-1 0h1.5m0 0h1.5m-1 0h1.5m-.5 0h1.5m-.5 0h1.5m.5 0h1.5m0 0h1.5m-1.5 0h1.5m-.5 0h1.5m.5 0h1.5m-.5 0h1.5m-.5 0h1.5m1 0h1.5m-.5 0h1.5m-.5 0h1.5m-1.5 0h1.5m-.5 0h1.5m.5 0h1.5m-1 0h1.5m.5 0h1.5m1.5 0h1.5m-1 0h1.5m2 0h1.5m1.5 0h1.5m-1 0h1.5m-1 0h1.5m-1 0h1.5m2 0h1.5m1.5 0h1.5m2 0h1.5m3.5 0h1.5m1 0h1.5m-1 0h1.5m-.5 0h1.5m0 0h1.5m2.5 0h1.5m2.5 0h1.5m3 0h1.5m0 0h1.5m.5 0h1.5m0 0h1.5m.5 0h1.5m0 0h1.5m0 0h1.5m1 0h1.5m-.5 0h1.5m3.5 0h1.5m6 0h1.5m3.5 0h1.5m-1.5 0h1.5m1 0h1.5m0 0h1.5m1.5 0h1.5m0 0h1.5m-.5 0h1.5m.5 0h1.5m.5 0h1.5m4.5 0h1.5m1 0h1.5m0 0h1.5m-1.5 0h1.5m-1 0h1.5m4 0h1.5m3.5 0h1.5m0 0h1.5m-.5 0h1.5m-.5 0h1.5m.5 0h1.5m.5 0h1.5m-1.5 0h1.5m1.5 0h1.5m1 0h1.5m2.5 0h1.5m1 0h1.5m4 0h1.5m-.5 0h1.5m5.5 0h1.5m4.5 0h1.5m2 0h1.5m3.5 0h1.5m-1.5 0h1.5m.5 0h1.5m1.5 0h1.5m1 0h1.5m-.5 0h1.5m-.5 0h1.5m5 0h1.5m-1.5 0h1.5m1 0h1.5m-.5 0h1.5m8 0h1.5m0 0h1.5m-1 0h1.5m-.5 0h1.5m0 0h1.5m0 0h1.5m4.5 0h1.5m-1.5 0h1.5m0 0h1.5m.5 0h1.5m1 0h1.5M79.2 259.5h1.5m-.5 0h1.5m0 0h1.5m4 0h1.5m4 0h1.5m6.5 0h1.5m0 0h1.5m-.5 0h1.5m1.5 0h1.5m5 0h1.5m5 0h1.5m3 0h1.5m-1 0h1.5m-.5 0h1.5m-1.5 0h1.5m-1.5 0h1.5m-1 0h1.5m3 0h1.5m19.5 0h1.5m-.5 0h1.5m3.5 0h1.5m1.5 0h1.5m.5 0h1.5m2 0h1.5m5.5 0h1.5m8 0h1.5m-.5 0h1.5m0 0h1.5m2.5 0h1.5m-1 0h1.5m.5 0h1.5m1 0h1.5m1.5 0h1.5m-1.5 0h1.5m0 0h1.5m-1 0h1.5m-.5 0h1.5m-.5 0h1.5m1.5 0h1.5m5.5 0h1.5m-1 0h1.5m.5 0h1.5m-1 0h1.5m1 0h1.5m0 0h1.5m5.5 0h1.5m-1.5 0h1.5m2 0h1.5m.5 0h1.5m3 0h1.5m-1 0h1.5m-1.5 0h1.5m.5 0h1.5m-1 0h1.5m3.5 0h1.5m.5 0h1.5m1.5 0h1.5m.5 0h1.5m2.5 0h1.5m-1 0h1.5m.5 0h1.5m-1 0h1.5m1.5 0h1.5m-1 0h1.5m2 0h1.5m3 0h1.5m-1.5 0h1.5m.5 0h1.5m-1 0h1.5m0 0h1.5m-.5 0h1.5m2.5 0h1.5m1 0h1.5m3.5 0h1.5m-1.5 0h1.5m1.5 0h1.5m-1.5 0h1.5m-.5 0h1.5m2 0h1.5m-1 0h1.5m1 0h1.5m-1 0h1.5m-1.5 0h1.5m-1.5 0h1.5m3 0h1.5m-1.5 0h1.5m.5 0h1.5m-1.5 0h1.5m-1 0h1.5m-.5 0h1.5m2.5 0h1.5m0 0h1.5m-1 0h1.5m-.5 0h1.5m-1 0h1.5m1 0h1.5m-.5 0h1.5m3.5 0h1.5m1.5 0h1.5m-1.5 0h1.5m-1 0h1.5m-1.5 0h1.5m.5 0h1.5m0 0h1.5m-1 0h1.5m-1 0h1.5m-1 0h1.5m0 0h1.5m-1 0h1.5m-1 0h1.5m0 0h1.5m0 0h1.5m-1.5 0h1.5m-1.5 0h1.5m-1 0h1.5m-1.5 0h1.5m.5 0h1.5m-.5 0h1.5m2 0h1.5m0 0h1.5m-1 0h1.5m0 0h1.5m-.5 0h1.5m-1 0h1.5m0 0h1.5m4 0h1.5m-1 0h1.5m-1 0h1.5m1.5 0h1.5m1 0h1.5m2 0h1.5m2.5 0h1.5m-1 0h1.5m1.5 0h1.5m3 0h1.5m-1.5 0h1.5m.5 0h1.5m1 0h1.5m1.5 0h1.5m0 0h1.5m2 0h1.5m1.5 0h1.5m-1 0h1.5m-1 0h1.5m-.5 0h1.5m0 0h1.5m-.5 0h1.5m-.5 0h1.5m-1 0h1.5m-1.5 0h1.5m0 0h1.5m3.5 0h1.5m1.5 0h1.5m2 0h1.5m4 0h1.5m.5 0h1.5m0 0h1.5m.5 0h1.5m-1.5 0h1.5m-1 0h1.5m-1 0h1.5m1 0h1.5m.5 0h1.5m-1 0h1.5m1.5 0h1.5m1.5 0h1.5m-1 0h1.5m0 0h1.5m2 0h1.5m-.5 0h1.5m2.5 0h1.5m5.5 0h1.5m-1 0h1.5m1 0h1.5m-1 0h1.5m1.5 0h1.5m-.5 0h1.5m-1 0h1.5m3.5 0h1.5m1.5 0h1.5m-1.5 0h1.5m1.5 0h1.5m-1 0h1.5m1.5 0h1.5m-.5 0h1.5m3 0h1.5m-1 0h1.5m1.5 0h1.5m0 0h1.5m1 0h1.5m0 0h1.5m.5 0h1.5m-.5 0h1.5m-1 0h1.5m1.5 0h1.5m-1 0h1.5m1.5 0h1.5m-1 0h1.5m.5 0h1.5m1.5 0h1.5m-1.5 0h1.5m1.5 0h1.5m4 0h1.5m1.5 0h1.5m3 0h1.5m-1 0h1.5m4.5 0h1.5m3.5 0h1.5m1 0h1.5m-1.5 0h1.5m-1 0h1.5m11.5 0h1.5m1 0h1.5m1.5 0h1.5m4.5 0h1.5m3.5 0h1.5M81.2 257.1h1.5m4 0h1.5m2.5 0h1.5m5 0h1.5m.5 0h1.5m0 0h1.5m1 0h1.5m0 0h1.5m-1 0h1.5m10.5 0h1.5m3.5 0h1.5m-1.5 0h1.5m-1 0h1.5m-.5 0h1.5m.5 0h1.5m.5 0h1.5m.5 0h1.5m7.5 0h1.5m0 0h1.5m5 0h1.5m-1 0h1.5m3 0h1.5m0 0h1.5m-1 0h1.5m0 0h1.5m1 0h1.5m6 0h1.5m2.5 0h1.5m-1 0h1.5m0 0h1.5m1 0h1.5m5 0h1.5m5.5 0h1.5m0 0h1.5m1.5 0h1.5m0 0h1.5m0 0h1.5m-1 0h1.5m-1 0h1.5m1 0h1.5m1 0h1.5m12 0h1.5m-1 0h1.5m0 0h1.5m0 0h1.5m2 0h1.5m1.5 0h1.5m-.5 0h1.5m0 0h1.5m-.5 0h1.5m1.5 0h1.5m2 0h1.5m3 0h1.5m-1 0h1.5m-.5 0h1.5m2.5 0h1.5m-1.5 0h1.5m6.5 0h1.5m1 0h1.5m-1 0h1.5m1.5 0h1.5m0 0h1.5m0 0h1.5m-.5 0h1.5m1 0h1.5m-1.5 0h1.5m1.5 0h1.5m2 0h1.5m-1 0h1.5m0 0h1.5m.5 0h1.5m1 0h1.5m-1.5 0h1.5m4 0h1.5m-1.5 0h1.5m3 0h1.5m1 0h1.5m.5 0h1.5m-.5 0h1.5m.5 0h1.5m3 0h1.5m.5 0h1.5m.5 0h1.5m-.5 0h1.5m0 0h1.5m0 0h1.5m-1 0h1.5m2 0h1.5m.5 0h1.5m-.5 0h1.5m-.5 0h1.5m.5 0h1.5m-.5 0h1.5m-1 0h1.5m-.5 0h1.5m1 0h1.5m-1 0h1.5m-.5 0h1.5m-.5 0h1.5m-1 0h1.5m-1 0h1.5m4 0h1.5m6 0h1.5m-.5 0h1.5m-.5 0h1.5m-.5 0h1.5m-.5 0h1.5m-.5 0h1.5m-1.5 0h1.5m0 0h1.5m.5 0h1.5m-.5 0h1.5m-1 0h1.5m6 0h1.5m-1 0h1.5m1 0h1.5m.5 0h1.5m1 0h1.5m-1 0h1.5m0 0h1.5m-1 0h1.5m-1 0h1.5m-1.5 0h1.5m-1 0h1.5m-1 0h1.5m-1 0h1.5m0 0h1.5m1 0h1.5m.5 0h1.5m.5 0h1.5m1.5 0h1.5m3.5 0h1.5m1 0h1.5m-1.5 0h1.5m2 0h1.5m0 0h1.5m-1.5 0h1.5m1 0h1.5m-1 0h1.5m-1.5 0h1.5m0 0h1.5m-1 0h1.5m2.5 0h1.5m1 0h1.5m-1 0h1.5m0 0h1.5m-.5 0h1.5m0 0h1.5m-1.5 0h1.5m-.5 0h1.5m-1 0h1.5m-1 0h1.5m2.5 0h1.5m-.5 0h1.5m0 0h1.5m3 0h1.5m-1 0h1.5m-.5 0h1.5m7 0h1.5m5 0h1.5m1 0h1.5m2 0h1.5m.5 0h1.5m-1 0h1.5m3.5 0h1.5m-.5 0h1.5m0 0h1.5m-1.5 0h1.5m-1.5 0h1.5m0 0h1.5m1.5 0h1.5m2.5 0h1.5m-1.5 0h1.5m5.5 0h1.5m-1 0h1.5m-1 0h1.5m1.5 0h1.5m2.5 0h1.5m.5 0h1.5m4.5 0h1.5m4 0h1.5m.5 0h1.5m-1 0h1.5m1 0h1.5m-1 0h1.5m-.5 0h1.5m5.5 0h1.5m-.5 0h1.5m-.5 0h1.5m-.5 0h1.5m3 0h1.5m1.5 0h1.5m-1.5 0h1.5m.5 0h1.5m-1 0h1.5m4.5 0h1.5m11 0h1.5m0 0h1.5m-.5 0h1.5m3 0h1.5m.5 0h1.5m-1 0h1.5m1 0h1.5m-.5 0h1.5m4.5 0h1.5m-1 0h1.5m.5 0h1.5m1 0h1.5m5 0h1.5M78.7 254.8h1.5m18 0h1.5m4 0h1.5m2 0h1.5m1.5 0h1.5m-1.5 0h1.5m13.5 0h1.5m5.5 0h1.5m.5 0h1.5m5 0h1.5m-.5 0h1.5m4.5 0h1.5m2.5 0h1.5m7 0h1.5m8 0h1.5m-1 0h1.5m0 0h1.5m1.5 0h1.5m0 0h1.5m5.5 0h1.5m-.5 0h1.5m-1.5 0h1.5m.5 0h1.5m-1 0h1.5m-.5 0h1.5m3 0h1.5m4 0h1.5m2 0h1.5m-1 0h1.5m1 0h1.5m5.5 0h1.5m-1.5 0h1.5m-1 0h1.5m3 0h1.5m.5 0h1.5m4.5 0h1.5m2 0h1.5m0 0h1.5m1.5 0h1.5m0 0h1.5m2.5 0h1.5m3.5 0h1.5m-1 0h1.5m.5 0h1.5m-1 0h1.5m0 0h1.5m-.5 0h1.5m-1 0h1.5m2 0h1.5m-1 0h1.5m1 0h1.5m1 0h1.5m5.5 0h1.5m-1.5 0h1.5m-.5 0h1.5m4 0h1.5m0 0h1.5m3 0h1.5m4 0h1.5m-1 0h1.5m.5 0h1.5m-1 0h1.5m4.5 0h1.5m0 0h1.5m-.5 0h1.5m-1 0h1.5m-.5 0h1.5m-1.5 0h1.5m-.5 0h1.5m-.5 0h1.5m-1 0h1.5m-1.5 0h1.5m-1 0h1.5m.5 0h1.5m2 0h1.5m3.5 0h1.5m.5 0h1.5m1.5 0h1.5m-1 0h1.5m1 0h1.5m-.5 0h1.5m-1 0h1.5m0 0h1.5m-1 0h1.5m2 0h1.5m-1.5 0h1.5m-1 0h1.5m1 0h1.5m-1 0h1.5m-1 0h1.5m0 0h1.5m-1 0h1.5m3.5 0h1.5m-1.5 0h1.5m-1 0h1.5m-1.5 0h1.5m0 0h1.5m-1 0h1.5m0 0h1.5m-1 0h1.5m-1 0h1.5m-1 0h1.5m1 0h1.5m0 0h1.5m-.5 0h1.5m.5 0h1.5m1 0h1.5m-1 0h1.5m9 0h1.5m-1 0h1.5m-.5 0h1.5m-.5 0h1.5m-1 0h1.5m2 0h1.5m0 0h1.5m-1.5 0h1.5m-1 0h1.5m.5 0h1.5m-1.5 0h1.5m.5 0h1.5m-.5 0h1.5m-1.5 0h1.5m1.5 0h1.5m-1 0h1.5m-1 0h1.5m0 0h1.5m-1 0h1.5m0 0h1.5m-1.5 0h1.5m1.5 0h1.5m-1.5 0h1.5m4.5 0h1.5m-1 0h1.5m-.5 0h1.5m0 0h1.5m-.5 0h1.5m-1 0h1.5m-1 0h1.5m-1 0h1.5m.5 0h1.5m0 0h1.5m1 0h1.5m4.5 0h1.5m1 0h1.5m-1 0h1.5m-1.5 0h1.5m-1 0h1.5m4.5 0h1.5m-.5 0h1.5m3.5 0h1.5m2 0h1.5m-1 0h1.5m2 0h1.5m0 0h1.5m-1 0h1.5m-1 0h1.5m0 0h1.5m-.5 0h1.5m2 0h1.5m2 0h1.5m-1 0h1.5m.5 0h1.5m-1 0h1.5m.5 0h1.5m2.5 0h1.5m-1.5 0h1.5m-1 0h1.5m0 0h1.5m-.5 0h1.5m-1 0h1.5m4 0h1.5m-1 0h1.5m.5 0h1.5m-.5 0h1.5m-1 0h1.5m-1 0h1.5m6.5 0h1.5m-1 0h1.5m1.5 0h1.5m-1.5 0h1.5m1.5 0h1.5m1.5 0h1.5m-1.5 0h1.5m-1 0h1.5m3 0h1.5m1 0h1.5m-.5 0h1.5m5 0h1.5m4 0h1.5m-1.5 0h1.5m3 0h1.5m7 0h1.5m.5 0h1.5m0 0h1.5m-.5 0h1.5m-1.5 0h1.5m1 0h1.5m1.5 0h1.5m-1 0h1.5m-1 0h1.5m-1 0h1.5m-.5 0h1.5m.5 0h1.5m-.5 0h1.5m-1 0h1.5m9 0h1.5m4.5 0h1.5m-.5 0h1.5m3 0h1.5m0 0h1.5m0 0h1.5m5 0h1.5m1 0h1.5m-.5 0h1.5m-.5 0h1.5M80.2 252.5h1.5m-.5 0h1.5m.5 0h1.5m1 0h1.5m-1 0h1.5m-1.5 0h1.5m6 0h1.5m2.5 0h1.5m2.5 0h1.5m-1 0h1.5m-.5 0h1.5m-.5 0h1.5m4 0h1.5m-1.5 0h1.5m4 0h1.5m5.5 0h1.5m9 0h1.5m0 0h1.5m4.5 0h1.5m2.5 0h1.5m6 0h1.5m3.5 0h1.5m-1 0h1.5m11 0h1.5m-1 0h1.5m2 0h1.5m-1 0h1.5m1.5 0h1.5m3 0h1.5m10 0h1.5m.5 0h1.5m0 0h1.5m5.5 0h1.5m.5 0h1.5m-.5 0h1.5m3 0h1.5m-.5 0h1.5m1 0h1.5m1 0h1.5m0 0h1.5m1 0h1.5m0 0h1.5m.5 0h1.5m2.5 0h1.5m1 0h1.5m-.5 0h1.5m1 0h1.5m3 0h1.5m-1.5 0h1.5m0 0h1.5m0 0h1.5m-1 0h1.5m-.5 0h1.5m3 0h1.5m.5 0h1.5m2 0h1.5m7 0h1.5m4.5 0h1.5m-1.5 0h1.5m-1 0h1.5m.5 0h1.5m.5 0h1.5m0 0h1.5m-1.5 0h1.5m.5 0h1.5m-1 0h1.5m3.5 0h1.5m0 0h1.5m-1.5 0h1.5m-1 0h1.5m-.5 0h1.5m0 0h1.5m2 0h1.5m-1.5 0h1.5m3.5 0h1.5m1 0h1.5m4.5 0h1.5m-.5 0h1.5m-1 0h1.5m-1 0h1.5m-1 0h1.5m.5 0h1.5m-1.5 0h1.5m4 0h1.5m0 0h1.5m-.5 0h1.5m0 0h1.5m0 0h1.5m-1.5 0h1.5m-1 0h1.5m-1.5 0h1.5m-1 0h1.5m-1 0h1.5m.5 0h1.5m2.5 0h1.5m.5 0h1.5m.5 0h1.5m-1 0h1.5m.5 0h1.5m-1 0h1.5m0 0h1.5m.5 0h1.5m-1 0h1.5m-1 0h1.5m0 0h1.5m-1 0h1.5m-1 0h1.5m-1.5 0h1.5m-1 0h1.5m-1 0h1.5m-.5 0h1.5m-.5 0h1.5m-1 0h1.5m-1 0h1.5m-.5 0h1.5m-1.5 0h1.5m3.5 0h1.5m.5 0h1.5m-1.5 0h1.5m0 0h1.5m1 0h1.5m.5 0h1.5m-1.5 0h1.5m4.5 0h1.5m-1 0h1.5m-1.5 0h1.5m1.5 0h1.5m-1 0h1.5m-1.5 0h1.5m-1 0h1.5m.5 0h1.5m-1.5 0h1.5m-1 0h1.5m-.5 0h1.5m-1 0h1.5m0 0h1.5m-1.5 0h1.5m-1 0h1.5m-.5 0h1.5m-1 0h1.5m6.5 0h1.5m2 0h1.5m3.5 0h1.5m-1 0h1.5m.5 0h1.5m-.5 0h1.5m-.5 0h1.5m1 0h1.5m3 0h1.5m-1.5 0h1.5m-1 0h1.5m-1 0h1.5m-1.5 0h1.5m-.5 0h1.5m-1 0h1.5m-1.5 0h1.5m3 0h1.5m-1 0h1.5m-1.5 0h1.5m0 0h1.5m.5 0h1.5m4 0h1.5m6 0h1.5m.5 0h1.5m-1.5 0h1.5m-1.5 0h1.5m7.5 0h1.5m2.5 0h1.5m0 0h1.5m5.5 0h1.5m1.5 0h1.5m-.5 0h1.5m-1.5 0h1.5m-1 0h1.5m-1.5 0h1.5m3.5 0h1.5m-.5 0h1.5m-1 0h1.5m-1.5 0h1.5m-1.5 0h1.5m2 0h1.5m-1 0h1.5m0 0h1.5m-1.5 0h1.5m-1 0h1.5m.5 0h1.5m-1.5 0h1.5m-.5 0h1.5m-1.5 0h1.5m1.5 0h1.5m2.5 0h1.5m-.5 0h1.5m-.5 0h1.5m3.5 0h1.5m1 0h1.5m1.5 0h1.5m3.5 0h1.5m.5 0h1.5m4.5 0h1.5m-.5 0h1.5m0 0h1.5m3 0h1.5m-1 0h1.5m1.5 0h1.5m-1.5 0h1.5m.5 0h1.5m-.5 0h1.5m-1.5 0h1.5m8 0h1.5m3 0h1.5m-1.5 0h1.5m.5 0h1.5m-1.5 0h1.5m-.5 0h1.5m-1 0h1.5m-.5 0h1.5m0 0h1.5m1 0h1.5m1 0h1.5m1 0h1.5m-1.5 0h1.5m3 0h1.5m1 0h1.5m0 0h1.5m1 0h1.5m0 0h1.5m-1.5 0h1.5m0 0h1.5m-1 0h1.5m8 0h1.5m-1.5 0h1.5m-1 0h1.5M80.7 250.2h1.5m1 0h1.5m1 0h1.5m1.5 0h1.5m-1 0h1.5m6 0h1.5m-.5 0h1.5m0 0h1.5m-1.5 0h1.5m5.5 0h1.5m1.5 0h1.5m-.5 0h1.5m0 0h1.5m9.5 0h1.5m3.5 0h1.5m-.5 0h1.5m.5 0h1.5m27 0h1.5m-1.5 0h1.5m-.5 0h1.5m-.5 0h1.5m0 0h1.5m-.5 0h1.5m0 0h1.5m.5 0h1.5m1 0h1.5m.5 0h1.5m3.5 0h1.5m.5 0h1.5m-1.5 0h1.5m4 0h1.5m.5 0h1.5m3.5 0h1.5m.5 0h1.5m2 0h1.5m-1.5 0h1.5m-.5 0h1.5m.5 0h1.5m-1.5 0h1.5m-1 0h1.5m.5 0h1.5m2.5 0h1.5m-1 0h1.5m2 0h1.5m.5 0h1.5m-1.5 0h1.5m1 0h1.5m2.5 0h1.5m-1 0h1.5m3 0h1.5m-.5 0h1.5m2 0h1.5m-1.5 0h1.5m-1 0h1.5m2 0h1.5m2 0h1.5m3.5 0h1.5m2 0h1.5m0 0h1.5m.5 0h1.5m-1.5 0h1.5m0 0h1.5m.5 0h1.5m1.5 0h1.5m7.5 0h1.5m-1.5 0h1.5m-.5 0h1.5m-.5 0h1.5m-1 0h1.5m-1.5 0h1.5m.5 0h1.5m-.5 0h1.5m2 0h1.5m-1.5 0h1.5m2 0h1.5m-1.5 0h1.5m-1 0h1.5m.5 0h1.5m-1.5 0h1.5m1 0h1.5m1 0h1.5m-1 0h1.5m0 0h1.5m-1 0h1.5m.5 0h1.5m1 0h1.5m-.5 0h1.5m-1 0h1.5m0 0h1.5m2.5 0h1.5m-.5 0h1.5m0 0h1.5m-1.5 0h1.5m0 0h1.5m-.5 0h1.5m-.5 0h1.5m1.5 0h1.5m-.5 0h1.5m.5 0h1.5m-.5 0h1.5m-1.5 0h1.5m-.5 0h1.5m-.5 0h1.5m-1 0h1.5m-.5 0h1.5m0 0h1.5m-.5 0h1.5m-1 0h1.5m1 0h1.5m0 0h1.5m2 0h1.5m-.5 0h1.5m-1 0h1.5m1 0h1.5m-1.5 0h1.5m-1.5 0h1.5m0 0h1.5m-1 0h1.5m-.5 0h1.5m1 0h1.5m-1.5 0h1.5m-1 0h1.5m-1.5 0h1.5m0 0h1.5m-1.5 0h1.5m.5 0h1.5m0 0h1.5m0 0h1.5m1.5 0h1.5m.5 0h1.5m-1 0h1.5m-1 0h1.5m.5 0h1.5m.5 0h1.5m-1 0h1.5m-1.5 0h1.5m-1 0h1.5m-1.5 0h1.5m.5 0h1.5m1 0h1.5m-1 0h1.5m.5 0h1.5m-1.5 0h1.5m2.5 0h1.5m-1.5 0h1.5m.5 0h1.5m.5 0h1.5m-.5 0h1.5m-.5 0h1.5m2.5 0h1.5m1.5 0h1.5m-1.5 0h1.5m0 0h1.5m3.5 0h1.5m-.5 0h1.5m3 0h1.5m-1.5 0h1.5m0 0h1.5m0 0h1.5m.5 0h1.5m1.5 0h1.5m-.5 0h1.5m2.5 0h1.5m-1.5 0h1.5m0 0h1.5m2.5 0h1.5m6 0h1.5m-1 0h1.5m.5 0h1.5m1 0h1.5m-.5 0h1.5m-1 0h1.5m2 0h1.5m5 0h1.5m5.5 0h1.5m5.5 0h1.5m3.5 0h1.5m.5 0h1.5m-1 0h1.5m.5 0h1.5m-.5 0h1.5m-.5 0h1.5m-1 0h1.5m0 0h1.5m-.5 0h1.5m.5 0h1.5m-.5 0h1.5m2 0h1.5m0 0h1.5m.5 0h1.5m-.5 0h1.5m3.5 0h1.5m.5 0h1.5m3.5 0h1.5m5.5 0h1.5m-1 0h1.5m6.5 0h1.5m-.5 0h1.5m2 0h1.5m-1 0h1.5m4.5 0h1.5m1 0h1.5m0 0h1.5m-1 0h1.5m0 0h1.5m.5 0h1.5m1.5 0h1.5m1 0h1.5m1 0h1.5m3.5 0h1.5m4.5 0h1.5m-1 0h1.5m1.5 0h1.5m9 0h1.5m1 0h1.5m12.5 0h1.5m.5 0h1.5m-.5 0h1.5m0 0h1.5M86.7 247.9h1.5m11.5 0h1.5m-.5 0h1.5m-1 0h1.5m10.5 0h1.5m5.5 0h1.5m1 0h1.5m-1 0h1.5m7.5 0h1.5m3 0h1.5m1.5 0h1.5m4.5 0h1.5m-1 0h1.5m4.5 0h1.5m7 0h1.5m-1.5 0h1.5m-1 0h1.5m-.5 0h1.5m5 0h1.5m-1 0h1.5m.5 0h1.5m5 0h1.5m0 0h1.5m0 0h1.5m-1.5 0h1.5m.5 0h1.5m.5 0h1.5m-1 0h1.5m1 0h1.5m2.5 0h1.5m7 0h1.5m-.5 0h1.5m-1 0h1.5m1 0h1.5m-1.5 0h1.5m-1 0h1.5m4 0h1.5m0 0h1.5m3 0h1.5m0 0h1.5m2.5 0h1.5m0 0h1.5m1 0h1.5m1 0h1.5m-1.5 0h1.5m3.5 0h1.5m-1.5 0h1.5m-1 0h1.5m.5 0h1.5m-1.5 0h1.5m.5 0h1.5m-.5 0h1.5m3 0h1.5m2 0h1.5m-1.5 0h1.5m1 0h1.5m4 0h1.5m1.5 0h1.5m1.5 0h1.5m-1 0h1.5m3 0h1.5m-1 0h1.5m.5 0h1.5m1 0h1.5m0 0h1.5m4.5 0h1.5m-1 0h1.5m.5 0h1.5m-1 0h1.5m-1.5 0h1.5m-1 0h1.5m-1 0h1.5m3 0h1.5m1 0h1.5m-1 0h1.5m-1.5 0h1.5m-1 0h1.5m-.5 0h1.5m.5 0h1.5m.5 0h1.5m1.5 0h1.5m-.5 0h1.5m-.5 0h1.5m-1 0h1.5m-1 0h1.5m.5 0h1.5m2 0h1.5m0 0h1.5m1 0h1.5m-1.5 0h1.5m-1 0h1.5m0 0h1.5m-1.5 0h1.5m-.5 0h1.5m-1.5 0h1.5m-.5 0h1.5m1 0h1.5m-.5 0h1.5m-1.5 0h1.5m0 0h1.5m-1 0h1.5m-.5 0h1.5m-.5 0h1.5m0 0h1.5m-.5 0h1.5m-1.5 0h1.5m-1.5 0h1.5m0 0h1.5m0 0h1.5m-1.5 0h1.5m-1.5 0h1.5m-1.5 0h1.5m0 0h1.5m1.5 0h1.5m-1 0h1.5m-1 0h1.5m-1.5 0h1.5m0 0h1.5m-1.5 0h1.5m-.5 0h1.5m-.5 0h1.5m.5 0h1.5m-1.5 0h1.5m0 0h1.5m3.5 0h1.5m0 0h1.5m-.5 0h1.5m-1 0h1.5m-1 0h1.5m.5 0h1.5m-1.5 0h1.5m-.5 0h1.5m-1 0h1.5m1.5 0h1.5m-1 0h1.5m1 0h1.5m2.5 0h1.5m-1 0h1.5m-.5 0h1.5m-1 0h1.5m-1 0h1.5m-1 0h1.5m-1.5 0h1.5m1 0h1.5m-1 0h1.5m-1 0h1.5m2 0h1.5m-1 0h1.5m2 0h1.5m.5 0h1.5m1 0h1.5m-.5 0h1.5m-.5 0h1.5m-1.5 0h1.5m-1 0h1.5m-.5 0h1.5m0 0h1.5m-1.5 0h1.5m1 0h1.5m-1.5 0h1.5m1 0h1.5m3.5 0h1.5m-1.5 0h1.5m1.5 0h1.5m-1 0h1.5m-1 0h1.5m-1 0h1.5m2 0h1.5m4.5 0h1.5m-1.5 0h1.5m0 0h1.5m-.5 0h1.5m5.5 0h1.5m-1.5 0h1.5m-1 0h1.5m-1.5 0h1.5m-.5 0h1.5m-.5 0h1.5m4 0h1.5m-.5 0h1.5m-1 0h1.5m5.5 0h1.5m-1.5 0h1.5m1.5 0h1.5m0 0h1.5m-1 0h1.5m0 0h1.5m0 0h1.5m1 0h1.5m1.5 0h1.5m3.5 0h1.5m-.5 0h1.5m-.5 0h1.5m-.5 0h1.5m-1 0h1.5m-.5 0h1.5m2.5 0h1.5m3.5 0h1.5m4 0h1.5m-1 0h1.5m1.5 0h1.5m1.5 0h1.5m.5 0h1.5m-.5 0h1.5m-1 0h1.5m1 0h1.5m-.5 0h1.5m1 0h1.5m-1 0h1.5m-.5 0h1.5m-1.5 0h1.5m1.5 0h1.5m6.5 0h1.5m.5 0h1.5m3.5 0h1.5m4.5 0h1.5m2 0h1.5m-.5 0h1.5m1.5 0h1.5m-.5 0h1.5m3 0h1.5m1.5 0h1.5m-1.5 0h1.5m-.5 0h1.5m1.5 0h1.5m1 0h1.5m-1 0h1.5m-.5 0h1.5m2 0h1.5m-1.5 0h1.5m-1 0h1.5m6 0h1.5m-1.5 0h1.5m1 0h1.5m4 0h1.5m1.5 0h1.5m0 0h1.5m-1.5 0h1.5m-.5 0h1.5m-1.5 0h1.5m-.5 0h1.5m-1 0h1.5m-1.5 0h1.5m-.5 0h1.5m-.5 0h1.5m.5 0h1.5m-1.5 0h1.5M83.7 245.6h1.5m-1.5 0h1.5m5.5 0h1.5m2 0h1.5m3.5 0h1.5m-.5 0h1.5m4 0h1.5m2 0h1.5m-.5 0h1.5m6.5 0h1.5m5 0h1.5m-.5 0h1.5m-1 0h1.5m-.5 0h1.5m3.5 0h1.5m-.5 0h1.5m8 0h1.5m6.5 0h1.5m1 0h1.5m3 0h1.5m-1 0h1.5m0 0h1.5m-1.5 0h1.5m.5 0h1.5m4 0h1.5m2 0h1.5m-1 0h1.5m-1 0h1.5m-1 0h1.5m4.5 0h1.5m1 0h1.5m-.5 0h1.5m4 0h1.5m-1.5 0h1.5m0 0h1.5m-.5 0h1.5m1.5 0h1.5m3.5 0h1.5m2 0h1.5m4.5 0h1.5m1.5 0h1.5m3.5 0h1.5m1.5 0h1.5m-.5 0h1.5m.5 0h1.5m0 0h1.5m3.5 0h1.5m3.5 0h1.5m2.5 0h1.5m-.5 0h1.5m4 0h1.5m1.5 0h1.5m-.5 0h1.5m-1 0h1.5m-1 0h1.5m-1 0h1.5m-1 0h1.5m1 0h1.5m1.5 0h1.5m-.5 0h1.5m-1 0h1.5m3 0h1.5m3.5 0h1.5m-.5 0h1.5m-1 0h1.5m1 0h1.5m-1 0h1.5m-1 0h1.5m-1 0h1.5m-.5 0h1.5m-1 0h1.5m1 0h1.5m0 0h1.5m1 0h1.5m-1 0h1.5m-1.5 0h1.5m0 0h1.5m-1 0h1.5m1.5 0h1.5m4.5 0h1.5m-1.5 0h1.5m-1 0h1.5m-1 0h1.5m-.5 0h1.5m4.5 0h1.5m1.5 0h1.5m-1 0h1.5m-1.5 0h1.5m0 0h1.5m-1 0h1.5m2.5 0h1.5m-1 0h1.5m0 0h1.5m-.5 0h1.5m3 0h1.5m0 0h1.5m-1 0h1.5m.5 0h1.5m-.5 0h1.5m-1 0h1.5m1 0h1.5m0 0h1.5m0 0h1.5m0 0h1.5m-1 0h1.5m-1.5 0h1.5m-.5 0h1.5m-.5 0h1.5m-1.5 0h1.5m-.5 0h1.5m1 0h1.5m-1.5 0h1.5m-1 0h1.5m-1 0h1.5m-1 0h1.5m.5 0h1.5m1.5 0h1.5m-.5 0h1.5m2 0h1.5m-1 0h1.5m1.5 0h1.5m-1 0h1.5m0 0h1.5m-.5 0h1.5m0 0h1.5m-1.5 0h1.5m-1 0h1.5m-.5 0h1.5m2 0h1.5m1 0h1.5m-.5 0h1.5m0 0h1.5m0 0h1.5m0 0h1.5m-1.5 0h1.5m-1 0h1.5m-1 0h1.5m-1 0h1.5m0 0h1.5m0 0h1.5m-1 0h1.5m0 0h1.5m2 0h1.5m-.5 0h1.5m3.5 0h1.5m-1 0h1.5m.5 0h1.5m-1 0h1.5m-1 0h1.5m-1 0h1.5m.5 0h1.5m-1 0h1.5m1.5 0h1.5m-1 0h1.5m-1 0h1.5m-.5 0h1.5m3 0h1.5m-1.5 0h1.5m-1 0h1.5m0 0h1.5m2.5 0h1.5m-.5 0h1.5m-1 0h1.5m0 0h1.5m-.5 0h1.5m3.5 0h1.5m.5 0h1.5m.5 0h1.5m-1.5 0h1.5m9.5 0h1.5m3 0h1.5m-1 0h1.5m1 0h1.5m-1 0h1.5m0 0h1.5m-1.5 0h1.5m1.5 0h1.5m1.5 0h1.5m2 0h1.5m1 0h1.5m-.5 0h1.5m-.5 0h1.5m-.5 0h1.5m2.5 0h1.5m.5 0h1.5m3 0h1.5m-1.5 0h1.5m2 0h1.5m.5 0h1.5m-.5 0h1.5m-.5 0h1.5m2 0h1.5m9 0h1.5m9.5 0h1.5m5 0h1.5m1 0h1.5m1.5 0h1.5m2.5 0h1.5m2.5 0h1.5m-1.5 0h1.5m-1 0h1.5m2 0h1.5m0 0h1.5m-.5 0h1.5m-.5 0h1.5m.5 0h1.5m-1.5 0h1.5m.5 0h1.5m.5 0h1.5m-.5 0h1.5m-.5 0h1.5m-1.5 0h1.5m-.5 0h1.5m.5 0h1.5m-1 0h1.5m8.5 0h1.5m20.5 0h1.5m-1.5 0h1.5m1.5 0h1.5M85.2 243.3h1.5m-1 0h1.5m.5 0h1.5m5 0h1.5m4.5 0h1.5m3.5 0h1.5m-1 0h1.5m5 0h1.5m17.5 0h1.5m1 0h1.5m0 0h1.5m-1 0h1.5m1 0h1.5m1.5 0h1.5m-1 0h1.5m8 0h1.5m1 0h1.5m2 0h1.5m7.5 0h1.5m3.5 0h1.5m0 0h1.5m.5 0h1.5m-1.5 0h1.5m-1 0h1.5m1 0h1.5m1 0h1.5m0 0h1.5m-.5 0h1.5m-1 0h1.5m2.5 0h1.5m-.5 0h1.5m2 0h1.5m2.5 0h1.5m-1 0h1.5m-.5 0h1.5m.5 0h1.5m2 0h1.5m-.5 0h1.5m1.5 0h1.5m-.5 0h1.5m0 0h1.5m-1 0h1.5m-.5 0h1.5m1.5 0h1.5m-1 0h1.5m2 0h1.5m-1 0h1.5m1 0h1.5m0 0h1.5m3 0h1.5m5 0h1.5m-1.5 0h1.5m1 0h1.5m1.5 0h1.5m.5 0h1.5m-.5 0h1.5m-1.5 0h1.5m1.5 0h1.5m7 0h1.5m-.5 0h1.5m6.5 0h1.5m0 0h1.5m-1 0h1.5m-1.5 0h1.5m-1 0h1.5m.5 0h1.5m-1 0h1.5m1.5 0h1.5m-1 0h1.5m3 0h1.5m0 0h1.5m1 0h1.5m1.5 0h1.5m-1.5 0h1.5m3.5 0h1.5m-1.5 0h1.5m1 0h1.5m2.5 0h1.5m-1.5 0h1.5m-1 0h1.5m.5 0h1.5m1.5 0h1.5m1 0h1.5m.5 0h1.5m1.5 0h1.5m0 0h1.5m-1 0h1.5m3.5 0h1.5m-.5 0h1.5m-1.5 0h1.5m-.5 0h1.5m-1 0h1.5m-1.5 0h1.5m-1 0h1.5m-.5 0h1.5m-1 0h1.5m-1.5 0h1.5m1.5 0h1.5m-.5 0h1.5m0 0h1.5m-1 0h1.5m-1 0h1.5m-1 0h1.5m-1 0h1.5m-.5 0h1.5m0 0h1.5m-1.5 0h1.5m0 0h1.5m-1 0h1.5m1 0h1.5m-1 0h1.5m-1.5 0h1.5m-.5 0h1.5m-1.5 0h1.5m5 0h1.5m-1.5 0h1.5m0 0h1.5m-1.5 0h1.5m.5 0h1.5m-1 0h1.5m-1.5 0h1.5m-1 0h1.5m-1 0h1.5m-.5 0h1.5m0 0h1.5m0 0h1.5m-.5 0h1.5m1.5 0h1.5m-1 0h1.5m-.5 0h1.5m-1.5 0h1.5m-1 0h1.5m1.5 0h1.5m1.5 0h1.5m-1.5 0h1.5m-1 0h1.5m-.5 0h1.5m-1.5 0h1.5m.5 0h1.5m-1.5 0h1.5m-1 0h1.5m-1.5 0h1.5m0 0h1.5m1.5 0h1.5m1.5 0h1.5m-1.5 0h1.5m2.5 0h1.5m-.5 0h1.5m4 0h1.5m-.5 0h1.5m-1.5 0h1.5m-1 0h1.5m-.5 0h1.5m.5 0h1.5m-1.5 0h1.5m-.5 0h1.5m-.5 0h1.5m-.5 0h1.5m-1 0h1.5m5 0h1.5m0 0h1.5m0 0h1.5m1 0h1.5m-1 0h1.5m-1 0h1.5m0 0h1.5m-1 0h1.5m-1.5 0h1.5m-1.5 0h1.5m3 0h1.5m-1.5 0h1.5m.5 0h1.5m0 0h1.5m8 0h1.5m5 0h1.5m1 0h1.5m.5 0h1.5m-.5 0h1.5m-1 0h1.5m.5 0h1.5m-.5 0h1.5m0 0h1.5m1 0h1.5m.5 0h1.5m5 0h1.5m-1.5 0h1.5m1.5 0h1.5m-1.5 0h1.5m1 0h1.5m2.5 0h1.5m-1.5 0h1.5m1.5 0h1.5m-.5 0h1.5m0 0h1.5m3 0h1.5m-1.5 0h1.5m2.5 0h1.5m-1.5 0h1.5m1 0h1.5m.5 0h1.5m3 0h1.5m.5 0h1.5m-.5 0h1.5m-.5 0h1.5m1.5 0h1.5m0 0h1.5m3 0h1.5m3.5 0h1.5m-.5 0h1.5m0 0h1.5m3 0h1.5m-.5 0h1.5m1 0h1.5m-1.5 0h1.5m0 0h1.5m.5 0h1.5m.5 0h1.5m-.5 0h1.5m10 0h1.5m13 0h1.5m0 0h1.5m1 0h1.5m-.5 0h1.5m7.5 0h1.5m6 0h1.5m1 0h1.5m-1 0h1.5m-1 0h1.5M87.7 240.9h1.5m2.5 0h1.5m.5 0h1.5m-.5 0h1.5m7.5 0h1.5m.5 0h1.5m1 0h1.5m1 0h1.5m1 0h1.5m.5 0h1.5m4 0h1.5m.5 0h1.5m1.5 0h1.5m.5 0h1.5m2.5 0h1.5m-1.5 0h1.5m3 0h1.5m-.5 0h1.5m-1.5 0h1.5m3.5 0h1.5m-.5 0h1.5m0 0h1.5m-.5 0h1.5m.5 0h1.5m1 0h1.5m-1 0h1.5m0 0h1.5m.5 0h1.5m0 0h1.5m.5 0h1.5m1 0h1.5m0 0h1.5m-.5 0h1.5m1.5 0h1.5m3.5 0h1.5m5.5 0h1.5m3.5 0h1.5m1 0h1.5m-.5 0h1.5m5.5 0h1.5m-1 0h1.5m-.5 0h1.5m-1 0h1.5m4.5 0h1.5m-1 0h1.5m2 0h1.5m-1 0h1.5m6.5 0h1.5m2 0h1.5m0 0h1.5m1 0h1.5m.5 0h1.5m0 0h1.5m1 0h1.5m-1 0h1.5m3.5 0h1.5m6 0h1.5m-.5 0h1.5m-.5 0h1.5m-.5 0h1.5m-1.5 0h1.5m-1 0h1.5m-1 0h1.5m-1 0h1.5m2 0h1.5m-1.5 0h1.5m-.5 0h1.5m-.5 0h1.5m2.5 0h1.5m-1.5 0h1.5m0 0h1.5m0 0h1.5m-1 0h1.5m-.5 0h1.5m-1.5 0h1.5m-1.5 0h1.5m.5 0h1.5m0 0h1.5m1.5 0h1.5m0 0h1.5m1 0h1.5m-.5 0h1.5m-1 0h1.5m.5 0h1.5m-1 0h1.5m-1.5 0h1.5m4 0h1.5m5 0h1.5m.5 0h1.5m-.5 0h1.5m3 0h1.5m3 0h1.5m-.5 0h1.5m1 0h1.5m-1 0h1.5m-1.5 0h1.5m-1.5 0h1.5m0 0h1.5m4.5 0h1.5m-1.5 0h1.5m1 0h1.5m-1 0h1.5m-1 0h1.5m-1 0h1.5m-.5 0h1.5m0 0h1.5m-1 0h1.5m-.5 0h1.5m-1 0h1.5m-.5 0h1.5m-1 0h1.5m0 0h1.5m-1 0h1.5m-.5 0h1.5m-1.5 0h1.5m-1 0h1.5m-1 0h1.5m-1 0h1.5m-1 0h1.5m0 0h1.5m-.5 0h1.5m-1 0h1.5m-1 0h1.5m-1 0h1.5m-.5 0h1.5m.5 0h1.5m-.5 0h1.5m-1.5 0h1.5m.5 0h1.5m-1 0h1.5m-1 0h1.5m1.5 0h1.5m-1.5 0h1.5m-1.5 0h1.5m-1 0h1.5m-1 0h1.5m-1.5 0h1.5m.5 0h1.5m-1.5 0h1.5m-1.5 0h1.5m-1 0h1.5m-1.5 0h1.5m0 0h1.5m0 0h1.5m-1.5 0h1.5m-1 0h1.5m-1.5 0h1.5m-1.5 0h1.5m1 0h1.5m1 0h1.5m-.5 0h1.5m.5 0h1.5m.5 0h1.5m-1.5 0h1.5m.5 0h1.5m.5 0h1.5m-1 0h1.5m.5 0h1.5m-1 0h1.5m.5 0h1.5m.5 0h1.5m1 0h1.5m0 0h1.5m2 0h1.5m.5 0h1.5m-.5 0h1.5m.5 0h1.5m-.5 0h1.5m-.5 0h1.5m4.5 0h1.5m-.5 0h1.5m-1 0h1.5m-1.5 0h1.5m-.5 0h1.5m1.5 0h1.5m5 0h1.5m0 0h1.5m-1.5 0h1.5m-1.5 0h1.5m3.5 0h1.5m3 0h1.5m-1.5 0h1.5m1 0h1.5m-.5 0h1.5m-.5 0h1.5m-.5 0h1.5m-.5 0h1.5m3 0h1.5m.5 0h1.5m1 0h1.5m-1 0h1.5m-.5 0h1.5m-1 0h1.5m.5 0h1.5m1 0h1.5m-1.5 0h1.5m.5 0h1.5m-1.5 0h1.5m-.5 0h1.5m6.5 0h1.5m1 0h1.5m8 0h1.5m-1 0h1.5m5 0h1.5m-1.5 0h1.5m0 0h1.5m-1 0h1.5m3 0h1.5m1 0h1.5m-1 0h1.5m6.5 0h1.5m0 0h1.5m5.5 0h1.5m7 0h1.5m1 0h1.5m0 0h1.5m-.5 0h1.5m0 0h1.5m.5 0h1.5m-1.5 0h1.5m0 0h1.5m-.5 0h1.5m-1.5 0h1.5m5.5 0h1.5m0 0h1.5m1.5 0h1.5m3 0h1.5m1.5 0h1.5m-1 0h1.5m-1.5 0h1.5m-1 0h1.5m2.5 0h1.5m0 0h1.5m0 0h1.5m-1 0h1.5m3 0h1.5m5.5 0h1.5m5 0h1.5m-1 0h1.5m-1 0h1.5m-.5 0h1.5m-.5 0h1.5m3.5 0h1.5m2.5 0h1.5m4 0h1.5M79.2 238.6h1.5m-1 0h1.5m9.5 0h1.5m-1 0h1.5m1 0h1.5m5 0h1.5m6 0h1.5m2.5 0h1.5m-.5 0h1.5m-1 0h1.5m-1.5 0h1.5m3 0h1.5m12 0h1.5m1 0h1.5m-.5 0h1.5m7.5 0h1.5m6.5 0h1.5m.5 0h1.5m2 0h1.5m3.5 0h1.5m-1 0h1.5m-.5 0h1.5m6 0h1.5m10.5 0h1.5m-.5 0h1.5m-1.5 0h1.5m-1 0h1.5m-1.5 0h1.5m0 0h1.5m1.5 0h1.5m1.5 0h1.5m-1 0h1.5m2.5 0h1.5m-1.5 0h1.5m.5 0h1.5m-1.5 0h1.5m.5 0h1.5m-1 0h1.5m3 0h1.5m1.5 0h1.5m-1.5 0h1.5m-1 0h1.5m-.5 0h1.5m3.5 0h1.5m0 0h1.5m.5 0h1.5m0 0h1.5m4 0h1.5m-.5 0h1.5m6 0h1.5m-.5 0h1.5m4.5 0h1.5m1.5 0h1.5m-1.5 0h1.5m.5 0h1.5m1.5 0h1.5m-1.5 0h1.5m2 0h1.5m.5 0h1.5m-.5 0h1.5m-1 0h1.5m-1.5 0h1.5m-1 0h1.5m-1 0h1.5m.5 0h1.5m0 0h1.5m-.5 0h1.5m5 0h1.5m5.5 0h1.5m-.5 0h1.5m-1 0h1.5m.5 0h1.5m-1 0h1.5m2 0h1.5m1 0h1.5m-1 0h1.5m-1 0h1.5m-.5 0h1.5m-1 0h1.5m1.5 0h1.5m1.5 0h1.5m-1 0h1.5m-1 0h1.5m0 0h1.5m-1 0h1.5m0 0h1.5m-.5 0h1.5m0 0h1.5m-1 0h1.5m1 0h1.5m-1 0h1.5m-.5 0h1.5m-1.5 0h1.5m-.5 0h1.5m-.5 0h1.5m1 0h1.5m-1.5 0h1.5m-1.5 0h1.5m-1 0h1.5m-1 0h1.5m-1.5 0h1.5m0 0h1.5m.5 0h1.5m-.5 0h1.5m-1 0h1.5m-1 0h1.5m-1 0h1.5m-1 0h1.5m-1 0h1.5m-.5 0h1.5m-1.5 0h1.5m0 0h1.5m2.5 0h1.5m-1 0h1.5m-1.5 0h1.5m-1 0h1.5m-1.5 0h1.5m0 0h1.5m-1.5 0h1.5m-1.5 0h1.5m-1.5 0h1.5m1 0h1.5m-.5 0h1.5m-.5 0h1.5m-1 0h1.5m-1.5 0h1.5m-1 0h1.5m.5 0h1.5m-1.5 0h1.5m-1 0h1.5m-1.5 0h1.5m0 0h1.5m-1.5 0h1.5m0 0h1.5m-1 0h1.5m-1.5 0h1.5m-1 0h1.5m-.5 0h1.5m-.5 0h1.5m.5 0h1.5m.5 0h1.5m-1 0h1.5m-1 0h1.5m-.5 0h1.5m.5 0h1.5m1.5 0h1.5m0 0h1.5m2.5 0h1.5m-1 0h1.5m4 0h1.5m.5 0h1.5m-1 0h1.5m1 0h1.5m.5 0h1.5m-1.5 0h1.5m-1 0h1.5m.5 0h1.5m-1 0h1.5m-1.5 0h1.5m-1.5 0h1.5m-.5 0h1.5m0 0h1.5m-.5 0h1.5m-1 0h1.5m.5 0h1.5m-1.5 0h1.5m-1 0h1.5m-.5 0h1.5m-1 0h1.5m-1.5 0h1.5m.5 0h1.5m9 0h1.5m.5 0h1.5m-1.5 0h1.5m-.5 0h1.5m1.5 0h1.5m.5 0h1.5m-.5 0h1.5m-1 0h1.5m-.5 0h1.5m5.5 0h1.5m-1.5 0h1.5m-1.5 0h1.5m.5 0h1.5m-1 0h1.5m1 0h1.5m-1 0h1.5m1 0h1.5m.5 0h1.5m0 0h1.5m.5 0h1.5m-1 0h1.5m-.5 0h1.5m-1 0h1.5m4 0h1.5m-1.5 0h1.5m1.5 0h1.5m-.5 0h1.5m-1 0h1.5m-.5 0h1.5m.5 0h1.5m-1.5 0h1.5m3.5 0h1.5m1 0h1.5m6 0h1.5m.5 0h1.5m1.5 0h1.5m.5 0h1.5m5 0h1.5m0 0h1.5m6.5 0h1.5m1 0h1.5m8.5 0h1.5m3 0h1.5m3.5 0h1.5m1.5 0h1.5m-1 0h1.5m0 0h1.5m0 0h1.5m1 0h1.5m1 0h1.5m-1.5 0h1.5m.5 0h1.5m-1.5 0h1.5m1 0h1.5m-1.5 0h1.5m-1 0h1.5m3.5 0h1.5m1.5 0h1.5m12 0h1.5m.5 0h1.5m-1.5 0h1.5m4.5 0h1.5m2.5 0h1.5m1 0h1.5m-1 0h1.5m0 0h1.5m4.5 0h1.5m-1 0h1.5M80.7 236.3h1.5m-1 0h1.5m2 0h1.5m.5 0h1.5m5.5 0h1.5m-1 0h1.5m0 0h1.5m.5 0h1.5m1 0h1.5m4 0h1.5m5 0h1.5m-.5 0h1.5m0 0h1.5m9 0h1.5m4 0h1.5m1.5 0h1.5m11 0h1.5m-1.5 0h1.5m2 0h1.5m-1 0h1.5m0 0h1.5m2.5 0h1.5m0 0h1.5m-1.5 0h1.5m.5 0h1.5m4.5 0h1.5m5 0h1.5m3.5 0h1.5m-.5 0h1.5m5 0h1.5m-.5 0h1.5m-1 0h1.5m-.5 0h1.5m5.5 0h1.5m4.5 0h1.5m.5 0h1.5m-.5 0h1.5m-1.5 0h1.5m-.5 0h1.5m0 0h1.5m1.5 0h1.5m1 0h1.5m0 0h1.5m-1.5 0h1.5m2 0h1.5m1.5 0h1.5m5 0h1.5m0 0h1.5m-.5 0h1.5m0 0h1.5m-1.5 0h1.5m0 0h1.5m2.5 0h1.5m-.5 0h1.5m1.5 0h1.5m0 0h1.5m-1 0h1.5m-1 0h1.5m-1.5 0h1.5m2.5 0h1.5m-1 0h1.5m-.5 0h1.5m-1.5 0h1.5m2.5 0h1.5m3 0h1.5m0 0h1.5m-1.5 0h1.5m-.5 0h1.5m-1.5 0h1.5m1.5 0h1.5m1.5 0h1.5m3.5 0h1.5m-1.5 0h1.5m-1 0h1.5m-.5 0h1.5m2.5 0h1.5m1 0h1.5m-.5 0h1.5m-1 0h1.5m-1.5 0h1.5m2 0h1.5m-.5 0h1.5m-1 0h1.5m-.5 0h1.5m-1.5 0h1.5m-.5 0h1.5m1 0h1.5m-1.5 0h1.5m1 0h1.5m3 0h1.5m0 0h1.5m.5 0h1.5m-1 0h1.5m-1 0h1.5m-1 0h1.5m-1.5 0h1.5m-1 0h1.5m-1 0h1.5m0 0h1.5m1 0h1.5m0 0h1.5m-1.5 0h1.5m3.5 0h1.5m-.5 0h1.5m-1.5 0h1.5m-1.5 0h1.5m0 0h1.5m-.5 0h1.5m.5 0h1.5m-1.5 0h1.5m-1 0h1.5m-.5 0h1.5m-.5 0h1.5m-1.5 0h1.5m-1 0h1.5m-1.5 0h1.5m-.5 0h1.5m0 0h1.5m-1.5 0h1.5m1 0h1.5m-1 0h1.5m-.5 0h1.5m-1.5 0h1.5m-.5 0h1.5m.5 0h1.5m-1.5 0h1.5m2 0h1.5m-1 0h1.5m0 0h1.5m-.5 0h1.5m-.5 0h1.5m-1.5 0h1.5m-.5 0h1.5m-.5 0h1.5m-1 0h1.5m-1.5 0h1.5m0 0h1.5m1.5 0h1.5m.5 0h1.5m-.5 0h1.5m.5 0h1.5m1.5 0h1.5m-1.5 0h1.5m-1.5 0h1.5m-1 0h1.5m-.5 0h1.5m-1 0h1.5m2.5 0h1.5m-1 0h1.5m-1 0h1.5m0 0h1.5m0 0h1.5m.5 0h1.5m4 0h1.5m0 0h1.5m-.5 0h1.5m-1.5 0h1.5m-.5 0h1.5m0 0h1.5m0 0h1.5m0 0h1.5m1 0h1.5m0 0h1.5m-.5 0h1.5m-1.5 0h1.5m-.5 0h1.5m0 0h1.5m-1.5 0h1.5m-.5 0h1.5m-1 0h1.5m.5 0h1.5m.5 0h1.5m0 0h1.5m.5 0h1.5m-1 0h1.5m-.5 0h1.5m.5 0h1.5m-1 0h1.5m10 0h1.5m-1.5 0h1.5m.5 0h1.5m-1 0h1.5m-1 0h1.5m0 0h1.5m-.5 0h1.5m1.5 0h1.5m-1.5 0h1.5m-.5 0h1.5m-1.5 0h1.5m3.5 0h1.5m-1 0h1.5m.5 0h1.5m1.5 0h1.5m4.5 0h1.5m-1 0h1.5m6.5 0h1.5m1 0h1.5m2.5 0h1.5m-1 0h1.5m-1 0h1.5m4.5 0h1.5m2.5 0h1.5m.5 0h1.5m-1 0h1.5m-1 0h1.5m2.5 0h1.5m1 0h1.5m-1 0h1.5m-.5 0h1.5m.5 0h1.5m-.5 0h1.5m-1.5 0h1.5m3.5 0h1.5m2.5 0h1.5m8 0h1.5m9 0h1.5m7.5 0h1.5m2 0h1.5m.5 0h1.5m-1 0h1.5m9.5 0h1.5m-1 0h1.5m5.5 0h1.5m-1 0h1.5m2 0h1.5m-.5 0h1.5m0 0h1.5m-1 0h1.5m.5 0h1.5m3 0h1.5m.5 0h1.5m-.5 0h1.5m6.5 0h1.5m3 0h1.5m1.5 0h1.5M83.2 234h1.5m-1 0h1.5m4.5 0h1.5m18 0h1.5m4.5 0h1.5m4 0h1.5m1 0h1.5m9 0h1.5m1.5 0h1.5m-.5 0h1.5m1.5 0h1.5m6 0h1.5m3.5 0h1.5m0 0h1.5m-.5 0h1.5m.5 0h1.5m1 0h1.5m-1.5 0h1.5m9 0h1.5m1 0h1.5m-1 0h1.5m0 0h1.5m0 0h1.5m-.5 0h1.5m-1.5 0h1.5m-.5 0h1.5m1 0h1.5m0 0h1.5m2.5 0h1.5m1.5 0h1.5m-1 0h1.5m-1.5 0h1.5m-.5 0h1.5m-.5 0h1.5m.5 0h1.5m3 0h1.5m0 0h1.5m.5 0h1.5m5.5 0h1.5m0 0h1.5m-1.5 0h1.5m-1 0h1.5m3.5 0h1.5m-.5 0h1.5m-1.5 0h1.5m3.5 0h1.5m.5 0h1.5m1.5 0h1.5m0 0h1.5m2 0h1.5m-.5 0h1.5m.5 0h1.5m-.5 0h1.5m-.5 0h1.5m-1 0h1.5m.5 0h1.5m0 0h1.5m.5 0h1.5m-1.5 0h1.5m0 0h1.5m4 0h1.5m-1 0h1.5m-1.5 0h1.5m-1 0h1.5m1.5 0h1.5m-1.5 0h1.5m-1 0h1.5m0 0h1.5m-.5 0h1.5m2 0h1.5m3 0h1.5m0 0h1.5m0 0h1.5m-.5 0h1.5m-1 0h1.5m-1 0h1.5m-1.5 0h1.5m-1 0h1.5m-1.5 0h1.5m-1.5 0h1.5m0 0h1.5m.5 0h1.5m-1 0h1.5m-.5 0h1.5m2 0h1.5m-1.5 0h1.5m-1 0h1.5m3.5 0h1.5m1.5 0h1.5m.5 0h1.5m-.5 0h1.5m3 0h1.5m-.5 0h1.5m-1 0h1.5m-1 0h1.5m-1 0h1.5m-.5 0h1.5m-1.5 0h1.5m-1.5 0h1.5m0 0h1.5m-1 0h1.5m-.5 0h1.5m-.5 0h1.5m-.5 0h1.5m1 0h1.5m-1 0h1.5m-1 0h1.5m-.5 0h1.5m-1.5 0h1.5m1.5 0h1.5m-1.5 0h1.5m-1 0h1.5m-1.5 0h1.5m0 0h1.5m-1 0h1.5m-1 0h1.5m-1.5 0h1.5m-1 0h1.5m2 0h1.5m-1.5 0h1.5m-.5 0h1.5m-.5 0h1.5m.5 0h1.5m-.5 0h1.5m-1.5 0h1.5m-1.5 0h1.5m2.5 0h1.5m.5 0h1.5m-1.5 0h1.5m0 0h1.5m-1 0h1.5m-1.5 0h1.5m-1 0h1.5m-1 0h1.5m-1.5 0h1.5m0 0h1.5m0 0h1.5m-1.5 0h1.5m-.5 0h1.5m-.5 0h1.5m1.5 0h1.5m1 0h1.5m-1.5 0h1.5m-1.5 0h1.5m-.5 0h1.5m-.5 0h1.5m4.5 0h1.5m-1.5 0h1.5m2.5 0h1.5m1.5 0h1.5m-1.5 0h1.5m1.5 0h1.5m-.5 0h1.5m.5 0h1.5m-1 0h1.5m-.5 0h1.5m-1 0h1.5m0 0h1.5m0 0h1.5m4.5 0h1.5m0 0h1.5m-1 0h1.5m-1 0h1.5m-1 0h1.5m1 0h1.5m0 0h1.5m2 0h1.5m-.5 0h1.5m0 0h1.5m-1 0h1.5m.5 0h1.5m3.5 0h1.5m.5 0h1.5m-1.5 0h1.5m-1 0h1.5m1 0h1.5m1 0h1.5m-1 0h1.5m1.5 0h1.5m6 0h1.5m-.5 0h1.5m0 0h1.5m-1.5 0h1.5m1 0h1.5m-1 0h1.5m.5 0h1.5m6 0h1.5m-.5 0h1.5m1 0h1.5m5.5 0h1.5m2.5 0h1.5m0 0h1.5m2 0h1.5m-1.5 0h1.5m.5 0h1.5m1 0h1.5m-.5 0h1.5m0 0h1.5m1 0h1.5m1.5 0h1.5m-1 0h1.5m-1 0h1.5m7.5 0h1.5m1 0h1.5m2 0h1.5m9.5 0h1.5m-.5 0h1.5m7 0h1.5m-1 0h1.5m-.5 0h1.5m-1.5 0h1.5m9.5 0h1.5m-1.5 0h1.5m.5 0h1.5m-.5 0h1.5m1 0h1.5m2 0h1.5m0 0h1.5m.5 0h1.5m-1 0h1.5m-1 0h1.5m-1 0h1.5m-1 0h1.5m7 0h1.5m0 0h1.5m0 0h1.5m1 0h1.5m1.5 0h1.5m11 0h1.5m9.5 0h1.5m-1 0h1.5m2 0h1.5m-1.5 0h1.5M78.7 231.7h1.5m0 0h1.5m1 0h1.5m-.5 0h1.5m-.5 0h1.5m1.5 0h1.5m6 0h1.5m4 0h1.5m10 0h1.5m-.5 0h1.5m3 0h1.5m2 0h1.5m3.5 0h1.5m-1.5 0h1.5m1 0h1.5m-1 0h1.5m0 0h1.5m-.5 0h1.5m-1 0h1.5m3 0h1.5m1 0h1.5m6 0h1.5m9 0h1.5m0 0h1.5m2 0h1.5m-.5 0h1.5m-1.5 0h1.5m-1 0h1.5m-1.5 0h1.5m-1 0h1.5m-1.5 0h1.5m7 0h1.5m11.5 0h1.5m3 0h1.5m3.5 0h1.5m2 0h1.5m-.5 0h1.5m1.5 0h1.5m1 0h1.5m2.5 0h1.5m1.5 0h1.5m0 0h1.5m1.5 0h1.5m-1 0h1.5m.5 0h1.5m-1 0h1.5m4 0h1.5m1 0h1.5m-.5 0h1.5m1 0h1.5m-.5 0h1.5m0 0h1.5m-.5 0h1.5m-1 0h1.5m3 0h1.5m.5 0h1.5m3 0h1.5m-1.5 0h1.5m0 0h1.5m0 0h1.5m-1.5 0h1.5m-.5 0h1.5m-1.5 0h1.5m.5 0h1.5m-1 0h1.5m-1 0h1.5m3.5 0h1.5m-1.5 0h1.5m-.5 0h1.5m3 0h1.5m1.5 0h1.5m0 0h1.5m0 0h1.5m-.5 0h1.5m-.5 0h1.5m-1.5 0h1.5m-1 0h1.5m2 0h1.5m-.5 0h1.5m-1 0h1.5m0 0h1.5m-1.5 0h1.5m-1.5 0h1.5m0 0h1.5m.5 0h1.5m-.5 0h1.5m.5 0h1.5m2 0h1.5m-1 0h1.5m-.5 0h1.5m-1.5 0h1.5m-1.5 0h1.5m.5 0h1.5m.5 0h1.5m0 0h1.5m-1.5 0h1.5m0 0h1.5m0 0h1.5m-1.5 0h1.5m-1.5 0h1.5m-1 0h1.5m-1 0h1.5m-.5 0h1.5m-1.5 0h1.5m3 0h1.5m0 0h1.5m-.5 0h1.5m-1 0h1.5m-.5 0h1.5m-.5 0h1.5m-1.5 0h1.5m.5 0h1.5m2 0h1.5m-.5 0h1.5m-1 0h1.5m-1.5 0h1.5m-1 0h1.5m-.5 0h1.5m.5 0h1.5m-1 0h1.5m-.5 0h1.5m1 0h1.5m.5 0h1.5m0 0h1.5m-1.5 0h1.5m-1.5 0h1.5m.5 0h1.5m-1.5 0h1.5m-1 0h1.5m-1.5 0h1.5m0 0h1.5m-1 0h1.5m.5 0h1.5m-1.5 0h1.5m-1 0h1.5m-1 0h1.5m1 0h1.5m0 0h1.5m-1 0h1.5m-1.5 0h1.5m-.5 0h1.5m-.5 0h1.5m-.5 0h1.5m-1 0h1.5m-1 0h1.5m-.5 0h1.5m-1.5 0h1.5m.5 0h1.5m-1 0h1.5m-1.5 0h1.5m-.5 0h1.5m-.5 0h1.5m0 0h1.5m-.5 0h1.5m-.5 0h1.5m-1.5 0h1.5m-1.5 0h1.5m-1 0h1.5m-1 0h1.5m-.5 0h1.5m1.5 0h1.5m.5 0h1.5m-1.5 0h1.5m-.5 0h1.5m-1.5 0h1.5m.5 0h1.5m-.5 0h1.5m-1 0h1.5m-.5 0h1.5m-1 0h1.5m4 0h1.5m-1 0h1.5m-1.5 0h1.5m3.5 0h1.5m.5 0h1.5m0 0h1.5m2.5 0h1.5m-.5 0h1.5m-1.5 0h1.5m3.5 0h1.5m-1 0h1.5m1 0h1.5m0 0h1.5m1.5 0h1.5m-1 0h1.5m1 0h1.5m-.5 0h1.5m-1 0h1.5m-1.5 0h1.5m.5 0h1.5m-1 0h1.5m.5 0h1.5m-1.5 0h1.5m2.5 0h1.5m0 0h1.5m1.5 0h1.5m-.5 0h1.5m0 0h1.5m2.5 0h1.5m-1 0h1.5m-.5 0h1.5m-1.5 0h1.5m-1 0h1.5m-1 0h1.5m1 0h1.5m-1 0h1.5m-.5 0h1.5m2.5 0h1.5m-1 0h1.5m1 0h1.5m6.5 0h1.5m2.5 0h1.5m3 0h1.5m2.5 0h1.5m3 0h1.5m-.5 0h1.5m-.5 0h1.5m-1.5 0h1.5m-1 0h1.5m.5 0h1.5m0 0h1.5m-1.5 0h1.5m5 0h1.5m3 0h1.5m3 0h1.5m-.5 0h1.5m3.5 0h1.5m1.5 0h1.5m0 0h1.5m4.5 0h1.5m3 0h1.5m1 0h1.5m-1.5 0h1.5m3 0h1.5m.5 0h1.5m2 0h1.5m2.5 0h1.5m-.5 0h1.5m-1.5 0h1.5m6.5 0h1.5m1.5 0h1.5m-1 0h1.5m-1 0h1.5m-1 0h1.5m.5 0h1.5m6.5 0h1.5m-1 0h1.5m-.5 0h1.5m5 0h1.5m0 0h1.5m0 0h1.5m1 0h1.5m-.5 0h1.5m-.5 0h1.5m2 0h1.5m-.5 0h1.5m3.5 0h1.5M86.7 229.4h1.5m-.5 0h1.5m0 0h1.5m3.5 0h1.5m0 0h1.5m0 0h1.5m1.5 0h1.5m-1 0h1.5m3.5 0h1.5m9 0h1.5m-1.5 0h1.5m0 0h1.5m10 0h1.5m.5 0h1.5m2 0h1.5m2 0h1.5m3 0h1.5m-1.5 0h1.5m-1.5 0h1.5m4.5 0h1.5m-1 0h1.5m1 0h1.5m1.5 0h1.5m3.5 0h1.5m.5 0h1.5m1.5 0h1.5m1 0h1.5m2 0h1.5m2 0h1.5m1 0h1.5m3 0h1.5m1 0h1.5m0 0h1.5m4 0h1.5m-1 0h1.5m-1 0h1.5m-1.5 0h1.5m-1 0h1.5m-.5 0h1.5m3 0h1.5m.5 0h1.5m2 0h1.5m3.5 0h1.5m1 0h1.5m-.5 0h1.5m-1.5 0h1.5m-1 0h1.5m1 0h1.5m-.5 0h1.5m-1 0h1.5m3.5 0h1.5m-1.5 0h1.5m0 0h1.5m1.5 0h1.5m4 0h1.5m-.5 0h1.5m2.5 0h1.5m-1 0h1.5m2 0h1.5m2 0h1.5m-1.5 0h1.5m0 0h1.5m-1.5 0h1.5m0 0h1.5m4 0h1.5m0 0h1.5m3.5 0h1.5m.5 0h1.5m-.5 0h1.5m-.5 0h1.5m-.5 0h1.5m-1 0h1.5m0 0h1.5m-1 0h1.5m-.5 0h1.5m-1 0h1.5m-1.5 0h1.5m-1.5 0h1.5m1.5 0h1.5m0 0h1.5m-.5 0h1.5m-1.5 0h1.5m-1 0h1.5m-.5 0h1.5m-1 0h1.5m1.5 0h1.5m-1.5 0h1.5m.5 0h1.5m-.5 0h1.5m-1 0h1.5m0 0h1.5m-.5 0h1.5m3 0h1.5m1.5 0h1.5m-1.5 0h1.5m-1 0h1.5m.5 0h1.5m-.5 0h1.5m1 0h1.5m-1.5 0h1.5m3 0h1.5m-1 0h1.5m0 0h1.5m-.5 0h1.5m-.5 0h1.5m-1 0h1.5m-1.5 0h1.5m-1.5 0h1.5m-1 0h1.5m3 0h1.5m0 0h1.5m0 0h1.5m-1 0h1.5m-1 0h1.5m-1.5 0h1.5m-.5 0h1.5m-.5 0h1.5m.5 0h1.5m-1 0h1.5m-.5 0h1.5m-1 0h1.5m-.5 0h1.5m-1.5 0h1.5m1.5 0h1.5m-1.5 0h1.5m-1 0h1.5m-.5 0h1.5m-1.5 0h1.5m1.5 0h1.5m-1 0h1.5m-1 0h1.5m.5 0h1.5m-1 0h1.5m-1 0h1.5m-1 0h1.5m-1.5 0h1.5m-.5 0h1.5m-.5 0h1.5m-.5 0h1.5m9 0h1.5m1 0h1.5m-1.5 0h1.5m.5 0h1.5m-1.5 0h1.5m-1 0h1.5m1 0h1.5m0 0h1.5m-1 0h1.5m1 0h1.5m-1 0h1.5m-1 0h1.5m-1 0h1.5m.5 0h1.5m0 0h1.5m-1 0h1.5m-1 0h1.5m1.5 0h1.5m-.5 0h1.5m0 0h1.5m5.5 0h1.5m-.5 0h1.5m-1.5 0h1.5m-1 0h1.5m0 0h1.5m-1.5 0h1.5m0 0h1.5m.5 0h1.5m-1.5 0h1.5m-.5 0h1.5m-1 0h1.5m0 0h1.5m-.5 0h1.5m1.5 0h1.5m-1.5 0h1.5m.5 0h1.5m-.5 0h1.5m-.5 0h1.5m-1 0h1.5m2.5 0h1.5m8 0h1.5m-1.5 0h1.5m5 0h1.5m.5 0h1.5m.5 0h1.5m2 0h1.5m2 0h1.5m1.5 0h1.5m1.5 0h1.5m5 0h1.5m-1 0h1.5m-1 0h1.5m1.5 0h1.5m6 0h1.5m2 0h1.5m4.5 0h1.5m0 0h1.5m.5 0h1.5m.5 0h1.5m-1 0h1.5m4.5 0h1.5m-1.5 0h1.5m2 0h1.5m2 0h1.5m-.5 0h1.5m-1.5 0h1.5m-1 0h1.5m-1 0h1.5m2 0h1.5m-1 0h1.5m0 0h1.5m-1 0h1.5m2 0h1.5m2.5 0h1.5m1 0h1.5m3.5 0h1.5m-1 0h1.5m1 0h1.5m-1 0h1.5m4 0h1.5m-1.5 0h1.5m3.5 0h1.5m2 0h1.5m1.5 0h1.5m-1.5 0h1.5m5.5 0h1.5m1.5 0h1.5m-.5 0h1.5m1.5 0h1.5m6.5 0h1.5m8 0h1.5m8 0h1.5m.5 0h1.5m-1 0h1.5M79.7 227.1h1.5m2.5 0h1.5m0 0h1.5m8 0h1.5m0 0h1.5m-1 0h1.5m0 0h1.5m-1 0h1.5m2 0h1.5m6 0h1.5m1.5 0h1.5m3 0h1.5m0 0h1.5m-1 0h1.5m1.5 0h1.5m.5 0h1.5m-.5 0h1.5m-1 0h1.5m1.5 0h1.5m11 0h1.5m3 0h1.5m3 0h1.5m4.5 0h1.5m11 0h1.5m1 0h1.5m.5 0h1.5m1 0h1.5m-1 0h1.5m.5 0h1.5m-1 0h1.5m4 0h1.5m2 0h1.5m3 0h1.5m-1 0h1.5m-1.5 0h1.5m2.5 0h1.5m-.5 0h1.5m-1.5 0h1.5m3.5 0h1.5m4 0h1.5m3 0h1.5m3 0h1.5m.5 0h1.5m2 0h1.5m2.5 0h1.5m-1 0h1.5m-1 0h1.5m1.5 0h1.5m3 0h1.5m4 0h1.5m-.5 0h1.5m0 0h1.5m1 0h1.5m3.5 0h1.5m.5 0h1.5m-.5 0h1.5m-.5 0h1.5m-.5 0h1.5m-1 0h1.5m5 0h1.5m2 0h1.5m2.5 0h1.5m-1.5 0h1.5m-1 0h1.5m-.5 0h1.5m-1 0h1.5m4 0h1.5m-1.5 0h1.5m-1 0h1.5m3 0h1.5m-1 0h1.5m0 0h1.5m-.5 0h1.5m3.5 0h1.5m-1 0h1.5m0 0h1.5m-1.5 0h1.5m0 0h1.5m-.5 0h1.5m0 0h1.5m2.5 0h1.5m-1.5 0h1.5m.5 0h1.5m-1 0h1.5m-1 0h1.5m-1 0h1.5m1 0h1.5m-1 0h1.5m-1 0h1.5m-1 0h1.5m-1 0h1.5m-1 0h1.5m-1 0h1.5m-1.5 0h1.5m-.5 0h1.5m0 0h1.5m0 0h1.5m0 0h1.5m-.5 0h1.5m-.5 0h1.5m-1 0h1.5m1 0h1.5m0 0h1.5m-1.5 0h1.5m-1 0h1.5m-.5 0h1.5m-1 0h1.5m-1 0h1.5m-.5 0h1.5m-1 0h1.5m1 0h1.5m-1.5 0h1.5m-1 0h1.5m-1.5 0h1.5m-.5 0h1.5m-1 0h1.5m1.5 0h1.5m-.5 0h1.5m-1.5 0h1.5m1 0h1.5m.5 0h1.5m-1 0h1.5m-1 0h1.5m-1 0h1.5m-1.5 0h1.5m-1 0h1.5m0 0h1.5m-1.5 0h1.5m-.5 0h1.5m-.5 0h1.5m-1 0h1.5m-.5 0h1.5m-1 0h1.5m-1 0h1.5m-.5 0h1.5m-1.5 0h1.5m-.5 0h1.5m5 0h1.5m-1 0h1.5m1 0h1.5m-1 0h1.5m4 0h1.5m-1 0h1.5m.5 0h1.5m-1.5 0h1.5m-1.5 0h1.5m2.5 0h1.5m-1 0h1.5m2 0h1.5m-.5 0h1.5m-1 0h1.5m-1 0h1.5m-1.5 0h1.5m0 0h1.5m-1 0h1.5m-1 0h1.5m-.5 0h1.5m.5 0h1.5m-1.5 0h1.5m1 0h1.5m-.5 0h1.5m0 0h1.5m0 0h1.5m.5 0h1.5m2 0h1.5m6 0h1.5m.5 0h1.5m1.5 0h1.5m0 0h1.5m-1.5 0h1.5m0 0h1.5m-1 0h1.5m.5 0h1.5m.5 0h1.5m1 0h1.5m1 0h1.5m.5 0h1.5m1 0h1.5m-1 0h1.5m-.5 0h1.5m1 0h1.5m6.5 0h1.5m1.5 0h1.5m-1 0h1.5m1.5 0h1.5m6.5 0h1.5m-1.5 0h1.5m2.5 0h1.5m5 0h1.5m3.5 0h1.5m3 0h1.5m2.5 0h1.5m2.5 0h1.5m0 0h1.5m9 0h1.5m.5 0h1.5m3.5 0h1.5m2.5 0h1.5m2.5 0h1.5m-1 0h1.5m-1.5 0h1.5m-1 0h1.5m-1 0h1.5m1.5 0h1.5m.5 0h1.5m4.5 0h1.5m1 0h1.5m-.5 0h1.5m0 0h1.5m4 0h1.5m.5 0h1.5m.5 0h1.5m9 0h1.5m1 0h1.5m-1 0h1.5m-.5 0h1.5m1.5 0h1.5m-1.5 0h1.5m-.5 0h1.5m2 0h1.5m5.5 0h1.5m2 0h1.5m-1.5 0h1.5m5 0h1.5M91.7 224.7h1.5m.5 0h1.5m-1.5 0h1.5m1.5 0h1.5m0 0h1.5m1 0h1.5m5.5 0h1.5m.5 0h1.5m-.5 0h1.5m0 0h1.5m-.5 0h1.5m1 0h1.5m-1 0h1.5m-1 0h1.5m12 0h1.5m1 0h1.5m4 0h1.5m-1.5 0h1.5m0 0h1.5m-1 0h1.5m-1.5 0h1.5m-1 0h1.5m2 0h1.5m-1 0h1.5m-1.5 0h1.5m5 0h1.5m3.5 0h1.5m4.5 0h1.5m1.5 0h1.5m-1.5 0h1.5m-.5 0h1.5m7 0h1.5m0 0h1.5m0 0h1.5m-1 0h1.5m2 0h1.5m2 0h1.5m-1 0h1.5m2 0h1.5m.5 0h1.5m1.5 0h1.5m2.5 0h1.5m7.5 0h1.5m0 0h1.5m-1 0h1.5m0 0h1.5m2.5 0h1.5m-1 0h1.5m4 0h1.5m-1.5 0h1.5m2 0h1.5m3 0h1.5m1 0h1.5m-1 0h1.5m.5 0h1.5m-1 0h1.5m-.5 0h1.5m0 0h1.5m.5 0h1.5m5 0h1.5m-1 0h1.5m2 0h1.5m-1 0h1.5m-1 0h1.5m0 0h1.5m-1 0h1.5m-1 0h1.5m0 0h1.5m0 0h1.5m-.5 0h1.5m-1.5 0h1.5m3 0h1.5m-.5 0h1.5m-.5 0h1.5m1 0h1.5m1 0h1.5m1.5 0h1.5m-1.5 0h1.5m-.5 0h1.5m4 0h1.5m-1 0h1.5m-1 0h1.5m-1 0h1.5m1 0h1.5m.5 0h1.5m1.5 0h1.5m-1.5 0h1.5m2 0h1.5m2 0h1.5m.5 0h1.5m0 0h1.5m-1 0h1.5m-1 0h1.5m-1.5 0h1.5m-.5 0h1.5m0 0h1.5m-1 0h1.5m0 0h1.5m-.5 0h1.5m-.5 0h1.5m0 0h1.5m2 0h1.5m-.5 0h1.5m-1 0h1.5m-.5 0h1.5m-1.5 0h1.5m-.5 0h1.5m-1 0h1.5m-1.5 0h1.5m0 0h1.5m-1 0h1.5m-1.5 0h1.5m-.5 0h1.5m0 0h1.5m-1 0h1.5m-1 0h1.5m0 0h1.5m-.5 0h1.5m-.5 0h1.5m-1.5 0h1.5m-1.5 0h1.5m-1 0h1.5m-.5 0h1.5m0 0h1.5m-1 0h1.5m0 0h1.5m-1 0h1.5m-.5 0h1.5m-.5 0h1.5m-1 0h1.5m-1 0h1.5m4 0h1.5m-.5 0h1.5m-1.5 0h1.5m-1.5 0h1.5m2 0h1.5m-1 0h1.5m.5 0h1.5m-.5 0h1.5m.5 0h1.5m0 0h1.5m-1 0h1.5m1 0h1.5m0 0h1.5m-.5 0h1.5m-.5 0h1.5m2 0h1.5m-.5 0h1.5m0 0h1.5m1 0h1.5m1.5 0h1.5m-1 0h1.5m-1 0h1.5m1 0h1.5m-1.5 0h1.5m1.5 0h1.5m-.5 0h1.5m-1 0h1.5m.5 0h1.5m.5 0h1.5m6.5 0h1.5m-.5 0h1.5m1.5 0h1.5m3 0h1.5m-1 0h1.5m.5 0h1.5m-1 0h1.5m-1.5 0h1.5m0 0h1.5m1 0h1.5m2.5 0h1.5m0 0h1.5m3.5 0h1.5m-.5 0h1.5m6 0h1.5m2.5 0h1.5m1 0h1.5m2.5 0h1.5m.5 0h1.5m0 0h1.5m-1.5 0h1.5m.5 0h1.5m1.5 0h1.5m1.5 0h1.5m1.5 0h1.5m-.5 0h1.5m-.5 0h1.5m5.5 0h1.5m3.5 0h1.5m3 0h1.5m-1 0h1.5m4 0h1.5m1.5 0h1.5m.5 0h1.5m1.5 0h1.5m-.5 0h1.5m1.5 0h1.5m1 0h1.5m2.5 0h1.5m3.5 0h1.5m4.5 0h1.5m2.5 0h1.5m7 0h1.5m-1 0h1.5m3.5 0h1.5m-1 0h1.5m0 0h1.5m1 0h1.5m.5 0h1.5m-.5 0h1.5m-1.5 0h1.5m1.5 0h1.5m-1 0h1.5m5.5 0h1.5m1 0h1.5m3.5 0h1.5m1 0h1.5m4 0h1.5m1 0h1.5m-1.5 0h1.5m.5 0h1.5m6 0h1.5m-.5 0h1.5m1 0h1.5M81.2 222.4h1.5m2.5 0h1.5m1 0h1.5m1 0h1.5m6.5 0h1.5m6.5 0h1.5m-1 0h1.5m0 0h1.5m6 0h1.5m-1 0h1.5m-1.5 0h1.5m-1.5 0h1.5m3.5 0h1.5m0 0h1.5m4 0h1.5m-1 0h1.5m3.5 0h1.5m-1.5 0h1.5m4 0h1.5m-.5 0h1.5m6.5 0h1.5m9.5 0h1.5m.5 0h1.5m-.5 0h1.5m1.5 0h1.5m-1 0h1.5m6 0h1.5m-1 0h1.5m-1.5 0h1.5m0 0h1.5m0 0h1.5m-1.5 0h1.5m1 0h1.5m4.5 0h1.5m-.5 0h1.5m-1 0h1.5m7.5 0h1.5m-1.5 0h1.5m0 0h1.5m1 0h1.5m2.5 0h1.5m1 0h1.5m1 0h1.5m1.5 0h1.5m1.5 0h1.5m3 0h1.5m1 0h1.5m.5 0h1.5m.5 0h1.5m-.5 0h1.5m.5 0h1.5m1 0h1.5m1 0h1.5m1 0h1.5m5.5 0h1.5m1 0h1.5m-.5 0h1.5m-1 0h1.5m-1.5 0h1.5m2 0h1.5m3.5 0h1.5m0 0h1.5m2 0h1.5m-1.5 0h1.5m2.5 0h1.5m0 0h1.5m6 0h1.5m-1 0h1.5m1.5 0h1.5m2 0h1.5m-.5 0h1.5m-1 0h1.5m1.5 0h1.5m3.5 0h1.5m-.5 0h1.5m-1.5 0h1.5m0 0h1.5m0 0h1.5m-1 0h1.5m-.5 0h1.5m-1 0h1.5m1 0h1.5m0 0h1.5m-1 0h1.5m0 0h1.5m3 0h1.5m1.5 0h1.5m1 0h1.5m-.5 0h1.5m-1 0h1.5m-1.5 0h1.5m-1.5 0h1.5m-1 0h1.5m3 0h1.5m.5 0h1.5m-1 0h1.5m-1.5 0h1.5m-.5 0h1.5m.5 0h1.5m-1 0h1.5m-1 0h1.5m-1.5 0h1.5m-.5 0h1.5m-1 0h1.5m-1.5 0h1.5m1 0h1.5m-1.5 0h1.5m-1.5 0h1.5m2 0h1.5m0 0h1.5m-.5 0h1.5m-1 0h1.5m-.5 0h1.5m-1 0h1.5m1 0h1.5m-1 0h1.5m-1 0h1.5m1.5 0h1.5m-1 0h1.5m-1.5 0h1.5m-1 0h1.5m-1.5 0h1.5m-.5 0h1.5m-1 0h1.5m-1 0h1.5m1 0h1.5m1 0h1.5m0 0h1.5m7 0h1.5m.5 0h1.5m-1 0h1.5m-.5 0h1.5m0 0h1.5m1 0h1.5m6 0h1.5m.5 0h1.5m-1 0h1.5m-.5 0h1.5m-.5 0h1.5m4.5 0h1.5m0 0h1.5m1 0h1.5m-1 0h1.5m1 0h1.5m4.5 0h1.5m-.5 0h1.5m3.5 0h1.5m0 0h1.5m3.5 0h1.5m0 0h1.5m8.5 0h1.5m-.5 0h1.5m-.5 0h1.5m.5 0h1.5m.5 0h1.5m3 0h1.5m-1.5 0h1.5m.5 0h1.5m0 0h1.5m2.5 0h1.5m4.5 0h1.5m1 0h1.5m5.5 0h1.5m-1 0h1.5m2.5 0h1.5m3 0h1.5m1.5 0h1.5m0 0h1.5m1.5 0h1.5m.5 0h1.5m-1 0h1.5m2.5 0h1.5m1 0h1.5m1.5 0h1.5m-1 0h1.5m1 0h1.5m-1.5 0h1.5m-1 0h1.5m2 0h1.5m3.5 0h1.5m6.5 0h1.5m9.5 0h1.5m1.5 0h1.5m-1.5 0h1.5m2 0h1.5m-1.5 0h1.5m-.5 0h1.5m-1 0h1.5m1.5 0h1.5m4 0h1.5m6.5 0h1.5m16.5 0h1.5M83.7 220.1h1.5m5.5 0h1.5m0 0h1.5m-1 0h1.5m1 0h1.5m0 0h1.5m-1 0h1.5m-.5 0h1.5m.5 0h1.5m10.5 0h1.5m-.5 0h1.5m2.5 0h1.5m0 0h1.5m-1 0h1.5m2.5 0h1.5m.5 0h1.5m9.5 0h1.5m11.5 0h1.5m-1 0h1.5m7.5 0h1.5m1 0h1.5m-1 0h1.5m.5 0h1.5m-1 0h1.5m-1 0h1.5m1 0h1.5m5 0h1.5m1 0h1.5m4 0h1.5m3.5 0h1.5m1.5 0h1.5m-1.5 0h1.5m-1 0h1.5m2 0h1.5m.5 0h1.5m-1.5 0h1.5m1 0h1.5m-1 0h1.5m-.5 0h1.5m2.5 0h1.5m1.5 0h1.5m1 0h1.5m2 0h1.5m0 0h1.5m-1 0h1.5m1 0h1.5m2.5 0h1.5m4.5 0h1.5m3.5 0h1.5m-1 0h1.5m1 0h1.5m9.5 0h1.5m3 0h1.5m0 0h1.5m.5 0h1.5m-1.5 0h1.5m-1 0h1.5m0 0h1.5m-.5 0h1.5m-1.5 0h1.5m1 0h1.5m0 0h1.5m.5 0h1.5m0 0h1.5m8.5 0h1.5m-1 0h1.5m-1 0h1.5m-1.5 0h1.5m-.5 0h1.5m-.5 0h1.5m-1.5 0h1.5m1.5 0h1.5m-1 0h1.5m0 0h1.5m2.5 0h1.5m1.5 0h1.5m.5 0h1.5m-1.5 0h1.5m0 0h1.5m1 0h1.5m0 0h1.5m-1 0h1.5m-1 0h1.5m.5 0h1.5m0 0h1.5m-1 0h1.5m-1.5 0h1.5m1 0h1.5m1.5 0h1.5m-1.5 0h1.5m0 0h1.5m0 0h1.5m1.5 0h1.5m-1.5 0h1.5m.5 0h1.5m-1 0h1.5m-1.5 0h1.5m-.5 0h1.5m.5 0h1.5m-.5 0h1.5m0 0h1.5m-1 0h1.5m-1.5 0h1.5m1 0h1.5m-.5 0h1.5m-.5 0h1.5m-1.5 0h1.5m-1 0h1.5m-.5 0h1.5m.5 0h1.5m0 0h1.5m-1 0h1.5m.5 0h1.5m-1 0h1.5m-.5 0h1.5m-.5 0h1.5m-1 0h1.5m-1 0h1.5m1.5 0h1.5m-.5 0h1.5m1.5 0h1.5m-.5 0h1.5m-1 0h1.5m-1.5 0h1.5m-1.5 0h1.5m0 0h1.5m.5 0h1.5m.5 0h1.5m4 0h1.5m-1 0h1.5m-1 0h1.5m1 0h1.5m-1 0h1.5m-1 0h1.5m3 0h1.5m-.5 0h1.5m-1 0h1.5m3 0h1.5m2.5 0h1.5m8 0h1.5m-1 0h1.5m-1.5 0h1.5m2.5 0h1.5m3.5 0h1.5m-1.5 0h1.5m.5 0h1.5m1.5 0h1.5m5.5 0h1.5m1 0h1.5m-1 0h1.5m1 0h1.5m0 0h1.5m-.5 0h1.5m6 0h1.5m-1 0h1.5m0 0h1.5m6 0h1.5m-.5 0h1.5m3 0h1.5m-1.5 0h1.5m0 0h1.5m3.5 0h1.5m-1 0h1.5m2 0h1.5m-1.5 0h1.5m-1 0h1.5m1 0h1.5m1 0h1.5m-.5 0h1.5m9.5 0h1.5m15 0h1.5m7 0h1.5m.5 0h1.5m1 0h1.5m10.5 0h1.5m3 0h1.5m2 0h1.5m4.5 0h1.5m12 0h1.5m1 0h1.5m2 0h1.5m-1.5 0h1.5m4.5 0h1.5m-.5 0h1.5m.5 0h1.5m-1.5 0h1.5m.5 0h1.5m-1 0h1.5m0 0h1.5m4 0h1.5m3.5 0h1.5m2.5 0h1.5m-.5 0h1.5M79.7 217.8h1.5m-1.5 0h1.5m12 0h1.5m2 0h1.5m5 0h1.5m0 0h1.5m1.5 0h1.5m0 0h1.5m3.5 0h1.5m3.5 0h1.5m5.5 0h1.5m.5 0h1.5m1.5 0h1.5m-.5 0h1.5m-.5 0h1.5m-1 0h1.5m-.5 0h1.5m6.5 0h1.5m3 0h1.5m1.5 0h1.5m1.5 0h1.5m1 0h1.5m3 0h1.5m12.5 0h1.5m-1 0h1.5m3 0h1.5m.5 0h1.5m-1.5 0h1.5m-.5 0h1.5m-1.5 0h1.5m.5 0h1.5m0 0h1.5m0 0h1.5m8.5 0h1.5m1 0h1.5m-1 0h1.5m0 0h1.5m-1 0h1.5m0 0h1.5m-.5 0h1.5m.5 0h1.5m-1 0h1.5m10.5 0h1.5m5 0h1.5m-1 0h1.5m-.5 0h1.5m2 0h1.5m.5 0h1.5m0 0h1.5m1 0h1.5m1 0h1.5m2.5 0h1.5m0 0h1.5m1.5 0h1.5m3 0h1.5m-1 0h1.5m-1 0h1.5m3 0h1.5m9 0h1.5m.5 0h1.5m4.5 0h1.5m0 0h1.5m1 0h1.5m0 0h1.5m-.5 0h1.5m1 0h1.5m0 0h1.5m-1.5 0h1.5m3 0h1.5m0 0h1.5m.5 0h1.5m1 0h1.5m.5 0h1.5m4 0h1.5m-1 0h1.5m-1 0h1.5m-1 0h1.5m-1.5 0h1.5m0 0h1.5m-1 0h1.5m0 0h1.5m-.5 0h1.5m-1 0h1.5m-1.5 0h1.5m-1 0h1.5m-.5 0h1.5m0 0h1.5m-1.5 0h1.5m-.5 0h1.5m1.5 0h1.5m.5 0h1.5m-.5 0h1.5m-1.5 0h1.5m0 0h1.5m-.5 0h1.5m5.5 0h1.5m-1.5 0h1.5m-1.5 0h1.5m-1 0h1.5m-1 0h1.5m-.5 0h1.5m0 0h1.5m-1 0h1.5m1 0h1.5m.5 0h1.5m-1.5 0h1.5m-1 0h1.5m-1.5 0h1.5m-1 0h1.5m2 0h1.5m-1 0h1.5m-1.5 0h1.5m-1 0h1.5m1 0h1.5m-1 0h1.5m-1.5 0h1.5m.5 0h1.5m2 0h1.5m-1 0h1.5m-.5 0h1.5m0 0h1.5m-1 0h1.5m-.5 0h1.5m-1 0h1.5m0 0h1.5m-1 0h1.5m2 0h1.5m-1 0h1.5m-.5 0h1.5m0 0h1.5m2.5 0h1.5m-1 0h1.5m-1 0h1.5m3.5 0h1.5m0 0h1.5m-.5 0h1.5m3 0h1.5m1 0h1.5m0 0h1.5m-1 0h1.5m0 0h1.5m1 0h1.5m-1 0h1.5m-.5 0h1.5m-.5 0h1.5m-.5 0h1.5m-.5 0h1.5m1.5 0h1.5m1.5 0h1.5m2 0h1.5m1 0h1.5m0 0h1.5m-1.5 0h1.5m-1 0h1.5m-1.5 0h1.5m-.5 0h1.5m-.5 0h1.5m-.5 0h1.5m-1 0h1.5m-1 0h1.5m.5 0h1.5m4.5 0h1.5m2.5 0h1.5m7.5 0h1.5m4.5 0h1.5m7 0h1.5m-1 0h1.5m3 0h1.5m5.5 0h1.5m.5 0h1.5m0 0h1.5m7 0h1.5m1 0h1.5m-1.5 0h1.5m1 0h1.5m-.5 0h1.5m-.5 0h1.5m6.5 0h1.5m0 0h1.5m2 0h1.5m1.5 0h1.5m-1 0h1.5m.5 0h1.5m13.5 0h1.5m16 0h1.5m3 0h1.5m0 0h1.5m0 0h1.5m6.5 0h1.5m1 0h1.5m4.5 0h1.5m4 0h1.5m0 0h1.5m2 0h1.5m-1.5 0h1.5m-1 0h1.5M80.2 215.5h1.5m0 0h1.5m13.5 0h1.5m-1 0h1.5m-1 0h1.5m1.5 0h1.5m1.5 0h1.5m10.5 0h1.5m-.5 0h1.5m6 0h1.5m.5 0h1.5m-.5 0h1.5m4 0h1.5m5 0h1.5m0 0h1.5m-.5 0h1.5m6.5 0h1.5m-1.5 0h1.5m2.5 0h1.5m-.5 0h1.5m2.5 0h1.5m3.5 0h1.5m-1.5 0h1.5m7.5 0h1.5m2.5 0h1.5m2.5 0h1.5m6 0h1.5m-1 0h1.5m-1 0h1.5m-1 0h1.5m1 0h1.5m-1.5 0h1.5m6.5 0h1.5m1.5 0h1.5m-1.5 0h1.5m3.5 0h1.5m5 0h1.5m-.5 0h1.5m.5 0h1.5m3 0h1.5m-.5 0h1.5m0 0h1.5m-1 0h1.5m-1 0h1.5m-.5 0h1.5m-1 0h1.5m3.5 0h1.5m-1.5 0h1.5m1.5 0h1.5m0 0h1.5m3 0h1.5m6 0h1.5m.5 0h1.5m0 0h1.5m1 0h1.5m-1 0h1.5m0 0h1.5m2 0h1.5m-1.5 0h1.5m2.5 0h1.5m1.5 0h1.5m.5 0h1.5m1 0h1.5m1.5 0h1.5m1.5 0h1.5m.5 0h1.5m.5 0h1.5m0 0h1.5m-1 0h1.5m1 0h1.5m-1 0h1.5m-.5 0h1.5m-.5 0h1.5m-.5 0h1.5m-1.5 0h1.5m-1 0h1.5m-.5 0h1.5m-1.5 0h1.5m1.5 0h1.5m-.5 0h1.5m-1.5 0h1.5m-1 0h1.5m-1.5 0h1.5m-1 0h1.5m2 0h1.5m-.5 0h1.5m.5 0h1.5m0 0h1.5m0 0h1.5m-.5 0h1.5m0 0h1.5m-1 0h1.5m-.5 0h1.5m-1 0h1.5m.5 0h1.5m-1.5 0h1.5m-1 0h1.5m-1 0h1.5m-1.5 0h1.5m-1 0h1.5m.5 0h1.5m1.5 0h1.5m-1.5 0h1.5m-1 0h1.5m0 0h1.5m-.5 0h1.5m-1.5 0h1.5m-1 0h1.5m0 0h1.5m-1 0h1.5m0 0h1.5m-.5 0h1.5m-1 0h1.5m-1 0h1.5m-.5 0h1.5m.5 0h1.5m3.5 0h1.5m1.5 0h1.5m-.5 0h1.5m-1 0h1.5m-1.5 0h1.5m0 0h1.5m.5 0h1.5m1 0h1.5m-1.5 0h1.5m-1 0h1.5m.5 0h1.5m-1 0h1.5m0 0h1.5m.5 0h1.5m-.5 0h1.5m-1 0h1.5m-.5 0h1.5m-1 0h1.5m-1 0h1.5m-1 0h1.5m-1 0h1.5m-1 0h1.5m-1 0h1.5m-1.5 0h1.5m-1 0h1.5m3.5 0h1.5m-.5 0h1.5m0 0h1.5m-.5 0h1.5m1.5 0h1.5m-1 0h1.5m-.5 0h1.5m-1 0h1.5m1 0h1.5m3 0h1.5m2 0h1.5m0 0h1.5m3.5 0h1.5m0 0h1.5m.5 0h1.5m.5 0h1.5m-1 0h1.5m-1 0h1.5m-.5 0h1.5m0 0h1.5m1 0h1.5m1.5 0h1.5m-1 0h1.5m.5 0h1.5m4.5 0h1.5m2 0h1.5m-1 0h1.5m3 0h1.5m-1.5 0h1.5m-1 0h1.5m-.5 0h1.5m1.5 0h1.5m2.5 0h1.5m.5 0h1.5m1 0h1.5m1 0h1.5m4.5 0h1.5m-1 0h1.5m-.5 0h1.5m.5 0h1.5m5.5 0h1.5m5.5 0h1.5m2 0h1.5m8.5 0h1.5m.5 0h1.5m10 0h1.5m7.5 0h1.5m-.5 0h1.5m-1 0h1.5m.5 0h1.5m3.5 0h1.5m6.5 0h1.5m2.5 0h1.5m2.5 0h1.5m-.5 0h1.5m4.5 0h1.5m4.5 0h1.5m1.5 0h1.5m4 0h1.5m7.5 0h1.5m7 0h1.5m9 0h1.5M82.7 213.2h1.5m3 0h1.5m13.5 0h1.5m1.5 0h1.5m6 0h1.5m-1 0h1.5m1.5 0h1.5m6.5 0h1.5m1.5 0h1.5m1 0h1.5m6.5 0h1.5m4 0h1.5m3.5 0h1.5m3.5 0h1.5m-1.5 0h1.5m0 0h1.5m-1 0h1.5m-1 0h1.5m1.5 0h1.5m4.5 0h1.5m1 0h1.5m12.5 0h1.5m-.5 0h1.5m2 0h1.5m1.5 0h1.5m7 0h1.5m14 0h1.5m6 0h1.5m-1 0h1.5m-1 0h1.5m.5 0h1.5m0 0h1.5m3.5 0h1.5m0 0h1.5m-1 0h1.5m-.5 0h1.5m-1 0h1.5m1 0h1.5m1 0h1.5m6.5 0h1.5m3 0h1.5m9.5 0h1.5m-.5 0h1.5m.5 0h1.5m3 0h1.5m5 0h1.5m-.5 0h1.5m8 0h1.5m.5 0h1.5m1.5 0h1.5m0 0h1.5m1.5 0h1.5m-1 0h1.5m-1.5 0h1.5m-.5 0h1.5m.5 0h1.5m-.5 0h1.5m0 0h1.5m-.5 0h1.5m-.5 0h1.5m1.5 0h1.5m-.5 0h1.5m1 0h1.5m0 0h1.5m-1 0h1.5m-.5 0h1.5m-1 0h1.5m-1 0h1.5m3.5 0h1.5m-.5 0h1.5m-1.5 0h1.5m-1 0h1.5m1 0h1.5m-1.5 0h1.5m-1.5 0h1.5m2 0h1.5m-1.5 0h1.5m-.5 0h1.5m-1.5 0h1.5m-.5 0h1.5m1.5 0h1.5m2 0h1.5m-1.5 0h1.5m.5 0h1.5m.5 0h1.5m1.5 0h1.5m0 0h1.5m-1.5 0h1.5m-1 0h1.5m0 0h1.5m-1 0h1.5m-1.5 0h1.5m3 0h1.5m-1 0h1.5m-.5 0h1.5m-.5 0h1.5m-1.5 0h1.5m1.5 0h1.5m1.5 0h1.5m-1.5 0h1.5m.5 0h1.5m-1 0h1.5m-1 0h1.5m-1 0h1.5m.5 0h1.5m-1.5 0h1.5m-1 0h1.5m6.5 0h1.5m.5 0h1.5m.5 0h1.5m5 0h1.5m5 0h1.5m-1.5 0h1.5m.5 0h1.5m1.5 0h1.5m-1 0h1.5m-1 0h1.5m0 0h1.5m1 0h1.5m-.5 0h1.5m4 0h1.5m-1 0h1.5m3 0h1.5m4 0h1.5m1 0h1.5m1 0h1.5m-1 0h1.5m0 0h1.5m5 0h1.5m2 0h1.5m-1.5 0h1.5m2 0h1.5m6 0h1.5m.5 0h1.5m2 0h1.5m5 0h1.5m.5 0h1.5m0 0h1.5m.5 0h1.5m6.5 0h1.5m1.5 0h1.5m0 0h1.5m0 0h1.5m.5 0h1.5m1.5 0h1.5m-.5 0h1.5m1.5 0h1.5m0 0h1.5m3.5 0h1.5m-1 0h1.5m-1 0h1.5m5.5 0h1.5m4 0h1.5m5 0h1.5m1 0h1.5m2 0h1.5m.5 0h1.5m3 0h1.5m6 0h1.5m1.5 0h1.5m9.5 0h1.5m.5 0h1.5m.5 0h1.5m.5 0h1.5m7 0h1.5M79.2 210.9h1.5m-1.5 0h1.5m1 0h1.5m4.5 0h1.5m-.5 0h1.5m6.5 0h1.5m1 0h1.5m1 0h1.5m16 0h1.5m6 0h1.5m1 0h1.5m8.5 0h1.5m1 0h1.5m-1 0h1.5m-1 0h1.5m1 0h1.5m3 0h1.5m-.5 0h1.5m5 0h1.5m5 0h1.5m17.5 0h1.5m3.5 0h1.5m-.5 0h1.5m2 0h1.5m-1.5 0h1.5m10 0h1.5m1 0h1.5m7 0h1.5m1 0h1.5m0 0h1.5m0 0h1.5m8 0h1.5m9 0h1.5m-.5 0h1.5m2 0h1.5m1.5 0h1.5m.5 0h1.5m-.5 0h1.5m-1 0h1.5m-.5 0h1.5m0 0h1.5m-1.5 0h1.5m1 0h1.5m-.5 0h1.5m2.5 0h1.5m.5 0h1.5m1 0h1.5m-1.5 0h1.5m3 0h1.5m2.5 0h1.5m.5 0h1.5m-1 0h1.5m-.5 0h1.5m0 0h1.5m-.5 0h1.5m-1.5 0h1.5m1 0h1.5m-.5 0h1.5m3.5 0h1.5m-1 0h1.5m-.5 0h1.5m2.5 0h1.5m-.5 0h1.5m-1.5 0h1.5m-1 0h1.5m-1.5 0h1.5m.5 0h1.5m.5 0h1.5m-1 0h1.5m-.5 0h1.5m1 0h1.5m-1.5 0h1.5m-1.5 0h1.5m0 0h1.5m6 0h1.5m-.5 0h1.5m-1.5 0h1.5m-1 0h1.5m-1 0h1.5m-1.5 0h1.5m1.5 0h1.5m-.5 0h1.5m-1.5 0h1.5m-1.5 0h1.5m0 0h1.5m-1 0h1.5m-1.5 0h1.5m0 0h1.5m-.5 0h1.5m-1.5 0h1.5m-1.5 0h1.5m-.5 0h1.5m0 0h1.5m0 0h1.5m.5 0h1.5m0 0h1.5m-1.5 0h1.5m-1 0h1.5m.5 0h1.5m-.5 0h1.5m-.5 0h1.5m-1 0h1.5m-1.5 0h1.5m-1 0h1.5m-1 0h1.5m-1 0h1.5m-.5 0h1.5m-1 0h1.5m-1 0h1.5m0 0h1.5m-1.5 0h1.5m-1 0h1.5m.5 0h1.5m-1.5 0h1.5m-1 0h1.5m-1 0h1.5m0 0h1.5m0 0h1.5m.5 0h1.5m-1.5 0h1.5m1.5 0h1.5m.5 0h1.5m1.5 0h1.5m-1.5 0h1.5m0 0h1.5m4 0h1.5m-1.5 0h1.5m.5 0h1.5m-1.5 0h1.5m.5 0h1.5m2.5 0h1.5m.5 0h1.5m-.5 0h1.5m1.5 0h1.5m1 0h1.5m-1.5 0h1.5m-.5 0h1.5m-1.5 0h1.5m-1.5 0h1.5m-.5 0h1.5m1 0h1.5m-1 0h1.5m-1 0h1.5m1 0h1.5m1 0h1.5m6 0h1.5m-1 0h1.5m0 0h1.5m10 0h1.5m4 0h1.5m5.5 0h1.5m0 0h1.5m3 0h1.5m-1 0h1.5m1 0h1.5m2.5 0h1.5m0 0h1.5m-1 0h1.5m3 0h1.5m8.5 0h1.5m4 0h1.5m4 0h1.5m0 0h1.5m.5 0h1.5m2.5 0h1.5m.5 0h1.5m5 0h1.5m2.5 0h1.5m0 0h1.5m7 0h1.5m4.5 0h1.5m-1.5 0h1.5m2 0h1.5m2.5 0h1.5m6.5 0h1.5m11 0h1.5m2.5 0h1.5m4.5 0h1.5m4 0h1.5m-1 0h1.5m7 0h1.5m13 0h1.5M79.7 208.5h1.5m10.5 0h1.5m7.5 0h1.5m9 0h1.5m4.5 0h1.5m-.5 0h1.5m2 0h1.5m-1.5 0h1.5m-.5 0h1.5m0 0h1.5m5.5 0h1.5m3 0h1.5m.5 0h1.5m5 0h1.5m4.5 0h1.5m12 0h1.5m-.5 0h1.5m0 0h1.5m1 0h1.5m2.5 0h1.5m.5 0h1.5m1 0h1.5m-1 0h1.5m-.5 0h1.5m4.5 0h1.5m6.5 0h1.5m8 0h1.5m-1 0h1.5m6.5 0h1.5m-.5 0h1.5m1 0h1.5m1.5 0h1.5m-1 0h1.5m1.5 0h1.5m0 0h1.5m-1 0h1.5m1.5 0h1.5m-.5 0h1.5m0 0h1.5m-1.5 0h1.5m3.5 0h1.5m.5 0h1.5m1.5 0h1.5m1 0h1.5m-1.5 0h1.5m-1.5 0h1.5m3.5 0h1.5m1 0h1.5m-.5 0h1.5m-1 0h1.5m.5 0h1.5m.5 0h1.5m2.5 0h1.5m5 0h1.5m1.5 0h1.5m-1.5 0h1.5m0 0h1.5m1 0h1.5m-1 0h1.5m1 0h1.5m-1 0h1.5m-1 0h1.5m-1 0h1.5m-1.5 0h1.5m2 0h1.5m-.5 0h1.5m-1 0h1.5m-1 0h1.5m3.5 0h1.5m-.5 0h1.5m1 0h1.5m-1.5 0h1.5m1.5 0h1.5m8 0h1.5m-1 0h1.5m0 0h1.5m-.5 0h1.5m-1 0h1.5m-1 0h1.5m-.5 0h1.5m-1 0h1.5m2.5 0h1.5m-1 0h1.5m0 0h1.5m0 0h1.5m-.5 0h1.5m0 0h1.5m.5 0h1.5m-.5 0h1.5m-1 0h1.5m-1 0h1.5m2 0h1.5m-.5 0h1.5m-1.5 0h1.5m-.5 0h1.5m2.5 0h1.5m-.5 0h1.5m-1 0h1.5m-1.5 0h1.5m-.5 0h1.5m-1 0h1.5m-.5 0h1.5m-1 0h1.5m.5 0h1.5m-1 0h1.5m-1.5 0h1.5m-.5 0h1.5m-1.5 0h1.5m-1 0h1.5m1 0h1.5m-1.5 0h1.5m1 0h1.5m-1 0h1.5m-1.5 0h1.5m-.5 0h1.5m-1 0h1.5m-1.5 0h1.5m-1 0h1.5m-1 0h1.5m-.5 0h1.5m.5 0h1.5m-1.5 0h1.5m-1 0h1.5m-1 0h1.5m1 0h1.5m-.5 0h1.5m-1 0h1.5m0 0h1.5m-1 0h1.5m-1.5 0h1.5m-1 0h1.5m-.5 0h1.5m-.5 0h1.5m0 0h1.5m6 0h1.5m1.5 0h1.5m9 0h1.5m1.5 0h1.5m-1.5 0h1.5m-1 0h1.5m2.5 0h1.5m1 0h1.5m.5 0h1.5m-1 0h1.5m-1 0h1.5m-.5 0h1.5m-.5 0h1.5m2 0h1.5m0 0h1.5m1 0h1.5m1 0h1.5m.5 0h1.5m2.5 0h1.5m0 0h1.5m3.5 0h1.5m-1 0h1.5m-.5 0h1.5m-.5 0h1.5m7.5 0h1.5m0 0h1.5m2 0h1.5m1 0h1.5m1 0h1.5m-.5 0h1.5m-1.5 0h1.5m1.5 0h1.5m14 0h1.5m.5 0h1.5m-1 0h1.5m3.5 0h1.5m-.5 0h1.5m2 0h1.5m2 0h1.5m-1.5 0h1.5m5.5 0h1.5m-.5 0h1.5m1 0h1.5m18.5 0h1.5m-1.5 0h1.5m16.5 0h1.5m1 0h1.5m3.5 0h1.5m2 0h1.5m-1 0h1.5m-.5 0h1.5m-.5 0h1.5m1 0h1.5m0 0h1.5m-1 0h1.5m.5 0h1.5m3.5 0h1.5m-1 0h1.5m0 0h1.5m0 0h1.5m2 0h1.5m-1 0h1.5m1 0h1.5M81.2 206.2h1.5m.5 0h1.5m.5 0h1.5m5.5 0h1.5m-1 0h1.5m2.5 0h1.5m-1.5 0h1.5m.5 0h1.5m13 0h1.5m4.5 0h1.5m-1.5 0h1.5m9 0h1.5m5.5 0h1.5m11.5 0h1.5m9 0h1.5m.5 0h1.5m4 0h1.5m-1 0h1.5m0 0h1.5m-1.5 0h1.5m2 0h1.5m-1 0h1.5m6.5 0h1.5m5 0h1.5m-1.5 0h1.5m11.5 0h1.5m.5 0h1.5m6.5 0h1.5m1.5 0h1.5m2.5 0h1.5m-1.5 0h1.5m-1.5 0h1.5m-1 0h1.5m.5 0h1.5m.5 0h1.5m.5 0h1.5m-.5 0h1.5m-1.5 0h1.5m-1 0h1.5m.5 0h1.5m-.5 0h1.5m-.5 0h1.5m9.5 0h1.5m-1 0h1.5m-1.5 0h1.5m-.5 0h1.5m0 0h1.5m0 0h1.5m-1 0h1.5m1 0h1.5m-.5 0h1.5m9.5 0h1.5m6 0h1.5m.5 0h1.5m1 0h1.5m0 0h1.5m-1.5 0h1.5m-1.5 0h1.5m0 0h1.5m.5 0h1.5m2.5 0h1.5m-1.5 0h1.5m-1.5 0h1.5m6.5 0h1.5m-1.5 0h1.5m0 0h1.5m0 0h1.5m-1.5 0h1.5m4 0h1.5m-1 0h1.5m-1 0h1.5m1 0h1.5m.5 0h1.5m-1 0h1.5m-1.5 0h1.5m-1 0h1.5m-.5 0h1.5m-1 0h1.5m0 0h1.5m.5 0h1.5m-.5 0h1.5m-1.5 0h1.5m-.5 0h1.5m-1 0h1.5m0 0h1.5m0 0h1.5m-1 0h1.5m-1 0h1.5m-1 0h1.5m1 0h1.5m-1 0h1.5m-1.5 0h1.5m-1 0h1.5m.5 0h1.5m-1.5 0h1.5m-1 0h1.5m-1.5 0h1.5m-.5 0h1.5m-1 0h1.5m-1 0h1.5m-1 0h1.5m-1 0h1.5m0 0h1.5m-1 0h1.5m-1 0h1.5m-.5 0h1.5m-1 0h1.5m-1.5 0h1.5m-1 0h1.5m-1 0h1.5m.5 0h1.5m-.5 0h1.5m-1.5 0h1.5m-1 0h1.5m-1.5 0h1.5m-1 0h1.5m-1.5 0h1.5m-1 0h1.5m-.5 0h1.5m-1 0h1.5m-1 0h1.5m-1.5 0h1.5m-1 0h1.5m-.5 0h1.5m-1 0h1.5m-1 0h1.5m1.5 0h1.5m1 0h1.5m-1 0h1.5m-1 0h1.5m3 0h1.5m-.5 0h1.5m-.5 0h1.5m-.5 0h1.5m-1 0h1.5m-1 0h1.5m3.5 0h1.5m1 0h1.5m-.5 0h1.5m.5 0h1.5m-1 0h1.5m-1 0h1.5m1 0h1.5m-1.5 0h1.5m-1 0h1.5m11 0h1.5m-1.5 0h1.5m-1 0h1.5m-.5 0h1.5m0 0h1.5m-1 0h1.5m2.5 0h1.5m-1 0h1.5m2.5 0h1.5m17.5 0h1.5m-1.5 0h1.5m2 0h1.5m2 0h1.5m-1 0h1.5m10 0h1.5m5.5 0h1.5m7 0h1.5m2 0h1.5m-1.5 0h1.5m.5 0h1.5m0 0h1.5m4 0h1.5m1 0h1.5m3 0h1.5m3.5 0h1.5m.5 0h1.5m6 0h1.5m-1.5 0h1.5m2.5 0h1.5m-1 0h1.5m7 0h1.5m4 0h1.5m5 0h1.5m0 0h1.5m-1 0h1.5m-.5 0h1.5m0 0h1.5m5 0h1.5m-.5 0h1.5m-1.5 0h1.5m-1 0h1.5m-.5 0h1.5m17.5 0h1.5m11.5 0h1.5m9 0h1.5M78.7 203.9h1.5m-1.5 0h1.5m.5 0h1.5m1.5 0h1.5m1.5 0h1.5m4 0h1.5m-1 0h1.5m3.5 0h1.5m3 0h1.5m3.5 0h1.5m4 0h1.5m14 0h1.5m5 0h1.5m14 0h1.5m0 0h1.5m3.5 0h1.5m1 0h1.5m2.5 0h1.5m1 0h1.5m1.5 0h1.5m8 0h1.5m1 0h1.5m-.5 0h1.5m3 0h1.5m0 0h1.5m-1.5 0h1.5m7 0h1.5m1 0h1.5m5.5 0h1.5m-1 0h1.5m5 0h1.5m.5 0h1.5m3 0h1.5m0 0h1.5m1 0h1.5m0 0h1.5m1 0h1.5m-1 0h1.5m1 0h1.5m5.5 0h1.5m6.5 0h1.5m-1 0h1.5m9 0h1.5m1.5 0h1.5m2.5 0h1.5m1 0h1.5m1.5 0h1.5m0 0h1.5m1.5 0h1.5m-1 0h1.5m0 0h1.5m0 0h1.5m.5 0h1.5m-1.5 0h1.5m0 0h1.5m-.5 0h1.5m-1 0h1.5m2.5 0h1.5m-1 0h1.5m8 0h1.5m.5 0h1.5m2.5 0h1.5m2 0h1.5m2.5 0h1.5m-1.5 0h1.5m-1 0h1.5m-1 0h1.5m-1 0h1.5m2 0h1.5m-.5 0h1.5m-1.5 0h1.5m-.5 0h1.5m5 0h1.5m-1 0h1.5m-1 0h1.5m0 0h1.5m-1 0h1.5m-1.5 0h1.5m-1.5 0h1.5m-1.5 0h1.5m-1 0h1.5m-1.5 0h1.5m-1.5 0h1.5m-1 0h1.5m1.5 0h1.5m-1 0h1.5m-1 0h1.5m-.5 0h1.5m-.5 0h1.5m0 0h1.5m-.5 0h1.5m.5 0h1.5m-1 0h1.5m-.5 0h1.5m1.5 0h1.5m0 0h1.5m0 0h1.5m0 0h1.5m2 0h1.5m1 0h1.5m-1.5 0h1.5m1.5 0h1.5m5.5 0h1.5m-.5 0h1.5m1.5 0h1.5m1.5 0h1.5m1.5 0h1.5m2 0h1.5m-.5 0h1.5m.5 0h1.5m1 0h1.5m1.5 0h1.5m-.5 0h1.5m-.5 0h1.5m-1 0h1.5m1 0h1.5m1.5 0h1.5m-1.5 0h1.5m.5 0h1.5m2.5 0h1.5m-1 0h1.5m12 0h1.5m-.5 0h1.5m0 0h1.5m-.5 0h1.5m-1 0h1.5m0 0h1.5m10 0h1.5m1.5 0h1.5m-1 0h1.5m2 0h1.5m1 0h1.5m2.5 0h1.5m4.5 0h1.5m4.5 0h1.5m1 0h1.5m2 0h1.5m5 0h1.5m2 0h1.5m1 0h1.5m-1.5 0h1.5m0 0h1.5m.5 0h1.5m1 0h1.5m-1 0h1.5m-1.5 0h1.5m8 0h1.5m-.5 0h1.5m1.5 0h1.5m7 0h1.5m22 0h1.5m9.5 0h1.5m8 0h1.5m-1.5 0h1.5m3 0h1.5m5 0h1.5m7 0h1.5m-1 0h1.5m3 0h1.5M88.2 201.6h1.5m0 0h1.5m-1 0h1.5m-.5 0h1.5m-.5 0h1.5m5 0h1.5m2 0h1.5m-.5 0h1.5m3 0h1.5m1 0h1.5m7.5 0h1.5m4.5 0h1.5m1 0h1.5m-.5 0h1.5m5.5 0h1.5m-1 0h1.5m-1 0h1.5m15 0h1.5m4.5 0h1.5m2.5 0h1.5m.5 0h1.5m7.5 0h1.5m13 0h1.5m5 0h1.5m-.5 0h1.5m2.5 0h1.5m7 0h1.5m1.5 0h1.5m1 0h1.5m-1.5 0h1.5m-.5 0h1.5m3 0h1.5m0 0h1.5m9.5 0h1.5m3 0h1.5m-1 0h1.5m-1 0h1.5m-1 0h1.5m-1.5 0h1.5m5 0h1.5m-1.5 0h1.5m1 0h1.5m1 0h1.5m5 0h1.5m-.5 0h1.5m1.5 0h1.5m-.5 0h1.5m1 0h1.5m2 0h1.5m-1 0h1.5m-1 0h1.5m1.5 0h1.5m2 0h1.5m-1.5 0h1.5m-.5 0h1.5m0 0h1.5m-1 0h1.5m4.5 0h1.5m-1 0h1.5m1 0h1.5m-.5 0h1.5m1.5 0h1.5m8 0h1.5m-.5 0h1.5m2.5 0h1.5m.5 0h1.5m3.5 0h1.5m-.5 0h1.5m-1 0h1.5m.5 0h1.5m1.5 0h1.5m-1.5 0h1.5m-1.5 0h1.5m.5 0h1.5m-1.5 0h1.5m-1 0h1.5m-1.5 0h1.5m-.5 0h1.5m0 0h1.5m-1 0h1.5m-1.5 0h1.5m-1 0h1.5m.5 0h1.5m-.5 0h1.5m.5 0h1.5m-1 0h1.5m-1 0h1.5m0 0h1.5m-.5 0h1.5m-1.5 0h1.5m1 0h1.5m-.5 0h1.5m-1 0h1.5m-1.5 0h1.5m.5 0h1.5m-1.5 0h1.5m-1 0h1.5m1 0h1.5m-1.5 0h1.5m-1 0h1.5m-.5 0h1.5m4 0h1.5m-.5 0h1.5m1 0h1.5m1 0h1.5m-.5 0h1.5m3 0h1.5m0 0h1.5m-.5 0h1.5m-1 0h1.5m1.5 0h1.5m-.5 0h1.5m-1 0h1.5m.5 0h1.5m10 0h1.5m1.5 0h1.5m1 0h1.5m12 0h1.5m0 0h1.5m1 0h1.5m1.5 0h1.5m1 0h1.5m-.5 0h1.5m-1 0h1.5m1.5 0h1.5m-1.5 0h1.5m.5 0h1.5m2.5 0h1.5m1.5 0h1.5m7 0h1.5m-.5 0h1.5m4 0h1.5m.5 0h1.5m1 0h1.5m.5 0h1.5m-1 0h1.5m14.5 0h1.5m1.5 0h1.5m-.5 0h1.5m7.5 0h1.5m0 0h1.5m17.5 0h1.5m10.5 0h1.5m10 0h1.5m3.5 0h1.5m13 0h1.5m2 0h1.5m13 0h1.5M80.2 199.3h1.5m23.5 0h1.5m7.5 0h1.5m5.5 0h1.5m-1 0h1.5m9.5 0h1.5m0 0h1.5m7 0h1.5m2 0h1.5m1 0h1.5m3.5 0h1.5m10 0h1.5m-1 0h1.5m.5 0h1.5m-.5 0h1.5m7 0h1.5m2.5 0h1.5m0 0h1.5m2.5 0h1.5m9.5 0h1.5m11 0h1.5m9 0h1.5m3 0h1.5m-.5 0h1.5m-1 0h1.5m0 0h1.5m2.5 0h1.5m0 0h1.5m5.5 0h1.5m3.5 0h1.5m-.5 0h1.5m5.5 0h1.5m-1 0h1.5m.5 0h1.5m-.5 0h1.5m-.5 0h1.5m16 0h1.5m-.5 0h1.5m-1 0h1.5m0 0h1.5m8 0h1.5m3.5 0h1.5m2.5 0h1.5m-.5 0h1.5m4.5 0h1.5m-1 0h1.5m-1.5 0h1.5m.5 0h1.5m4 0h1.5m-.5 0h1.5m-.5 0h1.5m-1 0h1.5m-1 0h1.5m-1 0h1.5m-1 0h1.5m-.5 0h1.5m-1 0h1.5m0 0h1.5m-1.5 0h1.5m-1 0h1.5m-1 0h1.5m-1 0h1.5m0 0h1.5m-1.5 0h1.5m-1 0h1.5m-.5 0h1.5m-1.5 0h1.5m0 0h1.5m-.5 0h1.5m-1.5 0h1.5m0 0h1.5m0 0h1.5m-1 0h1.5m.5 0h1.5m-1.5 0h1.5m-1 0h1.5m-.5 0h1.5m-1 0h1.5m-1 0h1.5m-1 0h1.5m-1 0h1.5m-.5 0h1.5m-1 0h1.5m-1 0h1.5m.5 0h1.5m1.5 0h1.5m0 0h1.5m-1.5 0h1.5m-1 0h1.5m-.5 0h1.5m-1 0h1.5m-1.5 0h1.5m6.5 0h1.5m2 0h1.5m2.5 0h1.5m-.5 0h1.5m4.5 0h1.5m1 0h1.5m1 0h1.5m2 0h1.5m-.5 0h1.5m4 0h1.5m-.5 0h1.5m-.5 0h1.5m-.5 0h1.5m1 0h1.5m-1 0h1.5m2 0h1.5m2.5 0h1.5m7 0h1.5m.5 0h1.5m3 0h1.5m9.5 0h1.5m0 0h1.5m-1 0h1.5m2.5 0h1.5m3.5 0h1.5m12 0h1.5m5.5 0h1.5m15 0h1.5m2 0h1.5m12 0h1.5m1 0h1.5m4 0h1.5m38 0h1.5m-.5 0h1.5m2 0h1.5m5.5 0h1.5m0 0h1.5m2 0h1.5m16.5 0h1.5M81.2 197h1.5m9 0h1.5m2.5 0h1.5m2 0h1.5m-1.5 0h1.5m-.5 0h1.5m2.5 0h1.5m6.5 0h1.5m.5 0h1.5m13 0h1.5m6.5 0h1.5m0 0h1.5m8 0h1.5m-1 0h1.5m-.5 0h1.5m0 0h1.5m1.5 0h1.5m-.5 0h1.5m-.5 0h1.5m9 0h1.5m1.5 0h1.5m1 0h1.5m4 0h1.5m7 0h1.5m-1 0h1.5m0 0h1.5m1 0h1.5m7 0h1.5m8 0h1.5m5.5 0h1.5m-.5 0h1.5m2 0h1.5m1 0h1.5m2 0h1.5m-.5 0h1.5m2 0h1.5m0 0h1.5m8 0h1.5m-.5 0h1.5m.5 0h1.5m4 0h1.5m6.5 0h1.5m-1 0h1.5m-1.5 0h1.5m-.5 0h1.5m-1 0h1.5m-.5 0h1.5m1.5 0h1.5m-1 0h1.5m2.5 0h1.5m-1 0h1.5m5.5 0h1.5m2 0h1.5m-1.5 0h1.5m-.5 0h1.5m-1 0h1.5m-1 0h1.5m-.5 0h1.5m0 0h1.5m0 0h1.5m.5 0h1.5m2 0h1.5m0 0h1.5m-1 0h1.5m-.5 0h1.5m-.5 0h1.5m0 0h1.5m4.5 0h1.5m-.5 0h1.5m-1.5 0h1.5m.5 0h1.5m-1.5 0h1.5m7 0h1.5m-.5 0h1.5m-1 0h1.5m-.5 0h1.5m-1.5 0h1.5m-1 0h1.5m-1 0h1.5m-.5 0h1.5m-.5 0h1.5m-1 0h1.5m2 0h1.5m.5 0h1.5m-1.5 0h1.5m-1.5 0h1.5m-.5 0h1.5m-.5 0h1.5m-1.5 0h1.5m0 0h1.5m-1.5 0h1.5m-1 0h1.5m-1 0h1.5m0 0h1.5m-1 0h1.5m-.5 0h1.5m-1 0h1.5m-1 0h1.5m-.5 0h1.5m1.5 0h1.5m-1 0h1.5m-.5 0h1.5m-1 0h1.5m-.5 0h1.5m-1.5 0h1.5m-1 0h1.5m-1.5 0h1.5m.5 0h1.5m.5 0h1.5m0 0h1.5m-1.5 0h1.5m-.5 0h1.5m.5 0h1.5m2 0h1.5m0 0h1.5m-1 0h1.5m11.5 0h1.5m1 0h1.5m.5 0h1.5m4.5 0h1.5m2 0h1.5m0 0h1.5m-1 0h1.5m-1 0h1.5m5 0h1.5m0 0h1.5m.5 0h1.5m1 0h1.5m1 0h1.5m-1.5 0h1.5m7.5 0h1.5m0 0h1.5m.5 0h1.5m1 0h1.5m-.5 0h1.5m11 0h1.5m4.5 0h1.5m8 0h1.5m-1 0h1.5m-1 0h1.5m-.5 0h1.5m2.5 0h1.5m-1 0h1.5m-1.5 0h1.5m13.5 0h1.5m-1 0h1.5m5.5 0h1.5m13 0h1.5m2 0h1.5m6 0h1.5m3 0h1.5m-1 0h1.5m10 0h1.5m16 0h1.5m5.5 0h1.5m7.5 0h1.5m.5 0h1.5m3.5 0h1.5m2.5 0h1.5m5 0h1.5m0 0h1.5m1 0h1.5M88.7 194.7h1.5m-1 0h1.5m3 0h1.5m7 0h1.5m23 0h1.5m10 0h1.5m3 0h1.5m4.5 0h1.5m0 0h1.5m14 0h1.5m-1 0h1.5m-.5 0h1.5m-1 0h1.5m18 0h1.5m3 0h1.5m-1 0h1.5m-.5 0h1.5m14.5 0h1.5m3 0h1.5m6.5 0h1.5m.5 0h1.5m1.5 0h1.5m1.5 0h1.5m2.5 0h1.5m-.5 0h1.5m-.5 0h1.5m-.5 0h1.5m.5 0h1.5m3.5 0h1.5m5.5 0h1.5m1.5 0h1.5m1.5 0h1.5m1 0h1.5m-1.5 0h1.5m-1 0h1.5m0 0h1.5m1 0h1.5m-1.5 0h1.5m2 0h1.5m0 0h1.5m4.5 0h1.5m-1 0h1.5m-.5 0h1.5m-.5 0h1.5m-.5 0h1.5m-1 0h1.5m.5 0h1.5m-1.5 0h1.5m3 0h1.5m-1 0h1.5m2 0h1.5m.5 0h1.5m-.5 0h1.5m-1.5 0h1.5m-.5 0h1.5m0 0h1.5m1.5 0h1.5m2 0h1.5m1.5 0h1.5m1.5 0h1.5m-.5 0h1.5m2.5 0h1.5m-1 0h1.5m-.5 0h1.5m0 0h1.5m-1 0h1.5m2 0h1.5m0 0h1.5m-.5 0h1.5m-.5 0h1.5m-1 0h1.5m-1.5 0h1.5m-1 0h1.5m.5 0h1.5m2 0h1.5m-1.5 0h1.5m1.5 0h1.5m.5 0h1.5m0 0h1.5m-1 0h1.5m-1 0h1.5m.5 0h1.5m-1 0h1.5m-1 0h1.5m0 0h1.5m-1.5 0h1.5m2 0h1.5m1 0h1.5m-1.5 0h1.5m0 0h1.5m-.5 0h1.5m-.5 0h1.5m2 0h1.5m6 0h1.5m0 0h1.5m-1.5 0h1.5m-.5 0h1.5m0 0h1.5m4.5 0h1.5m0 0h1.5m0 0h1.5m-1 0h1.5m4 0h1.5m0 0h1.5m-1.5 0h1.5m0 0h1.5m3 0h1.5m1.5 0h1.5m2 0h1.5m.5 0h1.5m2.5 0h1.5m.5 0h1.5m2 0h1.5m-1.5 0h1.5m11 0h1.5m0 0h1.5m5 0h1.5m0 0h1.5m-1 0h1.5m11 0h1.5m5.5 0h1.5m4.5 0h1.5m3.5 0h1.5m11 0h1.5m9 0h1.5m1 0h1.5m-.5 0h1.5m2 0h1.5m24 0h1.5m12.5 0h1.5m5.5 0h1.5m17 0h1.5m13.5 0h1.5M80.7 192.3h1.5m8.5 0h1.5m22.5 0h1.5m-.5 0h1.5m8 0h1.5m2 0h1.5m2 0h1.5m3 0h1.5m6.5 0h1.5m7 0h1.5m6 0h1.5m-1 0h1.5m20.5 0h1.5m2 0h1.5m12.5 0h1.5m7 0h1.5m.5 0h1.5m6 0h1.5m1.5 0h1.5m-1 0h1.5m2.5 0h1.5m2 0h1.5m1 0h1.5m-1.5 0h1.5m6.5 0h1.5m2 0h1.5m-1.5 0h1.5m2 0h1.5m-1.5 0h1.5m.5 0h1.5m17.5 0h1.5m0 0h1.5m5 0h1.5m1.5 0h1.5m2 0h1.5m-.5 0h1.5m-1 0h1.5m0 0h1.5m-1.5 0h1.5m3.5 0h1.5m.5 0h1.5m-.5 0h1.5m.5 0h1.5m-1 0h1.5m-1 0h1.5m2 0h1.5m5.5 0h1.5m-1.5 0h1.5m.5 0h1.5m0 0h1.5m-1.5 0h1.5m.5 0h1.5m-1.5 0h1.5m-.5 0h1.5m0 0h1.5m-1 0h1.5m-1 0h1.5m-1 0h1.5m-1.5 0h1.5m-1.5 0h1.5m-.5 0h1.5m.5 0h1.5m2.5 0h1.5m-.5 0h1.5m-.5 0h1.5m2.5 0h1.5m-1.5 0h1.5m-.5 0h1.5m-.5 0h1.5m-.5 0h1.5m.5 0h1.5m-1 0h1.5m-1.5 0h1.5m-1 0h1.5m1.5 0h1.5m3.5 0h1.5m-1.5 0h1.5m1.5 0h1.5m1.5 0h1.5m-1 0h1.5m-1 0h1.5m-1 0h1.5m1.5 0h1.5m8 0h1.5m-.5 0h1.5m4.5 0h1.5m-1.5 0h1.5m-.5 0h1.5m0 0h1.5m1 0h1.5m-1.5 0h1.5m0 0h1.5m3 0h1.5m3.5 0h1.5m0 0h1.5m2 0h1.5m1 0h1.5m1.5 0h1.5m4.5 0h1.5m9 0h1.5m5.5 0h1.5m0 0h1.5m2.5 0h1.5m7 0h1.5m11 0h1.5m18 0h1.5m17.5 0h1.5m5.5 0h1.5m2 0h1.5m28 0h1.5m-1.5 0h1.5m3 0h1.5m9 0h1.5m4 0h1.5m13.5 0h1.5m6.5 0h1.5M108.7 190h1.5m1 0h1.5m11.5 0h1.5m2 0h1.5m16.5 0h1.5m7 0h1.5m13 0h1.5m2.5 0h1.5m1.5 0h1.5m6.5 0h1.5m24 0h1.5m1.5 0h1.5m5 0h1.5m-.5 0h1.5m1 0h1.5m.5 0h1.5m.5 0h1.5m-1.5 0h1.5m7 0h1.5m9.5 0h1.5m-.5 0h1.5m4 0h1.5m-1 0h1.5m-.5 0h1.5m6 0h1.5m-.5 0h1.5m.5 0h1.5m2.5 0h1.5m-.5 0h1.5m2 0h1.5m4.5 0h1.5m1.5 0h1.5m-1 0h1.5m0 0h1.5m0 0h1.5m-1.5 0h1.5m-.5 0h1.5m-1 0h1.5m-1.5 0h1.5m1.5 0h1.5m1.5 0h1.5m-1.5 0h1.5m1 0h1.5m-1.5 0h1.5m-.5 0h1.5m2 0h1.5m0 0h1.5m-1.5 0h1.5m-1.5 0h1.5m8 0h1.5m.5 0h1.5m-1 0h1.5m3 0h1.5m0 0h1.5m1 0h1.5m-1.5 0h1.5m.5 0h1.5m-.5 0h1.5m-1 0h1.5m-1.5 0h1.5m-.5 0h1.5m.5 0h1.5m-.5 0h1.5m.5 0h1.5m-1.5 0h1.5m1 0h1.5m-.5 0h1.5m-1 0h1.5m-.5 0h1.5m-1 0h1.5m-1 0h1.5m-.5 0h1.5m.5 0h1.5m-1 0h1.5m-1.5 0h1.5m4.5 0h1.5m1.5 0h1.5m-1.5 0h1.5m1.5 0h1.5m-1 0h1.5m-1.5 0h1.5m0 0h1.5m-.5 0h1.5m3.5 0h1.5m.5 0h1.5m1 0h1.5m2.5 0h1.5m-1.5 0h1.5m2.5 0h1.5m4 0h1.5m-1.5 0h1.5m-.5 0h1.5m.5 0h1.5m5.5 0h1.5m-1 0h1.5m0 0h1.5m3.5 0h1.5m-1 0h1.5m-1 0h1.5m3.5 0h1.5m-1 0h1.5m2 0h1.5m4.5 0h1.5m.5 0h1.5m0 0h1.5m.5 0h1.5m-1 0h1.5m3.5 0h1.5m3.5 0h1.5m-1 0h1.5m-.5 0h1.5m1 0h1.5m-1 0h1.5m0 0h1.5m2.5 0h1.5m21.5 0h1.5m19.5 0h1.5m11 0h1.5m4.5 0h1.5m33 0h1.5m-.5 0h1.5m15.5 0h1.5m4.5 0h1.5m3.5 0h1.5M83.7 187.7h1.5m6.5 0h1.5m12 0h1.5m-1 0h1.5m3.5 0h1.5m8 0h1.5m12 0h1.5m10.5 0h1.5m10 0h1.5m2.5 0h1.5m2 0h1.5m5.5 0h1.5m12 0h1.5m-.5 0h1.5m-1.5 0h1.5m1.5 0h1.5m0 0h1.5m3 0h1.5m-.5 0h1.5m0 0h1.5m1.5 0h1.5m.5 0h1.5m5.5 0h1.5m2.5 0h1.5m4.5 0h1.5m1 0h1.5m0 0h1.5m1 0h1.5m-1 0h1.5m0 0h1.5m2 0h1.5m-1.5 0h1.5m2 0h1.5m10 0h1.5m6.5 0h1.5m2 0h1.5m-1 0h1.5m-1 0h1.5m.5 0h1.5m0 0h1.5m.5 0h1.5m-.5 0h1.5m-.5 0h1.5m0 0h1.5m2.5 0h1.5m4 0h1.5m5.5 0h1.5m-1.5 0h1.5m-.5 0h1.5m.5 0h1.5m-1 0h1.5m.5 0h1.5m-1.5 0h1.5m9 0h1.5m.5 0h1.5m0 0h1.5m-.5 0h1.5m5 0h1.5m-1 0h1.5m-1 0h1.5m.5 0h1.5m-1 0h1.5m.5 0h1.5m-1.5 0h1.5m1.5 0h1.5m-1 0h1.5m-1.5 0h1.5m-1 0h1.5m-1 0h1.5m.5 0h1.5m-.5 0h1.5m1 0h1.5m-1.5 0h1.5m0 0h1.5m0 0h1.5m-1 0h1.5m-.5 0h1.5m-1.5 0h1.5m-.5 0h1.5m-.5 0h1.5m.5 0h1.5m2.5 0h1.5m0 0h1.5m1.5 0h1.5m.5 0h1.5m-.5 0h1.5m-1 0h1.5m3 0h1.5m-1 0h1.5m0 0h1.5m2 0h1.5m-1 0h1.5m-1 0h1.5m-.5 0h1.5m.5 0h1.5m4 0h1.5m2 0h1.5m.5 0h1.5m-.5 0h1.5m6 0h1.5m2 0h1.5m3 0h1.5m-1 0h1.5m.5 0h1.5m1 0h1.5m.5 0h1.5m-1.5 0h1.5m8.5 0h1.5m5 0h1.5m-.5 0h1.5m2.5 0h1.5m1 0h1.5m2.5 0h1.5m8.5 0h1.5m13 0h1.5m21.5 0h1.5m3 0h1.5m.5 0h1.5m3 0h1.5m4.5 0h1.5m22 0h1.5m4 0h1.5m14 0h1.5m1 0h1.5m2.5 0h1.5m12 0h1.5m0 0h1.5m10.5 0h1.5M78.7 185.4h1.5m3.5 0h1.5m17.5 0h1.5m18 0h1.5m12 0h1.5m8.5 0h1.5m3 0h1.5m14 0h1.5m10 0h1.5m2.5 0h1.5m11.5 0h1.5m4 0h1.5m6.5 0h1.5m2 0h1.5m-1 0h1.5m6.5 0h1.5m1 0h1.5m-1 0h1.5m-.5 0h1.5m12 0h1.5m1.5 0h1.5m-1 0h1.5m3 0h1.5m1 0h1.5m.5 0h1.5m5 0h1.5m-.5 0h1.5m3.5 0h1.5m-.5 0h1.5m3 0h1.5m1 0h1.5m1 0h1.5m5.5 0h1.5m-1 0h1.5m-1 0h1.5m10.5 0h1.5m-1.5 0h1.5m2 0h1.5m.5 0h1.5m1 0h1.5m-1 0h1.5m-1.5 0h1.5m0 0h1.5m-.5 0h1.5m1 0h1.5m-1.5 0h1.5m-1 0h1.5m-1 0h1.5m7.5 0h1.5m1 0h1.5m0 0h1.5m1.5 0h1.5m0 0h1.5m1.5 0h1.5m-1 0h1.5m-.5 0h1.5m1.5 0h1.5m-1 0h1.5m-1 0h1.5m-1.5 0h1.5m.5 0h1.5m-1.5 0h1.5m-1 0h1.5m.5 0h1.5m-1 0h1.5m-.5 0h1.5m.5 0h1.5m.5 0h1.5m-.5 0h1.5m1 0h1.5m-1 0h1.5m1 0h1.5m3 0h1.5m7 0h1.5m-1 0h1.5m2 0h1.5m-1.5 0h1.5m2 0h1.5m-1 0h1.5m2.5 0h1.5m-.5 0h1.5m2.5 0h1.5m-.5 0h1.5m-1 0h1.5m3.5 0h1.5m3 0h1.5m4 0h1.5m6 0h1.5m4 0h1.5m2.5 0h1.5m2 0h1.5m4 0h1.5m-.5 0h1.5m0 0h1.5m3.5 0h1.5m-.5 0h1.5m19 0h1.5m1 0h1.5m19 0h1.5m1 0h1.5m.5 0h1.5m14 0h1.5m2 0h1.5m5 0h1.5m1 0h1.5m0 0h1.5m9.5 0h1.5m40 0h1.5m1 0h1.5M84.7 183.1h1.5m8 0h1.5m9 0h1.5m25.5 0h1.5m0 0h1.5m13 0h1.5m-.5 0h1.5m8.5 0h1.5m19 0h1.5m4.5 0h1.5m1 0h1.5m.5 0h1.5m0 0h1.5m3 0h1.5m-1 0h1.5m6.5 0h1.5m2 0h1.5m1 0h1.5m-.5 0h1.5m-1 0h1.5m3 0h1.5m6.5 0h1.5m10 0h1.5m-1 0h1.5m8 0h1.5m1 0h1.5m2 0h1.5m2.5 0h1.5m1.5 0h1.5m3.5 0h1.5m-.5 0h1.5m1 0h1.5m-1 0h1.5m11 0h1.5m1.5 0h1.5m1.5 0h1.5m0 0h1.5m1 0h1.5m-.5 0h1.5m1.5 0h1.5m0 0h1.5m0 0h1.5m2 0h1.5m2.5 0h1.5m1 0h1.5m.5 0h1.5m2.5 0h1.5m2.5 0h1.5m1.5 0h1.5m-1 0h1.5m-1 0h1.5m-1.5 0h1.5m-1.5 0h1.5m0 0h1.5m-1 0h1.5m-1 0h1.5m-1 0h1.5m-1 0h1.5m-1.5 0h1.5m-1.5 0h1.5m.5 0h1.5m0 0h1.5m.5 0h1.5m.5 0h1.5m.5 0h1.5m-1.5 0h1.5m-1 0h1.5m-1.5 0h1.5m1 0h1.5m-1.5 0h1.5m-1 0h1.5m2 0h1.5m2 0h1.5m-1.5 0h1.5m-.5 0h1.5m1.5 0h1.5m-1 0h1.5m1 0h1.5m-1.5 0h1.5m2 0h1.5m0 0h1.5m-1 0h1.5m0 0h1.5m11.5 0h1.5m.5 0h1.5m10.5 0h1.5m5.5 0h1.5m3.5 0h1.5m4 0h1.5m1 0h1.5m2 0h1.5m9.5 0h1.5m12 0h1.5m2.5 0h1.5m8 0h1.5m9.5 0h1.5m14 0h1.5m-1 0h1.5m5.5 0h1.5m22.5 0h1.5m15.5 0h1.5m10.5 0h1.5m2.5 0h1.5m31.5 0h1.5M78.2 180.8h1.5m0 0h1.5m29.5 0h1.5m1 0h1.5m1.5 0h1.5m3 0h1.5m5.5 0h1.5m5.5 0h1.5m19.5 0h1.5m-1.5 0h1.5m4 0h1.5m1.5 0h1.5m0 0h1.5m18 0h1.5m2 0h1.5m-.5 0h1.5m.5 0h1.5m3.5 0h1.5m0 0h1.5m0 0h1.5m1 0h1.5m5 0h1.5m3.5 0h1.5m-1.5 0h1.5m-1 0h1.5m3 0h1.5m7 0h1.5m3.5 0h1.5m-1 0h1.5m12 0h1.5m3.5 0h1.5m4.5 0h1.5m4 0h1.5m-1 0h1.5m-.5 0h1.5m1.5 0h1.5m19.5 0h1.5m1.5 0h1.5m-1 0h1.5m1.5 0h1.5m4 0h1.5m3.5 0h1.5m2 0h1.5m1 0h1.5m-1 0h1.5m-.5 0h1.5m1.5 0h1.5m1 0h1.5m1.5 0h1.5m-1.5 0h1.5m1 0h1.5m2 0h1.5m-.5 0h1.5m1.5 0h1.5m0 0h1.5m-.5 0h1.5m-1.5 0h1.5m-.5 0h1.5m.5 0h1.5m-1 0h1.5m0 0h1.5m0 0h1.5m.5 0h1.5m-1 0h1.5m0 0h1.5m-1 0h1.5m2.5 0h1.5m1 0h1.5m2.5 0h1.5m1 0h1.5m0 0h1.5m-1.5 0h1.5m4 0h1.5m-1 0h1.5m6 0h1.5m-1 0h1.5m.5 0h1.5m-1.5 0h1.5m.5 0h1.5m-.5 0h1.5m-1.5 0h1.5m1 0h1.5m2 0h1.5m11 0h1.5m2 0h1.5m0 0h1.5m13 0h1.5m2 0h1.5m3 0h1.5m13 0h1.5m4.5 0h1.5m-1 0h1.5m-.5 0h1.5m3.5 0h1.5m8.5 0h1.5m22 0h1.5m24 0h1.5m16.5 0h1.5m-1 0h1.5m5 0h1.5m2.5 0h1.5m7 0h1.5M78.7 178.5h1.5m35.5 0h1.5m2 0h1.5m15.5 0h1.5m1.5 0h1.5m39.5 0h1.5m9 0h1.5m13 0h1.5m3.5 0h1.5m12 0h1.5m1 0h1.5m-.5 0h1.5m3.5 0h1.5m1 0h1.5m0 0h1.5m-1 0h1.5m10 0h1.5m3.5 0h1.5m2 0h1.5m-.5 0h1.5m0 0h1.5m7 0h1.5m6.5 0h1.5m-1 0h1.5m10.5 0h1.5m7 0h1.5m7 0h1.5m-.5 0h1.5m-.5 0h1.5m1 0h1.5m2 0h1.5m.5 0h1.5m-1 0h1.5m0 0h1.5m-1.5 0h1.5m-.5 0h1.5m-1.5 0h1.5m2 0h1.5m1 0h1.5m-.5 0h1.5m-.5 0h1.5m-.5 0h1.5m-1 0h1.5m0 0h1.5m-1 0h1.5m0 0h1.5m-.5 0h1.5m-1 0h1.5m-.5 0h1.5m1 0h1.5m.5 0h1.5m0 0h1.5m-.5 0h1.5m2.5 0h1.5m1 0h1.5m4 0h1.5m1.5 0h1.5m2 0h1.5m1 0h1.5m2.5 0h1.5m6.5 0h1.5m8 0h1.5m0 0h1.5m0 0h1.5m22 0h1.5m12 0h1.5m5.5 0h1.5m4.5 0h1.5m15.5 0h1.5m6 0h1.5m18.5 0h1.5m4.5 0h1.5m23.5 0h1.5m6.5 0h1.5m6 0h1.5m-.5 0h1.5m12.5 0h1.5m2 0h1.5m13.5 0h1.5m1 0h1.5M99.2 176.2h1.5m2.5 0h1.5m49 0h1.5m23 0h1.5m1 0h1.5m46.5 0h1.5m4.5 0h1.5m16 0h1.5m-1 0h1.5m-1 0h1.5m-1 0h1.5m.5 0h1.5m3 0h1.5m0 0h1.5m3.5 0h1.5m-1.5 0h1.5m3 0h1.5m-.5 0h1.5m1.5 0h1.5m3.5 0h1.5m5.5 0h1.5m.5 0h1.5m-.5 0h1.5m3 0h1.5m-1.5 0h1.5m1.5 0h1.5m5.5 0h1.5m-1 0h1.5m0 0h1.5m-1 0h1.5m-1 0h1.5m1 0h1.5m2.5 0h1.5m-1 0h1.5m-1 0h1.5m1.5 0h1.5m-1.5 0h1.5m-.5 0h1.5m-1 0h1.5m-.5 0h1.5m-1 0h1.5m-1 0h1.5m0 0h1.5m.5 0h1.5m3 0h1.5m.5 0h1.5m-1 0h1.5m1 0h1.5m-1.5 0h1.5m5 0h1.5m.5 0h1.5m4 0h1.5m4 0h1.5m2 0h1.5m-1 0h1.5m8.5 0h1.5m3 0h1.5m2 0h1.5m3 0h1.5m-1 0h1.5m1 0h1.5m2.5 0h1.5m-1.5 0h1.5m-1 0h1.5m6.5 0h1.5m5.5 0h1.5m10 0h1.5m-1.5 0h1.5m3 0h1.5m10.5 0h1.5m.5 0h1.5m-.5 0h1.5m16.5 0h1.5m-1 0h1.5m-1 0h1.5m0 0h1.5m13 0h1.5m-1.5 0h1.5m6 0h1.5m30 0h1.5m6.5 0h1.5m22 0h1.5m6.5 0h1.5m12.5 0h1.5m4.5 0h1.5M92.2 173.8h1.5m6 0h1.5m1.5 0h1.5m3.5 0h1.5m19.5 0h1.5m-1 0h1.5m30.5 0h1.5m20.5 0h1.5m16.5 0h1.5m13 0h1.5m10.5 0h1.5m19.5 0h1.5m9 0h1.5m2.5 0h1.5m5.5 0h1.5m-1 0h1.5m0 0h1.5m-1 0h1.5m3 0h1.5m1.5 0h1.5m-1 0h1.5m1.5 0h1.5m11 0h1.5m-.5 0h1.5m0 0h1.5m.5 0h1.5m2 0h1.5m5.5 0h1.5m-1.5 0h1.5m1.5 0h1.5m-1 0h1.5m4 0h1.5m-.5 0h1.5m-1.5 0h1.5m2 0h1.5m-1 0h1.5m-1 0h1.5m-.5 0h1.5m-1.5 0h1.5m0 0h1.5m-.5 0h1.5m0 0h1.5m-1.5 0h1.5m-1.5 0h1.5m-.5 0h1.5m-1.5 0h1.5m-.5 0h1.5m0 0h1.5m2 0h1.5m-.5 0h1.5m0 0h1.5m1 0h1.5m-1 0h1.5m6 0h1.5m6 0h1.5m1 0h1.5m-1 0h1.5m4 0h1.5m-1 0h1.5m1.5 0h1.5m2.5 0h1.5m1.5 0h1.5m-.5 0h1.5m-1 0h1.5m4 0h1.5m-1.5 0h1.5m4 0h1.5m2.5 0h1.5m3 0h1.5m25 0h1.5m4.5 0h1.5m7 0h1.5m3 0h1.5m.5 0h1.5m-1 0h1.5m18 0h1.5m2.5 0h1.5m0 0h1.5m1.5 0h1.5m1.5 0h1.5m-1 0h1.5m27.5 0h1.5m7.5 0h1.5m1 0h1.5m0 0h1.5m1.5 0h1.5m7.5 0h1.5m5 0h1.5M89.7 171.5h1.5m-1 0h1.5m30 0h1.5m5 0h1.5m23 0h1.5m16 0h1.5m-.5 0h1.5m-.5 0h1.5m3 0h1.5m56.5 0h1.5m-1 0h1.5m7.5 0h1.5m.5 0h1.5m10.5 0h1.5m0 0h1.5m-1 0h1.5m-1 0h1.5m-1 0h1.5m1 0h1.5m7.5 0h1.5m4.5 0h1.5m-.5 0h1.5m1.5 0h1.5m6.5 0h1.5m3.5 0h1.5m1 0h1.5m.5 0h1.5m2.5 0h1.5m-.5 0h1.5m-1 0h1.5m1.5 0h1.5m1 0h1.5m2.5 0h1.5m-.5 0h1.5m-1 0h1.5m1 0h1.5m.5 0h1.5m2 0h1.5m-1 0h1.5m0 0h1.5m-.5 0h1.5m-1 0h1.5m-1.5 0h1.5m2 0h1.5m-.5 0h1.5m1 0h1.5m3 0h1.5m-1 0h1.5m1 0h1.5m0 0h1.5m8.5 0h1.5m-.5 0h1.5m2.5 0h1.5m0 0h1.5m-1 0h1.5m4 0h1.5m3 0h1.5m0 0h1.5m2.5 0h1.5m9.5 0h1.5m-.5 0h1.5m33.5 0h1.5m8 0h1.5m-1 0h1.5m44.5 0h1.5m11.5 0h1.5m2.5 0h1.5m5.5 0h1.5m7.5 0h1.5m.5 0h1.5m17 0h1.5m1.5 0h1.5m-1.5 0h1.5m3 0h1.5m-1.5 0h1.5m19.5 0h1.5m2.5 0h1.5M97.2 169.2h1.5m15.5 0h1.5m12 0h1.5m23.5 0h1.5m1.5 0h1.5m-.5 0h1.5m21 0h1.5m0 0h1.5m-1.5 0h1.5m8.5 0h1.5m7.5 0h1.5m22.5 0h1.5m12.5 0h1.5m5 0h1.5m2.5 0h1.5m-1.5 0h1.5m7 0h1.5m-1.5 0h1.5m12 0h1.5m2 0h1.5m-1 0h1.5m5 0h1.5m8.5 0h1.5m0 0h1.5m3.5 0h1.5m3 0h1.5m.5 0h1.5m-.5 0h1.5m2 0h1.5m-1.5 0h1.5m6 0h1.5m-1 0h1.5m.5 0h1.5m-1.5 0h1.5m-.5 0h1.5m-.5 0h1.5m-1 0h1.5m-.5 0h1.5m0 0h1.5m-1 0h1.5m3 0h1.5m-1 0h1.5m-1 0h1.5m0 0h1.5m.5 0h1.5m.5 0h1.5m-1 0h1.5m-1.5 0h1.5m-1.5 0h1.5m-1 0h1.5m-1 0h1.5m2.5 0h1.5m-1.5 0h1.5m6.5 0h1.5m-1.5 0h1.5m9.5 0h1.5m5 0h1.5m0 0h1.5m1.5 0h1.5m1.5 0h1.5m1.5 0h1.5m8.5 0h1.5m1.5 0h1.5m11 0h1.5m0 0h1.5m5.5 0h1.5m2 0h1.5m3.5 0h1.5m-.5 0h1.5m15 0h1.5m5 0h1.5m1 0h1.5m5 0h1.5m10.5 0h1.5m12 0h1.5m51 0h1.5m3 0h1.5m13 0h1.5M85.7 166.9h1.5m49.5 0h1.5m20 0h1.5m21 0h1.5m13 0h1.5m1 0h1.5m2 0h1.5m18.5 0h1.5m27.5 0h1.5m12 0h1.5m7 0h1.5m0 0h1.5m0 0h1.5m3 0h1.5m-1.5 0h1.5m2.5 0h1.5m5.5 0h1.5m-.5 0h1.5m-1 0h1.5m2 0h1.5m-1 0h1.5m0 0h1.5m-1.5 0h1.5m-1.5 0h1.5m-.5 0h1.5m0 0h1.5m2.5 0h1.5m4 0h1.5m-1 0h1.5m3.5 0h1.5m.5 0h1.5m-1 0h1.5m0 0h1.5m-1 0h1.5m-1 0h1.5m-1 0h1.5m-1.5 0h1.5m4.5 0h1.5m0 0h1.5m1.5 0h1.5m0 0h1.5m0 0h1.5m.5 0h1.5m-.5 0h1.5m12.5 0h1.5m-.5 0h1.5m-1 0h1.5m0 0h1.5m-.5 0h1.5m1.5 0h1.5m15 0h1.5m3 0h1.5m10.5 0h1.5m5.5 0h1.5m9 0h1.5m.5 0h1.5m2.5 0h1.5m18.5 0h1.5m20 0h1.5m29.5 0h1.5m64 0h1.5M80.7 164.6h1.5m29 0h1.5m33.5 0h1.5m41 0h1.5m7.5 0h1.5m17 0h1.5m19.5 0h1.5m-1 0h1.5m18.5 0h1.5m-.5 0h1.5m3 0h1.5m1.5 0h1.5m-1.5 0h1.5m.5 0h1.5m0 0h1.5m26 0h1.5m-1 0h1.5m3.5 0h1.5m-.5 0h1.5m-1.5 0h1.5m1.5 0h1.5m-1 0h1.5m-1.5 0h1.5m-1.5 0h1.5m7 0h1.5m-1.5 0h1.5m-.5 0h1.5m-1.5 0h1.5m1 0h1.5m2.5 0h1.5m1.5 0h1.5m.5 0h1.5m-1 0h1.5m0 0h1.5m.5 0h1.5m.5 0h1.5m1.5 0h1.5m.5 0h1.5m0 0h1.5m0 0h1.5m-1.5 0h1.5m-.5 0h1.5m-1 0h1.5m2 0h1.5m.5 0h1.5m0 0h1.5m-1 0h1.5m13 0h1.5m.5 0h1.5m16 0h1.5m1 0h1.5m3.5 0h1.5m6 0h1.5m7.5 0h1.5m9.5 0h1.5m1.5 0h1.5m9.5 0h1.5m9.5 0h1.5m2 0h1.5m4.5 0h1.5m12.5 0h1.5m9 0h1.5m1 0h1.5m5 0h1.5m2 0h1.5m13 0h1.5m27 0h1.5m29 0h1.5M106.7 162.3h1.5m34.5 0h1.5m14.5 0h1.5m1 0h1.5m16.5 0h1.5m10 0h1.5m30.5 0h1.5m5 0h1.5m8.5 0h1.5m-1 0h1.5m.5 0h1.5m13 0h1.5m10.5 0h1.5m1.5 0h1.5m0 0h1.5m19 0h1.5m-1 0h1.5m-1 0h1.5m4.5 0h1.5m2 0h1.5m11 0h1.5m0 0h1.5m-.5 0h1.5m-1 0h1.5m-1 0h1.5m-.5 0h1.5m-.5 0h1.5m0 0h1.5m-1.5 0h1.5m0 0h1.5m-1 0h1.5m.5 0h1.5m0 0h1.5m-1 0h1.5m1.5 0h1.5m-.5 0h1.5m-1 0h1.5m-1 0h1.5m.5 0h1.5m0 0h1.5m5.5 0h1.5m-1 0h1.5m-.5 0h1.5m0 0h1.5m-1.5 0h1.5m2 0h1.5m20 0h1.5m-1 0h1.5m-.5 0h1.5m6.5 0h1.5m-.5 0h1.5m2 0h1.5m8.5 0h1.5m0 0h1.5m-.5 0h1.5m1 0h1.5m17 0h1.5m-1 0h1.5m3 0h1.5m13.5 0h1.5m58.5 0h1.5M83.7 160h1.5m29 0h1.5m0 0h1.5m19.5 0h1.5m11.5 0h1.5m27 0h1.5m0 0h1.5m3 0h1.5m22 0h1.5m8.5 0h1.5m7.5 0h1.5m22 0h1.5m37.5 0h1.5m9.5 0h1.5m.5 0h1.5m1 0h1.5m-1.5 0h1.5m-1.5 0h1.5m6 0h1.5m0 0h1.5m0 0h1.5m-1 0h1.5m-1 0h1.5m1.5 0h1.5m-.5 0h1.5m0 0h1.5m-.5 0h1.5m-1 0h1.5m-1.5 0h1.5m-.5 0h1.5m2.5 0h1.5m0 0h1.5m3 0h1.5m-1 0h1.5m1 0h1.5m-1 0h1.5m3 0h1.5m2 0h1.5m1 0h1.5m6 0h1.5m12 0h1.5m3.5 0h1.5m-.5 0h1.5m2 0h1.5m7 0h1.5m5.5 0h1.5m-.5 0h1.5m-1.5 0h1.5m12 0h1.5m28.5 0h1.5m-1 0h1.5m3 0h1.5m23 0h1.5m-.5 0h1.5m32 0h1.5m-.5 0h1.5m34 0h1.5m-.5 0h1.5m1.5 0h1.5M84.2 157.6h1.5m8.5 0h1.5m139.5 0h1.5m-.5 0h1.5m1.5 0h1.5m3 0h1.5m0 0h1.5m3.5 0h1.5m2 0h1.5m7 0h1.5m25.5 0h1.5m-.5 0h1.5m-1 0h1.5m.5 0h1.5m9.5 0h1.5m-.5 0h1.5m-.5 0h1.5m-1.5 0h1.5m.5 0h1.5m-1 0h1.5m5 0h1.5m0 0h1.5m2.5 0h1.5m1 0h1.5m.5 0h1.5m-.5 0h1.5m-1.5 0h1.5m0 0h1.5m1 0h1.5m0 0h1.5m1 0h1.5m.5 0h1.5m-1 0h1.5m-.5 0h1.5m-.5 0h1.5m0 0h1.5m-.5 0h1.5m-1 0h1.5m0 0h1.5m-.5 0h1.5m-.5 0h1.5m2.5 0h1.5m22 0h1.5m-1 0h1.5m10.5 0h1.5m1.5 0h1.5m5.5 0h1.5m16.5 0h1.5m-1.5 0h1.5m46.5 0h1.5m5 0h1.5m80.5 0h1.5M108.2 155.3h1.5m9 0h1.5m-1 0h1.5m39.5 0h1.5m22 0h1.5m5 0h1.5m18 0h1.5m8.5 0h1.5m14.5 0h1.5m19 0h1.5m1.5 0h1.5m1 0h1.5m-.5 0h1.5m-1.5 0h1.5m4.5 0h1.5m2.5 0h1.5m13 0h1.5m0 0h1.5m5 0h1.5m1.5 0h1.5m1 0h1.5m-.5 0h1.5m-1 0h1.5m6.5 0h1.5m-.5 0h1.5m-.5 0h1.5m.5 0h1.5m1.5 0h1.5m-.5 0h1.5m1 0h1.5m1 0h1.5m-.5 0h1.5m0 0h1.5m2.5 0h1.5m-1 0h1.5m25 0h1.5m2.5 0h1.5m1 0h1.5m7.5 0h1.5m0 0h1.5m13 0h1.5m14 0h1.5m0 0h1.5m14 0h1.5m3 0h1.5m8 0h1.5m6.5 0h1.5m11 0h1.5m29 0h1.5m7.5 0h1.5m28 0h1.5m-.5 0h1.5M81.7 153h1.5m9.5 0h1.5m2 0h1.5m2 0h1.5m-.5 0h1.5m2.5 0h1.5m17.5 0h1.5m2 0h1.5m7 0h1.5m12 0h1.5m9 0h1.5m6.5 0h1.5m-.5 0h1.5m56 0h1.5m13.5 0h1.5m6 0h1.5m0 0h1.5m12.5 0h1.5m5.5 0h1.5m.5 0h1.5m-.5 0h1.5m18 0h1.5m-1.5 0h1.5m-1 0h1.5m5 0h1.5m4 0h1.5m.5 0h1.5m5.5 0h1.5m-1 0h1.5m-1.5 0h1.5m-1.5 0h1.5m0 0h1.5m1.5 0h1.5m.5 0h1.5m-1 0h1.5m-1 0h1.5m-1 0h1.5m-.5 0h1.5m-1 0h1.5m6 0h1.5m1.5 0h1.5m-1.5 0h1.5m1 0h1.5m2 0h1.5m-1 0h1.5m2.5 0h1.5m10 0h1.5m10 0h1.5m1.5 0h1.5m22 0h1.5m9.5 0h1.5m5.5 0h1.5m7.5 0h1.5m10 0h1.5m12 0h1.5m8 0h1.5m36.5 0h1.5M122.7 150.7h1.5m65 0h1.5m.5 0h1.5m1.5 0h1.5m1 0h1.5m13.5 0h1.5m4.5 0h1.5m2 0h1.5m4.5 0h1.5m19.5 0h1.5m30.5 0h1.5m-1 0h1.5m.5 0h1.5m6.5 0h1.5m0 0h1.5m7 0h1.5m0 0h1.5m0 0h1.5m0 0h1.5m4.5 0h1.5m.5 0h1.5m.5 0h1.5m2.5 0h1.5m1 0h1.5m-.5 0h1.5m1 0h1.5m-1 0h1.5m-.5 0h1.5m-.5 0h1.5m-1 0h1.5m1 0h1.5m-1.5 0h1.5m0 0h1.5m-1.5 0h1.5m0 0h1.5m0 0h1.5m5 0h1.5m.5 0h1.5m12 0h1.5m10 0h1.5m3.5 0h1.5m2.5 0h1.5m0 0h1.5m3 0h1.5m42 0h1.5m10.5 0h1.5m80 0h1.5m29 0h1.5M92.7 148.4h1.5m28 0h1.5m12 0h1.5m-1.5 0h1.5m38.5 0h1.5m0 0h1.5m60.5 0h1.5m-1 0h1.5m19 0h1.5m5.5 0h1.5m.5 0h1.5m8.5 0h1.5m11 0h1.5m1.5 0h1.5m.5 0h1.5m-.5 0h1.5m-.5 0h1.5m.5 0h1.5m-1 0h1.5m6 0h1.5m1.5 0h1.5m-1 0h1.5m-.5 0h1.5m-.5 0h1.5m-1.5 0h1.5m-1 0h1.5m-1.5 0h1.5m-1.5 0h1.5m4.5 0h1.5m-1.5 0h1.5m-1 0h1.5m-.5 0h1.5m5.5 0h1.5m.5 0h1.5m3.5 0h1.5m-.5 0h1.5m-1 0h1.5m-1 0h1.5m3.5 0h1.5m7.5 0h1.5m11 0h1.5m2 0h1.5m-1 0h1.5m1 0h1.5m3.5 0h1.5m6.5 0h1.5m7.5 0h1.5m4.5 0h1.5m22.5 0h1.5m-1 0h1.5m16 0h1.5m1.5 0h1.5m41.5 0h1.5m2 0h1.5m6.5 0h1.5m70.5 0h1.5M106.2 146.1h1.5m4.5 0h1.5m14 0h1.5m57 0h1.5m13.5 0h1.5m17.5 0h1.5m-1 0h1.5m11 0h1.5m0 0h1.5m6.5 0h1.5m35.5 0h1.5m-1.5 0h1.5m12 0h1.5m4 0h1.5m2.5 0h1.5m5.5 0h1.5m1 0h1.5m1 0h1.5m3 0h1.5m-1.5 0h1.5m15 0h1.5m3 0h1.5m8.5 0h1.5m2.5 0h1.5m6 0h1.5m1 0h1.5m17.5 0h1.5m10 0h1.5m12.5 0h1.5m38.5 0h1.5m27 0h1.5m79.5 0h1.5M89.2 143.8h1.5m34 0h1.5m6.5 0h1.5m28 0h1.5m11 0h1.5m18 0h1.5m19 0h1.5m10.5 0h1.5m43 0h1.5m21 0h1.5m6.5 0h1.5m3 0h1.5m2 0h1.5m5 0h1.5m2 0h1.5m-1.5 0h1.5m-1 0h1.5m2.5 0h1.5m.5 0h1.5m4.5 0h1.5m-1 0h1.5m-1.5 0h1.5m.5 0h1.5m-.5 0h1.5m-1 0h1.5m-.5 0h1.5m0 0h1.5m0 0h1.5m11.5 0h1.5m2 0h1.5m3 0h1.5m6 0h1.5m-1 0h1.5m6.5 0h1.5m4 0h1.5m-1 0h1.5m2.5 0h1.5m3.5 0h1.5m0 0h1.5m5 0h1.5m2.5 0h1.5m4.5 0h1.5m8.5 0h1.5m120.5 0h1.5M100.7 141.4h1.5m21.5 0h1.5m4.5 0h1.5m14 0h1.5m7 0h1.5m-1.5 0h1.5m45.5 0h1.5m2 0h1.5m-.5 0h1.5m1 0h1.5m6.5 0h1.5m3 0h1.5m6 0h1.5m21.5 0h1.5m3.5 0h1.5m7 0h1.5m25 0h1.5m14.5 0h1.5m-1 0h1.5m-1 0h1.5m.5 0h1.5m2.5 0h1.5m4 0h1.5m-1 0h1.5m-1 0h1.5m-1 0h1.5m2 0h1.5m-.5 0h1.5m1 0h1.5m-1 0h1.5m-.5 0h1.5m9.5 0h1.5m0 0h1.5m4 0h1.5m-1 0h1.5m1 0h1.5m4 0h1.5m26 0h1.5m2.5 0h1.5m1.5 0h1.5m55.5 0h1.5m12.5 0h1.5m0 0h1.5m47 0h1.5m2.5 0h1.5m2.5 0h1.5m9.5 0h1.5m10.5 0h1.5M101.2 139.1h1.5m5 0h1.5m30.5 0h1.5m44.5 0h1.5m-1.5 0h1.5m13 0h1.5m24.5 0h1.5m47.5 0h1.5m-1 0h1.5m23 0h1.5m3 0h1.5m1 0h1.5m4 0h1.5m.5 0h1.5m-.5 0h1.5m-.5 0h1.5m-.5 0h1.5m3.5 0h1.5m3.5 0h1.5m7 0h1.5m4 0h1.5m15 0h1.5m-1 0h1.5m7 0h1.5m18 0h1.5m16 0h1.5m3.5 0h1.5m31 0h1.5m0 0h1.5m125 0h1.5M95.7 136.8h1.5m60 0h1.5m13.5 0h1.5m-.5 0h1.5m33 0h1.5m26 0h1.5m27 0h1.5m.5 0h1.5m7.5 0h1.5m.5 0h1.5m15.5 0h1.5m-1 0h1.5m17 0h1.5m-1 0h1.5m7 0h1.5m-.5 0h1.5m0 0h1.5m4 0h1.5m-1 0h1.5m-1 0h1.5m.5 0h1.5m2 0h1.5m-.5 0h1.5m.5 0h1.5m2.5 0h1.5m12.5 0h1.5m15 0h1.5m16 0h1.5m9.5 0h1.5m145 0h1.5M120.7 134.5h1.5m0 0h1.5m16.5 0h1.5m3 0h1.5m35.5 0h1.5m13 0h1.5m23.5 0h1.5m11.5 0h1.5m13.5 0h1.5m-1.5 0h1.5m42 0h1.5m6 0h1.5m2.5 0h1.5m2.5 0h1.5m5 0h1.5m-1.5 0h1.5m17.5 0h1.5m30.5 0h1.5m17.5 0h1.5m4 0h1.5m.5 0h1.5m-1 0h1.5m25.5 0h1.5m25 0h1.5m9 0h1.5m7.5 0h1.5m19 0h1.5m75.5 0h1.5M97.7 132.2h1.5m49 0h1.5m37 0h1.5m42 0h1.5m2.5 0h1.5m25 0h1.5m14 0h1.5m17.5 0h1.5m18 0h1.5m0 0h1.5m-.5 0h1.5m2 0h1.5m1.5 0h1.5m8 0h1.5m2.5 0h1.5m-.5 0h1.5m1 0h1.5m1.5 0h1.5m3.5 0h1.5m14 0h1.5m2 0h1.5m3.5 0h1.5m5.5 0h1.5m4 0h1.5m12 0h1.5m11 0h1.5m3.5 0h1.5m24.5 0h1.5m49 0h1.5m15.5 0h1.5M85.7 129.9h1.5m44.5 0h1.5m68 0h1.5m4 0h1.5m28.5 0h1.5m0 0h1.5m25 0h1.5m26.5 0h1.5m19 0h1.5m4 0h1.5m1 0h1.5m4 0h1.5m6 0h1.5m10.5 0h1.5m1.5 0h1.5m6 0h1.5m12 0h1.5m44.5 0h1.5m68 0h1.5M99.2 127.6h1.5m40 0h1.5m54.5 0h1.5m47.5 0h1.5m9 0h1.5m19 0h1.5m9 0h1.5m8 0h1.5m3.5 0h1.5m13 0h1.5m5.5 0h1.5m4 0h1.5m6 0h1.5m0 0h1.5m2 0h1.5m1 0h1.5m8.5 0h1.5m11 0h1.5m6 0h1.5m10 0h1.5m103 0h1.5M82.2 125.2h1.5m75 0h1.5m16 0h1.5m128.5 0h1.5m-1.5 0h1.5m0 0h1.5m-1.5 0h1.5m6 0h1.5m-.5 0h1.5m3 0h1.5m-.5 0h1.5m5 0h1.5m11 0h1.5m5 0h1.5m24.5 0h1.5m-1 0h1.5m17 0h1.5m38 0h1.5m21 0h1.5m25 0h1.5m63 0h1.5M196.7 122.9h1.5m93.5 0h1.5m10 0h1.5m1 0h1.5m14.5 0h1.5m-1 0h1.5m3 0h1.5m1 0h1.5m1.5 0h1.5m2 0h1.5m-1 0h1.5m-1 0h1.5m1.5 0h1.5m98 0h1.5m2 0h1.5M201.7 120.6h1.5m6.5 0h1.5m21 0h1.5m45 0h1.5m31.5 0h1.5m4.5 0h1.5m4 0h1.5m0 0h1.5m-1 0h1.5m0 0h1.5m4.5 0h1.5m3 0h1.5m11 0h1.5m1.5 0h1.5m10 0h1.5m98.5 0h1.5m64 0h1.5M107.7 118.3h1.5m16.5 0h1.5m54.5 0h1.5m45.5 0h1.5m28 0h1.5m43.5 0h1.5m0 0h1.5m8.5 0h1.5m4.5 0h1.5m6 0h1.5m23.5 0h1.5m.5 0h1.5m18.5 0h1.5m2 0h1.5m34 0h1.5M224.2 116h1.5m18 0h1.5m49.5 0h1.5m1.5 0h1.5m17.5 0h1.5m1 0h1.5m-1 0h1.5m6 0h1.5m70.5 0h1.5m24 0h1.5m36.5 0h1.5M260.7 113.7h1.5m1 0h1.5m21 0h1.5m32 0h1.5m1 0h1.5m21 0h1.5m1.5 0h1.5m201 0h1.5M100.2 111.4h1.5m72 0h1.5m131 0h1.5m3 0h1.5m11.5 0h1.5m-1.5 0h1.5m32 0h1.5m-1.5 0h1.5m3 0h1.5m21.5 0h1.5m-1 0h1.5M81.7 109h1.5m43 0h1.5m101 0h1.5m68.5 0h1.5m27.5 0h1.5m-.5 0h1.5m-1.5 0h1.5m-.5 0h1.5m0 0h1.5m3 0h1.5m22.5 0h1.5m23 0h1.5m3.5 0h1.5m152 0h1.5M178.2 106.7h1.5m34.5 0h1.5m47.5 0h1.5m8 0h1.5m19.5 0h1.5m2 0h1.5m4.5 0h1.5m5 0h1.5m1.5 0h1.5m13.5 0h1.5m13.5 0h1.5m-1 0h1.5M107.7 104.4h1.5m141 0h1.5m36.5 0h1.5m27 0h1.5m-1 0h1.5m1 0h1.5m1.5 0h1.5m4.5 0h1.5m14 0h1.5m34.5 0h1.5M130.7 102.1h1.5m50.5 0h1.5m20.5 0h1.5m58.5 0h1.5m8 0h1.5m14 0h1.5m4.5 0h1.5m18 0h1.5m14 0h1.5m3.5 0h1.5m2.5 0h1.5m47.5 0h1.5M260.2 99.8h1.5m61 0h1.5m11 0h1.5m25 0h1.5m4.5 0h1.5M249.7 97.5h1.5m32 0h1.5m1.5 0h1.5m21 0h1.5m8.5 0h1.5m8 0h1.5m9 0h1.5m19.5 0h1.5m68 0h1.5m118 0h1.5M161.2 95.2h1.5m78 0h1.5m52 0h1.5m40 0h1.5m95.5 0h1.5M185.7 92.9h1.5m42.5 0h1.5m15.5 0h1.5m64 0h1.5m1.5 0h1.5m11 0h1.5m4 0h1.5m6 0h1.5m14.5 0h1.5m59.5 0h1.5M324.2 90.5h1.5m1 0h1.5m-.5 0h1.5m24.5 0h1.5M291.7 88.2h1.5m19.5 0h1.5m100.5 0h1.5M80.2 85.9h1.5m195 0h1.5m27.5 0h1.5m6.5 0h1.5m221 0h1.5M312.7 83.6h1.5m35.5 0h1.5M317.2 81.3h1.5m4 0h1.5M312.7 79h1.5M252.7 76.7h1.5m35.5 0h1.5m21.5 0h1.5m6 0h1.5M278.7 74.3h1.5m14 0h1.5m21 0h1.5m14 0h1.5M367.7 72h1.5m6 0h1.5M140.7 69.7h1.5m170 0h1.5M326.7 67.4h1.5" stroke="#000" stroke-width="1.5" fill="none"/>
<path d="M59.76 358.95L592.19 358.95" stroke="#cd1414" stroke-width="2.25" stroke-dasharray="9 9" stroke-linecap="round" fill="none"/>
<path d="M301.71 580.24L301.71 47.81" stroke="#006400" stroke-width="2.25" stroke-dasharray="9 9" stroke-linecap="round" fill="none"/>
<path d="M349.21 580.24L349.21 47.81" stroke="#006400" stroke-width="2.25" stroke-dasharray="9 9" stroke-linecap="round" fill="none"/>
<rect x="59.76" y="47.81" width="532.43" height="532.43" fill="none" stroke="#000" stroke-width=".75" stroke-linejoin="round"/>
<path d="M125.46 580.24H525.46M125.46 580.24v5.98M225.46 580.24v5.98M325.46 580.24v5.98M425.46 580.24v5.98M525.46 580.24v5.98M59.76 62.77V525.55M59.76 525.55h-5.98M59.76 409.85h-5.98M59.76 294.16h-5.98M59.76 178.46h-5.98M59.76 62.77h-5.98" stroke="#000" stroke-width=".75" fill="none"/>
<text transform="translate(125.46 601.75) rotate(0) scale(1 1.12)" font-size="9.96" letter-spacing=".45" text-anchor="middle">-400</text>
<text transform="translate(225.46 601.75) rotate(0) scale(1 1.12)" font-size="9.96" letter-spacing=".45" text-anchor="middle">-200</text>
<text transform="translate(325.46 601.75) rotate(0) scale(1 1.12)" font-size="9.96" letter-spacing=".45" text-anchor="middle">0</text>
<text transform="translate(425.46 601.75) rotate(0) scale(1 1.12)" font-size="9.96" letter-spacing=".45" text-anchor="middle">200</text>
<text transform="translate(525.46 601.75) rotate(0) scale(1 1.12)" font-size="9.96" letter-spacing=".45" text-anchor="middle">400</text>
<text transform="translate(45.42 525.55) rotate(-90) scale(1 1.12)" font-size="9.96" letter-spacing=".45" text-anchor="middle">80</text>
<text transform="translate(45.42 409.85) rotate(-90) scale(1 1.12)" font-size="9.96" letter-spacing=".45" text-anchor="middle">85</text>
<text transform="translate(45.42 294.16) rotate(-90) scale(1 1.12)" font-size="9.96" letter-spacing=".45" text-anchor="middle">90</text>
<text transform="translate(45.42 178.46) rotate(-90) scale(1 1.12)" font-size="9.96" letter-spacing=".45" text-anchor="middle">95</text>
<text transform="translate(45.42 62.77) rotate(-90) scale(1 1.12)" font-size="9.96" letter-spacing=".45" text-anchor="middle">100</text>
<text x="325.98" y="625.66" font-size="15.95" text-anchor="middle" fill="#000">Distance to peak summit</text>
<text x="21.51" y="314.02" font-size="15.95" text-anchor="middle" transform="rotate(-90 21.51 314.02)" fill="#000">Motif score</text>
<text x="325.98" y="31.9" font-size="21.55" text-anchor="middle" font-weight="bold" fill="#000">Top hit for each peak </text>
<path d="M851.5 47.81V580.24M1048.5 47.81V580.24" stroke="#fff" stroke-width="1" fill="none"/>
<path d="M699.76 362.67L1232.19 362.67" stroke="#cd1414" stroke-width="1.5" stroke-dasharray="6 6" stroke-linecap="round" fill="none"/>
<path d="M939.85 580.24L939.85 47.81" stroke="#006400" stroke-width="1.5" stroke-dasharray="6 6" stroke-linecap="round" fill="none"/>
<path d="M991.05 580.24L991.05 47.81" stroke="#006400" stroke-width="1.5" stroke-dasharray="6 6" stroke-linecap="round" fill="none"/>
<rect x="699.76" y="47.81" width="532.43" height="532.43" fill="none" stroke="#000" stroke-width=".75" stroke-linejoin="round"/>
<path d="M749.89 580.24H1181.01M749.89 580.24v5.98M857.67 580.24v5.98M965.45 580.24v5.98M1073.23 580.24v5.98M1181.01 580.24v5.98M699.76 167.9V542.45M699.76 542.45h-5.98M699.76 417.6h-5.98M699.76 292.75h-5.98M699.76 167.9h-5.98" stroke="#000" stroke-width=".75" fill="none"/>
<text transform="translate(749.89 601.75) rotate(0) scale(1 1.12)" font-size="9.96" letter-spacing=".45" text-anchor="middle">-400</text>
<text transform="translate(857.67 601.75) rotate(0) scale(1 1.12)" font-size="9.96" letter-spacing=".45" text-anchor="middle">-200</text>
<text transform="translate(965.45 601.75) rotate(0) scale(1 1.12)" font-size="9.96" letter-spacing=".45" text-anchor="middle">0</text>
<text transform="translate(1073.23 601.75) rotate(0) scale(1 1.12)" font-size="9.96" letter-spacing=".45" text-anchor="middle">200</text>
<text transform="translate(1181.01 601.75) rotate(0) scale(1 1.12)" font-size="9.96" letter-spacing=".45" text-anchor="middle">400</text>
<text transform="translate(685.42 542.45) rotate(-90) scale(1 1.12)" font-size="9.96" letter-spacing=".45" text-anchor="middle">80</text>
<text transform="translate(685.42 417.6) rotate(-90) scale(1 1.12)" font-size="9.96" letter-spacing=".45" text-anchor="middle">85</text>
<text transform="translate(685.42 292.75) rotate(-90) scale(1 1.12)" font-size="9.96" letter-spacing=".45" text-anchor="middle">90</text>
<text transform="translate(685.42 167.9) rotate(-90) scale(1 1.12)" font-size="9.96" letter-spacing=".45" text-anchor="middle">95</text>
<text x="965.98" y="625.66" font-size="15.95" text-anchor="middle" fill="#000">Distance to peak summit</text>
<text x="661.51" y="314.02" font-size="15.95" text-anchor="middle" transform="rotate(-90 661.51 314.02)" fill="#000">Motif score</text>
<text x="965.98" y="31.9" font-size="21.55" text-anchor="middle" font-weight="bold" fill="#000">Density heat map for the top hits</text>
<path d="M79.2 1200.5L80.8 1200.5L82.2 1200.5L83.8 1200.5L85.2 1200.5L86.8 1200.5L88.2 1200.5L89.8 1200.5L91.2 1200.5L92.8 1200.5L94.2 1200.4L95.8 1200.4L97.2 1200.4L98.8 1200.4L100.2 1200.4L101.8 1200.4L103.2 1200.4L104.8 1200.3L106.2 1200.3L107.8 1200.3L109.2 1200.3L110.8 1200.2L112.2 1200.2L113.8 1200.1L115.2 1200.1L116.8 1200L118.2 1200L119.8 1199.9L121.2 1199.9L122.8 1199.8L124.2 1199.8L125.8 1199.7L127.2 1199.6L128.8 1199.5L130.2 1199.4L131.8 1199.3L133.2 1199.2L134.8 1199L136.2 1198.9L137.8 1198.7L139.2 1198.5L140.8 1198.4L142.2 1198.2L143.8 1198L145.2 1197.7L146.8 1197.5L148.2 1197.3L149.8 1197L151.2 1196.7L152.8 1196.4L154.2 1196L155.8 1195.5L157.2 1195.1L158.8 1194.6L160.2 1194L161.8 1193.2L163.2 1192.4L164.8 1191.5L166.2 1190.6L167.8 1189.6L169.2 1188.7L170.8 1187.8L172.2 1186.9L173.8 1185.9L175.2 1184.9L176.8 1183.9L178.2 1182.9L179.8 1181.8L181.2 1180.7L182.8 1179.5L184.2 1178.3L185.8 1177L187.2 1175.7L188.8 1174.3L190.2 1172.8L191.8 1171.3L193.2 1169.6L194.8 1167.8L196.2 1165.8L197.8 1163.8L199.2 1161.9L200.8 1160.1L202.2 1158.6L203.8 1157.1L205.2 1155.7L206.8 1154.4L208.2 1153.2L209.8 1152.2L211.2 1151.3L212.8 1150.6L214.2 1150L215.8 1149.4L217.2 1148.8L218.8 1148.2L220.2 1147.4L221.8 1146.5L223.2 1145.3L224.8 1143.8L226.2 1142L227.8 1140L229.2 1138L230.8 1135.9L232.2 1133.7L233.8 1131.3L235.2 1128.9L236.8 1126.3L238.2 1123.8L239.8 1121.3L241.2 1118.8L242.8 1116.1L244.2 1113.5L245.8 1111L247.2 1108.8L248.8 1106.9L250.2 1105.3L251.8 1103.8L253.2 1102.4L254.8 1101L256.2 1099.6L257.8 1098L259.2 1096.4L260.8 1094.8L262.2 1093.2L263.8 1091.5L265.2 1089.9L266.8 1088.3L268.2 1086.8L269.8 1085.3L271.2 1084L272.8 1082.7L274.2 1081.6L275.8 1080.4L277.2 1079.2L278.8 1077.9L280.2 1076.6L281.8 1075L283.2 1073.3L284.8 1071.3L286.2 1068.9L287.8 1065.9L289.2 1062.6L290.8 1059L292.2 1055.5L293.8 1051.8L295.2 1047.9L296.8 1043.9L298.2 1039.8L299.8 1035.6L301.2 1031.5L302.8 1027.4L304.2 1023.2L305.8 1019L307.2 1014.8L308.8 1010.4L310.2 1005.8L311.8 1001.1L313.2 996.3L314.8 991.3L316.2 986.2L317.8 980.8L319.2 975L320.8 968.9L322.2 962.1L323.8 954.8L325.2 947.1L326.8 939.4L328.2 931.6L329.8 923.5L331.2 915.5L332.8 907.5L334.2 899.2L335.8 890.8L337.2 882.7L338.8 875.4L340.2 868.9L341.8 863.1L343.2 857.9L344.8 853.3L346.2 849.1L347.8 845.1L349.2 841L350.8 836.5L352.2 831.8L353.8 827L355.2 821.8L356.8 816.3L358.2 810.1L359.8 803.3L361.2 796.4L362.8 789.8L364.2 783.9L365.8 778.3L367.2 772.9L368.8 767.6L370.2 762.6L371.8 757.7L373.2 752.9L374.8 748.3L376.2 743.7L377.8 739.3L379.2 734.8L380.8 730.5L382.2 726.4L383.8 722.4L385.2 718.3L386.8 714.6L388.2 712L389.8 710.1L391.2 708.4L392.8 707.4L394.2 707.2L395.8 707.9L397.2 709.4L398.8 711.3L400.2 713.6L401.8 717L403.2 721L404.8 725.1L406.2 729.2L407.8 733.6L409.2 738.2L410.8 742.9L412.2 747.8L413.8 752.9L415.2 758.2L416.8 763.7L418.2 769.4L419.8 775.2L421.2 781.3L422.8 787.6L424.2 794.3L425.8 801.5L427.2 809.2L428.8 817.2L430.2 825.7L431.8 834.5L433.2 843.8L434.8 853.6L436.2 863.5L437.8 873.2L439.2 882.7L440.8 892.2L442.2 901.7L443.8 911L445.2 920.3L446.8 929.6L448.2 938.7L449.8 947.4L451.2 955.5L452.8 963.5L454.2 972.1L455.8 982.1L457.2 991.4L458.8 999.6L460.2 1007.3L461.8 1014.7L463.2 1021.9L464.8 1029.1L466.2 1036.4L467.8 1043.6L469.2 1050.8L470.8 1057.9L472.2 1064.9L473.8 1071.8L475.2 1078.5L476.8 1085.3L478.2 1091.9L479.8 1098.3L481.2 1104.1L482.8 1109.6L484.2 1114.8L485.8 1119.7L487.2 1124.4L488.8 1128.7L490.2 1132.9L491.8 1136.8L493.2 1140.6L494.8 1144.1L496.2 1147.6L497.8 1151L499.2 1154.2L500.8 1157.3L502.2 1160.2L503.8 1162.9L505.2 1165.6L506.8 1168.1L508.2 1170.6L509.8 1172.8L511.2 1174.9L512.8 1176.9L514.2 1178.7L515.8 1180.5L517.2 1182.1L518.8 1183.6L520.2 1185.1L521.8 1186.4L523.2 1187.7L524.8 1189L526.2 1190.1L527.8 1191.2L529.2 1192.3L530.8 1193.2L532.2 1194L533.8 1194.9L535.2 1195.7L536.8 1196.4L538.2 1197.1L539.8 1197.7L541.2 1198.2L542.8 1198.5L544.2 1198.8L545.8 1199.1L547.2 1199.3L548.8 1199.5L550.2 1199.7L551.8 1199.8L553.2 1199.9L554.8 1200L556.2 1200.1L557.8 1200.1L559.2 1200.2L560.8 1200.3L562.2 1200.3L563.8 1200.4L565.2 1200.4L566.8 1200.4L568.2 1200.5L569.8 1200.5L571.2 1200.5L572.7 1200.5Z" fill="#f5deb3" stroke="#000" stroke-width="1.125" stroke-linejoin="round"/>
<path d="M285.41 1220.24L285.41 687.81" stroke="#cd1414" stroke-width="1.5" stroke-dasharray="6 6" stroke-linecap="round" fill="none"/>
<rect x="59.76" y="687.81" width="532.43" height="532.43" fill="none" stroke="#000" stroke-width=".75" stroke-linejoin="round"/>
<path d="M135.46 1220.24H552M135.46 1220.24v5.98M239.6 1220.24v5.98M343.73 1220.24v5.98M447.87 1220.24v5.98M552 1220.24v5.98M59.76 718.76V1200.5M59.76 1200.5h-5.98M59.76 1131.68h-5.98M59.76 1062.86h-5.98M59.76 994.04h-5.98M59.76 925.22h-5.98M59.76 856.4h-5.98M59.76 787.58h-5.98M59.76 718.76h-5.98" stroke="#000" stroke-width=".75" fill="none"/>
<text transform="translate(135.46 1241.75) rotate(0) scale(1 1.12)" font-size="9.96" letter-spacing=".45" text-anchor="middle">80</text>
<text transform="translate(239.6 1241.75) rotate(0) scale(1 1.12)" font-size="9.96" letter-spacing=".45" text-anchor="middle">85</text>
<text transform="translate(343.73 1241.75) rotate(0) scale(1 1.12)" font-size="9.96" letter-spacing=".45" text-anchor="middle">90</text>
<text transform="translate(447.87 1241.75) rotate(0) scale(1 1.12)" font-size="9.96" letter-spacing=".45" text-anchor="middle">95</text>
<text transform="translate(552 1241.75) rotate(0) scale(1 1.12)" font-size="9.96" letter-spacing=".45" text-anchor="middle">100</text>
<text transform="translate(45.42 1200.5) rotate(-90) scale(1 1.12)" font-size="9.96" letter-spacing=".45" text-anchor="middle">0.00</text>
<text transform="translate(45.42 1131.68) rotate(-90) scale(1 1.12)" font-size="9.96" letter-spacing=".45" text-anchor="middle">0.02</text>
<text transform="translate(45.42 1062.86) rotate(-90) scale(1 1.12)" font-size="9.96" letter-spacing=".45" text-anchor="middle">0.04</text>
<text transform="translate(45.42 994.04) rotate(-90) scale(1 1.12)" font-size="9.96" letter-spacing=".45" text-anchor="middle">0.06</text>
<text transform="translate(45.42 925.22) rotate(-90) scale(1 1.12)" font-size="9.96" letter-spacing=".45" text-anchor="middle">0.08</text>
<text transform="translate(45.42 856.4) rotate(-90) scale(1 1.12)" font-size="9.96" letter-spacing=".45" text-anchor="middle">0.10</text>
<text transform="translate(45.42 787.58) rotate(-90) scale(1 1.12)" font-size="9.96" letter-spacing=".45" text-anchor="middle">0.12</text>
<text transform="translate(45.42 718.76) rotate(-90) scale(1 1.12)" font-size="9.96" letter-spacing=".45" text-anchor="middle">0.14</text>
<text x="325.98" y="1265.66" font-size="15.95" text-anchor="middle" fill="#000">Motif score</text>
<text x="21.51" y="954.02" font-size="15.95" text-anchor="middle" transform="rotate(-90 21.51 954.02)" fill="#000">Density</text>
<text x="325.98" y="671.9" font-size="21.55" text-anchor="middle" font-weight="bold" fill="#000">Motif score threshold: 87.200</text>
<path d="M719.1 1200.5L720.6 1200.5L722.1 1200.3L723.6 1200.1L725.1 1199.8L726.6 1199.5L728.1 1199.1L729.6 1198.6L731.1 1198L732.6 1197L734.1 1195.7L735.6 1194.3L737.1 1192.7L738.6 1190.8L740.1 1188.5L741.6 1185.9L743.1 1183L744.6 1179.9L746.1 1176.6L747.6 1172.8L749.1 1168.7L750.6 1164.3L752.1 1159.6L753.6 1154.4L755.1 1148.8L756.6 1142.9L758.1 1136.9L759.6 1130.5L761.1 1123.7L762.6 1117.1L764.1 1110.9L765.6 1105.2L767.1 1099.7L768.6 1094.5L770.1 1089.9L771.6 1086.1L773.1 1082.7L774.6 1079.6L776.1 1076.9L777.6 1074.6L779.1 1072.4L780.6 1070.5L782.1 1068.8L783.6 1067.4L785.1 1066.3L786.6 1065.3L788.1 1064.4L789.6 1063.7L791.1 1063L792.6 1062.5L794.1 1062L795.6 1061.6L797.1 1061.3L798.6 1061L800.1 1060.8L801.6 1060.5L803.1 1060.2L804.6 1059.8L806.1 1059.5L807.6 1059.2L809.1 1058.8L810.6 1058.5L812.1 1058.1L813.6 1057.6L815.1 1057L816.6 1056.3L818.1 1055.4L819.6 1054.4L821.1 1053.3L822.6 1052.1L824.1 1050.8L825.6 1049.5L827.1 1048.1L828.6 1046.6L830.1 1045L831.6 1043.3L833.1 1041.5L834.6 1039.8L836.1 1038.1L837.6 1036.4L839.1 1034.8L840.6 1033.1L842.1 1031.5L843.6 1029.8L845.1 1028.2L846.6 1026.5L848.1 1024.8L849.6 1023.2L851.1 1021.6L852.6 1020L854.1 1018.4L855.6 1016.7L857.1 1015L858.6 1013.2L860.1 1011.3L861.6 1009.3L863.1 1007.3L864.6 1005.2L866.1 1003L867.6 1000.8L869.1 998.6L870.6 996.2L872.1 993.7L873.6 991.1L875.1 988.4L876.6 985.8L878.1 983.2L879.6 980.6L881.1 978.2L882.6 975.9L884.1 973.5L885.6 971.2L887.1 968.9L888.6 966.8L890.1 964.7L891.6 962.7L893.1 960.9L894.6 959.1L896.1 957.5L897.6 955.9L899.1 954.2L900.6 952.5L902.1 950.7L903.6 948.9L905.1 947L906.6 945.2L908.1 943.3L909.6 941.4L911.1 939.3L912.6 937.1L914.1 934.8L915.6 932.3L917.1 929.5L918.6 926.4L920.1 923.1L921.6 919.5L923.1 915.7L924.6 911.8L926.1 907.5L927.6 902.9L929.1 898.1L930.6 892.9L932.1 887.4L933.6 881.5L935.1 875.1L936.6 868.2L938.1 860.8L939.6 853L941.1 844.7L942.6 835.6L944.1 825.7L945.6 814.6L947.1 802.7L948.6 791.2L950.1 779.8L951.6 768.6L953.1 758L954.6 747.7L956.1 738.2L957.6 730.2L959.1 723L960.6 717.2L962.1 713.3L963.6 709.9L965.1 707.6L966.6 707.2L968.1 708.8L969.6 711.7L971.1 715.2L972.6 720.5L974.1 728.1L975.6 736.5L977.1 745.9L978.6 756.6L980.1 767.3L981.6 776.7L983.1 785L984.6 793.2L986.1 802.1L987.6 811.7L989.1 821.6L990.6 831.2L992.1 839.9L993.6 848L995.1 855.8L996.6 863.1L998.1 869.9L999.6 876.1L1001.1 881.9L1002.6 887.4L1004.1 892.6L1005.6 897.6L1007.1 902.4L1008.6 907L1010.1 911.5L1011.6 915.8L1013.1 920L1014.6 924.1L1016.1 928.1L1017.6 932L1019.1 935.8L1020.6 939.5L1022.1 942.9L1023.6 946.2L1025.1 949.2L1026.6 952.1L1028.1 954.9L1029.6 957.8L1031.1 960.6L1032.6 963.4L1034.1 966.3L1035.6 969.1L1037.1 971.7L1038.6 974.3L1040.1 976.9L1041.6 979.5L1043.1 982L1044.6 984.4L1046.1 986.6L1047.6 988.7L1049.1 990.7L1050.6 992.5L1052.1 994.2L1053.6 995.9L1055.1 997.5L1056.6 999L1058.1 1000.4L1059.6 1001.9L1061.1 1003.2L1062.6 1004.5L1064.1 1005.8L1065.6 1007L1067.1 1008.2L1068.6 1009.4L1070.1 1010.6L1071.6 1011.8L1073.1 1013.1L1074.6 1014.4L1076.1 1015.7L1077.6 1017.1L1079.1 1018.4L1080.6 1019.8L1082.1 1021.1L1083.6 1022.4L1085.1 1023.6L1086.6 1024.8L1088.1 1025.9L1089.6 1027L1091.1 1028L1092.6 1029L1094.1 1030L1095.6 1030.9L1097.1 1031.9L1098.6 1032.8L1100.1 1033.7L1101.6 1034.6L1103.1 1035.5L1104.6 1036.4L1106.1 1037.3L1107.6 1038.3L1109.1 1039.2L1110.6 1040.1L1112.1 1041L1113.6 1041.8L1115.1 1042.6L1116.6 1043.4L1118.1 1044.1L1119.6 1044.7L1121.1 1045.3L1122.6 1045.9L1124.1 1046.5L1125.6 1047L1127.1 1047.5L1128.6 1048L1130.1 1048.5L1131.6 1049L1133.1 1049.5L1134.6 1049.9L1136.1 1050.3L1137.6 1050.8L1139.1 1051.3L1140.6 1052L1142.1 1052.8L1143.6 1053.8L1145.1 1054.9L1146.6 1056.1L1148.1 1057.5L1149.6 1059.1L1151.1 1060.9L1152.6 1063L1154.1 1065.5L1155.6 1068.6L1157.1 1072.2L1158.6 1076.1L1160.1 1080.2L1161.6 1084.7L1163.1 1089.5L1164.6 1094.7L1166.1 1100.2L1167.6 1106.2L1169.1 1112.7L1170.6 1119.5L1172.1 1126.3L1173.6 1132.9L1175.1 1139.7L1176.6 1146.5L1178.1 1152.9L1179.6 1158.5L1181.1 1163.6L1182.6 1168.3L1184.1 1172.6L1185.6 1176.5L1187.1 1180.1L1188.6 1183.5L1190.1 1186.6L1191.6 1189.3L1193.1 1191.4L1194.6 1193.2L1196.1 1194.9L1197.6 1196.2L1199.1 1197.2L1200.6 1197.9L1202.1 1198.6L1203.6 1199.1L1205.1 1199.5L1206.6 1199.8L1208.1 1200L1209.6 1200.3L1211.1 1200.4L1212.6 1200.5L1212.7 1200.5Z" fill="#f5deb3" stroke="#000" stroke-width="1.125" stroke-linejoin="round"/>
<path d="M945.77 1220.24L945.77 687.81" stroke="#006400" stroke-width="1.5" stroke-dasharray="6 6" stroke-linecap="round" fill="none"/>
<path d="M985.63 1220.24L985.63 687.81" stroke="#006400" stroke-width="1.5" stroke-dasharray="6 6" stroke-linecap="round" fill="none"/>
<rect x="699.76" y="687.81" width="532.43" height="532.43" fill="none" stroke="#000" stroke-width=".75" stroke-linejoin="round"/>
<path d="M714 1220.24H1217.4M714 1220.24v5.98M797.9 1220.24v5.98M881.8 1220.24v5.98M965.7 1220.24v5.98M1049.6 1220.24v5.98M1133.5 1220.24v5.98M1217.4 1220.24v5.98M699.76 754.6V1200.5M699.76 1200.5h-5.98M699.76 1089.03h-5.98M699.76 977.55h-5.98M699.76 866.08h-5.98M699.76 754.6h-5.98" stroke="#000" stroke-width=".75" fill="none"/>
<text transform="translate(714 1241.75) rotate(0) scale(1 1.12)" font-size="9.96" letter-spacing=".45" text-anchor="middle">-600</text>
<text transform="translate(797.9 1241.75) rotate(0) scale(1 1.12)" font-size="9.96" letter-spacing=".45" text-anchor="middle">-400</text>
<text transform="translate(881.8 1241.75) rotate(0) scale(1 1.12)" font-size="9.96" letter-spacing=".45" text-anchor="middle">-200</text>
<text transform="translate(965.7 1241.75) rotate(0) scale(1 1.12)" font-size="9.96" letter-spacing=".45" text-anchor="middle">0</text>
<text transform="translate(1049.6 1241.75) rotate(0) scale(1 1.12)" font-size="9.96" letter-spacing=".45" text-anchor="middle">200</text>
<text transform="translate(1133.5 1241.75) rotate(0) scale(1 1.12)" font-size="9.96" letter-spacing=".45" text-anchor="middle">400</text>
<text transform="translate(1217.4 1241.75) rotate(0) scale(1 1.12)" font-size="9.96" letter-spacing=".45" text-anchor="middle">600</text>
<text transform="translate(685.42 1200.5) rotate(-90) scale(1 1.12)" font-size="9.96" letter-spacing=".45" text-anchor="middle">0.0000</text>
<text transform="translate(685.42 1089.03) rotate(-90) scale(1 1.12)" font-size="9.96" letter-spacing=".45" text-anchor="middle">0.0005</text>
<text transform="translate(685.42 977.55) rotate(-90) scale(1 1.12)" font-size="9.96" letter-spacing=".45" text-anchor="middle">0.0010</text>
<text transform="translate(685.42 866.08) rotate(-90) scale(1 1.12)" font-size="9.96" letter-spacing=".45" text-anchor="middle">0.0015</text>
<text transform="translate(685.42 754.6) rotate(-90) scale(1 1.12)" font-size="9.96" letter-spacing=".45" text-anchor="middle">0.0020</text>
<text x="965.98" y="1265.66" font-size="15.95" text-anchor="middle" fill="#000">Distance to peak summit</text>
<text x="661.51" y="954.02" font-size="15.95" text-anchor="middle" transform="rotate(-90 661.51 954.02)" fill="#000">Density</text>
<text x="965.98" y="671.9" font-size="21.55" text-anchor="middle" font-weight="bold" fill="#000">Enrichment zone: 47.50</text>
<path d="M1017.5 703.2H1040.5" stroke="#006400" stroke-width="1.125" stroke-dasharray="1.125 3.375" stroke-linecap="round" fill="none"/>
<path d="M1017.5 719H1040.5" stroke="#d81e1e" stroke-width="1.125" stroke-dasharray="1.125 3.375" stroke-linecap="round" fill="none"/>
<circle cx="1028.8" cy="734.6" r="3" fill="#0000ff"/>
<text x="1052.3" y="707.4" font-size="12.9" text-anchor="start" fill="#000">enrichment zone = 47.5</text>
<text x="1052.3" y="723.3" font-size="12.9" text-anchor="start" fill="#000">motif score threshold = 87.200</text>
<text x="1052.3" y="739.1" font-size="12.9" text-anchor="start" fill="#000">centrality p-val = -0.4891</text>
</svg>
</div>
</body></html>
